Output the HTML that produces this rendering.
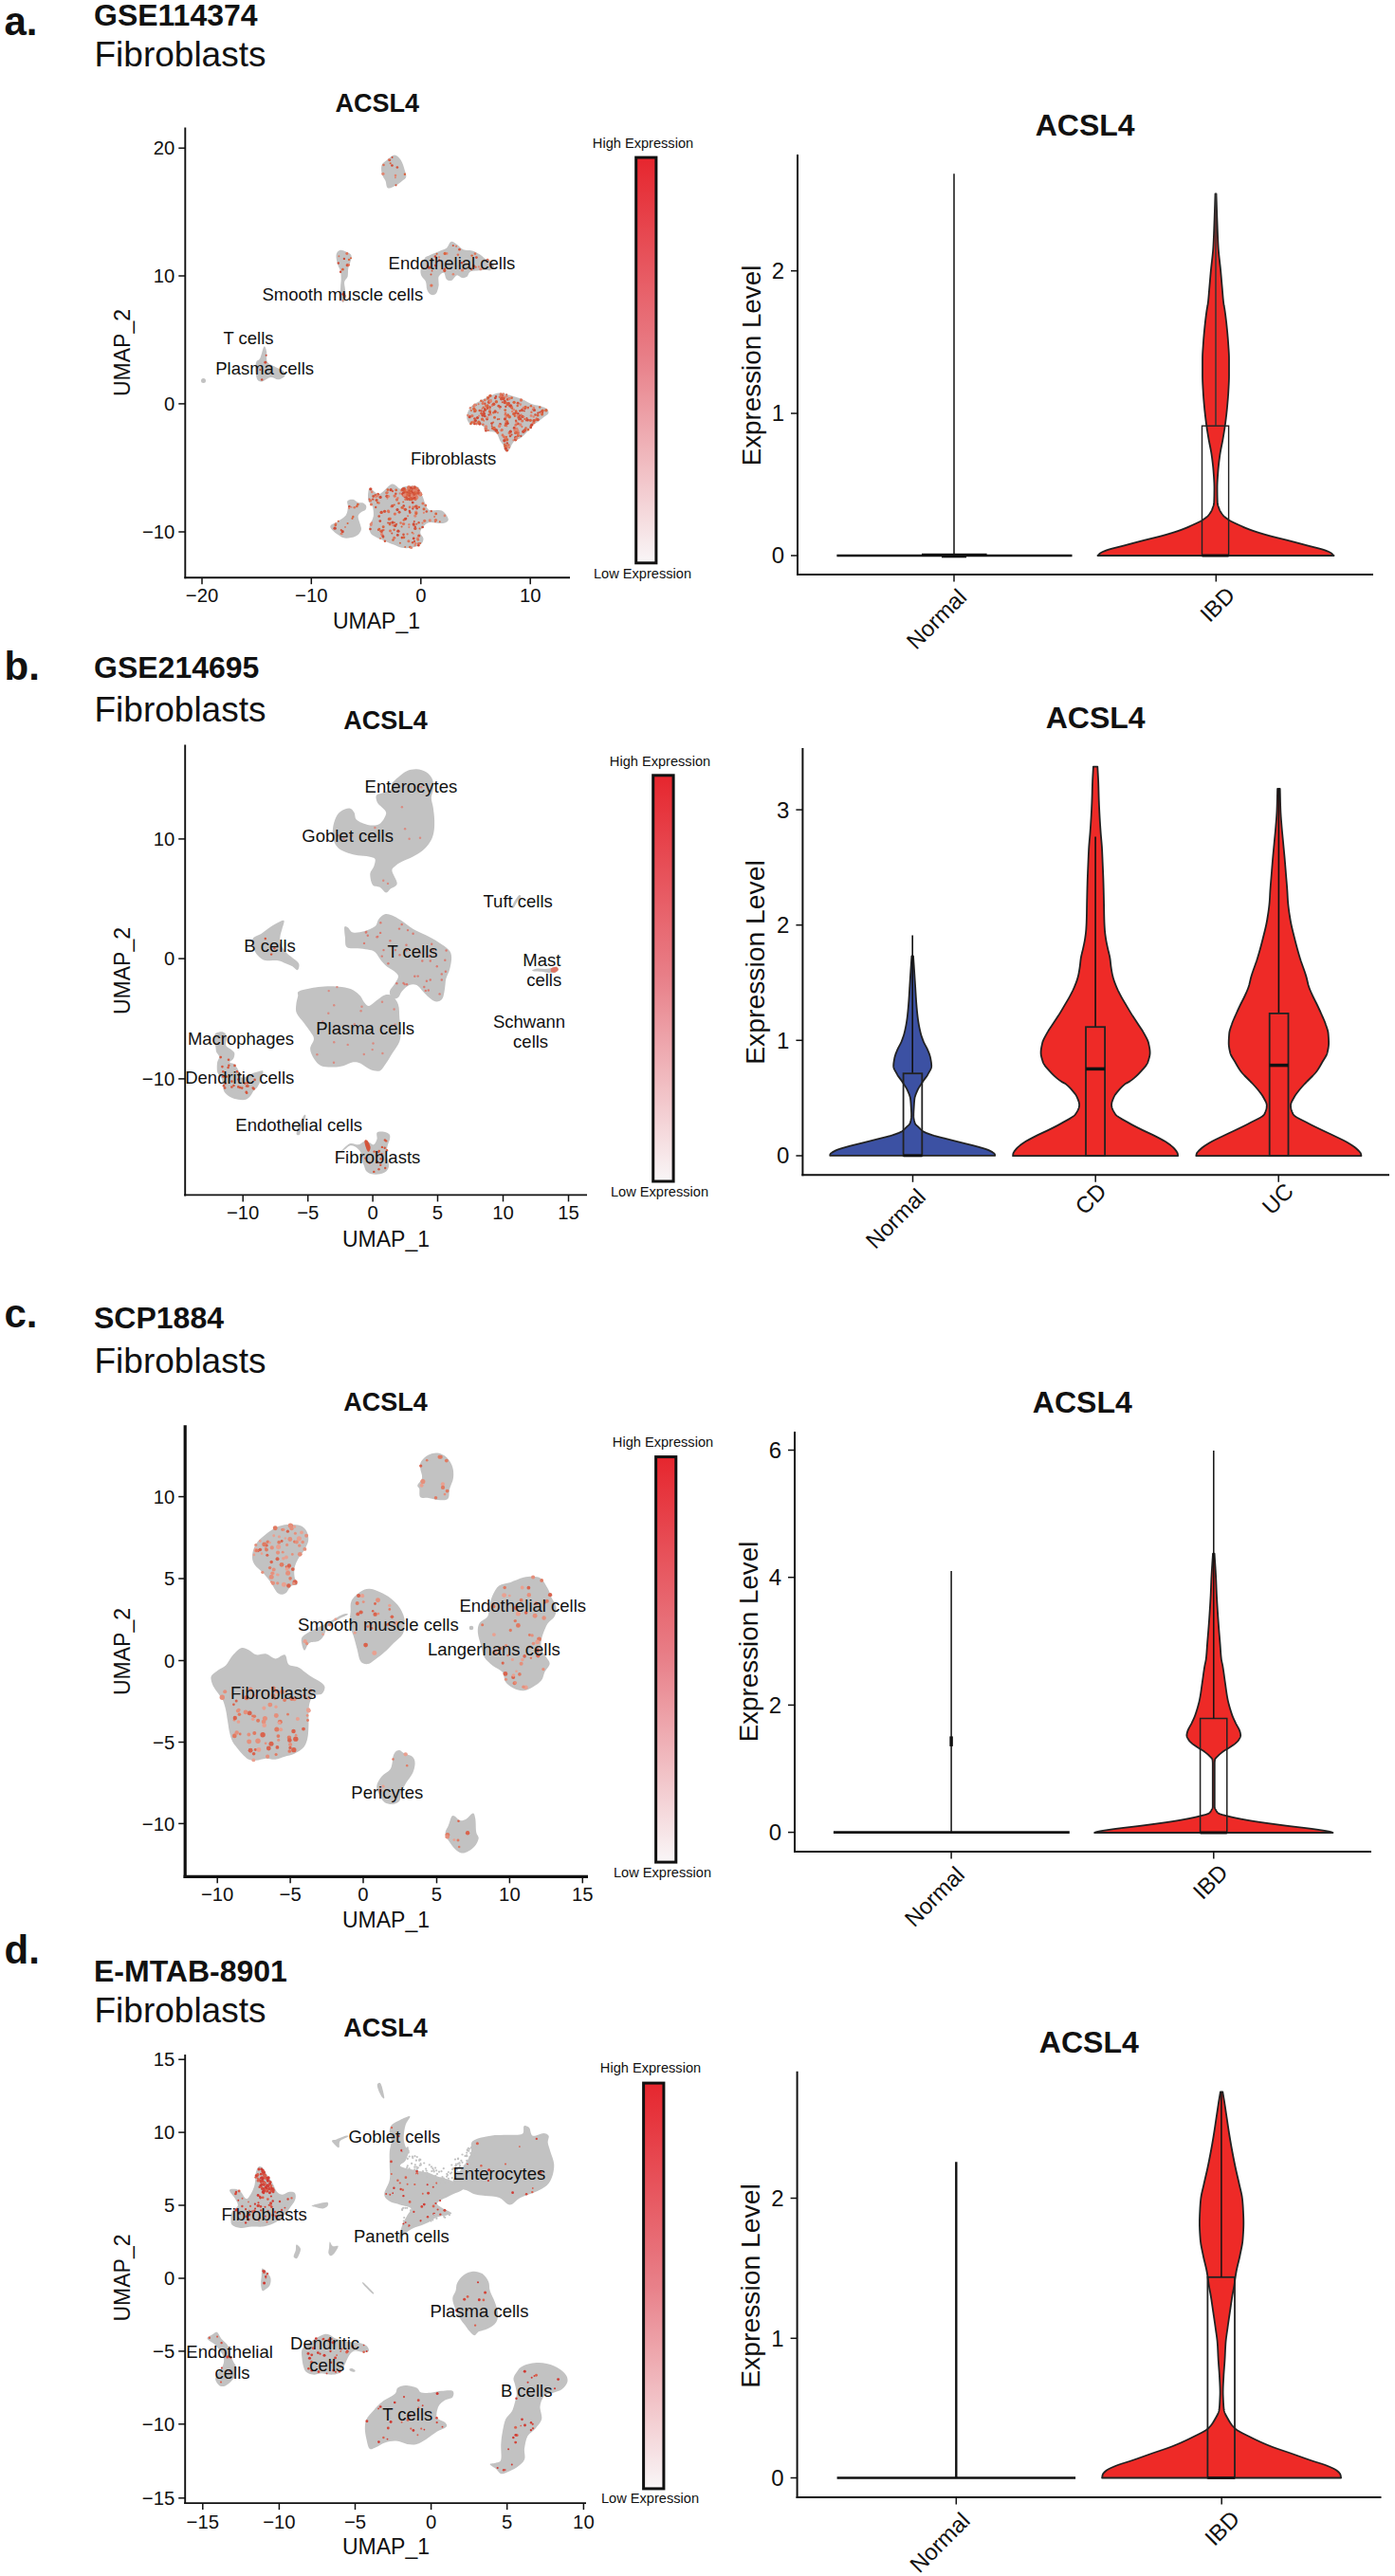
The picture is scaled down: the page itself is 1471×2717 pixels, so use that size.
<!DOCTYPE html>
<html><head><meta charset="utf-8"><style>
html,body{margin:0;padding:0;background:#fff;}
svg{display:block;font-family:"Liberation Sans", sans-serif;}
</style></head><body>
<svg width="1471" height="2717" viewBox="0 0 1471 2717">
<rect width="1471" height="2717" fill="#fff"/>
<text x="4.5" y="36.9" font-size="42" font-weight="bold" text-anchor="start" fill="#111111">a.</text>
<text x="99.0" y="27.2" font-size="32" font-weight="bold" text-anchor="start" fill="#111111">GSE114374</text>
<text x="99.5" y="69.5" font-size="37" text-anchor="start" fill="#111111">Fibroblasts</text>
<line x1="195.3" y1="134.4" x2="195.3" y2="610.2" stroke="#111111" stroke-width="1.9"/>
<line x1="194.4" y1="609.2" x2="601.0" y2="609.2" stroke="#111111" stroke-width="1.9"/>
<line x1="188.3" y1="156.2" x2="195.3" y2="156.2" stroke="#111111" stroke-width="1.5"/>
<text x="184.3" y="163.4" font-size="20.3" text-anchor="end" fill="#111111">20</text>
<line x1="188.3" y1="291.0" x2="195.3" y2="291.0" stroke="#111111" stroke-width="1.5"/>
<text x="184.3" y="298.2" font-size="20.3" text-anchor="end" fill="#111111">10</text>
<line x1="188.3" y1="425.9" x2="195.3" y2="425.9" stroke="#111111" stroke-width="1.5"/>
<text x="184.3" y="433.1" font-size="20.3" text-anchor="end" fill="#111111">0</text>
<line x1="188.3" y1="561.0" x2="195.3" y2="561.0" stroke="#111111" stroke-width="1.5"/>
<text x="184.3" y="568.2" font-size="20.3" text-anchor="end" fill="#111111">−10</text>
<line x1="213.0" y1="609.2" x2="213.0" y2="616.2" stroke="#111111" stroke-width="1.5"/>
<text x="213.0" y="634.5" font-size="20.3" text-anchor="middle" fill="#111111">−20</text>
<line x1="328.3" y1="609.2" x2="328.3" y2="616.2" stroke="#111111" stroke-width="1.5"/>
<text x="328.3" y="634.5" font-size="20.3" text-anchor="middle" fill="#111111">−10</text>
<line x1="443.8" y1="609.2" x2="443.8" y2="616.2" stroke="#111111" stroke-width="1.5"/>
<text x="443.8" y="634.5" font-size="20.3" text-anchor="middle" fill="#111111">0</text>
<line x1="559.2" y1="609.2" x2="559.2" y2="616.2" stroke="#111111" stroke-width="1.5"/>
<text x="559.2" y="634.5" font-size="20.3" text-anchor="middle" fill="#111111">10</text>
<text x="397.0" y="662.9" font-size="23" text-anchor="middle" fill="#111111">UMAP_1</text>
<text x="137.0" y="372.0" font-size="23" text-anchor="middle" transform="rotate(-90 137.0 372.0)" fill="#111111">UMAP_2</text>
<text x="397.8" y="117.7" font-size="27" font-weight="bold" text-anchor="middle" fill="#111111">ACSL4</text>
<defs><linearGradient id="g24" x1="0" y1="0" x2="0" y2="1"><stop offset="0" stop-color="#e6262e"/><stop offset="0.5" stop-color="#e88089"/><stop offset="1" stop-color="#f9f6f7"/></linearGradient></defs>
<rect x="670.7" y="166.1" width="21.2" height="427.7" fill="url(#g24)" stroke="#111" stroke-width="3"/>
<text x="678.0" y="155.6" font-size="14.6" text-anchor="middle" fill="#111111">High Expression</text>
<text x="677.5" y="609.6" font-size="14.6" text-anchor="middle" fill="#111111">Low Expression</text>
<path d="M402.4,174.4 C403.2,171.9 405.5,170.8 407.8,169.0 C410.1,167.2 413.5,163.5 416.0,163.5 C418.5,163.5 421.0,166.3 422.8,169.0 C424.6,171.7 426.0,176.9 426.9,179.9 C427.8,182.8 428.7,184.9 428.2,186.7 C427.8,188.5 425.8,189.4 424.2,190.8 C422.6,192.2 421.2,193.6 418.7,194.9 C416.2,196.1 411.2,199.1 409.2,198.4 C407.1,197.7 407.5,193.2 406.5,190.8 C405.4,188.4 403.6,186.7 402.9,184.0 C402.2,181.3 401.6,176.9 402.4,174.4Z" fill="#c2c2c2"/>
<g><circle cx="410.8" cy="168.8" r="1.42" fill="#d4553c"/><circle cx="417.5" cy="195.3" r="1.08" fill="#d4553c"/><circle cx="413.6" cy="166.0" r="0.98" fill="#cf4a36"/><circle cx="403.9" cy="183.3" r="1.65" fill="#e08570"/><circle cx="426.9" cy="183.7" r="1.22" fill="#d9643f"/><circle cx="409.9" cy="168.6" r="1.00" fill="#de7358"/><circle cx="416.9" cy="187.3" r="0.99" fill="#e08570"/><circle cx="418.9" cy="176.5" r="1.34" fill="#d4553c"/><circle cx="417.0" cy="185.1" r="1.30" fill="#e08570"/><circle cx="413.4" cy="174.5" r="1.37" fill="#cf4a36"/><circle cx="411.7" cy="172.2" r="1.05" fill="#d9643f"/><circle cx="404.5" cy="174.0" r="1.30" fill="#de7358"/></g>
<path d="M355.0,267.2 C355.7,265.8 357.0,263.9 359.1,263.8 C361.1,263.7 365.3,265.5 367.2,266.6 C369.2,267.6 370.3,268.3 370.6,270.0 C371.0,271.7 369.9,274.5 369.3,276.8 C368.7,279.0 367.7,281.1 367.2,283.6 C366.8,286.1 367.2,289.5 366.6,291.8 C365.9,294.0 363.6,295.2 363.2,297.2 C362.7,299.2 363.6,301.3 363.8,304.0 C364.1,306.7 364.9,311.1 364.5,313.5 C364.2,316.0 362.7,319.0 361.8,319.0 C360.9,319.0 359.5,316.3 359.1,313.5 C358.6,310.8 359.0,305.8 359.1,302.7 C359.2,299.5 359.7,297.2 359.7,294.5 C359.7,291.8 359.6,288.8 359.1,286.3 C358.5,283.8 357.1,281.8 356.3,279.5 C355.6,277.2 354.9,274.7 354.7,272.7 C354.5,270.6 354.3,268.7 355.0,267.2Z" fill="#c2c2c2"/>
<g><circle cx="366.3" cy="279.7" r="1.67" fill="#d4553c"/><circle cx="362.9" cy="272.9" r="1.18" fill="#cf4a36"/><circle cx="361.4" cy="316.9" r="0.97" fill="#e08570"/><circle cx="363.8" cy="312.1" r="1.15" fill="#de7358"/><circle cx="362.0" cy="310.2" r="1.65" fill="#cf4a36"/><circle cx="365.8" cy="267.4" r="1.48" fill="#de7358"/><circle cx="367.8" cy="279.5" r="1.21" fill="#de7358"/><circle cx="357.4" cy="270.3" r="0.96" fill="#de7358"/><circle cx="356.8" cy="277.5" r="1.21" fill="#cf4a36"/><circle cx="363.5" cy="312.6" r="1.55" fill="#e08570"/><circle cx="359.1" cy="286.7" r="1.19" fill="#cf4a36"/><circle cx="370.0" cy="272.2" r="1.05" fill="#d9643f"/><circle cx="368.0" cy="273.9" r="1.13" fill="#d9643f"/><circle cx="361.4" cy="284.2" r="1.35" fill="#d9643f"/></g>
<path d="M443.5,284.9 C444.0,281.8 446.0,275.3 447.6,272.7 C449.2,270.1 450.6,270.5 453.0,269.3 C455.5,268.0 459.6,266.4 462.6,265.2 C465.5,263.9 468.6,263.5 470.8,261.8 C472.9,260.1 473.7,255.7 475.5,255.0 C477.3,254.3 479.5,256.3 481.7,257.7 C483.8,259.1 485.7,262.0 488.5,263.2 C491.2,264.3 495.0,263.6 498.0,264.5 C500.9,265.4 503.9,267.2 506.2,268.6 C508.4,270.0 509.8,271.6 511.6,272.7 C513.4,273.8 515.5,274.1 517.1,275.4 C518.7,276.8 521.1,279.3 521.1,280.9 C521.1,282.4 518.9,284.3 517.1,284.9 C515.2,285.6 513.7,284.7 510.3,284.9 C506.8,285.2 499.6,285.2 496.6,286.3 C493.7,287.4 494.1,290.6 492.5,291.8 C491.0,292.9 488.9,293.3 487.1,293.1 C485.3,292.9 483.5,289.9 481.7,290.4 C479.8,290.8 478.0,295.2 476.2,295.8 C474.4,296.5 472.1,295.8 470.8,294.5 C469.4,293.1 469.4,288.1 468.0,287.7 C466.7,287.2 463.5,289.5 462.6,291.8 C461.7,294.0 463.0,298.3 462.6,301.3 C462.1,304.2 461.2,307.9 459.9,309.5 C458.5,311.1 456.0,311.5 454.4,310.8 C452.8,310.1 451.2,307.6 450.3,305.4 C449.4,303.1 449.9,299.5 449.0,297.2 C448.1,294.9 445.8,293.8 444.9,291.8 C444.0,289.7 443.1,288.1 443.5,284.9Z" fill="#c2c2c2"/>
<g><circle cx="497.1" cy="283.8" r="1.39" fill="#d4553c"/><circle cx="486.9" cy="277.2" r="1.22" fill="#cf4a36"/><circle cx="456.1" cy="274.0" r="0.95" fill="#d4553c"/><circle cx="487.5" cy="284.9" r="1.65" fill="#e08570"/><circle cx="463.1" cy="274.4" r="1.19" fill="#d4553c"/><circle cx="452.5" cy="282.2" r="1.67" fill="#cf4a36"/><circle cx="481.1" cy="259.8" r="0.99" fill="#de7358"/><circle cx="501.0" cy="281.7" r="1.45" fill="#e08570"/><circle cx="484.5" cy="263.2" r="1.33" fill="#d4553c"/><circle cx="502.4" cy="271.6" r="1.41" fill="#d4553c"/><circle cx="497.6" cy="269.6" r="1.20" fill="#d9643f"/><circle cx="471.1" cy="267.4" r="1.33" fill="#e08570"/><circle cx="469.1" cy="267.4" r="1.54" fill="#d9643f"/><circle cx="501.0" cy="267.6" r="1.31" fill="#de7358"/><circle cx="504.9" cy="281.4" r="1.06" fill="#e08570"/><circle cx="517.8" cy="280.0" r="1.64" fill="#de7358"/><circle cx="460.6" cy="267.7" r="1.06" fill="#d9643f"/><circle cx="514.1" cy="274.2" r="1.41" fill="#d4553c"/><circle cx="501.8" cy="281.7" r="1.05" fill="#de7358"/><circle cx="499.6" cy="280.8" r="1.49" fill="#d4553c"/><circle cx="454.9" cy="301.1" r="1.67" fill="#de7358"/><circle cx="455.6" cy="285.6" r="0.93" fill="#d4553c"/><circle cx="463.1" cy="271.3" r="1.10" fill="#e08570"/><circle cx="468.8" cy="285.4" r="1.56" fill="#d4553c"/><circle cx="514.2" cy="274.7" r="1.27" fill="#e08570"/><circle cx="506.8" cy="283.8" r="1.56" fill="#e08570"/><circle cx="454.5" cy="289.6" r="1.00" fill="#d4553c"/><circle cx="468.8" cy="283.9" r="1.34" fill="#d4553c"/><circle cx="451.1" cy="280.2" r="0.93" fill="#d4553c"/><circle cx="477.9" cy="289.2" r="1.30" fill="#e08570"/><circle cx="459.0" cy="270.5" r="1.31" fill="#cf4a36"/><circle cx="482.9" cy="268.8" r="1.32" fill="#de7358"/><circle cx="459.2" cy="280.0" r="1.23" fill="#cf4a36"/><circle cx="477.8" cy="259.0" r="1.10" fill="#d4553c"/><circle cx="460.0" cy="271.9" r="1.01" fill="#d9643f"/></g>
<path d="M270.3,381.8 C271.1,379.5 273.0,380.4 274.3,377.7 C275.7,374.9 277.3,366.5 278.4,365.4 C279.6,364.3 280.6,368.1 281.1,370.9 C281.7,373.6 280.4,379.0 282.0,381.8 C283.6,384.5 287.9,385.6 290.7,387.2 C293.5,388.8 297.3,389.7 298.9,391.3 C300.4,392.9 301.1,395.2 300.2,396.7 C299.3,398.2 295.9,400.1 293.4,400.3 C290.9,400.5 288.0,397.8 285.2,398.1 C282.5,398.4 279.3,401.7 277.1,402.2 C274.8,402.6 272.9,402.6 271.6,400.8 C270.3,399.0 269.7,394.5 269.4,391.3 C269.2,388.1 269.4,384.0 270.3,381.8Z" fill="#c2c2c2"/>
<g><circle cx="280.7" cy="374.7" r="1.02" fill="#cf4a36"/><circle cx="276.2" cy="400.4" r="1.22" fill="#cf4a36"/><circle cx="274.4" cy="390.0" r="1.08" fill="#cf4a36"/><circle cx="279.8" cy="382.3" r="1.46" fill="#cf4a36"/></g>
<circle cx="214.5" cy="401.5" r="2.5" fill="#c2c2c2"/>
<path d="M492.6,437.1 C493.1,435.0 494.5,431.8 495.8,430.0 C497.1,428.1 498.5,427.3 500.5,426.0 C502.5,424.7 505.5,423.3 507.6,422.1 C509.7,420.9 511.2,419.8 513.1,418.9 C515.1,418.0 517.3,417.3 519.4,416.6 C521.5,415.8 523.4,414.7 525.7,414.6 C528.1,414.5 531.0,415.2 533.6,415.8 C536.3,416.4 538.9,417.4 541.5,418.1 C544.1,418.9 547.0,419.6 549.4,420.5 C551.8,421.4 553.5,422.6 555.7,423.7 C557.9,424.7 560.3,426.0 562.8,426.8 C565.3,427.6 568.3,427.6 570.7,428.4 C573.1,429.2 575.8,430.2 577.0,431.5 C578.3,432.9 578.8,434.8 578.2,436.3 C577.5,437.7 574.7,438.9 573.1,440.2 C571.4,441.5 569.9,443.0 568.3,444.2 C566.8,445.3 565.2,446.0 563.6,447.3 C562.0,448.6 560.4,450.3 558.9,452.1 C557.3,453.8 555.8,455.9 554.1,457.6 C552.4,459.3 550.5,461.1 548.6,462.3 C546.8,463.5 544.5,463.6 543.1,464.7 C541.6,465.7 541.0,466.9 539.9,468.6 C538.9,470.3 538.0,473.7 536.8,474.9 C535.6,476.1 533.9,476.6 532.8,475.7 C531.8,474.8 531.4,471.2 530.5,469.4 C529.6,467.6 528.5,466.8 527.3,464.7 C526.1,462.6 525.1,458.4 523.4,456.8 C521.7,455.2 518.9,455.6 517.1,455.2 C515.2,454.8 513.5,455.2 512.3,454.4 C511.2,453.6 511.2,451.7 510.0,450.5 C508.8,449.3 506.9,447.8 505.2,447.3 C503.5,446.8 501.3,447.3 499.7,447.3 C498.1,447.3 497.0,448.1 495.8,447.3 C494.6,446.5 493.1,444.3 492.6,442.6 C492.1,440.9 492.1,439.2 492.6,437.1Z" fill="#c2c2c2"/>
<g><circle cx="521.0" cy="452.7" r="1.36" fill="#d4553c"/><circle cx="499.8" cy="431.2" r="1.68" fill="#d9643f"/><circle cx="515.8" cy="422.5" r="1.29" fill="#de7358"/><circle cx="527.4" cy="447.4" r="1.36" fill="#cf4a36"/><circle cx="529.0" cy="419.0" r="1.71" fill="#d4553c"/><circle cx="566.4" cy="442.3" r="1.22" fill="#e08570"/><circle cx="546.4" cy="447.0" r="1.11" fill="#cf4a36"/><circle cx="535.4" cy="425.5" r="1.23" fill="#d4553c"/><circle cx="513.6" cy="441.9" r="1.48" fill="#cf4a36"/><circle cx="548.8" cy="448.0" r="1.66" fill="#e08570"/><circle cx="519.0" cy="427.7" r="1.13" fill="#d9643f"/><circle cx="547.0" cy="439.3" r="1.23" fill="#d4553c"/><circle cx="529.5" cy="418.0" r="1.48" fill="#cf4a36"/><circle cx="516.7" cy="429.4" r="1.18" fill="#cf4a36"/><circle cx="508.5" cy="431.0" r="0.95" fill="#de7358"/><circle cx="539.4" cy="429.5" r="1.73" fill="#de7358"/><circle cx="511.3" cy="425.8" r="1.22" fill="#d4553c"/><circle cx="533.2" cy="445.3" r="1.11" fill="#e08570"/><circle cx="542.8" cy="438.7" r="1.19" fill="#d9643f"/><circle cx="543.7" cy="461.3" r="1.53" fill="#cf4a36"/><circle cx="546.3" cy="459.4" r="1.60" fill="#d9643f"/><circle cx="541.3" cy="464.3" r="0.96" fill="#e08570"/><circle cx="524.8" cy="442.2" r="0.99" fill="#d4553c"/><circle cx="546.2" cy="456.2" r="1.34" fill="#d4553c"/><circle cx="531.7" cy="418.9" r="1.70" fill="#e08570"/><circle cx="500.5" cy="446.7" r="1.55" fill="#cf4a36"/><circle cx="514.2" cy="419.1" r="1.16" fill="#d9643f"/><circle cx="512.4" cy="454.3" r="1.32" fill="#cf4a36"/><circle cx="517.2" cy="417.4" r="1.46" fill="#d9643f"/><circle cx="518.7" cy="449.3" r="0.96" fill="#d4553c"/><circle cx="534.2" cy="474.0" r="1.03" fill="#d9643f"/><circle cx="550.4" cy="432.4" r="1.36" fill="#cf4a36"/><circle cx="532.5" cy="461.5" r="1.75" fill="#e08570"/><circle cx="531.9" cy="464.7" r="1.73" fill="#cf4a36"/><circle cx="556.6" cy="430.6" r="1.24" fill="#e08570"/><circle cx="562.8" cy="445.7" r="1.66" fill="#de7358"/><circle cx="534.2" cy="416.1" r="0.95" fill="#cf4a36"/><circle cx="550.9" cy="439.4" r="1.53" fill="#cf4a36"/><circle cx="522.1" cy="433.9" r="1.63" fill="#d4553c"/><circle cx="520.4" cy="435.3" r="1.27" fill="#d9643f"/><circle cx="517.4" cy="437.3" r="1.26" fill="#e08570"/><circle cx="516.6" cy="417.7" r="1.48" fill="#d9643f"/><circle cx="514.0" cy="430.8" r="1.36" fill="#d9643f"/><circle cx="529.2" cy="416.4" r="1.56" fill="#cf4a36"/><circle cx="539.6" cy="458.6" r="0.99" fill="#cf4a36"/><circle cx="531.2" cy="460.6" r="1.47" fill="#de7358"/><circle cx="534.2" cy="470.3" r="1.39" fill="#d9643f"/><circle cx="533.0" cy="435.6" r="1.19" fill="#de7358"/><circle cx="527.4" cy="429.2" r="1.34" fill="#cf4a36"/><circle cx="499.1" cy="445.2" r="1.60" fill="#e08570"/><circle cx="504.6" cy="426.3" r="1.02" fill="#de7358"/><circle cx="540.2" cy="434.1" r="1.24" fill="#e08570"/><circle cx="567.1" cy="438.0" r="1.55" fill="#d9643f"/><circle cx="524.9" cy="435.3" r="1.00" fill="#de7358"/><circle cx="541.8" cy="436.6" r="1.50" fill="#e08570"/><circle cx="511.1" cy="431.2" r="1.15" fill="#cf4a36"/><circle cx="547.9" cy="441.0" r="1.20" fill="#d4553c"/><circle cx="503.5" cy="440.6" r="1.56" fill="#cf4a36"/><circle cx="532.7" cy="442.0" r="1.58" fill="#d9643f"/><circle cx="505.8" cy="446.5" r="1.50" fill="#cf4a36"/><circle cx="546.2" cy="446.9" r="1.30" fill="#d4553c"/><circle cx="501.1" cy="432.9" r="1.71" fill="#d9643f"/><circle cx="525.8" cy="428.3" r="1.43" fill="#d4553c"/><circle cx="516.5" cy="433.9" r="1.62" fill="#d9643f"/><circle cx="533.3" cy="428.9" r="1.15" fill="#cf4a36"/><circle cx="552.9" cy="433.4" r="0.96" fill="#cf4a36"/><circle cx="499.6" cy="428.5" r="1.29" fill="#de7358"/><circle cx="521.5" cy="440.3" r="1.50" fill="#d9643f"/><circle cx="535.0" cy="426.8" r="1.57" fill="#d9643f"/><circle cx="512.4" cy="428.1" r="1.56" fill="#de7358"/><circle cx="534.1" cy="470.2" r="0.99" fill="#e08570"/><circle cx="505.1" cy="438.6" r="1.12" fill="#e08570"/><circle cx="497.8" cy="438.6" r="1.67" fill="#de7358"/><circle cx="572.3" cy="434.7" r="1.10" fill="#e08570"/><circle cx="549.5" cy="437.7" r="1.25" fill="#de7358"/><circle cx="530.5" cy="421.2" r="1.01" fill="#d4553c"/><circle cx="510.4" cy="436.4" r="1.61" fill="#cf4a36"/><circle cx="509.4" cy="447.7" r="1.31" fill="#de7358"/><circle cx="495.2" cy="439.7" r="1.60" fill="#cf4a36"/><circle cx="569.5" cy="435.3" r="1.17" fill="#e08570"/><circle cx="543.6" cy="463.8" r="1.71" fill="#d4553c"/><circle cx="533.3" cy="473.1" r="1.72" fill="#cf4a36"/><circle cx="572.3" cy="433.1" r="1.51" fill="#d9643f"/><circle cx="544.6" cy="434.6" r="1.20" fill="#de7358"/><circle cx="559.7" cy="451.0" r="1.36" fill="#cf4a36"/><circle cx="557.0" cy="429.7" r="1.00" fill="#d4553c"/><circle cx="533.8" cy="447.9" r="1.08" fill="#cf4a36"/><circle cx="515.3" cy="419.7" r="1.02" fill="#cf4a36"/><circle cx="507.4" cy="422.7" r="1.32" fill="#d9643f"/><circle cx="549.5" cy="422.0" r="1.63" fill="#de7358"/><circle cx="516.5" cy="430.9" r="1.15" fill="#de7358"/><circle cx="509.7" cy="429.7" r="1.14" fill="#d9643f"/><circle cx="514.2" cy="429.6" r="1.37" fill="#d4553c"/><circle cx="501.4" cy="443.6" r="1.61" fill="#cf4a36"/><circle cx="517.7" cy="421.9" r="1.10" fill="#e08570"/><circle cx="536.5" cy="425.5" r="1.43" fill="#d4553c"/><circle cx="545.7" cy="427.9" r="1.24" fill="#d9643f"/><circle cx="562.7" cy="439.6" r="1.25" fill="#e08570"/><circle cx="519.3" cy="427.0" r="1.59" fill="#e08570"/><circle cx="534.0" cy="439.5" r="1.59" fill="#e08570"/><circle cx="505.8" cy="447.2" r="1.47" fill="#cf4a36"/><circle cx="552.1" cy="439.6" r="1.17" fill="#de7358"/><circle cx="528.4" cy="417.7" r="1.55" fill="#de7358"/><circle cx="528.1" cy="415.7" r="1.57" fill="#de7358"/><circle cx="547.8" cy="438.5" r="1.27" fill="#d4553c"/><circle cx="529.8" cy="424.2" r="1.04" fill="#d4553c"/><circle cx="532.1" cy="424.5" r="0.96" fill="#e08570"/><circle cx="526.6" cy="449.6" r="1.70" fill="#e08570"/><circle cx="507.3" cy="435.9" r="1.08" fill="#d9643f"/><circle cx="534.6" cy="463.8" r="1.73" fill="#d9643f"/><circle cx="519.5" cy="451.7" r="1.46" fill="#d4553c"/><circle cx="559.9" cy="428.2" r="1.27" fill="#d9643f"/><circle cx="511.3" cy="439.0" r="1.36" fill="#cf4a36"/><circle cx="523.4" cy="423.7" r="1.73" fill="#d9643f"/><circle cx="543.9" cy="448.2" r="1.45" fill="#de7358"/><circle cx="548.2" cy="433.4" r="1.15" fill="#cf4a36"/><circle cx="549.0" cy="441.9" r="1.30" fill="#d4553c"/><circle cx="532.4" cy="441.9" r="1.45" fill="#cf4a36"/><circle cx="526.9" cy="418.7" r="1.24" fill="#de7358"/><circle cx="500.5" cy="441.6" r="1.36" fill="#d4553c"/><circle cx="571.5" cy="433.8" r="1.53" fill="#d4553c"/><circle cx="497.3" cy="445.4" r="1.25" fill="#d9643f"/><circle cx="545.2" cy="456.9" r="1.03" fill="#d9643f"/><circle cx="504.9" cy="445.3" r="1.69" fill="#d9643f"/><circle cx="543.3" cy="452.2" r="1.14" fill="#de7358"/><circle cx="502.5" cy="447.0" r="1.46" fill="#de7358"/><circle cx="537.2" cy="456.7" r="1.67" fill="#de7358"/><circle cx="542.0" cy="436.6" r="1.56" fill="#cf4a36"/><circle cx="512.3" cy="452.2" r="1.72" fill="#de7358"/><circle cx="562.8" cy="430.1" r="1.46" fill="#e08570"/><circle cx="511.6" cy="432.4" r="1.45" fill="#cf4a36"/><circle cx="536.5" cy="469.3" r="1.05" fill="#d9643f"/><circle cx="518.6" cy="446.6" r="1.38" fill="#cf4a36"/><circle cx="542.6" cy="450.6" r="1.11" fill="#e08570"/><circle cx="553.2" cy="442.1" r="1.00" fill="#d9643f"/><circle cx="527.0" cy="430.7" r="0.95" fill="#e08570"/><circle cx="542.1" cy="451.4" r="1.36" fill="#cf4a36"/><circle cx="496.4" cy="447.1" r="1.27" fill="#d9643f"/><circle cx="548.8" cy="426.6" r="1.28" fill="#e08570"/><circle cx="544.7" cy="445.6" r="1.46" fill="#e08570"/><circle cx="507.6" cy="433.5" r="1.19" fill="#d4553c"/><circle cx="533.5" cy="447.5" r="1.25" fill="#cf4a36"/><circle cx="556.4" cy="443.0" r="1.55" fill="#cf4a36"/><circle cx="515.0" cy="454.0" r="1.04" fill="#de7358"/><circle cx="553.5" cy="430.8" r="1.39" fill="#cf4a36"/><circle cx="575.8" cy="432.7" r="1.70" fill="#d9643f"/><circle cx="499.9" cy="445.6" r="1.08" fill="#d9643f"/><circle cx="509.0" cy="438.3" r="1.43" fill="#cf4a36"/><circle cx="551.9" cy="455.2" r="1.74" fill="#cf4a36"/><circle cx="533.0" cy="447.0" r="0.95" fill="#d4553c"/><circle cx="530.0" cy="458.9" r="1.41" fill="#de7358"/><circle cx="560.1" cy="438.5" r="1.42" fill="#e08570"/><circle cx="572.1" cy="435.7" r="1.06" fill="#d4553c"/><circle cx="538.3" cy="455.2" r="1.66" fill="#cf4a36"/><circle cx="501.8" cy="427.2" r="1.04" fill="#d4553c"/><circle cx="556.9" cy="453.2" r="1.33" fill="#d9643f"/><circle cx="510.2" cy="434.1" r="1.29" fill="#d4553c"/><circle cx="544.1" cy="443.7" r="1.18" fill="#d4553c"/><circle cx="537.0" cy="420.6" r="1.32" fill="#d4553c"/><circle cx="538.6" cy="427.8" r="1.64" fill="#d4553c"/><circle cx="541.8" cy="432.1" r="1.30" fill="#e08570"/><circle cx="534.6" cy="444.6" r="1.59" fill="#d9643f"/><circle cx="542.1" cy="424.3" r="1.61" fill="#d9643f"/><circle cx="535.3" cy="421.3" r="1.46" fill="#d4553c"/><circle cx="534.6" cy="475.2" r="1.40" fill="#d4553c"/><circle cx="546.3" cy="436.3" r="1.27" fill="#cf4a36"/><circle cx="528.7" cy="454.1" r="1.25" fill="#de7358"/><circle cx="535.5" cy="437.8" r="1.66" fill="#d9643f"/><circle cx="543.5" cy="456.7" r="1.44" fill="#d4553c"/><circle cx="522.4" cy="434.6" r="1.07" fill="#cf4a36"/><circle cx="549.3" cy="459.9" r="1.08" fill="#cf4a36"/><circle cx="551.6" cy="430.3" r="1.13" fill="#de7358"/><circle cx="532.2" cy="468.7" r="1.14" fill="#d9643f"/><circle cx="554.5" cy="451.4" r="1.23" fill="#d9643f"/><circle cx="520.7" cy="426.2" r="1.73" fill="#d4553c"/><circle cx="509.3" cy="423.8" r="1.07" fill="#de7358"/><circle cx="555.4" cy="441.2" r="1.10" fill="#d4553c"/><circle cx="565.7" cy="441.3" r="1.13" fill="#de7358"/><circle cx="532.3" cy="423.3" r="1.43" fill="#cf4a36"/><circle cx="542.9" cy="454.1" r="1.63" fill="#e08570"/><circle cx="547.5" cy="442.3" r="1.20" fill="#d4553c"/><circle cx="569.2" cy="429.4" r="1.27" fill="#d9643f"/><circle cx="514.0" cy="440.5" r="1.31" fill="#e08570"/><circle cx="569.2" cy="434.6" r="0.95" fill="#cf4a36"/><circle cx="514.1" cy="427.9" r="1.53" fill="#d9643f"/><circle cx="537.0" cy="420.8" r="1.41" fill="#e08570"/><circle cx="510.2" cy="443.7" r="0.96" fill="#de7358"/><circle cx="537.3" cy="439.7" r="1.71" fill="#d9643f"/><circle cx="536.6" cy="471.6" r="1.54" fill="#e08570"/><circle cx="523.0" cy="418.1" r="1.17" fill="#cf4a36"/><circle cx="550.4" cy="450.1" r="1.03" fill="#de7358"/><circle cx="537.7" cy="428.0" r="1.59" fill="#cf4a36"/><circle cx="532.2" cy="424.6" r="1.70" fill="#d4553c"/><circle cx="532.8" cy="448.9" r="1.13" fill="#d9643f"/><circle cx="522.8" cy="453.6" r="1.61" fill="#cf4a36"/><circle cx="532.7" cy="432.6" r="1.39" fill="#d9643f"/><circle cx="559.3" cy="443.3" r="1.58" fill="#d9643f"/><circle cx="515.5" cy="437.6" r="1.15" fill="#cf4a36"/><circle cx="550.7" cy="444.0" r="1.60" fill="#de7358"/><circle cx="523.2" cy="454.6" r="1.20" fill="#cf4a36"/><circle cx="529.3" cy="453.5" r="1.48" fill="#de7358"/><circle cx="505.7" cy="433.1" r="1.26" fill="#d4553c"/><circle cx="514.0" cy="420.8" r="1.06" fill="#d9643f"/><circle cx="508.5" cy="442.2" r="1.58" fill="#d9643f"/><circle cx="544.7" cy="462.3" r="1.49" fill="#e08570"/><circle cx="538.0" cy="459.9" r="1.30" fill="#d4553c"/><circle cx="540.1" cy="430.8" r="1.13" fill="#d9643f"/><circle cx="533.1" cy="448.6" r="1.34" fill="#d9643f"/><circle cx="552.6" cy="429.7" r="1.08" fill="#e08570"/><circle cx="564.6" cy="443.2" r="1.40" fill="#de7358"/><circle cx="564.5" cy="437.5" r="1.28" fill="#d4553c"/><circle cx="508.1" cy="436.6" r="1.47" fill="#d4553c"/><circle cx="544.8" cy="456.3" r="1.70" fill="#de7358"/><circle cx="534.0" cy="460.9" r="1.06" fill="#d9643f"/><circle cx="554.1" cy="452.8" r="1.22" fill="#de7358"/><circle cx="516.9" cy="435.5" r="1.15" fill="#d4553c"/><circle cx="563.4" cy="432.5" r="1.62" fill="#cf4a36"/><circle cx="567.3" cy="435.7" r="1.11" fill="#cf4a36"/><circle cx="560.4" cy="434.8" r="1.20" fill="#de7358"/><circle cx="526.7" cy="448.5" r="1.27" fill="#e08570"/><circle cx="496.9" cy="433.0" r="0.95" fill="#d9643f"/><circle cx="563.0" cy="443.6" r="1.57" fill="#d4553c"/><circle cx="545.0" cy="452.3" r="1.45" fill="#e08570"/><circle cx="546.1" cy="425.2" r="1.48" fill="#d4553c"/><circle cx="528.7" cy="420.7" r="1.70" fill="#d4553c"/><circle cx="559.9" cy="448.9" r="1.15" fill="#de7358"/><circle cx="535.2" cy="446.5" r="1.61" fill="#cf4a36"/><circle cx="530.8" cy="415.5" r="1.26" fill="#e08570"/><circle cx="539.6" cy="419.7" r="1.33" fill="#d9643f"/><circle cx="546.3" cy="440.7" r="0.95" fill="#d4553c"/><circle cx="511.3" cy="422.0" r="1.33" fill="#de7358"/><circle cx="554.2" cy="429.4" r="1.54" fill="#d9643f"/><circle cx="571.6" cy="437.0" r="1.55" fill="#d9643f"/><circle cx="546.4" cy="457.9" r="1.32" fill="#de7358"/><circle cx="545.5" cy="438.4" r="1.20" fill="#e08570"/><circle cx="534.2" cy="418.2" r="1.24" fill="#e08570"/><circle cx="554.9" cy="443.3" r="1.08" fill="#d4553c"/><circle cx="523.7" cy="454.0" r="1.46" fill="#cf4a36"/><circle cx="533.4" cy="462.1" r="1.31" fill="#de7358"/><circle cx="559.8" cy="449.2" r="1.18" fill="#d4553c"/><circle cx="545.8" cy="454.4" r="1.59" fill="#e08570"/><circle cx="521.0" cy="451.6" r="1.74" fill="#d9643f"/><circle cx="544.1" cy="433.5" r="1.29" fill="#d9643f"/><circle cx="524.8" cy="456.4" r="1.43" fill="#d9643f"/><circle cx="561.7" cy="431.9" r="0.95" fill="#de7358"/><circle cx="515.6" cy="424.2" r="1.69" fill="#d4553c"/><circle cx="517.3" cy="423.2" r="1.67" fill="#e08570"/><circle cx="560.8" cy="448.1" r="1.57" fill="#cf4a36"/><circle cx="522.3" cy="419.8" r="1.39" fill="#cf4a36"/><circle cx="544.5" cy="456.0" r="1.32" fill="#d9643f"/><circle cx="493.4" cy="438.1" r="1.38" fill="#e08570"/><circle cx="512.5" cy="450.0" r="1.67" fill="#e08570"/><circle cx="520.1" cy="445.5" r="1.11" fill="#d9643f"/><circle cx="509.1" cy="425.6" r="1.51" fill="#de7358"/><circle cx="542.1" cy="436.5" r="1.58" fill="#d9643f"/><circle cx="534.8" cy="467.5" r="1.25" fill="#cf4a36"/><circle cx="543.7" cy="435.7" r="1.37" fill="#d4553c"/><circle cx="500.7" cy="427.1" r="1.65" fill="#e08570"/><circle cx="534.2" cy="449.3" r="1.16" fill="#de7358"/><circle cx="567.1" cy="442.6" r="1.71" fill="#d4553c"/><circle cx="500.3" cy="434.1" r="1.13" fill="#d4553c"/><circle cx="526.3" cy="442.0" r="1.07" fill="#d9643f"/><circle cx="495.9" cy="430.2" r="1.23" fill="#e08570"/><circle cx="553.3" cy="454.1" r="1.74" fill="#d4553c"/><circle cx="501.3" cy="434.0" r="0.95" fill="#d9643f"/><circle cx="550.5" cy="432.9" r="1.42" fill="#d4553c"/><circle cx="532.9" cy="437.3" r="1.26" fill="#de7358"/><circle cx="533.8" cy="424.9" r="1.14" fill="#d9643f"/><circle cx="532.7" cy="470.4" r="1.59" fill="#d9643f"/><circle cx="530.9" cy="420.5" r="1.70" fill="#d4553c"/></g>
<path d="M348.6,554.2 C349.5,552.6 353.4,551.7 356.1,549.9 C358.8,548.1 362.9,545.9 364.7,543.4 C366.5,540.9 366.6,537.3 366.9,534.8 C367.2,532.3 365.4,529.7 366.3,528.4 C367.2,527.0 370.4,526.5 372.3,526.8 C374.1,527.0 375.8,529.4 377.6,530.0 C379.4,530.6 381.6,529.9 383.0,530.5 C384.4,531.2 385.9,532.5 386.2,533.8 C386.6,535.0 386.1,537.0 385.2,538.1 C384.3,539.1 382.1,539.1 380.9,540.2 C379.6,541.3 377.8,542.4 377.6,544.5 C377.5,546.7 379.2,550.8 379.8,553.1 C380.3,555.4 381.2,556.7 380.9,558.5 C380.5,560.3 379.4,562.4 377.6,563.9 C375.8,565.3 372.8,566.6 370.1,567.1 C367.4,567.6 364.7,568.4 361.5,567.1 C358.3,565.8 352.9,561.7 350.8,559.6 C348.6,557.4 347.7,555.8 348.6,554.2Z" fill="#c2c2c2"/>
<g><circle cx="372.3" cy="545.0" r="1.18" fill="#d9643f"/><circle cx="366.6" cy="552.1" r="1.02" fill="#d9643f"/><circle cx="376.3" cy="534.0" r="1.26" fill="#d9643f"/><circle cx="359.8" cy="559.2" r="1.11" fill="#d4553c"/><circle cx="360.6" cy="563.2" r="1.00" fill="#e08570"/><circle cx="373.8" cy="535.3" r="1.28" fill="#de7358"/><circle cx="353.1" cy="557.2" r="1.67" fill="#cf4a36"/><circle cx="359.5" cy="562.9" r="0.95" fill="#de7358"/><circle cx="354.0" cy="552.6" r="1.25" fill="#e08570"/><circle cx="368.4" cy="534.3" r="1.25" fill="#cf4a36"/><circle cx="356.8" cy="549.8" r="1.02" fill="#d9643f"/><circle cx="368.2" cy="536.1" r="1.05" fill="#e08570"/><circle cx="371.5" cy="546.8" r="1.12" fill="#d9643f"/><circle cx="353.8" cy="553.8" r="1.40" fill="#d9643f"/><circle cx="370.5" cy="534.9" r="0.96" fill="#e08570"/><circle cx="364.0" cy="555.9" r="0.95" fill="#de7358"/><circle cx="361.2" cy="560.7" r="1.58" fill="#cf4a36"/><circle cx="377.3" cy="532.1" r="1.43" fill="#d9643f"/></g>
<path d="M388.4,518.7 C388.7,516.6 388.6,515.1 390.5,515.5 C392.5,515.8 396.5,521.7 400.2,520.9 C404.0,520.1 409.5,511.5 413.1,510.6 C416.7,509.7 419.6,515.0 421.7,515.5 C423.9,515.9 423.0,513.7 426.0,513.3 C429.1,513.0 436.8,511.7 440.0,513.3 C443.2,514.9 443.9,520.0 445.4,523.0 C446.8,526.1 447.3,529.1 448.6,531.6 C449.9,534.1 450.0,536.9 452.9,538.1 C455.8,539.2 462.5,537.0 465.8,538.6 C469.1,540.2 472.6,545.5 472.8,547.7 C473.0,550.0 470.2,551.5 466.9,552.0 C463.6,552.6 456.3,550.4 452.9,551.0 C449.5,551.5 448.1,553.5 446.5,555.3 C444.8,557.1 443.2,559.6 443.2,561.7 C443.2,563.9 446.5,566.0 446.5,568.2 C446.5,570.3 445.4,573.0 443.2,574.6 C441.1,576.2 436.8,577.3 433.5,577.8 C430.3,578.4 426.9,578.4 423.9,577.8 C420.8,577.3 418.9,576.1 415.3,574.6 C411.7,573.2 405.9,570.9 402.4,569.2 C398.8,567.6 395.7,566.2 393.8,564.9 C391.8,563.7 391.3,563.3 390.5,561.7 C389.8,560.1 388.9,558.1 389.5,555.3 C390.0,552.4 393.2,548.1 393.8,544.5 C394.3,540.9 393.6,536.5 392.7,533.8 C391.8,531.1 389.1,530.9 388.4,528.4 C387.7,525.9 388.0,520.9 388.4,518.7Z" fill="#c2c2c2"/>
<g><circle cx="404.1" cy="566.5" r="1.20" fill="#d9643f"/><circle cx="447.7" cy="549.3" r="1.58" fill="#de7358"/><circle cx="432.3" cy="540.6" r="1.31" fill="#d4553c"/><circle cx="418.5" cy="527.1" r="1.56" fill="#de7358"/><circle cx="437.0" cy="571.0" r="1.14" fill="#d4553c"/><circle cx="468.9" cy="543.9" r="1.31" fill="#e08570"/><circle cx="408.9" cy="516.6" r="1.39" fill="#d9643f"/><circle cx="397.1" cy="527.5" r="1.55" fill="#d4553c"/><circle cx="427.5" cy="526.7" r="1.26" fill="#de7358"/><circle cx="392.2" cy="518.9" r="1.30" fill="#e08570"/><circle cx="434.1" cy="525.9" r="1.09" fill="#e08570"/><circle cx="427.4" cy="537.3" r="1.65" fill="#d4553c"/><circle cx="423.9" cy="567.1" r="1.32" fill="#cf4a36"/><circle cx="419.0" cy="537.6" r="1.56" fill="#cf4a36"/><circle cx="459.5" cy="548.6" r="1.68" fill="#de7358"/><circle cx="409.4" cy="539.0" r="1.40" fill="#de7358"/><circle cx="397.6" cy="523.2" r="1.16" fill="#d9643f"/><circle cx="441.8" cy="565.0" r="1.60" fill="#d4553c"/><circle cx="391.3" cy="553.8" r="1.12" fill="#e08570"/><circle cx="411.5" cy="547.1" r="1.63" fill="#e08570"/><circle cx="389.5" cy="526.5" r="0.94" fill="#d4553c"/><circle cx="414.2" cy="554.2" r="1.00" fill="#e08570"/><circle cx="438.2" cy="573.3" r="1.25" fill="#e08570"/><circle cx="399.5" cy="530.4" r="1.23" fill="#de7358"/><circle cx="411.5" cy="560.1" r="1.49" fill="#de7358"/><circle cx="436.5" cy="554.4" r="1.07" fill="#de7358"/><circle cx="427.3" cy="547.5" r="1.39" fill="#cf4a36"/><circle cx="416.6" cy="523.3" r="1.34" fill="#e08570"/><circle cx="421.9" cy="572.8" r="1.04" fill="#d9643f"/><circle cx="415.7" cy="532.5" r="1.12" fill="#d9643f"/><circle cx="413.3" cy="562.5" r="1.03" fill="#d4553c"/><circle cx="439.5" cy="534.0" r="1.42" fill="#e08570"/><circle cx="421.1" cy="540.2" r="1.48" fill="#d4553c"/><circle cx="432.4" cy="577.1" r="1.44" fill="#d9643f"/><circle cx="423.6" cy="555.6" r="1.02" fill="#d9643f"/><circle cx="440.4" cy="567.8" r="1.55" fill="#e08570"/><circle cx="411.1" cy="553.0" r="1.40" fill="#d9643f"/><circle cx="423.3" cy="517.6" r="1.23" fill="#e08570"/><circle cx="437.8" cy="544.1" r="1.66" fill="#e08570"/><circle cx="401.0" cy="567.8" r="1.13" fill="#e08570"/><circle cx="439.7" cy="536.2" r="1.26" fill="#cf4a36"/><circle cx="412.7" cy="534.3" r="1.19" fill="#e08570"/><circle cx="435.3" cy="536.5" r="1.16" fill="#cf4a36"/><circle cx="420.5" cy="530.8" r="1.33" fill="#d9643f"/><circle cx="425.2" cy="536.0" r="1.09" fill="#de7358"/><circle cx="415.7" cy="567.3" r="1.56" fill="#de7358"/><circle cx="405.6" cy="539.3" r="1.62" fill="#d4553c"/><circle cx="390.5" cy="527.9" r="1.61" fill="#de7358"/><circle cx="433.8" cy="577.7" r="1.31" fill="#e08570"/><circle cx="449.8" cy="539.5" r="1.27" fill="#d4553c"/><circle cx="438.6" cy="534.2" r="1.65" fill="#d4553c"/><circle cx="432.7" cy="517.3" r="1.20" fill="#cf4a36"/><circle cx="443.1" cy="573.0" r="1.03" fill="#d9643f"/><circle cx="425.5" cy="552.6" r="1.69" fill="#de7358"/><circle cx="396.2" cy="535.0" r="1.20" fill="#d4553c"/><circle cx="458.1" cy="545.1" r="1.00" fill="#de7358"/><circle cx="423.9" cy="521.2" r="1.14" fill="#e08570"/><circle cx="405.9" cy="570.7" r="1.23" fill="#d4553c"/><circle cx="441.6" cy="551.2" r="1.19" fill="#d4553c"/><circle cx="435.1" cy="572.3" r="1.22" fill="#d4553c"/><circle cx="437.9" cy="555.5" r="1.06" fill="#cf4a36"/><circle cx="453.3" cy="548.8" r="1.59" fill="#e08570"/><circle cx="431.8" cy="520.3" r="1.06" fill="#e08570"/><circle cx="398.6" cy="521.2" r="1.50" fill="#d4553c"/><circle cx="390.8" cy="515.8" r="1.65" fill="#cf4a36"/><circle cx="415.6" cy="558.7" r="1.19" fill="#d9643f"/><circle cx="391.2" cy="552.9" r="1.58" fill="#e08570"/><circle cx="393.7" cy="523.5" r="1.40" fill="#d4553c"/><circle cx="437.6" cy="575.1" r="1.25" fill="#e08570"/><circle cx="408.5" cy="525.6" r="1.03" fill="#e08570"/><circle cx="414.0" cy="551.1" r="1.66" fill="#cf4a36"/><circle cx="445.6" cy="556.0" r="1.37" fill="#cf4a36"/><circle cx="414.5" cy="569.5" r="1.29" fill="#d9643f"/><circle cx="395.8" cy="522.1" r="1.21" fill="#d4553c"/><circle cx="435.8" cy="518.4" r="1.33" fill="#cf4a36"/><circle cx="416.7" cy="554.4" r="1.66" fill="#cf4a36"/><circle cx="409.1" cy="523.5" r="1.13" fill="#d9643f"/><circle cx="425.2" cy="529.4" r="0.93" fill="#d9643f"/><circle cx="408.8" cy="519.4" r="1.06" fill="#e08570"/><circle cx="425.8" cy="566.8" r="1.54" fill="#d9643f"/><circle cx="419.4" cy="525.2" r="1.23" fill="#e08570"/><circle cx="431.0" cy="525.9" r="1.26" fill="#d9643f"/><circle cx="438.7" cy="540.2" r="1.68" fill="#e08570"/><circle cx="409.2" cy="551.5" r="1.08" fill="#d4553c"/><circle cx="407.9" cy="523.3" r="1.61" fill="#d4553c"/><circle cx="435.8" cy="534.9" r="1.30" fill="#de7358"/><circle cx="404.7" cy="558.9" r="0.98" fill="#de7358"/><circle cx="399.0" cy="558.8" r="1.13" fill="#cf4a36"/><circle cx="459.7" cy="541.9" r="1.40" fill="#d9643f"/><circle cx="419.3" cy="564.4" r="1.45" fill="#cf4a36"/><circle cx="390.5" cy="557.9" r="1.27" fill="#cf4a36"/><circle cx="418.1" cy="552.9" r="1.05" fill="#d4553c"/><circle cx="411.3" cy="551.6" r="1.08" fill="#d4553c"/><circle cx="422.5" cy="551.5" r="1.25" fill="#de7358"/><circle cx="401.6" cy="560.3" r="1.34" fill="#d9643f"/><circle cx="436.0" cy="525.9" r="1.30" fill="#e08570"/><circle cx="409.9" cy="539.9" r="1.44" fill="#de7358"/><circle cx="437.8" cy="557.4" r="1.67" fill="#d4553c"/><circle cx="391.5" cy="532.1" r="1.52" fill="#de7358"/><circle cx="447.0" cy="537.1" r="1.49" fill="#d9643f"/><circle cx="412.1" cy="516.7" r="1.65" fill="#cf4a36"/><circle cx="425.7" cy="533.5" r="1.30" fill="#cf4a36"/><circle cx="431.3" cy="556.1" r="1.07" fill="#e08570"/><circle cx="429.7" cy="523.4" r="1.65" fill="#e08570"/><circle cx="410.4" cy="547.4" r="1.67" fill="#d9643f"/><circle cx="434.3" cy="527.4" r="0.96" fill="#de7358"/><circle cx="417.7" cy="516.9" r="1.41" fill="#d9643f"/><circle cx="399.9" cy="558.2" r="1.43" fill="#d9643f"/><circle cx="442.5" cy="557.6" r="1.01" fill="#d9643f"/><circle cx="438.0" cy="526.8" r="1.40" fill="#d4553c"/><circle cx="434.7" cy="561.8" r="1.04" fill="#d9643f"/><circle cx="438.9" cy="541.6" r="1.51" fill="#d9643f"/><circle cx="398.1" cy="530.1" r="1.19" fill="#d9643f"/><circle cx="414.0" cy="518.1" r="1.15" fill="#d4553c"/><circle cx="402.0" cy="540.6" r="1.35" fill="#de7358"/><circle cx="436.0" cy="518.0" r="1.29" fill="#cf4a36"/><circle cx="429.6" cy="563.3" r="1.16" fill="#de7358"/><circle cx="441.4" cy="573.5" r="1.42" fill="#de7358"/><circle cx="421.8" cy="520.4" r="1.20" fill="#e08570"/><circle cx="402.6" cy="563.4" r="1.56" fill="#e08570"/><circle cx="416.0" cy="523.0" r="1.55" fill="#de7358"/><circle cx="407.8" cy="519.8" r="1.63" fill="#de7358"/><circle cx="436.2" cy="552.9" r="1.55" fill="#cf4a36"/><circle cx="430.1" cy="544.2" r="1.03" fill="#de7358"/><circle cx="439.3" cy="552.7" r="1.02" fill="#d9643f"/><circle cx="402.2" cy="540.4" r="1.67" fill="#d4553c"/><circle cx="428.9" cy="525.3" r="1.20" fill="#d4553c"/><circle cx="454.8" cy="539.2" r="1.13" fill="#d4553c"/><circle cx="431.8" cy="539.0" r="1.17" fill="#cf4a36"/><circle cx="403.3" cy="559.4" r="1.21" fill="#d4553c"/><circle cx="425.8" cy="548.5" r="1.18" fill="#d9643f"/><circle cx="428.0" cy="547.1" r="1.31" fill="#cf4a36"/><circle cx="445.5" cy="551.6" r="1.14" fill="#e08570"/><circle cx="423.9" cy="535.4" r="1.42" fill="#d9643f"/><circle cx="413.7" cy="533.7" r="1.60" fill="#d4553c"/><circle cx="400.8" cy="549.6" r="1.34" fill="#cf4a36"/><circle cx="418.8" cy="526.8" r="1.25" fill="#de7358"/><circle cx="398.0" cy="522.8" r="1.60" fill="#e08570"/><circle cx="404.2" cy="555.7" r="1.46" fill="#d9643f"/><circle cx="435.2" cy="525.9" r="1.36" fill="#d4553c"/><circle cx="436.2" cy="567.9" r="1.44" fill="#cf4a36"/><circle cx="399.7" cy="544.5" r="1.31" fill="#d4553c"/><circle cx="441.3" cy="575.2" r="1.31" fill="#cf4a36"/><circle cx="435.9" cy="562.7" r="1.02" fill="#e08570"/><circle cx="393.2" cy="526.6" r="1.20" fill="#d4553c"/><circle cx="427.2" cy="518.7" r="1.02" fill="#d4553c"/><circle cx="440.8" cy="569.3" r="1.35" fill="#de7358"/><circle cx="402.6" cy="560.7" r="1.18" fill="#d4553c"/><circle cx="419.9" cy="560.2" r="1.65" fill="#cf4a36"/><circle cx="392.1" cy="551.2" r="0.99" fill="#e08570"/><circle cx="416.0" cy="551.2" r="0.94" fill="#d9643f"/><circle cx="409.9" cy="523.6" r="1.26" fill="#e08570"/><circle cx="425.5" cy="563.8" r="1.29" fill="#d4553c"/><circle cx="435.2" cy="530.1" r="1.45" fill="#cf4a36"/><circle cx="459.0" cy="550.2" r="1.11" fill="#de7358"/><circle cx="417.3" cy="520.8" r="1.30" fill="#d4553c"/><circle cx="403.8" cy="565.6" r="1.44" fill="#cf4a36"/><circle cx="446.9" cy="540.8" r="1.09" fill="#e08570"/><circle cx="432.0" cy="534.9" r="1.32" fill="#de7358"/><circle cx="463.8" cy="550.2" r="0.94" fill="#d9643f"/><circle cx="416.4" cy="542.1" r="1.64" fill="#de7358"/><circle cx="427.2" cy="576.9" r="0.95" fill="#d9643f"/><circle cx="436.8" cy="549.9" r="1.02" fill="#d4553c"/><circle cx="396.4" cy="524.0" r="1.24" fill="#e08570"/><circle cx="442.0" cy="535.0" r="1.13" fill="#d9643f"/><circle cx="445.9" cy="531.1" r="1.51" fill="#de7358"/><circle cx="431.3" cy="553.3" r="1.18" fill="#e08570"/><circle cx="448.8" cy="533.1" r="1.46" fill="#de7358"/><circle cx="430.9" cy="570.7" r="1.54" fill="#de7358"/><circle cx="401.1" cy="524.4" r="1.60" fill="#cf4a36"/></g>
<g><circle cx="432.4" cy="518.9" r="1.75" fill="#d9643f"/><circle cx="436.2" cy="515.3" r="1.70" fill="#de7358"/><circle cx="439.1" cy="521.0" r="1.89" fill="#de7358"/><circle cx="425.4" cy="516.0" r="1.88" fill="#e08570"/><circle cx="427.6" cy="521.4" r="1.94" fill="#de7358"/><circle cx="441.5" cy="517.8" r="1.21" fill="#de7358"/><circle cx="435.3" cy="523.9" r="1.61" fill="#d9643f"/><circle cx="438.6" cy="516.4" r="1.41" fill="#d9643f"/><circle cx="434.4" cy="514.7" r="1.27" fill="#d4553c"/><circle cx="444.1" cy="521.7" r="1.12" fill="#e08570"/><circle cx="431.0" cy="515.2" r="1.22" fill="#e08570"/><circle cx="437.3" cy="513.5" r="1.34" fill="#d4553c"/><circle cx="428.3" cy="517.9" r="1.72" fill="#cf4a36"/><circle cx="432.4" cy="522.8" r="1.35" fill="#d4553c"/><circle cx="425.7" cy="521.9" r="1.75" fill="#e08570"/><circle cx="432.2" cy="526.5" r="1.84" fill="#d4553c"/><circle cx="443.3" cy="521.2" r="1.94" fill="#d4553c"/><circle cx="432.6" cy="523.3" r="1.80" fill="#d9643f"/><circle cx="426.9" cy="524.1" r="1.13" fill="#de7358"/><circle cx="432.7" cy="520.9" r="1.58" fill="#e08570"/><circle cx="435.9" cy="516.5" r="1.61" fill="#cf4a36"/><circle cx="439.9" cy="524.2" r="1.33" fill="#e08570"/><circle cx="429.7" cy="520.6" r="1.90" fill="#d9643f"/><circle cx="429.2" cy="521.1" r="1.14" fill="#de7358"/><circle cx="427.0" cy="522.1" r="1.41" fill="#d4553c"/><circle cx="443.5" cy="522.1" r="1.16" fill="#e08570"/><circle cx="434.4" cy="521.1" r="1.21" fill="#e08570"/><circle cx="431.5" cy="515.4" r="1.21" fill="#d9643f"/><circle cx="435.0" cy="518.2" r="1.69" fill="#cf4a36"/><circle cx="437.2" cy="518.1" r="1.77" fill="#cf4a36"/><circle cx="428.3" cy="524.4" r="1.07" fill="#d4553c"/><circle cx="425.2" cy="522.4" r="1.41" fill="#de7358"/><circle cx="425.1" cy="521.2" r="1.42" fill="#cf4a36"/><circle cx="443.7" cy="522.1" r="1.25" fill="#de7358"/><circle cx="428.9" cy="518.3" r="1.34" fill="#cf4a36"/><circle cx="437.3" cy="517.5" r="1.94" fill="#d9643f"/><circle cx="433.9" cy="526.4" r="1.74" fill="#d9643f"/><circle cx="441.1" cy="517.3" r="1.35" fill="#cf4a36"/><circle cx="430.6" cy="521.9" r="1.91" fill="#d9643f"/><circle cx="436.0" cy="525.7" r="1.24" fill="#de7358"/><circle cx="433.1" cy="519.4" r="1.18" fill="#de7358"/><circle cx="438.2" cy="524.6" r="1.19" fill="#d4553c"/><circle cx="426.7" cy="517.6" r="1.50" fill="#de7358"/><circle cx="425.9" cy="515.7" r="1.66" fill="#d4553c"/><circle cx="432.6" cy="522.3" r="1.65" fill="#cf4a36"/><circle cx="424.6" cy="516.6" r="1.76" fill="#d4553c"/><circle cx="424.7" cy="520.4" r="1.26" fill="#cf4a36"/><circle cx="438.5" cy="523.5" r="1.09" fill="#de7358"/><circle cx="434.9" cy="513.4" r="1.25" fill="#e08570"/><circle cx="427.0" cy="523.7" r="1.50" fill="#d4553c"/><circle cx="435.0" cy="525.1" r="1.91" fill="#d4553c"/><circle cx="431.2" cy="516.3" r="1.92" fill="#d9643f"/><circle cx="439.2" cy="517.1" r="1.21" fill="#de7358"/><circle cx="429.5" cy="526.8" r="1.23" fill="#d4553c"/><circle cx="432.4" cy="521.1" r="1.38" fill="#d4553c"/><circle cx="430.7" cy="513.9" r="1.46" fill="#de7358"/><circle cx="435.4" cy="523.0" r="1.93" fill="#de7358"/><circle cx="432.2" cy="517.8" r="1.43" fill="#d9643f"/><circle cx="432.0" cy="518.7" r="1.42" fill="#d9643f"/><circle cx="442.7" cy="522.2" r="1.27" fill="#e08570"/><circle cx="436.7" cy="518.6" r="1.27" fill="#d9643f"/><circle cx="437.8" cy="514.5" r="1.61" fill="#d4553c"/><circle cx="438.4" cy="517.9" r="1.63" fill="#e08570"/><circle cx="437.9" cy="519.7" r="1.57" fill="#cf4a36"/><circle cx="439.5" cy="525.3" r="1.51" fill="#e08570"/><circle cx="435.3" cy="518.6" r="1.79" fill="#cf4a36"/><circle cx="431.3" cy="514.2" r="1.93" fill="#de7358"/><circle cx="436.7" cy="522.8" r="1.34" fill="#e08570"/><circle cx="437.8" cy="526.2" r="1.74" fill="#de7358"/><circle cx="442.9" cy="519.9" r="1.70" fill="#e08570"/><circle cx="436.2" cy="521.3" r="1.95" fill="#d4553c"/><circle cx="443.3" cy="520.7" r="1.52" fill="#e08570"/><circle cx="427.4" cy="518.4" r="1.66" fill="#d9643f"/><circle cx="441.1" cy="519.8" r="1.63" fill="#d4553c"/><circle cx="430.6" cy="518.4" r="1.83" fill="#cf4a36"/><circle cx="426.5" cy="515.5" r="1.28" fill="#d4553c"/><circle cx="431.5" cy="522.6" r="1.52" fill="#de7358"/><circle cx="433.4" cy="514.6" r="1.41" fill="#cf4a36"/><circle cx="438.4" cy="519.6" r="1.48" fill="#d9643f"/><circle cx="439.8" cy="515.4" r="1.66" fill="#de7358"/><circle cx="434.1" cy="522.6" r="1.61" fill="#e08570"/><circle cx="431.0" cy="518.7" r="1.07" fill="#d9643f"/><circle cx="436.3" cy="517.6" r="1.54" fill="#de7358"/><circle cx="429.2" cy="517.0" r="1.44" fill="#e08570"/><circle cx="437.2" cy="525.3" r="1.23" fill="#cf4a36"/><circle cx="438.9" cy="518.6" r="1.09" fill="#de7358"/><circle cx="436.6" cy="516.9" r="1.26" fill="#e08570"/><circle cx="426.6" cy="522.0" r="1.93" fill="#e08570"/><circle cx="431.7" cy="522.6" r="1.35" fill="#d4553c"/><circle cx="425.5" cy="519.6" r="1.40" fill="#cf4a36"/></g>
<text x="409.6" y="283.6" font-size="18.5" text-anchor="start" fill="#111111">Endothelial cells</text>
<text x="276.5" y="316.6" font-size="18.5" text-anchor="start" fill="#111111">Smooth muscle cells</text>
<text x="235.4" y="362.7" font-size="18.5" text-anchor="start" fill="#111111">T cells</text>
<text x="227.2" y="395.4" font-size="18.5" text-anchor="start" fill="#111111">Plasma cells</text>
<text x="432.9" y="489.5" font-size="18.5" text-anchor="start" fill="#111111">Fibroblasts</text>
<line x1="841.0" y1="163.0" x2="841.0" y2="607.0" stroke="#111111" stroke-width="2"/>
<line x1="840.0" y1="606.0" x2="1448.0" y2="606.0" stroke="#111111" stroke-width="2"/>
<line x1="834.0" y1="586.0" x2="841.0" y2="586.0" stroke="#111111" stroke-width="1.5"/>
<text x="827.0" y="594.4" font-size="24" text-anchor="end" fill="#111111">0</text>
<line x1="834.0" y1="436.0" x2="841.0" y2="436.0" stroke="#111111" stroke-width="1.5"/>
<text x="827.0" y="444.4" font-size="24" text-anchor="end" fill="#111111">1</text>
<line x1="834.0" y1="285.7" x2="841.0" y2="285.7" stroke="#111111" stroke-width="1.5"/>
<text x="827.0" y="294.1" font-size="24" text-anchor="end" fill="#111111">2</text>
<line x1="1006.0" y1="606.0" x2="1006.0" y2="613.5" stroke="#111111" stroke-width="1.5"/>
<text x="1020.8" y="631.5" font-size="24" text-anchor="end" transform="rotate(-45 1020.8 631.5)" fill="#111111">Normal</text>
<line x1="1282.3" y1="606.0" x2="1282.3" y2="613.5" stroke="#111111" stroke-width="1.5"/>
<text x="1303.7" y="629.3" font-size="24" text-anchor="end" transform="rotate(-45 1303.7 629.3)" fill="#111111">IBD</text>
<text x="1144.2" y="143.0" font-size="32" font-weight="bold" text-anchor="middle" fill="#111111">ACSL4</text>
<text x="802.0" y="385.5" font-size="27.8" text-anchor="middle" transform="rotate(-90 802.0 385.5)" fill="#111111">Expression Level</text>
<line x1="882.4" y1="586.0" x2="1130.5" y2="586.0" stroke="#111111" stroke-width="2.6"/>
<line x1="1006.0" y1="183.3" x2="1006.0" y2="586.0" stroke="#111111" stroke-width="1.5"/>
<line x1="972.0" y1="585.3" x2="1040.6" y2="585.3" stroke="#111111" stroke-width="3"/>
<line x1="993.0" y1="587.3" x2="1019.0" y2="587.3" stroke="#111111" stroke-width="2"/>
<path d="M1282.50,204.30 L1282.52,204.80 L1282.53,205.30 L1282.55,205.80 L1282.57,206.30 L1282.58,206.80 L1282.60,207.30 L1282.61,207.80 L1282.63,208.30 L1282.65,208.80 L1282.66,209.30 L1282.68,209.80 L1282.70,210.30 L1282.71,210.80 L1282.73,211.30 L1282.74,211.80 L1282.76,212.30 L1282.78,212.80 L1282.79,213.30 L1282.81,213.80 L1282.82,214.30 L1282.84,214.80 L1282.85,215.30 L1282.87,215.80 L1282.89,216.30 L1282.90,216.80 L1282.92,217.30 L1282.93,217.80 L1282.95,218.30 L1282.97,218.80 L1282.98,219.30 L1283.00,219.80 L1283.01,220.30 L1283.03,220.80 L1283.05,221.30 L1283.06,221.80 L1283.08,222.30 L1283.10,222.80 L1283.11,223.30 L1283.13,223.80 L1283.15,224.30 L1283.16,224.80 L1283.18,225.30 L1283.20,225.80 L1283.21,226.30 L1283.23,226.80 L1283.25,227.30 L1283.26,227.80 L1283.28,228.30 L1283.30,228.80 L1283.32,229.30 L1283.33,229.80 L1283.35,230.30 L1283.37,230.80 L1283.39,231.30 L1283.40,231.80 L1283.42,232.30 L1283.44,232.80 L1283.46,233.30 L1283.48,233.80 L1283.50,234.30 L1283.51,234.80 L1283.53,235.30 L1283.55,235.80 L1283.57,236.30 L1283.59,236.80 L1283.61,237.30 L1283.62,237.80 L1283.64,238.30 L1283.66,238.80 L1283.68,239.30 L1283.70,239.80 L1283.72,240.30 L1283.73,240.80 L1283.75,241.30 L1283.77,241.80 L1283.79,242.30 L1283.81,242.80 L1283.82,243.30 L1283.84,243.80 L1283.86,244.30 L1283.88,244.80 L1283.90,245.30 L1283.92,245.80 L1283.94,246.30 L1283.96,246.80 L1283.98,247.30 L1284.00,247.80 L1284.02,248.30 L1284.04,248.80 L1284.06,249.30 L1284.08,249.80 L1284.10,250.30 L1284.12,250.80 L1284.14,251.30 L1284.17,251.80 L1284.19,252.30 L1284.21,252.80 L1284.23,253.30 L1284.26,253.80 L1284.28,254.30 L1284.31,254.80 L1284.33,255.30 L1284.36,255.80 L1284.38,256.30 L1284.41,256.80 L1284.44,257.30 L1284.46,257.80 L1284.49,258.30 L1284.52,258.80 L1284.55,259.30 L1284.58,259.80 L1284.61,260.30 L1284.64,260.80 L1284.67,261.30 L1284.70,261.80 L1284.74,262.30 L1284.78,262.80 L1284.82,263.30 L1284.86,263.80 L1284.90,264.30 L1284.94,264.80 L1284.99,265.30 L1285.03,265.80 L1285.08,266.30 L1285.13,266.80 L1285.17,267.30 L1285.22,267.80 L1285.27,268.30 L1285.33,268.80 L1285.38,269.30 L1285.43,269.80 L1285.48,270.30 L1285.54,270.80 L1285.59,271.30 L1285.65,271.80 L1285.70,272.30 L1285.76,272.80 L1285.82,273.30 L1285.87,273.80 L1285.93,274.30 L1285.99,274.80 L1286.04,275.30 L1286.10,275.80 L1286.16,276.30 L1286.22,276.80 L1286.27,277.30 L1286.33,277.80 L1286.39,278.30 L1286.44,278.80 L1286.50,279.30 L1286.56,279.80 L1286.61,280.30 L1286.67,280.80 L1286.72,281.30 L1286.78,281.80 L1286.83,282.30 L1286.88,282.80 L1286.93,283.30 L1286.99,283.80 L1287.04,284.30 L1287.09,284.80 L1287.13,285.30 L1287.18,285.80 L1287.23,286.30 L1287.27,286.80 L1287.32,287.30 L1287.37,287.80 L1287.41,288.30 L1287.45,288.80 L1287.50,289.30 L1287.54,289.80 L1287.59,290.30 L1287.63,290.80 L1287.67,291.30 L1287.72,291.80 L1287.76,292.30 L1287.80,292.80 L1287.85,293.30 L1287.89,293.80 L1287.93,294.30 L1287.98,294.80 L1288.02,295.30 L1288.06,295.80 L1288.10,296.30 L1288.15,296.80 L1288.19,297.30 L1288.23,297.80 L1288.27,298.30 L1288.32,298.80 L1288.36,299.30 L1288.40,299.80 L1288.45,300.30 L1288.49,300.80 L1288.53,301.30 L1288.58,301.80 L1288.62,302.30 L1288.66,302.80 L1288.71,303.30 L1288.75,303.80 L1288.80,304.30 L1288.84,304.80 L1288.88,305.30 L1288.92,305.80 L1288.96,306.30 L1289.00,306.80 L1289.05,307.30 L1289.09,307.80 L1289.13,308.30 L1289.17,308.80 L1289.21,309.30 L1289.25,309.80 L1289.29,310.30 L1289.33,310.80 L1289.37,311.30 L1289.41,311.80 L1289.46,312.30 L1289.50,312.80 L1289.54,313.30 L1289.59,313.80 L1289.63,314.30 L1289.68,314.80 L1289.73,315.30 L1289.78,315.80 L1289.83,316.30 L1289.88,316.80 L1289.93,317.30 L1289.99,317.80 L1290.05,318.30 L1290.10,318.80 L1290.16,319.30 L1290.23,319.80 L1290.29,320.30 L1290.37,320.80 L1290.45,321.30 L1290.54,321.80 L1290.62,322.30 L1290.72,322.80 L1290.81,323.30 L1290.91,323.80 L1291.00,324.30 L1291.09,324.80 L1291.19,325.30 L1291.27,325.80 L1291.36,326.30 L1291.44,326.80 L1291.51,327.30 L1291.59,327.80 L1291.66,328.30 L1291.73,328.80 L1291.80,329.30 L1291.87,329.80 L1291.94,330.30 L1292.00,330.80 L1292.07,331.30 L1292.14,331.80 L1292.20,332.30 L1292.27,332.80 L1292.33,333.30 L1292.40,333.80 L1292.46,334.30 L1292.52,334.80 L1292.58,335.30 L1292.64,335.80 L1292.70,336.30 L1292.76,336.80 L1292.82,337.30 L1292.88,337.80 L1292.94,338.30 L1293.00,338.80 L1293.05,339.30 L1293.11,339.80 L1293.17,340.30 L1293.22,340.80 L1293.27,341.30 L1293.33,341.80 L1293.38,342.30 L1293.43,342.80 L1293.49,343.30 L1293.54,343.80 L1293.59,344.30 L1293.64,344.80 L1293.69,345.30 L1293.74,345.80 L1293.79,346.30 L1293.84,346.80 L1293.89,347.30 L1293.94,347.80 L1293.99,348.30 L1294.04,348.80 L1294.09,349.30 L1294.13,349.80 L1294.18,350.30 L1294.23,350.80 L1294.27,351.30 L1294.32,351.80 L1294.37,352.30 L1294.41,352.80 L1294.45,353.30 L1294.50,353.80 L1294.54,354.30 L1294.58,354.80 L1294.63,355.30 L1294.67,355.80 L1294.71,356.30 L1294.75,356.80 L1294.79,357.30 L1294.83,357.80 L1294.87,358.30 L1294.90,358.80 L1294.94,359.30 L1294.98,359.80 L1295.01,360.30 L1295.05,360.80 L1295.08,361.30 L1295.11,361.80 L1295.15,362.30 L1295.18,362.80 L1295.21,363.30 L1295.25,363.80 L1295.29,364.30 L1295.32,364.80 L1295.36,365.30 L1295.39,365.80 L1295.43,366.30 L1295.46,366.80 L1295.50,367.30 L1295.53,367.80 L1295.57,368.30 L1295.60,368.80 L1295.63,369.30 L1295.67,369.80 L1295.70,370.30 L1295.73,370.80 L1295.76,371.30 L1295.78,371.80 L1295.81,372.30 L1295.84,372.80 L1295.86,373.30 L1295.88,373.80 L1295.90,374.30 L1295.92,374.80 L1295.94,375.30 L1295.96,375.80 L1295.97,376.30 L1295.98,376.80 L1295.99,377.30 L1295.99,377.80 L1296.00,378.30 L1296.00,378.80 L1296.00,379.30 L1296.00,379.80 L1296.00,380.30 L1296.00,380.80 L1296.00,381.30 L1296.00,381.80 L1296.00,382.30 L1296.00,382.80 L1296.00,383.30 L1296.00,383.80 L1296.00,384.30 L1296.00,384.80 L1296.00,385.30 L1296.00,385.80 L1296.00,386.30 L1296.00,386.80 L1296.00,387.30 L1296.00,387.80 L1296.00,388.30 L1296.00,388.80 L1296.00,389.30 L1296.00,389.80 L1296.00,390.30 L1296.00,390.80 L1296.00,391.30 L1296.00,391.80 L1296.00,392.30 L1296.00,392.80 L1296.00,393.30 L1296.00,393.80 L1296.00,394.30 L1296.00,394.80 L1296.00,395.30 L1296.00,395.80 L1296.00,396.30 L1296.00,396.80 L1295.99,397.30 L1295.99,397.80 L1295.98,398.30 L1295.97,398.80 L1295.96,399.30 L1295.95,399.80 L1295.93,400.30 L1295.92,400.80 L1295.90,401.30 L1295.88,401.80 L1295.87,402.30 L1295.85,402.80 L1295.82,403.30 L1295.80,403.80 L1295.78,404.30 L1295.76,404.80 L1295.73,405.30 L1295.71,405.80 L1295.68,406.30 L1295.65,406.80 L1295.63,407.30 L1295.60,407.80 L1295.57,408.30 L1295.55,408.80 L1295.52,409.30 L1295.49,409.80 L1295.46,410.30 L1295.43,410.80 L1295.40,411.30 L1295.38,411.80 L1295.35,412.30 L1295.32,412.80 L1295.29,413.30 L1295.27,413.80 L1295.24,414.30 L1295.21,414.80 L1295.18,415.30 L1295.14,415.80 L1295.11,416.30 L1295.08,416.80 L1295.04,417.30 L1295.01,417.80 L1294.97,418.30 L1294.93,418.80 L1294.90,419.30 L1294.86,419.80 L1294.82,420.30 L1294.78,420.80 L1294.74,421.30 L1294.69,421.80 L1294.65,422.30 L1294.61,422.80 L1294.57,423.30 L1294.52,423.80 L1294.48,424.30 L1294.44,424.80 L1294.39,425.30 L1294.35,425.80 L1294.30,426.30 L1294.26,426.80 L1294.21,427.30 L1294.17,427.80 L1294.12,428.30 L1294.07,428.80 L1294.03,429.30 L1293.98,429.80 L1293.93,430.30 L1293.89,430.80 L1293.84,431.30 L1293.79,431.80 L1293.74,432.30 L1293.68,432.80 L1293.63,433.30 L1293.58,433.80 L1293.52,434.30 L1293.47,434.80 L1293.41,435.30 L1293.36,435.80 L1293.30,436.30 L1293.25,436.80 L1293.19,437.30 L1293.13,437.80 L1293.07,438.30 L1293.02,438.80 L1292.96,439.30 L1292.90,439.80 L1292.84,440.30 L1292.78,440.80 L1292.72,441.30 L1292.66,441.80 L1292.60,442.30 L1292.54,442.80 L1292.48,443.30 L1292.41,443.80 L1292.35,444.30 L1292.29,444.80 L1292.22,445.30 L1292.16,445.80 L1292.09,446.30 L1292.03,446.80 L1291.96,447.30 L1291.89,447.80 L1291.82,448.30 L1291.76,448.80 L1291.69,449.30 L1291.62,449.80 L1291.54,450.30 L1291.47,450.80 L1291.40,451.30 L1291.32,451.80 L1291.25,452.30 L1291.17,452.80 L1291.10,453.30 L1291.02,453.80 L1290.94,454.30 L1290.86,454.80 L1290.78,455.30 L1290.70,455.80 L1290.62,456.30 L1290.54,456.80 L1290.46,457.30 L1290.38,457.80 L1290.29,458.30 L1290.21,458.80 L1290.13,459.30 L1290.04,459.80 L1289.96,460.30 L1289.87,460.80 L1289.79,461.30 L1289.70,461.80 L1289.62,462.30 L1289.53,462.80 L1289.45,463.30 L1289.36,463.80 L1289.27,464.30 L1289.18,464.80 L1289.09,465.30 L1288.99,465.80 L1288.89,466.30 L1288.80,466.80 L1288.70,467.30 L1288.60,467.80 L1288.50,468.30 L1288.40,468.80 L1288.30,469.30 L1288.19,469.80 L1288.09,470.30 L1287.99,470.80 L1287.89,471.30 L1287.79,471.80 L1287.69,472.30 L1287.59,472.80 L1287.49,473.30 L1287.39,473.80 L1287.30,474.30 L1287.20,474.80 L1287.11,475.30 L1287.02,475.80 L1286.93,476.30 L1286.84,476.80 L1286.75,477.30 L1286.67,477.80 L1286.58,478.30 L1286.51,478.80 L1286.43,479.30 L1286.36,479.80 L1286.29,480.30 L1286.22,480.80 L1286.15,481.30 L1286.08,481.80 L1286.01,482.30 L1285.95,482.80 L1285.88,483.30 L1285.82,483.80 L1285.75,484.30 L1285.69,484.80 L1285.62,485.30 L1285.56,485.80 L1285.50,486.30 L1285.44,486.80 L1285.38,487.30 L1285.32,487.80 L1285.26,488.30 L1285.20,488.80 L1285.15,489.30 L1285.09,489.80 L1285.04,490.30 L1284.99,490.80 L1284.93,491.30 L1284.88,491.80 L1284.83,492.30 L1284.79,492.80 L1284.74,493.30 L1284.69,493.80 L1284.65,494.30 L1284.60,494.80 L1284.56,495.30 L1284.52,495.80 L1284.48,496.30 L1284.44,496.80 L1284.41,497.30 L1284.37,497.80 L1284.34,498.30 L1284.30,498.80 L1284.26,499.30 L1284.23,499.80 L1284.19,500.30 L1284.15,500.80 L1284.12,501.30 L1284.08,501.80 L1284.04,502.30 L1284.01,502.80 L1283.97,503.30 L1283.94,503.80 L1283.91,504.30 L1283.87,504.80 L1283.84,505.30 L1283.81,505.80 L1283.78,506.30 L1283.75,506.80 L1283.72,507.30 L1283.70,507.80 L1283.67,508.30 L1283.65,508.80 L1283.62,509.30 L1283.60,509.80 L1283.58,510.30 L1283.57,510.80 L1283.55,511.30 L1283.54,511.80 L1283.53,512.30 L1283.52,512.80 L1283.51,513.30 L1283.50,513.80 L1283.50,514.30 L1283.50,514.80 L1283.50,515.30 L1283.50,515.80 L1283.50,516.30 L1283.51,516.80 L1283.51,517.30 L1283.51,517.80 L1283.52,518.30 L1283.52,518.80 L1283.53,519.30 L1283.53,519.80 L1283.54,520.30 L1283.55,520.80 L1283.55,521.30 L1283.56,521.80 L1283.57,522.30 L1283.58,522.80 L1283.59,523.30 L1283.60,523.80 L1283.61,524.30 L1283.63,524.80 L1283.64,525.30 L1283.65,525.80 L1283.67,526.30 L1283.68,526.80 L1283.70,527.30 L1283.71,527.80 L1283.73,528.30 L1283.75,528.80 L1283.77,529.30 L1283.79,529.80 L1283.81,530.30 L1283.85,530.80 L1283.92,531.30 L1284.01,531.80 L1284.12,532.30 L1284.24,532.80 L1284.39,533.30 L1284.54,533.80 L1284.71,534.30 L1284.89,534.80 L1285.08,535.30 L1285.27,535.80 L1285.47,536.30 L1285.68,536.80 L1285.88,537.30 L1286.08,537.80 L1286.30,538.30 L1286.54,538.80 L1286.80,539.30 L1287.08,539.80 L1287.38,540.30 L1287.69,540.80 L1288.03,541.30 L1288.38,541.80 L1288.75,542.30 L1289.14,542.80 L1289.55,543.30 L1290.00,543.80 L1290.48,544.30 L1291.01,544.80 L1291.57,545.30 L1292.16,545.80 L1292.78,546.30 L1293.44,546.80 L1294.12,547.30 L1294.82,547.80 L1295.55,548.30 L1296.32,548.80 L1297.16,549.30 L1298.05,549.80 L1299.01,550.30 L1300.00,550.80 L1301.04,551.30 L1302.11,551.80 L1303.19,552.30 L1304.29,552.80 L1305.40,553.30 L1306.50,553.80 L1307.61,554.30 L1308.73,554.80 L1309.87,555.30 L1311.03,555.80 L1312.22,556.30 L1313.43,556.80 L1314.67,557.30 L1315.94,557.80 L1317.24,558.30 L1318.58,558.80 L1319.96,559.30 L1321.38,559.80 L1322.84,560.30 L1324.34,560.80 L1325.89,561.30 L1327.47,561.80 L1329.09,562.30 L1330.75,562.80 L1332.43,563.30 L1334.15,563.80 L1335.89,564.30 L1337.68,564.80 L1339.54,565.30 L1341.47,565.80 L1343.45,566.30 L1345.48,566.80 L1347.53,567.30 L1349.60,567.80 L1351.66,568.30 L1353.71,568.80 L1355.73,569.30 L1357.71,569.80 L1359.65,570.30 L1361.57,570.80 L1363.48,571.30 L1365.38,571.80 L1367.28,572.30 L1369.16,572.80 L1371.04,573.30 L1372.91,573.80 L1374.78,574.30 L1376.64,574.80 L1378.50,575.30 L1380.40,575.80 L1382.38,576.30 L1384.40,576.80 L1386.42,577.30 L1388.43,577.80 L1390.39,578.30 L1392.26,578.80 L1394.03,579.30 L1395.66,579.80 L1397.12,580.30 L1398.39,580.80 L1399.56,581.30 L1400.66,581.80 L1401.67,582.30 L1402.60,582.80 L1403.43,583.30 L1404.16,583.80 L1404.79,584.30 L1405.33,584.80 L1405.81,585.30 L1406.30,585.80 L1406.50,586.00 L1157.50,586.00 L1157.70,585.80 L1158.19,585.30 L1158.67,584.80 L1159.21,584.30 L1159.84,583.80 L1160.57,583.30 L1161.40,582.80 L1162.33,582.30 L1163.34,581.80 L1164.44,581.30 L1165.61,580.80 L1166.88,580.30 L1168.34,579.80 L1169.97,579.30 L1171.74,578.80 L1173.61,578.30 L1175.57,577.80 L1177.58,577.30 L1179.60,576.80 L1181.62,576.30 L1183.60,575.80 L1185.50,575.30 L1187.36,574.80 L1189.22,574.30 L1191.09,573.80 L1192.96,573.30 L1194.84,572.80 L1196.72,572.30 L1198.62,571.80 L1200.52,571.30 L1202.43,570.80 L1204.35,570.30 L1206.29,569.80 L1208.27,569.30 L1210.29,568.80 L1212.34,568.30 L1214.40,567.80 L1216.47,567.30 L1218.52,566.80 L1220.55,566.30 L1222.53,565.80 L1224.46,565.30 L1226.32,564.80 L1228.11,564.30 L1229.85,563.80 L1231.57,563.30 L1233.25,562.80 L1234.91,562.30 L1236.53,561.80 L1238.11,561.30 L1239.66,560.80 L1241.16,560.30 L1242.62,559.80 L1244.04,559.30 L1245.42,558.80 L1246.76,558.30 L1248.06,557.80 L1249.33,557.30 L1250.57,556.80 L1251.78,556.30 L1252.97,555.80 L1254.13,555.30 L1255.27,554.80 L1256.39,554.30 L1257.50,553.80 L1258.60,553.30 L1259.71,552.80 L1260.81,552.30 L1261.89,551.80 L1262.96,551.30 L1264.00,550.80 L1264.99,550.30 L1265.95,549.80 L1266.84,549.30 L1267.68,548.80 L1268.45,548.30 L1269.18,547.80 L1269.88,547.30 L1270.56,546.80 L1271.22,546.30 L1271.84,545.80 L1272.43,545.30 L1272.99,544.80 L1273.52,544.30 L1274.00,543.80 L1274.45,543.30 L1274.86,542.80 L1275.25,542.30 L1275.62,541.80 L1275.97,541.30 L1276.31,540.80 L1276.62,540.30 L1276.92,539.80 L1277.20,539.30 L1277.46,538.80 L1277.70,538.30 L1277.92,537.80 L1278.12,537.30 L1278.32,536.80 L1278.53,536.30 L1278.73,535.80 L1278.92,535.30 L1279.11,534.80 L1279.29,534.30 L1279.46,533.80 L1279.61,533.30 L1279.76,532.80 L1279.88,532.30 L1279.99,531.80 L1280.08,531.30 L1280.15,530.80 L1280.19,530.30 L1280.21,529.80 L1280.23,529.30 L1280.25,528.80 L1280.27,528.30 L1280.29,527.80 L1280.30,527.30 L1280.32,526.80 L1280.33,526.30 L1280.35,525.80 L1280.36,525.30 L1280.37,524.80 L1280.39,524.30 L1280.40,523.80 L1280.41,523.30 L1280.42,522.80 L1280.43,522.30 L1280.44,521.80 L1280.45,521.30 L1280.45,520.80 L1280.46,520.30 L1280.47,519.80 L1280.47,519.30 L1280.48,518.80 L1280.48,518.30 L1280.49,517.80 L1280.49,517.30 L1280.49,516.80 L1280.50,516.30 L1280.50,515.80 L1280.50,515.30 L1280.50,514.80 L1280.50,514.30 L1280.50,513.80 L1280.49,513.30 L1280.48,512.80 L1280.47,512.30 L1280.46,511.80 L1280.45,511.30 L1280.43,510.80 L1280.42,510.30 L1280.40,509.80 L1280.38,509.30 L1280.35,508.80 L1280.33,508.30 L1280.30,507.80 L1280.28,507.30 L1280.25,506.80 L1280.22,506.30 L1280.19,505.80 L1280.16,505.30 L1280.13,504.80 L1280.09,504.30 L1280.06,503.80 L1280.03,503.30 L1279.99,502.80 L1279.96,502.30 L1279.92,501.80 L1279.88,501.30 L1279.85,500.80 L1279.81,500.30 L1279.77,499.80 L1279.74,499.30 L1279.70,498.80 L1279.66,498.30 L1279.63,497.80 L1279.59,497.30 L1279.56,496.80 L1279.52,496.30 L1279.48,495.80 L1279.44,495.30 L1279.40,494.80 L1279.35,494.30 L1279.31,493.80 L1279.26,493.30 L1279.21,492.80 L1279.17,492.30 L1279.12,491.80 L1279.07,491.30 L1279.01,490.80 L1278.96,490.30 L1278.91,489.80 L1278.85,489.30 L1278.80,488.80 L1278.74,488.30 L1278.68,487.80 L1278.62,487.30 L1278.56,486.80 L1278.50,486.30 L1278.44,485.80 L1278.38,485.30 L1278.31,484.80 L1278.25,484.30 L1278.18,483.80 L1278.12,483.30 L1278.05,482.80 L1277.99,482.30 L1277.92,481.80 L1277.85,481.30 L1277.78,480.80 L1277.71,480.30 L1277.64,479.80 L1277.57,479.30 L1277.49,478.80 L1277.42,478.30 L1277.33,477.80 L1277.25,477.30 L1277.16,476.80 L1277.07,476.30 L1276.98,475.80 L1276.89,475.30 L1276.80,474.80 L1276.70,474.30 L1276.61,473.80 L1276.51,473.30 L1276.41,472.80 L1276.31,472.30 L1276.21,471.80 L1276.11,471.30 L1276.01,470.80 L1275.91,470.30 L1275.81,469.80 L1275.70,469.30 L1275.60,468.80 L1275.50,468.30 L1275.40,467.80 L1275.30,467.30 L1275.20,466.80 L1275.11,466.30 L1275.01,465.80 L1274.91,465.30 L1274.82,464.80 L1274.73,464.30 L1274.64,463.80 L1274.55,463.30 L1274.47,462.80 L1274.38,462.30 L1274.30,461.80 L1274.21,461.30 L1274.13,460.80 L1274.04,460.30 L1273.96,459.80 L1273.87,459.30 L1273.79,458.80 L1273.71,458.30 L1273.62,457.80 L1273.54,457.30 L1273.46,456.80 L1273.38,456.30 L1273.30,455.80 L1273.22,455.30 L1273.14,454.80 L1273.06,454.30 L1272.98,453.80 L1272.90,453.30 L1272.83,452.80 L1272.75,452.30 L1272.68,451.80 L1272.60,451.30 L1272.53,450.80 L1272.46,450.30 L1272.38,449.80 L1272.31,449.30 L1272.24,448.80 L1272.18,448.30 L1272.11,447.80 L1272.04,447.30 L1271.97,446.80 L1271.91,446.30 L1271.84,445.80 L1271.78,445.30 L1271.71,444.80 L1271.65,444.30 L1271.59,443.80 L1271.52,443.30 L1271.46,442.80 L1271.40,442.30 L1271.34,441.80 L1271.28,441.30 L1271.22,440.80 L1271.16,440.30 L1271.10,439.80 L1271.04,439.30 L1270.98,438.80 L1270.93,438.30 L1270.87,437.80 L1270.81,437.30 L1270.75,436.80 L1270.70,436.30 L1270.64,435.80 L1270.59,435.30 L1270.53,434.80 L1270.48,434.30 L1270.42,433.80 L1270.37,433.30 L1270.32,432.80 L1270.26,432.30 L1270.21,431.80 L1270.16,431.30 L1270.11,430.80 L1270.07,430.30 L1270.02,429.80 L1269.97,429.30 L1269.93,428.80 L1269.88,428.30 L1269.83,427.80 L1269.79,427.30 L1269.74,426.80 L1269.70,426.30 L1269.65,425.80 L1269.61,425.30 L1269.56,424.80 L1269.52,424.30 L1269.48,423.80 L1269.43,423.30 L1269.39,422.80 L1269.35,422.30 L1269.31,421.80 L1269.26,421.30 L1269.22,420.80 L1269.18,420.30 L1269.14,419.80 L1269.10,419.30 L1269.07,418.80 L1269.03,418.30 L1268.99,417.80 L1268.96,417.30 L1268.92,416.80 L1268.89,416.30 L1268.86,415.80 L1268.82,415.30 L1268.79,414.80 L1268.76,414.30 L1268.73,413.80 L1268.71,413.30 L1268.68,412.80 L1268.65,412.30 L1268.62,411.80 L1268.60,411.30 L1268.57,410.80 L1268.54,410.30 L1268.51,409.80 L1268.48,409.30 L1268.45,408.80 L1268.43,408.30 L1268.40,407.80 L1268.37,407.30 L1268.35,406.80 L1268.32,406.30 L1268.29,405.80 L1268.27,405.30 L1268.24,404.80 L1268.22,404.30 L1268.20,403.80 L1268.18,403.30 L1268.15,402.80 L1268.13,402.30 L1268.12,401.80 L1268.10,401.30 L1268.08,400.80 L1268.07,400.30 L1268.05,399.80 L1268.04,399.30 L1268.03,398.80 L1268.02,398.30 L1268.01,397.80 L1268.01,397.30 L1268.00,396.80 L1268.00,396.30 L1268.00,395.80 L1268.00,395.30 L1268.00,394.80 L1268.00,394.30 L1268.00,393.80 L1268.00,393.30 L1268.00,392.80 L1268.00,392.30 L1268.00,391.80 L1268.00,391.30 L1268.00,390.80 L1268.00,390.30 L1268.00,389.80 L1268.00,389.30 L1268.00,388.80 L1268.00,388.30 L1268.00,387.80 L1268.00,387.30 L1268.00,386.80 L1268.00,386.30 L1268.00,385.80 L1268.00,385.30 L1268.00,384.80 L1268.00,384.30 L1268.00,383.80 L1268.00,383.30 L1268.00,382.80 L1268.00,382.30 L1268.00,381.80 L1268.00,381.30 L1268.00,380.80 L1268.00,380.30 L1268.00,379.80 L1268.00,379.30 L1268.00,378.80 L1268.00,378.30 L1268.01,377.80 L1268.01,377.30 L1268.02,376.80 L1268.03,376.30 L1268.04,375.80 L1268.06,375.30 L1268.08,374.80 L1268.10,374.30 L1268.12,373.80 L1268.14,373.30 L1268.16,372.80 L1268.19,372.30 L1268.22,371.80 L1268.24,371.30 L1268.27,370.80 L1268.30,370.30 L1268.33,369.80 L1268.37,369.30 L1268.40,368.80 L1268.43,368.30 L1268.47,367.80 L1268.50,367.30 L1268.54,366.80 L1268.57,366.30 L1268.61,365.80 L1268.64,365.30 L1268.68,364.80 L1268.71,364.30 L1268.75,363.80 L1268.79,363.30 L1268.82,362.80 L1268.85,362.30 L1268.89,361.80 L1268.92,361.30 L1268.95,360.80 L1268.99,360.30 L1269.02,359.80 L1269.06,359.30 L1269.10,358.80 L1269.13,358.30 L1269.17,357.80 L1269.21,357.30 L1269.25,356.80 L1269.29,356.30 L1269.33,355.80 L1269.37,355.30 L1269.42,354.80 L1269.46,354.30 L1269.50,353.80 L1269.55,353.30 L1269.59,352.80 L1269.63,352.30 L1269.68,351.80 L1269.73,351.30 L1269.77,350.80 L1269.82,350.30 L1269.87,349.80 L1269.91,349.30 L1269.96,348.80 L1270.01,348.30 L1270.06,347.80 L1270.11,347.30 L1270.16,346.80 L1270.21,346.30 L1270.26,345.80 L1270.31,345.30 L1270.36,344.80 L1270.41,344.30 L1270.46,343.80 L1270.51,343.30 L1270.57,342.80 L1270.62,342.30 L1270.67,341.80 L1270.73,341.30 L1270.78,340.80 L1270.83,340.30 L1270.89,339.80 L1270.95,339.30 L1271.00,338.80 L1271.06,338.30 L1271.12,337.80 L1271.18,337.30 L1271.24,336.80 L1271.30,336.30 L1271.36,335.80 L1271.42,335.30 L1271.48,334.80 L1271.54,334.30 L1271.60,333.80 L1271.67,333.30 L1271.73,332.80 L1271.80,332.30 L1271.86,331.80 L1271.93,331.30 L1272.00,330.80 L1272.06,330.30 L1272.13,329.80 L1272.20,329.30 L1272.27,328.80 L1272.34,328.30 L1272.41,327.80 L1272.49,327.30 L1272.56,326.80 L1272.64,326.30 L1272.73,325.80 L1272.81,325.30 L1272.91,324.80 L1273.00,324.30 L1273.09,323.80 L1273.19,323.30 L1273.28,322.80 L1273.38,322.30 L1273.46,321.80 L1273.55,321.30 L1273.63,320.80 L1273.71,320.30 L1273.77,319.80 L1273.84,319.30 L1273.90,318.80 L1273.95,318.30 L1274.01,317.80 L1274.07,317.30 L1274.12,316.80 L1274.17,316.30 L1274.22,315.80 L1274.27,315.30 L1274.32,314.80 L1274.37,314.30 L1274.41,313.80 L1274.46,313.30 L1274.50,312.80 L1274.54,312.30 L1274.59,311.80 L1274.63,311.30 L1274.67,310.80 L1274.71,310.30 L1274.75,309.80 L1274.79,309.30 L1274.83,308.80 L1274.87,308.30 L1274.91,307.80 L1274.95,307.30 L1275.00,306.80 L1275.04,306.30 L1275.08,305.80 L1275.12,305.30 L1275.16,304.80 L1275.20,304.30 L1275.25,303.80 L1275.29,303.30 L1275.34,302.80 L1275.38,302.30 L1275.42,301.80 L1275.47,301.30 L1275.51,300.80 L1275.55,300.30 L1275.60,299.80 L1275.64,299.30 L1275.68,298.80 L1275.73,298.30 L1275.77,297.80 L1275.81,297.30 L1275.85,296.80 L1275.90,296.30 L1275.94,295.80 L1275.98,295.30 L1276.02,294.80 L1276.07,294.30 L1276.11,293.80 L1276.15,293.30 L1276.20,292.80 L1276.24,292.30 L1276.28,291.80 L1276.33,291.30 L1276.37,290.80 L1276.41,290.30 L1276.46,289.80 L1276.50,289.30 L1276.55,288.80 L1276.59,288.30 L1276.63,287.80 L1276.68,287.30 L1276.73,286.80 L1276.77,286.30 L1276.82,285.80 L1276.87,285.30 L1276.91,284.80 L1276.96,284.30 L1277.01,283.80 L1277.07,283.30 L1277.12,282.80 L1277.17,282.30 L1277.22,281.80 L1277.28,281.30 L1277.33,280.80 L1277.39,280.30 L1277.44,279.80 L1277.50,279.30 L1277.56,278.80 L1277.61,278.30 L1277.67,277.80 L1277.73,277.30 L1277.78,276.80 L1277.84,276.30 L1277.90,275.80 L1277.96,275.30 L1278.01,274.80 L1278.07,274.30 L1278.13,273.80 L1278.18,273.30 L1278.24,272.80 L1278.30,272.30 L1278.35,271.80 L1278.41,271.30 L1278.46,270.80 L1278.52,270.30 L1278.57,269.80 L1278.62,269.30 L1278.67,268.80 L1278.73,268.30 L1278.78,267.80 L1278.83,267.30 L1278.87,266.80 L1278.92,266.30 L1278.97,265.80 L1279.01,265.30 L1279.06,264.80 L1279.10,264.30 L1279.14,263.80 L1279.18,263.30 L1279.22,262.80 L1279.26,262.30 L1279.30,261.80 L1279.33,261.30 L1279.36,260.80 L1279.39,260.30 L1279.42,259.80 L1279.45,259.30 L1279.48,258.80 L1279.51,258.30 L1279.54,257.80 L1279.56,257.30 L1279.59,256.80 L1279.62,256.30 L1279.64,255.80 L1279.67,255.30 L1279.69,254.80 L1279.72,254.30 L1279.74,253.80 L1279.77,253.30 L1279.79,252.80 L1279.81,252.30 L1279.83,251.80 L1279.86,251.30 L1279.88,250.80 L1279.90,250.30 L1279.92,249.80 L1279.94,249.30 L1279.96,248.80 L1279.98,248.30 L1280.00,247.80 L1280.02,247.30 L1280.04,246.80 L1280.06,246.30 L1280.08,245.80 L1280.10,245.30 L1280.12,244.80 L1280.14,244.30 L1280.16,243.80 L1280.18,243.30 L1280.19,242.80 L1280.21,242.30 L1280.23,241.80 L1280.25,241.30 L1280.27,240.80 L1280.28,240.30 L1280.30,239.80 L1280.32,239.30 L1280.34,238.80 L1280.36,238.30 L1280.38,237.80 L1280.39,237.30 L1280.41,236.80 L1280.43,236.30 L1280.45,235.80 L1280.47,235.30 L1280.49,234.80 L1280.50,234.30 L1280.52,233.80 L1280.54,233.30 L1280.56,232.80 L1280.58,232.30 L1280.60,231.80 L1280.61,231.30 L1280.63,230.80 L1280.65,230.30 L1280.67,229.80 L1280.68,229.30 L1280.70,228.80 L1280.72,228.30 L1280.74,227.80 L1280.75,227.30 L1280.77,226.80 L1280.79,226.30 L1280.80,225.80 L1280.82,225.30 L1280.84,224.80 L1280.85,224.30 L1280.87,223.80 L1280.89,223.30 L1280.90,222.80 L1280.92,222.30 L1280.94,221.80 L1280.95,221.30 L1280.97,220.80 L1280.99,220.30 L1281.00,219.80 L1281.02,219.30 L1281.03,218.80 L1281.05,218.30 L1281.07,217.80 L1281.08,217.30 L1281.10,216.80 L1281.11,216.30 L1281.13,215.80 L1281.15,215.30 L1281.16,214.80 L1281.18,214.30 L1281.19,213.80 L1281.21,213.30 L1281.22,212.80 L1281.24,212.30 L1281.26,211.80 L1281.27,211.30 L1281.29,210.80 L1281.30,210.30 L1281.32,209.80 L1281.34,209.30 L1281.35,208.80 L1281.37,208.30 L1281.39,207.80 L1281.40,207.30 L1281.42,206.80 L1281.43,206.30 L1281.45,205.80 L1281.47,205.30 L1281.48,204.80 L1281.50,204.30Z" fill="#ee2a27" stroke="#222" stroke-width="1.8" stroke-linejoin="round"/>
<rect x="1267.5" y="449.2" width="28.1" height="136.8" fill="none" stroke="#222" stroke-width="1.4"/>
<line x1="1282.0" y1="204.0" x2="1282.0" y2="449.2" stroke="#333" stroke-width="1.5"/>
<line x1="1267.5" y1="586.0" x2="1295.6" y2="586.0" stroke="#111111" stroke-width="3"/>
<text x="4.5" y="716.7" font-size="42" font-weight="bold" text-anchor="start" fill="#111111">b.</text>
<text x="99.0" y="715.0" font-size="32" font-weight="bold" text-anchor="start" fill="#111111">GSE214695</text>
<text x="99.5" y="761.2" font-size="37" text-anchor="start" fill="#111111">Fibroblasts</text>
<line x1="195.2" y1="785.6" x2="195.2" y2="1261.4" stroke="#111111" stroke-width="1.9"/>
<line x1="194.2" y1="1260.4" x2="619.0" y2="1260.4" stroke="#111111" stroke-width="1.9"/>
<line x1="188.2" y1="884.9" x2="195.2" y2="884.9" stroke="#111111" stroke-width="1.5"/>
<text x="184.2" y="892.1" font-size="20.3" text-anchor="end" fill="#111111">10</text>
<line x1="188.2" y1="1011.1" x2="195.2" y2="1011.1" stroke="#111111" stroke-width="1.5"/>
<text x="184.2" y="1018.3" font-size="20.3" text-anchor="end" fill="#111111">0</text>
<line x1="188.2" y1="1137.9" x2="195.2" y2="1137.9" stroke="#111111" stroke-width="1.5"/>
<text x="184.2" y="1145.1" font-size="20.3" text-anchor="end" fill="#111111">−10</text>
<line x1="256.2" y1="1260.4" x2="256.2" y2="1267.4" stroke="#111111" stroke-width="1.5"/>
<text x="256.2" y="1286.4" font-size="20.3" text-anchor="middle" fill="#111111">−10</text>
<line x1="324.7" y1="1260.4" x2="324.7" y2="1267.4" stroke="#111111" stroke-width="1.5"/>
<text x="324.7" y="1286.4" font-size="20.3" text-anchor="middle" fill="#111111">−5</text>
<line x1="393.1" y1="1260.4" x2="393.1" y2="1267.4" stroke="#111111" stroke-width="1.5"/>
<text x="393.1" y="1286.4" font-size="20.3" text-anchor="middle" fill="#111111">0</text>
<line x1="461.5" y1="1260.4" x2="461.5" y2="1267.4" stroke="#111111" stroke-width="1.5"/>
<text x="461.5" y="1286.4" font-size="20.3" text-anchor="middle" fill="#111111">5</text>
<line x1="530.5" y1="1260.4" x2="530.5" y2="1267.4" stroke="#111111" stroke-width="1.5"/>
<text x="530.5" y="1286.4" font-size="20.3" text-anchor="middle" fill="#111111">10</text>
<line x1="599.5" y1="1260.4" x2="599.5" y2="1267.4" stroke="#111111" stroke-width="1.5"/>
<text x="599.5" y="1286.4" font-size="20.3" text-anchor="middle" fill="#111111">15</text>
<text x="407.0" y="1314.6" font-size="23" text-anchor="middle" fill="#111111">UMAP_1</text>
<text x="137.0" y="1024.0" font-size="23" text-anchor="middle" transform="rotate(-90 137.0 1024.0)" fill="#111111">UMAP_2</text>
<text x="406.5" y="768.8" font-size="27" font-weight="bold" text-anchor="middle" fill="#111111">ACSL4</text>
<defs><linearGradient id="g97" x1="0" y1="0" x2="0" y2="1"><stop offset="0" stop-color="#e6262e"/><stop offset="0.5" stop-color="#e88089"/><stop offset="1" stop-color="#f9f6f7"/></linearGradient></defs>
<rect x="688.7" y="817.8" width="21.4" height="428.2" fill="url(#g97)" stroke="#111" stroke-width="3"/>
<text x="696.0" y="807.6" font-size="14.6" text-anchor="middle" fill="#111111">High Expression</text>
<text x="695.5" y="1261.6" font-size="14.6" text-anchor="middle" fill="#111111">Low Expression</text>
<path d="M420.0,819.7 C422.6,817.5 425.8,814.6 429.0,813.2 C432.3,811.8 435.9,811.1 439.4,811.3 C442.8,811.5 446.9,812.7 449.7,814.5 C452.5,816.3 454.9,819.2 456.1,822.3 C457.3,825.3 457.0,829.4 456.8,832.6 C456.6,835.8 454.8,838.4 454.8,841.6 C454.8,844.8 456.2,848.1 456.8,851.9 C457.3,855.8 458.0,860.5 458.1,864.8 C458.2,869.1 458.2,873.9 457.4,877.7 C456.7,881.6 455.5,884.8 453.5,888.1 C451.6,891.3 448.8,894.5 445.8,897.1 C442.8,899.7 439.1,901.6 435.5,903.5 C431.8,905.5 427.1,907.0 423.9,908.7 C420.6,910.4 417.8,912.2 416.1,913.9 C414.4,915.6 413.1,916.0 413.5,919.0 C414.0,922.0 418.9,928.9 418.7,931.9 C418.5,934.9 414.2,935.5 412.3,937.1 C410.3,938.7 409.0,941.8 407.1,941.6 C405.2,941.4 403.0,937.2 400.6,935.8 C398.3,934.4 394.6,935.6 392.9,933.2 C391.2,930.9 390.1,924.8 390.3,921.6 C390.5,918.4 393.3,916.5 394.2,913.9 C395.1,911.3 396.3,907.8 395.5,906.1 C394.6,904.4 392.0,904.2 389.0,903.5 C386.0,902.9 381.1,902.9 377.4,902.3 C373.8,901.6 370.5,901.0 367.1,899.7 C363.7,898.4 359.4,896.9 356.8,894.5 C354.2,892.2 352.6,888.9 351.6,885.5 C350.6,882.0 350.5,877.7 351.0,873.9 C351.4,870.0 352.8,865.3 354.2,862.3 C355.6,859.2 357.0,857.4 359.4,855.8 C361.7,854.2 366.0,852.4 368.4,852.6 C370.8,852.8 372.3,855.1 373.5,857.1 C374.8,859.1 373.8,862.7 376.1,864.8 C378.5,867.0 384.1,869.1 387.7,870.0 C391.4,870.9 395.5,870.6 398.1,870.0 C400.6,869.4 401.7,868.1 403.2,866.1 C404.7,864.2 406.7,860.3 407.1,858.4 C407.5,856.5 406.5,855.6 405.8,854.5 C405.2,853.4 404.5,853.2 403.2,851.9 C401.9,850.6 399.1,848.9 398.1,846.8 C397.0,844.6 395.9,840.8 396.8,839.0 C397.6,837.3 400.6,837.5 403.2,836.5 C405.8,835.4 410.5,834.3 412.3,832.6 C414.0,830.9 412.3,828.3 413.5,826.1 C414.8,824.0 417.4,821.8 420.0,819.7Z" fill="#c2c2c2"/>
<g><circle cx="404.2" cy="928.8" r="1.20" fill="#d98a80"/><circle cx="362.5" cy="884.7" r="1.20" fill="#d98a80"/><circle cx="395.4" cy="873.0" r="1.20" fill="#d98a80"/><circle cx="409.0" cy="931.9" r="1.20" fill="#d98a80"/><circle cx="431.6" cy="884.8" r="1.20" fill="#d98a80"/><circle cx="427.1" cy="874.2" r="1.20" fill="#d98a80"/><circle cx="441.3" cy="829.6" r="1.20" fill="#d98a80"/><circle cx="444.3" cy="830.3" r="1.20" fill="#d98a80"/><circle cx="370.9" cy="881.5" r="1.20" fill="#d98a80"/><circle cx="443.0" cy="883.7" r="1.20" fill="#d98a80"/><circle cx="423.9" cy="851.3" r="1.20" fill="#d98a80"/><circle cx="356.5" cy="881.3" r="1.20" fill="#d98a80"/></g>
<path d="M363.2,977.7 C363.8,976.0 365.6,977.4 367.1,978.4 C368.6,979.4 369.5,982.9 372.3,983.5 C375.1,984.2 380.0,983.3 383.9,982.3 C387.7,981.2 392.9,979.2 395.5,977.1 C398.1,974.9 397.6,971.5 399.4,969.4 C401.1,967.2 403.4,964.8 405.8,964.2 C408.2,963.5 410.8,964.4 413.5,965.5 C416.3,966.6 418.9,968.3 422.6,970.6 C426.2,973.0 431.2,977.1 435.5,979.7 C439.8,982.3 443.9,983.8 448.4,986.1 C452.9,988.5 458.5,991.3 462.6,993.9 C466.7,996.5 470.6,999.0 472.9,1001.6 C475.2,1004.2 475.9,1005.9 476.1,1009.4 C476.3,1012.8 475.2,1018.4 474.2,1022.3 C473.2,1026.1 471.2,1029.1 470.3,1032.6 C469.5,1036.0 469.7,1039.5 469.0,1042.9 C468.4,1046.3 468.0,1051.0 466.5,1053.2 C464.9,1055.5 462.4,1056.7 460.0,1056.5 C457.6,1056.2 454.6,1053.8 452.3,1051.9 C449.9,1050.1 448.0,1047.6 445.8,1045.5 C443.7,1043.3 441.7,1040.1 439.4,1039.0 C437.0,1038.0 434.2,1038.0 431.6,1039.0 C429.0,1040.1 425.8,1043.3 423.9,1045.5 C421.9,1047.6 421.7,1050.6 420.0,1051.9 C418.3,1053.2 415.1,1054.3 413.5,1053.2 C412.0,1052.2 410.5,1048.1 411.0,1045.5 C411.4,1042.9 414.6,1040.3 416.1,1037.7 C417.6,1035.2 420.0,1032.2 420.0,1030.0 C420.0,1027.8 418.1,1026.6 416.1,1024.8 C414.2,1023.1 410.8,1021.6 408.4,1019.7 C406.0,1017.7 404.1,1015.8 401.9,1013.2 C399.8,1010.6 397.8,1006.1 395.5,1004.2 C393.1,1002.3 390.8,1002.3 387.7,1001.6 C384.7,1001.0 381.1,1000.8 377.4,1000.3 C373.8,999.9 368.1,1001.0 365.8,999.0 C363.5,997.1 364.3,992.3 363.9,988.7 C363.4,985.2 362.7,979.5 363.2,977.7Z" fill="#c2c2c2"/>
<g><circle cx="437.3" cy="1029.7" r="1.20" fill="#d97a70"/><circle cx="409.4" cy="1016.3" r="1.20" fill="#d97a70"/><circle cx="385.9" cy="983.5" r="1.20" fill="#d97a70"/><circle cx="386.2" cy="982.9" r="1.20" fill="#d97a70"/><circle cx="426.6" cy="1038.1" r="1.20" fill="#d97a70"/><circle cx="453.8" cy="1013.5" r="1.20" fill="#d97a70"/><circle cx="421.5" cy="1007.2" r="1.20" fill="#d97a70"/><circle cx="470.6" cy="1002.5" r="1.20" fill="#d97a70"/><circle cx="443.0" cy="1005.0" r="1.20" fill="#d97a70"/><circle cx="448.8" cy="1044.9" r="1.20" fill="#d97a70"/><circle cx="398.2" cy="988.0" r="1.20" fill="#d97a70"/><circle cx="435.6" cy="984.8" r="1.20" fill="#d97a70"/><circle cx="384.0" cy="994.9" r="1.20" fill="#d97a70"/><circle cx="469.3" cy="1012.8" r="1.20" fill="#d97a70"/><circle cx="463.6" cy="1048.4" r="1.20" fill="#d97a70"/><circle cx="460.8" cy="1019.3" r="1.20" fill="#d97a70"/><circle cx="449.9" cy="1034.8" r="1.20" fill="#d97a70"/><circle cx="469.9" cy="1024.8" r="1.20" fill="#d97a70"/><circle cx="402.8" cy="1008.6" r="1.20" fill="#d97a70"/><circle cx="425.5" cy="1036.9" r="1.20" fill="#d97a70"/><circle cx="428.6" cy="1002.3" r="1.20" fill="#d97a70"/><circle cx="428.5" cy="996.7" r="1.20" fill="#d97a70"/><circle cx="397.5" cy="988.3" r="1.20" fill="#d97a70"/><circle cx="423.7" cy="975.0" r="1.20" fill="#d97a70"/><circle cx="445.3" cy="1013.5" r="1.20" fill="#d97a70"/><circle cx="418.4" cy="1037.2" r="1.20" fill="#d97a70"/><circle cx="387.8" cy="986.7" r="1.20" fill="#d97a70"/><circle cx="401.3" cy="973.2" r="1.20" fill="#d97a70"/><circle cx="455.2" cy="995.8" r="1.20" fill="#d97a70"/><circle cx="430.0" cy="981.1" r="1.20" fill="#d97a70"/><circle cx="421.0" cy="979.6" r="1.20" fill="#d97a70"/><circle cx="440.7" cy="1029.6" r="1.20" fill="#d97a70"/><circle cx="452.6" cy="1008.5" r="1.20" fill="#d97a70"/><circle cx="465.8" cy="1033.5" r="1.20" fill="#d97a70"/><circle cx="404.5" cy="1002.1" r="1.20" fill="#d97a70"/><circle cx="429.0" cy="1038.3" r="1.20" fill="#d97a70"/><circle cx="447.3" cy="1041.0" r="1.20" fill="#d97a70"/><circle cx="451.8" cy="1044.5" r="1.20" fill="#d97a70"/><circle cx="453.8" cy="1033.5" r="1.20" fill="#d97a70"/><circle cx="465.8" cy="1027.4" r="1.20" fill="#d97a70"/><circle cx="438.1" cy="1000.6" r="1.20" fill="#d97a70"/><circle cx="456.5" cy="1001.7" r="1.20" fill="#d97a70"/><circle cx="411.4" cy="992.3" r="1.20" fill="#d97a70"/><circle cx="416.9" cy="1002.1" r="1.20" fill="#d97a70"/><circle cx="401.1" cy="983.9" r="1.20" fill="#d97a70"/></g>
<path d="M315.5,1045.5 C318.5,1044.0 327.3,1042.5 332.3,1041.6 C337.2,1040.8 340.4,1040.4 345.2,1040.3 C349.9,1040.2 356.1,1040.3 360.6,1041.0 C365.2,1041.6 369.0,1042.6 372.3,1044.2 C375.5,1045.8 378.1,1048.5 380.0,1050.6 C381.9,1052.8 382.4,1055.4 383.9,1057.1 C385.4,1058.8 386.7,1061.4 389.0,1061.0 C391.4,1060.5 395.3,1056.5 398.1,1054.5 C400.9,1052.6 403.2,1050.0 405.8,1049.4 C408.4,1048.7 411.2,1048.9 413.5,1050.6 C415.9,1052.4 418.7,1055.8 420.0,1059.7 C421.3,1063.5 420.9,1069.6 421.3,1073.9 C421.7,1078.2 422.6,1081.4 422.6,1085.5 C422.6,1089.6 422.8,1094.1 421.3,1098.4 C419.8,1102.7 415.9,1107.4 413.5,1111.3 C411.2,1115.2 409.2,1118.6 407.1,1121.6 C404.9,1124.6 403.4,1128.3 400.6,1129.4 C397.8,1130.4 393.8,1129.4 390.3,1128.1 C386.9,1126.8 383.0,1122.9 380.0,1121.6 C377.0,1120.3 375.3,1119.9 372.3,1120.3 C369.2,1120.8 365.4,1123.3 361.9,1124.2 C358.5,1125.1 355.5,1125.5 351.6,1125.5 C347.7,1125.5 342.2,1125.7 338.7,1124.2 C335.3,1122.7 332.9,1119.5 331.0,1116.5 C329.0,1113.4 327.1,1109.6 327.1,1106.1 C327.1,1102.7 331.0,1098.8 331.0,1095.8 C331.0,1092.8 328.8,1090.9 327.1,1088.1 C325.4,1085.3 323.0,1082.3 320.6,1079.0 C318.3,1075.8 314.3,1071.9 312.9,1068.7 C311.5,1065.5 312.0,1062.7 312.3,1059.7 C312.5,1056.7 313.7,1053.0 314.2,1050.6 C314.7,1048.3 312.5,1047.0 315.5,1045.5Z" fill="#c2c2c2"/>
<g><circle cx="380.6" cy="1066.3" r="1.20" fill="#d98a80"/><circle cx="357.2" cy="1088.2" r="1.20" fill="#d98a80"/><circle cx="403.0" cy="1056.7" r="1.20" fill="#d98a80"/><circle cx="352.2" cy="1060.3" r="1.20" fill="#d98a80"/><circle cx="346.3" cy="1068.7" r="1.20" fill="#d98a80"/><circle cx="355.4" cy="1041.1" r="1.20" fill="#d98a80"/><circle cx="416.5" cy="1080.8" r="1.20" fill="#d98a80"/><circle cx="393.5" cy="1100.5" r="1.20" fill="#d98a80"/><circle cx="340.2" cy="1077.4" r="1.20" fill="#d98a80"/><circle cx="352.2" cy="1099.2" r="1.20" fill="#d98a80"/><circle cx="366.7" cy="1101.9" r="1.20" fill="#d98a80"/><circle cx="373.8" cy="1080.2" r="1.20" fill="#d98a80"/><circle cx="392.7" cy="1107.1" r="1.20" fill="#d98a80"/><circle cx="415.6" cy="1064.5" r="1.20" fill="#d98a80"/><circle cx="381.5" cy="1061.8" r="1.20" fill="#d98a80"/><circle cx="383.8" cy="1112.0" r="1.20" fill="#d98a80"/><circle cx="352.0" cy="1120.7" r="1.20" fill="#d98a80"/><circle cx="403.4" cy="1111.0" r="1.20" fill="#d98a80"/><circle cx="334.4" cy="1112.2" r="1.20" fill="#d98a80"/><circle cx="346.7" cy="1045.1" r="1.20" fill="#d98a80"/></g>
<path d="M267.3,989.1 C268.8,987.4 272.6,986.8 275.3,985.1 C278.0,983.4 280.6,980.9 283.3,979.1 C286.0,977.2 288.7,975.4 291.3,974.1 C294.0,972.7 298.4,970.0 299.4,971.0 C300.4,972.0 298.0,977.2 297.4,980.1 C296.7,982.9 295.7,985.6 295.4,988.1 C295.0,990.6 294.4,992.5 295.4,995.1 C296.4,997.8 299.2,1001.6 301.4,1004.2 C303.6,1006.7 306.2,1008.3 308.4,1010.2 C310.6,1012.0 313.3,1013.7 314.4,1015.2 C315.6,1016.7 315.6,1017.9 315.4,1019.2 C315.3,1020.6 314.6,1023.2 313.4,1023.2 C312.3,1023.2 310.4,1020.4 308.4,1019.2 C306.4,1018.0 303.9,1017.2 301.4,1016.2 C298.9,1015.2 296.4,1013.7 293.4,1013.2 C290.3,1012.7 286.0,1013.4 283.3,1013.2 C280.6,1013.0 279.3,1013.2 277.3,1012.2 C275.3,1011.2 272.8,1008.8 271.3,1007.2 C269.8,1005.5 269.1,1004.2 268.3,1002.2 C267.4,1000.1 266.4,997.3 266.3,995.1 C266.1,993.0 265.8,990.8 267.3,989.1Z" fill="#c2c2c2"/>
<g><circle cx="286.1" cy="1006.6" r="1.20" fill="#d4553b"/><circle cx="289.4" cy="1000.2" r="1.20" fill="#d4553b"/><circle cx="279.8" cy="990.0" r="1.20" fill="#d4553b"/></g>
<path d="M228.1,1089.5 C229.6,1088.8 233.3,1087.8 235.1,1088.5 C237.0,1089.1 238.7,1091.1 239.2,1093.5 C239.7,1095.8 237.5,1100.3 238.2,1102.5 C238.8,1104.7 241.7,1105.2 243.2,1106.5 C244.7,1107.9 246.7,1108.9 247.2,1110.5 C247.7,1112.2 247.0,1114.9 246.2,1116.6 C245.3,1118.2 242.0,1119.6 242.2,1120.6 C242.3,1121.6 245.7,1121.2 247.2,1122.6 C248.7,1123.9 249.9,1126.3 251.2,1128.6 C252.5,1130.9 252.9,1136.0 255.2,1136.6 C257.6,1137.3 262.6,1133.6 265.3,1132.6 C267.9,1131.6 269.3,1131.1 271.3,1130.6 C273.3,1130.1 276.6,1128.3 277.3,1129.6 C278.0,1130.9 276.3,1135.8 275.3,1138.6 C274.3,1141.5 272.6,1144.7 271.3,1146.7 C269.9,1148.7 268.4,1149.2 267.3,1150.7 C266.1,1152.2 265.6,1154.2 264.2,1155.7 C262.9,1157.2 261.4,1159.0 259.2,1159.7 C257.1,1160.4 254.0,1160.2 251.2,1159.7 C248.4,1159.2 244.7,1158.2 242.2,1156.7 C239.7,1155.2 237.3,1152.9 236.1,1150.7 C235.0,1148.5 235.6,1146.0 235.1,1143.7 C234.6,1141.3 234.1,1138.8 233.1,1136.6 C232.1,1134.5 229.8,1133.3 229.1,1130.6 C228.5,1127.9 228.8,1123.3 229.1,1120.6 C229.5,1117.9 231.3,1116.4 231.1,1114.6 C231.0,1112.7 228.8,1111.5 228.1,1109.5 C227.5,1107.5 227.6,1104.5 227.1,1102.5 C226.6,1100.5 225.3,1099.2 225.1,1097.5 C224.9,1095.8 225.6,1093.8 226.1,1092.5 C226.6,1091.1 226.6,1090.1 228.1,1089.5Z" fill="#c2c2c2"/>
<g><circle cx="251.3" cy="1146.4" r="1.30" fill="#d4553b"/><circle cx="240.6" cy="1126.0" r="1.30" fill="#d4553b"/><circle cx="260.1" cy="1145.5" r="1.30" fill="#d4553b"/><circle cx="237.1" cy="1147.5" r="1.30" fill="#d4553b"/><circle cx="267.6" cy="1148.4" r="1.30" fill="#d4553b"/><circle cx="250.0" cy="1130.2" r="1.30" fill="#d4553b"/><circle cx="251.3" cy="1138.5" r="1.30" fill="#d4553b"/><circle cx="235.3" cy="1130.2" r="1.30" fill="#d4553b"/><circle cx="232.7" cy="1115.1" r="1.30" fill="#d4553b"/><circle cx="253.1" cy="1133.2" r="1.30" fill="#d4553b"/><circle cx="261.4" cy="1145.6" r="1.30" fill="#d4553b"/><circle cx="236.0" cy="1145.2" r="1.30" fill="#d4553b"/><circle cx="259.7" cy="1151.9" r="1.30" fill="#d4553b"/><circle cx="258.2" cy="1142.6" r="1.30" fill="#d4553b"/><circle cx="260.9" cy="1142.2" r="1.30" fill="#d4553b"/><circle cx="244.4" cy="1140.6" r="1.30" fill="#d4553b"/><circle cx="244.4" cy="1146.5" r="1.30" fill="#d4553b"/><circle cx="238.7" cy="1135.6" r="1.30" fill="#d4553b"/><circle cx="241.0" cy="1117.7" r="1.30" fill="#d4553b"/><circle cx="234.4" cy="1125.1" r="1.30" fill="#d4553b"/><circle cx="268.6" cy="1138.9" r="1.30" fill="#d4553b"/><circle cx="253.1" cy="1147.1" r="1.30" fill="#d4553b"/><circle cx="255.2" cy="1147.6" r="1.30" fill="#d4553b"/><circle cx="246.4" cy="1145.0" r="1.30" fill="#d4553b"/><circle cx="235.3" cy="1135.4" r="1.30" fill="#d4553b"/><circle cx="237.6" cy="1142.7" r="1.30" fill="#d4553b"/><circle cx="241.3" cy="1123.7" r="1.30" fill="#d4553b"/><circle cx="247.5" cy="1123.9" r="1.30" fill="#d4553b"/><circle cx="260.2" cy="1152.7" r="1.30" fill="#d4553b"/><circle cx="266.8" cy="1147.5" r="1.30" fill="#d4553b"/></g>
<path d="M312.6,1195.9 C312.4,1194.4 313.7,1191.0 314.9,1187.8 C316.2,1184.7 318.8,1178.7 320.1,1176.9 C321.3,1175.2 322.6,1175.7 322.4,1177.5 C322.1,1179.3 319.4,1184.7 318.3,1187.8 C317.3,1191.0 317.0,1195.1 316.1,1196.4 C315.1,1197.8 312.8,1197.3 312.6,1195.9Z" fill="#c2c2c2"/>
<path d="M397.5,1194.7 C398.4,1193.4 401.1,1193.4 403.2,1193.6 C405.3,1193.8 408.8,1194.7 410.1,1195.9 C411.4,1197.0 411.5,1198.2 411.2,1200.5 C411.0,1202.8 408.9,1206.6 408.4,1209.6 C407.8,1212.7 407.5,1215.6 407.8,1218.8 C408.1,1222.1 410.1,1226.5 410.1,1229.1 C410.1,1231.8 409.3,1233.3 407.8,1234.9 C406.3,1236.4 403.6,1237.7 400.9,1238.3 C398.2,1238.9 394.2,1238.9 391.7,1238.3 C389.3,1237.7 387.3,1236.4 386.0,1234.9 C384.7,1233.3 384.5,1231.0 383.7,1229.1 C383.0,1227.2 382.0,1225.7 381.4,1223.4 C380.8,1221.1 381.4,1217.7 380.3,1215.4 C379.1,1213.1 376.5,1210.8 374.5,1209.6 C372.6,1208.5 370.5,1208.1 368.8,1208.5 C367.1,1208.9 366.3,1210.6 364.2,1211.9 C362.1,1213.3 358.1,1214.6 356.2,1216.5 C354.3,1218.4 352.9,1223.0 352.8,1223.4 C352.6,1223.8 353.9,1220.3 355.0,1218.8 C356.2,1217.3 357.3,1216.3 359.6,1214.2 C361.9,1212.1 365.7,1207.3 368.8,1206.2 C371.9,1205.0 375.5,1207.7 378.0,1207.3 C380.5,1207.0 381.8,1204.3 383.7,1203.9 C385.6,1203.5 387.7,1204.5 389.4,1205.0 C391.2,1205.6 392.7,1207.9 394.0,1207.3 C395.4,1206.8 396.9,1203.7 397.5,1201.6 C398.1,1199.5 396.5,1196.1 397.5,1194.7Z" fill="#c2c2c2"/>
<g><circle cx="401.6" cy="1222.3" r="1.20" fill="#d4553b"/><circle cx="385.4" cy="1221.6" r="1.20" fill="#d4553b"/><circle cx="399.8" cy="1213.9" r="1.20" fill="#d4553b"/><circle cx="402.9" cy="1209.9" r="1.20" fill="#d4553b"/><circle cx="399.2" cy="1214.9" r="1.20" fill="#d4553b"/><circle cx="402.5" cy="1217.2" r="1.20" fill="#d4553b"/><circle cx="394.3" cy="1235.9" r="1.20" fill="#d4553b"/><circle cx="398.0" cy="1226.0" r="1.20" fill="#d4553b"/><circle cx="401.3" cy="1228.7" r="1.20" fill="#d4553b"/><circle cx="406.2" cy="1232.0" r="1.20" fill="#d4553b"/><circle cx="405.7" cy="1210.7" r="1.20" fill="#d4553b"/><circle cx="408.0" cy="1213.3" r="1.20" fill="#d4553b"/><circle cx="397.3" cy="1219.1" r="1.20" fill="#d4553b"/><circle cx="394.7" cy="1214.6" r="1.20" fill="#d4553b"/><circle cx="399.5" cy="1233.3" r="1.20" fill="#d4553b"/><circle cx="389.8" cy="1226.7" r="1.20" fill="#d4553b"/><circle cx="405.9" cy="1202.5" r="1.20" fill="#d4553b"/><circle cx="407.2" cy="1203.4" r="1.20" fill="#d4553b"/></g>
<path d="M384.3,1203.9 C384.3,1202.1 386.1,1201.8 387.2,1202.8 C388.2,1203.7 390.2,1207.7 390.6,1209.6 C391.0,1211.5 390.0,1213.6 389.4,1214.2 C388.9,1214.9 388.0,1215.4 387.2,1213.6 C386.3,1211.9 384.3,1205.7 384.3,1203.9Z" fill="#d4553b"/>
<path d="M539.8,957.2 C539.8,956.6 540.3,955.2 541.0,953.7 C541.7,952.1 543.1,949.7 544.2,948.1 C545.2,946.6 546.5,944.7 547.3,944.2 C548.2,943.7 549.5,944.5 549.3,945.4 C549.1,946.3 547.2,948.1 546.1,949.7 C545.1,951.4 543.8,953.9 543.0,955.2 C542.2,956.6 541.9,957.3 541.4,957.6 C540.9,957.9 539.9,957.9 539.8,957.2Z" fill="#c2c2c2"/>
<path d="M561.5,1023.1 C562.3,1022.6 564.8,1021.7 567.0,1021.5 C569.3,1021.3 572.3,1022.0 574.9,1021.9 C577.5,1021.7 580.7,1021.0 582.8,1020.7 C584.9,1020.4 586.6,1019.5 587.5,1019.9 C588.5,1020.3 589.1,1022.1 588.7,1023.1 C588.3,1024.0 586.6,1025.3 585.2,1025.8 C583.8,1026.3 582.2,1026.3 580.4,1026.2 C578.7,1026.1 577.2,1025.7 574.9,1025.4 C572.7,1025.2 569.1,1024.8 567.0,1024.6 C564.9,1024.4 563.2,1024.5 562.3,1024.2 C561.4,1024.0 560.7,1023.5 561.5,1023.1Z" fill="#c2c2c2"/>
<path d="M581.2,1021.5 C582.2,1020.6 585.5,1019.6 586.8,1019.9 C588.0,1020.2 589.0,1022.1 588.7,1023.1 C588.5,1024.0 586.4,1025.5 585.2,1025.8 C583.9,1026.1 581.9,1025.8 581.2,1025.0 C580.6,1024.3 580.3,1022.3 581.2,1021.5Z" fill="#e07565"/>
<text x="384.6" y="835.5" font-size="18.5" text-anchor="start" fill="#111111">Enterocytes</text>
<text x="318.3" y="887.5" font-size="18.5" text-anchor="start" fill="#111111">Goblet cells</text>
<text x="509.5" y="957.2" font-size="18.5" text-anchor="start" fill="#111111">Tuft cells</text>
<text x="257.3" y="1004.2" font-size="18.5" text-anchor="start" fill="#111111">B cells</text>
<text x="408.5" y="1009.5" font-size="18.5" text-anchor="start" fill="#111111">T cells</text>
<text x="551.3" y="1019.1" font-size="18.5" text-anchor="start" fill="#111111">Mast</text>
<text x="555.2" y="1040.3" font-size="18.5" text-anchor="start" fill="#111111">cells</text>
<text x="519.9" y="1083.8" font-size="18.5" text-anchor="start" fill="#111111">Schwann</text>
<text x="541.1" y="1105.0" font-size="18.5" text-anchor="start" fill="#111111">cells</text>
<text x="333.2" y="1090.7" font-size="18.5" text-anchor="start" fill="#111111">Plasma cells</text>
<text x="197.9" y="1102.4" font-size="18.5" text-anchor="start" fill="#111111">Macrophages</text>
<text x="195.2" y="1143.2" font-size="18.5" text-anchor="start" fill="#111111">Dendritic cells</text>
<text x="248.3" y="1192.5" font-size="18.5" text-anchor="start" fill="#111111">Endothelial cells</text>
<text x="352.8" y="1227.0" font-size="18.5" text-anchor="start" fill="#111111">Fibroblasts</text>
<line x1="846.4" y1="789.0" x2="846.4" y2="1240.3" stroke="#111111" stroke-width="2"/>
<line x1="845.4" y1="1239.3" x2="1465.0" y2="1239.3" stroke="#111111" stroke-width="2"/>
<line x1="839.4" y1="1219.0" x2="846.4" y2="1219.0" stroke="#111111" stroke-width="1.5"/>
<text x="832.4" y="1227.4" font-size="24" text-anchor="end" fill="#111111">0</text>
<line x1="839.4" y1="1097.3" x2="846.4" y2="1097.3" stroke="#111111" stroke-width="1.5"/>
<text x="832.4" y="1105.7" font-size="24" text-anchor="end" fill="#111111">1</text>
<line x1="839.4" y1="975.7" x2="846.4" y2="975.7" stroke="#111111" stroke-width="1.5"/>
<text x="832.4" y="984.1" font-size="24" text-anchor="end" fill="#111111">2</text>
<line x1="839.4" y1="854.1" x2="846.4" y2="854.1" stroke="#111111" stroke-width="1.5"/>
<text x="832.4" y="862.5" font-size="24" text-anchor="end" fill="#111111">3</text>
<line x1="962.5" y1="1239.3" x2="962.5" y2="1246.8" stroke="#111111" stroke-width="1.5"/>
<text x="977.6" y="1263.9" font-size="24" text-anchor="end" transform="rotate(-45 977.6 1263.9)" fill="#111111">Normal</text>
<line x1="1155.2" y1="1239.3" x2="1155.2" y2="1246.8" stroke="#111111" stroke-width="1.5"/>
<text x="1168.3" y="1258.1" font-size="24" text-anchor="end" transform="rotate(-45 1168.3 1258.1)" fill="#111111">CD</text>
<line x1="1348.2" y1="1239.3" x2="1348.2" y2="1246.8" stroke="#111111" stroke-width="1.5"/>
<text x="1365.6" y="1258.1" font-size="24" text-anchor="end" transform="rotate(-45 1365.6 1258.1)" fill="#111111">UC</text>
<text x="1155.2" y="768.0" font-size="32" font-weight="bold" text-anchor="middle" fill="#111111">ACSL4</text>
<text x="806.0" y="1015.0" font-size="28.3" text-anchor="middle" transform="rotate(-90 806.0 1015.0)" fill="#111111">Expression Level</text>
<path d="M963.00,1008.40 L963.03,1008.90 L963.07,1009.40 L963.10,1009.90 L963.14,1010.40 L963.17,1010.90 L963.21,1011.40 L963.24,1011.90 L963.28,1012.40 L963.31,1012.90 L963.35,1013.40 L963.38,1013.90 L963.41,1014.40 L963.45,1014.90 L963.48,1015.40 L963.52,1015.90 L963.55,1016.40 L963.59,1016.90 L963.62,1017.40 L963.66,1017.90 L963.69,1018.40 L963.72,1018.90 L963.76,1019.40 L963.79,1019.90 L963.83,1020.40 L963.86,1020.90 L963.89,1021.40 L963.93,1021.90 L963.96,1022.40 L963.99,1022.90 L964.03,1023.40 L964.06,1023.90 L964.09,1024.40 L964.12,1024.90 L964.16,1025.40 L964.19,1025.90 L964.22,1026.40 L964.25,1026.90 L964.29,1027.40 L964.32,1027.90 L964.35,1028.40 L964.38,1028.90 L964.41,1029.40 L964.45,1029.90 L964.48,1030.40 L964.51,1030.90 L964.54,1031.40 L964.57,1031.90 L964.61,1032.40 L964.64,1032.90 L964.67,1033.40 L964.70,1033.90 L964.73,1034.40 L964.76,1034.90 L964.80,1035.40 L964.83,1035.90 L964.86,1036.40 L964.89,1036.90 L964.92,1037.40 L964.95,1037.90 L964.99,1038.40 L965.02,1038.90 L965.05,1039.40 L965.08,1039.90 L965.11,1040.40 L965.14,1040.90 L965.18,1041.40 L965.21,1041.90 L965.24,1042.40 L965.27,1042.90 L965.30,1043.40 L965.33,1043.90 L965.36,1044.40 L965.39,1044.90 L965.42,1045.40 L965.45,1045.90 L965.48,1046.40 L965.51,1046.90 L965.54,1047.40 L965.57,1047.90 L965.60,1048.40 L965.63,1048.90 L965.66,1049.40 L965.69,1049.90 L965.72,1050.40 L965.75,1050.90 L965.78,1051.40 L965.81,1051.90 L965.85,1052.40 L965.88,1052.90 L965.91,1053.40 L965.95,1053.90 L965.98,1054.40 L966.02,1054.90 L966.05,1055.40 L966.09,1055.90 L966.12,1056.40 L966.16,1056.90 L966.20,1057.40 L966.24,1057.90 L966.28,1058.40 L966.32,1058.90 L966.36,1059.40 L966.40,1059.90 L966.44,1060.40 L966.48,1060.90 L966.52,1061.40 L966.57,1061.90 L966.61,1062.40 L966.65,1062.90 L966.70,1063.40 L966.74,1063.90 L966.79,1064.40 L966.83,1064.90 L966.88,1065.40 L966.93,1065.90 L966.97,1066.40 L967.02,1066.90 L967.07,1067.40 L967.12,1067.90 L967.18,1068.40 L967.23,1068.90 L967.28,1069.40 L967.34,1069.90 L967.39,1070.40 L967.45,1070.90 L967.51,1071.40 L967.56,1071.90 L967.62,1072.40 L967.68,1072.90 L967.75,1073.40 L967.81,1073.90 L967.87,1074.40 L967.94,1074.90 L968.01,1075.40 L968.08,1075.90 L968.15,1076.40 L968.22,1076.90 L968.30,1077.40 L968.38,1077.90 L968.46,1078.40 L968.54,1078.90 L968.62,1079.40 L968.71,1079.90 L968.80,1080.40 L968.89,1080.90 L968.98,1081.40 L969.07,1081.90 L969.17,1082.40 L969.27,1082.90 L969.37,1083.40 L969.47,1083.90 L969.57,1084.40 L969.68,1084.90 L969.79,1085.40 L969.90,1085.90 L970.01,1086.40 L970.12,1086.90 L970.24,1087.40 L970.36,1087.90 L970.48,1088.40 L970.60,1088.90 L970.73,1089.40 L970.86,1089.90 L970.99,1090.40 L971.13,1090.90 L971.28,1091.40 L971.43,1091.90 L971.58,1092.40 L971.74,1092.90 L971.90,1093.40 L972.07,1093.90 L972.24,1094.40 L972.41,1094.90 L972.59,1095.40 L972.77,1095.90 L972.95,1096.40 L973.14,1096.90 L973.33,1097.40 L973.52,1097.90 L973.72,1098.40 L973.92,1098.90 L974.14,1099.40 L974.37,1099.90 L974.61,1100.40 L974.86,1100.90 L975.12,1101.40 L975.39,1101.90 L975.66,1102.40 L975.94,1102.90 L976.21,1103.40 L976.48,1103.90 L976.75,1104.40 L977.01,1104.90 L977.27,1105.40 L977.52,1105.90 L977.75,1106.40 L977.97,1106.90 L978.18,1107.40 L978.39,1107.90 L978.60,1108.40 L978.80,1108.90 L979.01,1109.40 L979.21,1109.90 L979.42,1110.40 L979.61,1110.90 L979.80,1111.40 L979.99,1111.90 L980.17,1112.40 L980.33,1112.90 L980.49,1113.40 L980.64,1113.90 L980.78,1114.40 L980.91,1114.90 L981.02,1115.40 L981.12,1115.90 L981.21,1116.40 L981.31,1116.90 L981.40,1117.40 L981.49,1117.90 L981.58,1118.40 L981.66,1118.90 L981.74,1119.40 L981.82,1119.90 L981.89,1120.40 L981.96,1120.90 L982.02,1121.40 L982.07,1121.90 L982.12,1122.40 L982.15,1122.90 L982.18,1123.40 L982.19,1123.90 L982.20,1124.40 L982.18,1124.90 L982.12,1125.40 L982.02,1125.90 L981.88,1126.40 L981.72,1126.90 L981.53,1127.40 L981.31,1127.90 L981.07,1128.40 L980.82,1128.90 L980.55,1129.40 L980.27,1129.90 L979.98,1130.40 L979.69,1130.90 L979.40,1131.40 L979.11,1131.90 L978.83,1132.40 L978.55,1132.90 L978.28,1133.40 L977.99,1133.90 L977.67,1134.40 L977.35,1134.90 L977.00,1135.40 L976.65,1135.90 L976.29,1136.40 L975.92,1136.90 L975.54,1137.40 L975.16,1137.90 L974.78,1138.40 L974.41,1138.90 L974.04,1139.40 L973.67,1139.90 L973.31,1140.40 L972.96,1140.90 L972.63,1141.40 L972.31,1141.90 L971.98,1142.40 L971.66,1142.90 L971.33,1143.40 L971.01,1143.90 L970.68,1144.40 L970.36,1144.90 L970.05,1145.40 L969.73,1145.90 L969.43,1146.40 L969.13,1146.90 L968.84,1147.40 L968.55,1147.90 L968.28,1148.40 L968.02,1148.90 L967.77,1149.40 L967.53,1149.90 L967.31,1150.40 L967.09,1150.90 L966.87,1151.40 L966.65,1151.90 L966.43,1152.40 L966.22,1152.90 L966.01,1153.40 L965.80,1153.90 L965.61,1154.40 L965.42,1154.90 L965.24,1155.40 L965.08,1155.90 L964.92,1156.40 L964.78,1156.90 L964.66,1157.40 L964.55,1157.90 L964.46,1158.40 L964.39,1158.90 L964.32,1159.40 L964.27,1159.90 L964.21,1160.40 L964.16,1160.90 L964.11,1161.40 L964.07,1161.90 L964.03,1162.40 L963.99,1162.90 L963.95,1163.40 L963.91,1163.90 L963.88,1164.40 L963.85,1164.90 L963.82,1165.40 L963.79,1165.90 L963.76,1166.40 L963.73,1166.90 L963.70,1167.40 L963.67,1167.90 L963.64,1168.40 L963.61,1168.90 L963.58,1169.40 L963.54,1169.90 L963.51,1170.40 L963.48,1170.90 L963.45,1171.40 L963.43,1171.90 L963.40,1172.40 L963.38,1172.90 L963.36,1173.40 L963.34,1173.90 L963.32,1174.40 L963.31,1174.90 L963.30,1175.40 L963.30,1175.90 L963.30,1176.40 L963.32,1176.90 L963.34,1177.40 L963.38,1177.90 L963.42,1178.40 L963.48,1178.90 L963.54,1179.40 L963.61,1179.90 L963.70,1180.40 L963.79,1180.90 L963.89,1181.40 L963.99,1181.90 L964.11,1182.40 L964.23,1182.90 L964.36,1183.40 L964.50,1183.90 L964.64,1184.40 L964.81,1184.90 L965.09,1185.40 L965.46,1185.90 L965.91,1186.40 L966.41,1186.90 L966.95,1187.40 L967.51,1187.90 L968.07,1188.40 L968.60,1188.90 L969.10,1189.40 L969.59,1189.90 L970.07,1190.40 L970.57,1190.90 L971.09,1191.40 L971.65,1191.90 L972.25,1192.40 L972.91,1192.90 L973.64,1193.40 L974.48,1193.90 L975.47,1194.40 L976.59,1194.90 L977.83,1195.40 L979.15,1195.90 L980.56,1196.40 L982.01,1196.90 L983.50,1197.40 L985.12,1197.90 L986.88,1198.40 L988.77,1198.90 L990.73,1199.40 L992.75,1199.90 L994.79,1200.40 L996.82,1200.90 L998.81,1201.40 L1000.76,1201.90 L1002.71,1202.40 L1004.68,1202.90 L1006.66,1203.40 L1008.64,1203.90 L1010.63,1204.40 L1012.62,1204.90 L1014.60,1205.40 L1016.61,1205.90 L1018.66,1206.40 L1020.73,1206.90 L1022.80,1207.40 L1024.84,1207.90 L1026.82,1208.40 L1028.74,1208.90 L1030.55,1209.40 L1032.30,1209.90 L1034.06,1210.40 L1035.80,1210.90 L1037.48,1211.40 L1039.08,1211.90 L1040.56,1212.40 L1041.88,1212.90 L1043.00,1213.40 L1043.98,1213.90 L1044.94,1214.40 L1045.86,1214.90 L1046.72,1215.40 L1047.48,1215.90 L1048.13,1216.40 L1048.62,1216.90 L1048.93,1217.40 L1049.07,1217.90 L1049.14,1218.40 L1049.20,1218.80 L875.20,1218.80 L875.26,1218.40 L875.33,1217.90 L875.47,1217.40 L875.78,1216.90 L876.27,1216.40 L876.92,1215.90 L877.68,1215.40 L878.54,1214.90 L879.46,1214.40 L880.42,1213.90 L881.40,1213.40 L882.52,1212.90 L883.84,1212.40 L885.32,1211.90 L886.92,1211.40 L888.60,1210.90 L890.34,1210.40 L892.10,1209.90 L893.85,1209.40 L895.66,1208.90 L897.58,1208.40 L899.56,1207.90 L901.60,1207.40 L903.67,1206.90 L905.74,1206.40 L907.79,1205.90 L909.80,1205.40 L911.78,1204.90 L913.77,1204.40 L915.76,1203.90 L917.74,1203.40 L919.72,1202.90 L921.69,1202.40 L923.64,1201.90 L925.59,1201.40 L927.58,1200.90 L929.61,1200.40 L931.65,1199.90 L933.67,1199.40 L935.63,1198.90 L937.52,1198.40 L939.28,1197.90 L940.90,1197.40 L942.39,1196.90 L943.84,1196.40 L945.25,1195.90 L946.57,1195.40 L947.81,1194.90 L948.93,1194.40 L949.92,1193.90 L950.76,1193.40 L951.49,1192.90 L952.15,1192.40 L952.75,1191.90 L953.31,1191.40 L953.83,1190.90 L954.33,1190.40 L954.81,1189.90 L955.30,1189.40 L955.80,1188.90 L956.33,1188.40 L956.89,1187.90 L957.45,1187.40 L957.99,1186.90 L958.49,1186.40 L958.94,1185.90 L959.31,1185.40 L959.59,1184.90 L959.76,1184.40 L959.90,1183.90 L960.04,1183.40 L960.17,1182.90 L960.29,1182.40 L960.41,1181.90 L960.51,1181.40 L960.61,1180.90 L960.70,1180.40 L960.79,1179.90 L960.86,1179.40 L960.92,1178.90 L960.98,1178.40 L961.02,1177.90 L961.06,1177.40 L961.08,1176.90 L961.10,1176.40 L961.10,1175.90 L961.10,1175.40 L961.09,1174.90 L961.08,1174.40 L961.06,1173.90 L961.04,1173.40 L961.02,1172.90 L961.00,1172.40 L960.97,1171.90 L960.95,1171.40 L960.92,1170.90 L960.89,1170.40 L960.86,1169.90 L960.82,1169.40 L960.79,1168.90 L960.76,1168.40 L960.73,1167.90 L960.70,1167.40 L960.67,1166.90 L960.64,1166.40 L960.61,1165.90 L960.58,1165.40 L960.55,1164.90 L960.52,1164.40 L960.49,1163.90 L960.45,1163.40 L960.41,1162.90 L960.37,1162.40 L960.33,1161.90 L960.29,1161.40 L960.24,1160.90 L960.19,1160.40 L960.13,1159.90 L960.08,1159.40 L960.01,1158.90 L959.94,1158.40 L959.85,1157.90 L959.74,1157.40 L959.62,1156.90 L959.48,1156.40 L959.32,1155.90 L959.16,1155.40 L958.98,1154.90 L958.79,1154.40 L958.60,1153.90 L958.39,1153.40 L958.18,1152.90 L957.97,1152.40 L957.75,1151.90 L957.53,1151.40 L957.31,1150.90 L957.09,1150.40 L956.87,1149.90 L956.63,1149.40 L956.38,1148.90 L956.12,1148.40 L955.85,1147.90 L955.56,1147.40 L955.27,1146.90 L954.97,1146.40 L954.67,1145.90 L954.35,1145.40 L954.04,1144.90 L953.72,1144.40 L953.39,1143.90 L953.07,1143.40 L952.74,1142.90 L952.42,1142.40 L952.09,1141.90 L951.77,1141.40 L951.44,1140.90 L951.09,1140.40 L950.73,1139.90 L950.36,1139.40 L949.99,1138.90 L949.62,1138.40 L949.24,1137.90 L948.86,1137.40 L948.48,1136.90 L948.11,1136.40 L947.75,1135.90 L947.40,1135.40 L947.05,1134.90 L946.73,1134.40 L946.41,1133.90 L946.12,1133.40 L945.85,1132.90 L945.57,1132.40 L945.29,1131.90 L945.00,1131.40 L944.71,1130.90 L944.42,1130.40 L944.13,1129.90 L943.85,1129.40 L943.58,1128.90 L943.33,1128.40 L943.09,1127.90 L942.87,1127.40 L942.68,1126.90 L942.52,1126.40 L942.38,1125.90 L942.28,1125.40 L942.22,1124.90 L942.20,1124.40 L942.21,1123.90 L942.22,1123.40 L942.25,1122.90 L942.28,1122.40 L942.33,1121.90 L942.38,1121.40 L942.44,1120.90 L942.51,1120.40 L942.58,1119.90 L942.66,1119.40 L942.74,1118.90 L942.82,1118.40 L942.91,1117.90 L943.00,1117.40 L943.09,1116.90 L943.19,1116.40 L943.28,1115.90 L943.38,1115.40 L943.49,1114.90 L943.62,1114.40 L943.76,1113.90 L943.91,1113.40 L944.07,1112.90 L944.23,1112.40 L944.41,1111.90 L944.60,1111.40 L944.79,1110.90 L944.98,1110.40 L945.19,1109.90 L945.39,1109.40 L945.60,1108.90 L945.80,1108.40 L946.01,1107.90 L946.22,1107.40 L946.43,1106.90 L946.65,1106.40 L946.88,1105.90 L947.13,1105.40 L947.39,1104.90 L947.65,1104.40 L947.92,1103.90 L948.19,1103.40 L948.46,1102.90 L948.74,1102.40 L949.01,1101.90 L949.28,1101.40 L949.54,1100.90 L949.79,1100.40 L950.03,1099.90 L950.26,1099.40 L950.48,1098.90 L950.68,1098.40 L950.88,1097.90 L951.07,1097.40 L951.26,1096.90 L951.45,1096.40 L951.63,1095.90 L951.81,1095.40 L951.99,1094.90 L952.16,1094.40 L952.33,1093.90 L952.50,1093.40 L952.66,1092.90 L952.82,1092.40 L952.97,1091.90 L953.12,1091.40 L953.27,1090.90 L953.41,1090.40 L953.54,1089.90 L953.67,1089.40 L953.80,1088.90 L953.92,1088.40 L954.04,1087.90 L954.16,1087.40 L954.28,1086.90 L954.39,1086.40 L954.50,1085.90 L954.61,1085.40 L954.72,1084.90 L954.83,1084.40 L954.93,1083.90 L955.03,1083.40 L955.13,1082.90 L955.23,1082.40 L955.33,1081.90 L955.42,1081.40 L955.51,1080.90 L955.60,1080.40 L955.69,1079.90 L955.78,1079.40 L955.86,1078.90 L955.94,1078.40 L956.02,1077.90 L956.10,1077.40 L956.18,1076.90 L956.25,1076.40 L956.32,1075.90 L956.39,1075.40 L956.46,1074.90 L956.53,1074.40 L956.59,1073.90 L956.65,1073.40 L956.72,1072.90 L956.78,1072.40 L956.84,1071.90 L956.89,1071.40 L956.95,1070.90 L957.01,1070.40 L957.06,1069.90 L957.12,1069.40 L957.17,1068.90 L957.22,1068.40 L957.28,1067.90 L957.33,1067.40 L957.38,1066.90 L957.43,1066.40 L957.47,1065.90 L957.52,1065.40 L957.57,1064.90 L957.61,1064.40 L957.66,1063.90 L957.70,1063.40 L957.75,1062.90 L957.79,1062.40 L957.83,1061.90 L957.88,1061.40 L957.92,1060.90 L957.96,1060.40 L958.00,1059.90 L958.04,1059.40 L958.08,1058.90 L958.12,1058.40 L958.16,1057.90 L958.20,1057.40 L958.24,1056.90 L958.28,1056.40 L958.31,1055.90 L958.35,1055.40 L958.38,1054.90 L958.42,1054.40 L958.45,1053.90 L958.49,1053.40 L958.52,1052.90 L958.55,1052.40 L958.59,1051.90 L958.62,1051.40 L958.65,1050.90 L958.68,1050.40 L958.71,1049.90 L958.74,1049.40 L958.77,1048.90 L958.80,1048.40 L958.83,1047.90 L958.86,1047.40 L958.89,1046.90 L958.92,1046.40 L958.95,1045.90 L958.98,1045.40 L959.01,1044.90 L959.04,1044.40 L959.07,1043.90 L959.10,1043.40 L959.13,1042.90 L959.16,1042.40 L959.19,1041.90 L959.22,1041.40 L959.26,1040.90 L959.29,1040.40 L959.32,1039.90 L959.35,1039.40 L959.38,1038.90 L959.41,1038.40 L959.45,1037.90 L959.48,1037.40 L959.51,1036.90 L959.54,1036.40 L959.57,1035.90 L959.60,1035.40 L959.64,1034.90 L959.67,1034.40 L959.70,1033.90 L959.73,1033.40 L959.76,1032.90 L959.79,1032.40 L959.83,1031.90 L959.86,1031.40 L959.89,1030.90 L959.92,1030.40 L959.95,1029.90 L959.99,1029.40 L960.02,1028.90 L960.05,1028.40 L960.08,1027.90 L960.11,1027.40 L960.15,1026.90 L960.18,1026.40 L960.21,1025.90 L960.24,1025.40 L960.28,1024.90 L960.31,1024.40 L960.34,1023.90 L960.37,1023.40 L960.41,1022.90 L960.44,1022.40 L960.47,1021.90 L960.51,1021.40 L960.54,1020.90 L960.57,1020.40 L960.61,1019.90 L960.64,1019.40 L960.68,1018.90 L960.71,1018.40 L960.74,1017.90 L960.78,1017.40 L960.81,1016.90 L960.85,1016.40 L960.88,1015.90 L960.92,1015.40 L960.95,1014.90 L960.99,1014.40 L961.02,1013.90 L961.05,1013.40 L961.09,1012.90 L961.12,1012.40 L961.16,1011.90 L961.19,1011.40 L961.23,1010.90 L961.26,1010.40 L961.30,1009.90 L961.33,1009.40 L961.37,1008.90 L961.40,1008.40Z" fill="#3c51a3" stroke="#222" stroke-width="1.8" stroke-linejoin="round"/>
<line x1="962.2" y1="986.5" x2="962.2" y2="1132.2" stroke="#111111" stroke-width="1.6"/>
<rect x="952.6" y="1132.2" width="19.7" height="86.8" fill="none" stroke="#222" stroke-width="1.8"/>
<line x1="952.6" y1="1218.8" x2="972.3" y2="1218.8" stroke="#111111" stroke-width="3"/>
<path d="M1157.30,808.60 L1157.33,809.10 L1157.35,809.60 L1157.38,810.10 L1157.41,810.60 L1157.44,811.10 L1157.46,811.60 L1157.49,812.10 L1157.52,812.60 L1157.55,813.10 L1157.58,813.60 L1157.61,814.10 L1157.63,814.60 L1157.66,815.10 L1157.69,815.60 L1157.72,816.10 L1157.75,816.60 L1157.78,817.10 L1157.80,817.60 L1157.83,818.10 L1157.86,818.60 L1157.89,819.10 L1157.91,819.60 L1157.94,820.10 L1157.97,820.60 L1157.99,821.10 L1158.02,821.60 L1158.04,822.10 L1158.06,822.60 L1158.09,823.10 L1158.11,823.60 L1158.13,824.10 L1158.15,824.60 L1158.17,825.10 L1158.19,825.60 L1158.21,826.10 L1158.23,826.60 L1158.25,827.10 L1158.26,827.60 L1158.28,828.10 L1158.30,828.60 L1158.31,829.10 L1158.33,829.60 L1158.34,830.10 L1158.35,830.60 L1158.37,831.10 L1158.38,831.60 L1158.39,832.10 L1158.41,832.60 L1158.42,833.10 L1158.43,833.60 L1158.45,834.10 L1158.46,834.60 L1158.47,835.10 L1158.48,835.60 L1158.50,836.10 L1158.51,836.60 L1158.52,837.10 L1158.54,837.60 L1158.55,838.10 L1158.56,838.60 L1158.58,839.10 L1158.59,839.60 L1158.61,840.10 L1158.62,840.60 L1158.64,841.10 L1158.65,841.60 L1158.67,842.10 L1158.69,842.60 L1158.70,843.10 L1158.72,843.60 L1158.74,844.10 L1158.76,844.60 L1158.78,845.10 L1158.80,845.60 L1158.82,846.10 L1158.84,846.60 L1158.86,847.10 L1158.88,847.60 L1158.90,848.10 L1158.92,848.60 L1158.95,849.10 L1158.97,849.60 L1158.99,850.10 L1159.01,850.60 L1159.04,851.10 L1159.06,851.60 L1159.08,852.10 L1159.11,852.60 L1159.13,853.10 L1159.16,853.60 L1159.18,854.10 L1159.21,854.60 L1159.23,855.10 L1159.26,855.60 L1159.28,856.10 L1159.31,856.60 L1159.34,857.10 L1159.36,857.60 L1159.39,858.10 L1159.41,858.60 L1159.44,859.10 L1159.47,859.60 L1159.49,860.10 L1159.52,860.60 L1159.55,861.10 L1159.58,861.60 L1159.60,862.10 L1159.63,862.60 L1159.66,863.10 L1159.69,863.60 L1159.72,864.10 L1159.75,864.60 L1159.78,865.10 L1159.81,865.60 L1159.84,866.10 L1159.87,866.60 L1159.90,867.10 L1159.94,867.60 L1159.97,868.10 L1160.00,868.60 L1160.03,869.10 L1160.06,869.60 L1160.10,870.10 L1160.13,870.60 L1160.16,871.10 L1160.20,871.60 L1160.23,872.10 L1160.26,872.60 L1160.30,873.10 L1160.33,873.60 L1160.37,874.10 L1160.40,874.60 L1160.44,875.10 L1160.47,875.60 L1160.51,876.10 L1160.54,876.60 L1160.58,877.10 L1160.61,877.60 L1160.65,878.10 L1160.69,878.60 L1160.73,879.10 L1160.77,879.60 L1160.81,880.10 L1160.85,880.60 L1160.89,881.10 L1160.94,881.60 L1160.98,882.10 L1161.02,882.60 L1161.07,883.10 L1161.11,883.60 L1161.16,884.10 L1161.20,884.60 L1161.25,885.10 L1161.29,885.60 L1161.34,886.10 L1161.38,886.60 L1161.43,887.10 L1161.47,887.60 L1161.51,888.10 L1161.56,888.60 L1161.60,889.10 L1161.64,889.60 L1161.68,890.10 L1161.72,890.60 L1161.76,891.10 L1161.80,891.60 L1161.84,892.10 L1161.87,892.60 L1161.91,893.10 L1161.94,893.60 L1161.97,894.10 L1162.00,894.60 L1162.03,895.10 L1162.06,895.60 L1162.08,896.10 L1162.11,896.60 L1162.14,897.10 L1162.16,897.60 L1162.19,898.10 L1162.21,898.60 L1162.24,899.10 L1162.26,899.60 L1162.28,900.10 L1162.30,900.60 L1162.33,901.10 L1162.35,901.60 L1162.37,902.10 L1162.39,902.60 L1162.41,903.10 L1162.43,903.60 L1162.46,904.10 L1162.48,904.60 L1162.50,905.10 L1162.52,905.60 L1162.54,906.10 L1162.56,906.60 L1162.58,907.10 L1162.60,907.60 L1162.62,908.10 L1162.64,908.60 L1162.66,909.10 L1162.68,909.60 L1162.70,910.10 L1162.73,910.60 L1162.75,911.10 L1162.77,911.60 L1162.79,912.10 L1162.81,912.60 L1162.83,913.10 L1162.85,913.60 L1162.88,914.10 L1162.90,914.60 L1162.92,915.10 L1162.94,915.60 L1162.96,916.10 L1162.98,916.60 L1163.01,917.10 L1163.03,917.60 L1163.05,918.10 L1163.07,918.60 L1163.09,919.10 L1163.11,919.60 L1163.13,920.10 L1163.15,920.60 L1163.17,921.10 L1163.19,921.60 L1163.21,922.10 L1163.23,922.60 L1163.25,923.10 L1163.27,923.60 L1163.29,924.10 L1163.31,924.60 L1163.33,925.10 L1163.35,925.60 L1163.37,926.10 L1163.38,926.60 L1163.40,927.10 L1163.42,927.60 L1163.44,928.10 L1163.45,928.60 L1163.47,929.10 L1163.48,929.60 L1163.50,930.10 L1163.52,930.60 L1163.53,931.10 L1163.55,931.60 L1163.56,932.10 L1163.57,932.60 L1163.59,933.10 L1163.60,933.60 L1163.62,934.10 L1163.63,934.60 L1163.64,935.10 L1163.66,935.60 L1163.67,936.10 L1163.68,936.60 L1163.70,937.10 L1163.71,937.60 L1163.72,938.10 L1163.73,938.60 L1163.75,939.10 L1163.76,939.60 L1163.77,940.10 L1163.78,940.60 L1163.80,941.10 L1163.81,941.60 L1163.82,942.10 L1163.83,942.60 L1163.84,943.10 L1163.85,943.60 L1163.87,944.10 L1163.88,944.60 L1163.89,945.10 L1163.90,945.60 L1163.91,946.10 L1163.92,946.60 L1163.93,947.10 L1163.94,947.60 L1163.96,948.10 L1163.97,948.60 L1163.98,949.10 L1163.99,949.60 L1164.00,950.10 L1164.01,950.60 L1164.02,951.10 L1164.03,951.60 L1164.04,952.10 L1164.05,952.60 L1164.06,953.10 L1164.07,953.60 L1164.08,954.10 L1164.09,954.60 L1164.10,955.10 L1164.11,955.60 L1164.11,956.10 L1164.12,956.60 L1164.13,957.10 L1164.14,957.60 L1164.15,958.10 L1164.16,958.60 L1164.16,959.10 L1164.17,959.60 L1164.18,960.10 L1164.19,960.60 L1164.20,961.10 L1164.21,961.60 L1164.21,962.10 L1164.22,962.60 L1164.23,963.10 L1164.24,963.60 L1164.25,964.10 L1164.26,964.60 L1164.27,965.10 L1164.28,965.60 L1164.29,966.10 L1164.31,966.60 L1164.32,967.10 L1164.33,967.60 L1164.34,968.10 L1164.36,968.60 L1164.37,969.10 L1164.38,969.60 L1164.40,970.10 L1164.41,970.60 L1164.43,971.10 L1164.45,971.60 L1164.46,972.10 L1164.48,972.60 L1164.50,973.10 L1164.52,973.60 L1164.55,974.10 L1164.57,974.60 L1164.59,975.10 L1164.62,975.60 L1164.64,976.10 L1164.67,976.60 L1164.70,977.10 L1164.73,977.60 L1164.76,978.10 L1164.79,978.60 L1164.82,979.10 L1164.85,979.60 L1164.89,980.10 L1164.92,980.60 L1164.96,981.10 L1165.00,981.60 L1165.05,982.10 L1165.10,982.60 L1165.15,983.10 L1165.20,983.60 L1165.26,984.10 L1165.31,984.60 L1165.38,985.10 L1165.44,985.60 L1165.50,986.10 L1165.57,986.60 L1165.64,987.10 L1165.71,987.60 L1165.78,988.10 L1165.85,988.60 L1165.92,989.10 L1166.00,989.60 L1166.07,990.10 L1166.15,990.60 L1166.23,991.10 L1166.31,991.60 L1166.40,992.10 L1166.49,992.60 L1166.58,993.10 L1166.68,993.60 L1166.78,994.10 L1166.88,994.60 L1166.98,995.10 L1167.08,995.60 L1167.19,996.10 L1167.30,996.60 L1167.41,997.10 L1167.51,997.60 L1167.62,998.10 L1167.73,998.60 L1167.84,999.10 L1167.95,999.60 L1168.06,1000.10 L1168.16,1000.60 L1168.28,1001.10 L1168.39,1001.60 L1168.51,1002.10 L1168.63,1002.60 L1168.75,1003.10 L1168.88,1003.60 L1169.00,1004.10 L1169.13,1004.60 L1169.26,1005.10 L1169.38,1005.60 L1169.50,1006.10 L1169.62,1006.60 L1169.74,1007.10 L1169.85,1007.60 L1169.96,1008.10 L1170.07,1008.60 L1170.17,1009.10 L1170.26,1009.60 L1170.35,1010.10 L1170.43,1010.60 L1170.51,1011.10 L1170.58,1011.60 L1170.64,1012.10 L1170.71,1012.60 L1170.77,1013.10 L1170.83,1013.60 L1170.88,1014.10 L1170.94,1014.60 L1170.99,1015.10 L1171.05,1015.60 L1171.10,1016.10 L1171.15,1016.60 L1171.21,1017.10 L1171.27,1017.60 L1171.32,1018.10 L1171.38,1018.60 L1171.45,1019.10 L1171.51,1019.60 L1171.59,1020.10 L1171.66,1020.60 L1171.73,1021.10 L1171.81,1021.60 L1171.89,1022.10 L1171.97,1022.60 L1172.05,1023.10 L1172.13,1023.60 L1172.21,1024.10 L1172.30,1024.60 L1172.39,1025.10 L1172.48,1025.60 L1172.57,1026.10 L1172.67,1026.60 L1172.76,1027.10 L1172.87,1027.60 L1172.97,1028.10 L1173.08,1028.60 L1173.19,1029.10 L1173.31,1029.60 L1173.42,1030.10 L1173.55,1030.60 L1173.68,1031.10 L1173.82,1031.60 L1173.97,1032.10 L1174.12,1032.60 L1174.28,1033.10 L1174.44,1033.60 L1174.61,1034.10 L1174.78,1034.60 L1174.96,1035.10 L1175.14,1035.60 L1175.33,1036.10 L1175.52,1036.60 L1175.71,1037.10 L1175.90,1037.60 L1176.10,1038.10 L1176.30,1038.60 L1176.50,1039.10 L1176.70,1039.60 L1176.90,1040.10 L1177.10,1040.60 L1177.31,1041.10 L1177.53,1041.60 L1177.75,1042.10 L1177.97,1042.60 L1178.20,1043.10 L1178.43,1043.60 L1178.67,1044.10 L1178.90,1044.60 L1179.15,1045.10 L1179.39,1045.60 L1179.64,1046.10 L1179.89,1046.60 L1180.14,1047.10 L1180.40,1047.60 L1180.66,1048.10 L1180.92,1048.60 L1181.18,1049.10 L1181.44,1049.60 L1181.70,1050.10 L1181.97,1050.60 L1182.24,1051.10 L1182.51,1051.60 L1182.79,1052.10 L1183.07,1052.60 L1183.36,1053.10 L1183.64,1053.60 L1183.93,1054.10 L1184.23,1054.60 L1184.52,1055.10 L1184.82,1055.60 L1185.12,1056.10 L1185.42,1056.60 L1185.72,1057.10 L1186.01,1057.60 L1186.31,1058.10 L1186.61,1058.60 L1186.91,1059.10 L1187.21,1059.60 L1187.50,1060.10 L1187.79,1060.60 L1188.09,1061.10 L1188.38,1061.60 L1188.67,1062.10 L1188.96,1062.60 L1189.25,1063.10 L1189.55,1063.60 L1189.84,1064.10 L1190.13,1064.60 L1190.43,1065.10 L1190.72,1065.60 L1191.02,1066.10 L1191.32,1066.60 L1191.61,1067.10 L1191.91,1067.60 L1192.21,1068.10 L1192.52,1068.60 L1192.82,1069.10 L1193.13,1069.60 L1193.44,1070.10 L1193.75,1070.60 L1194.06,1071.10 L1194.38,1071.60 L1194.70,1072.10 L1195.02,1072.60 L1195.34,1073.10 L1195.67,1073.60 L1196.00,1074.10 L1196.32,1074.60 L1196.65,1075.10 L1196.98,1075.60 L1197.31,1076.10 L1197.64,1076.60 L1197.97,1077.10 L1198.30,1077.60 L1198.63,1078.10 L1198.96,1078.60 L1199.28,1079.10 L1199.61,1079.60 L1199.94,1080.10 L1200.26,1080.60 L1200.59,1081.10 L1200.92,1081.60 L1201.26,1082.10 L1201.60,1082.60 L1201.93,1083.10 L1202.27,1083.60 L1202.61,1084.10 L1202.95,1084.60 L1203.29,1085.10 L1203.62,1085.60 L1203.95,1086.10 L1204.28,1086.60 L1204.60,1087.10 L1204.92,1087.60 L1205.23,1088.10 L1205.53,1088.60 L1205.83,1089.10 L1206.11,1089.60 L1206.39,1090.10 L1206.66,1090.60 L1206.93,1091.10 L1207.21,1091.60 L1207.48,1092.10 L1207.76,1092.60 L1208.03,1093.10 L1208.30,1093.60 L1208.57,1094.10 L1208.83,1094.60 L1209.09,1095.10 L1209.34,1095.60 L1209.58,1096.10 L1209.81,1096.60 L1210.03,1097.10 L1210.23,1097.60 L1210.43,1098.10 L1210.61,1098.60 L1210.77,1099.10 L1210.92,1099.60 L1211.05,1100.10 L1211.17,1100.60 L1211.28,1101.10 L1211.39,1101.60 L1211.50,1102.10 L1211.61,1102.60 L1211.72,1103.10 L1211.82,1103.60 L1211.92,1104.10 L1212.01,1104.60 L1212.10,1105.10 L1212.18,1105.60 L1212.26,1106.10 L1212.33,1106.60 L1212.40,1107.10 L1212.45,1107.60 L1212.50,1108.10 L1212.54,1108.60 L1212.57,1109.10 L1212.59,1109.60 L1212.60,1110.10 L1212.60,1110.60 L1212.58,1111.10 L1212.55,1111.60 L1212.50,1112.10 L1212.44,1112.60 L1212.36,1113.10 L1212.28,1113.60 L1212.18,1114.10 L1212.07,1114.60 L1211.96,1115.10 L1211.83,1115.60 L1211.69,1116.10 L1211.55,1116.60 L1211.40,1117.10 L1211.25,1117.60 L1211.08,1118.10 L1210.92,1118.60 L1210.75,1119.10 L1210.58,1119.60 L1210.41,1120.10 L1210.23,1120.60 L1210.02,1121.10 L1209.79,1121.60 L1209.52,1122.10 L1209.23,1122.60 L1208.91,1123.10 L1208.57,1123.60 L1208.21,1124.10 L1207.83,1124.60 L1207.43,1125.10 L1207.02,1125.60 L1206.59,1126.10 L1206.16,1126.60 L1205.72,1127.10 L1205.27,1127.60 L1204.81,1128.10 L1204.35,1128.60 L1203.90,1129.10 L1203.44,1129.60 L1202.99,1130.10 L1202.54,1130.60 L1202.08,1131.10 L1201.61,1131.60 L1201.14,1132.10 L1200.66,1132.60 L1200.16,1133.10 L1199.66,1133.60 L1199.14,1134.10 L1198.62,1134.60 L1198.08,1135.10 L1197.53,1135.60 L1196.97,1136.10 L1196.39,1136.60 L1195.81,1137.10 L1195.20,1137.60 L1194.59,1138.10 L1193.95,1138.60 L1193.31,1139.10 L1192.64,1139.60 L1191.96,1140.10 L1191.19,1140.60 L1190.34,1141.10 L1189.43,1141.60 L1188.52,1142.10 L1187.63,1142.60 L1186.81,1143.10 L1186.10,1143.60 L1185.47,1144.10 L1184.86,1144.60 L1184.29,1145.10 L1183.73,1145.60 L1183.20,1146.10 L1182.69,1146.60 L1182.19,1147.10 L1181.72,1147.60 L1181.25,1148.10 L1180.80,1148.60 L1180.37,1149.10 L1179.94,1149.60 L1179.52,1150.10 L1179.10,1150.60 L1178.68,1151.10 L1178.26,1151.60 L1177.85,1152.10 L1177.45,1152.60 L1177.05,1153.10 L1176.67,1153.60 L1176.31,1154.10 L1175.96,1154.60 L1175.63,1155.10 L1175.32,1155.60 L1175.03,1156.10 L1174.77,1156.60 L1174.54,1157.10 L1174.33,1157.60 L1174.12,1158.10 L1173.91,1158.60 L1173.70,1159.10 L1173.50,1159.60 L1173.31,1160.10 L1173.12,1160.60 L1172.94,1161.10 L1172.77,1161.60 L1172.62,1162.10 L1172.49,1162.60 L1172.37,1163.10 L1172.27,1163.60 L1172.19,1164.10 L1172.13,1164.60 L1172.10,1165.10 L1172.10,1165.60 L1172.13,1166.10 L1172.18,1166.60 L1172.26,1167.10 L1172.37,1167.60 L1172.50,1168.10 L1172.65,1168.60 L1172.82,1169.10 L1173.02,1169.60 L1173.23,1170.10 L1173.45,1170.60 L1173.70,1171.10 L1173.95,1171.60 L1174.22,1172.10 L1174.50,1172.60 L1174.79,1173.10 L1175.09,1173.60 L1175.40,1174.10 L1175.71,1174.60 L1176.03,1175.10 L1176.42,1175.60 L1176.88,1176.10 L1177.42,1176.60 L1178.01,1177.10 L1178.67,1177.60 L1179.37,1178.10 L1180.12,1178.60 L1180.92,1179.10 L1181.74,1179.60 L1182.60,1180.10 L1183.48,1180.60 L1184.38,1181.10 L1185.29,1181.60 L1186.20,1182.10 L1187.12,1182.60 L1188.03,1183.10 L1188.93,1183.60 L1189.81,1184.10 L1190.67,1184.60 L1191.54,1185.10 L1192.43,1185.60 L1193.34,1186.10 L1194.27,1186.60 L1195.21,1187.10 L1196.17,1187.60 L1197.14,1188.10 L1198.12,1188.60 L1199.10,1189.10 L1200.10,1189.60 L1201.10,1190.10 L1202.10,1190.60 L1203.10,1191.10 L1204.11,1191.60 L1205.13,1192.10 L1206.18,1192.60 L1207.25,1193.10 L1208.32,1193.60 L1209.40,1194.10 L1210.49,1194.60 L1211.57,1195.10 L1212.65,1195.60 L1213.72,1196.10 L1214.77,1196.60 L1215.81,1197.10 L1216.82,1197.60 L1217.80,1198.10 L1218.77,1198.60 L1219.74,1199.10 L1220.70,1199.60 L1221.66,1200.10 L1222.61,1200.60 L1223.55,1201.10 L1224.48,1201.60 L1225.38,1202.10 L1226.27,1202.60 L1227.13,1203.10 L1227.97,1203.60 L1228.78,1204.10 L1229.55,1204.60 L1230.29,1205.10 L1231.03,1205.60 L1231.76,1206.10 L1232.48,1206.60 L1233.18,1207.10 L1233.87,1207.60 L1234.55,1208.10 L1235.19,1208.60 L1235.82,1209.10 L1236.41,1209.60 L1236.97,1210.10 L1237.49,1210.60 L1237.98,1211.10 L1238.42,1211.60 L1238.83,1212.10 L1239.24,1212.60 L1239.64,1213.10 L1240.04,1213.60 L1240.41,1214.10 L1240.76,1214.60 L1241.07,1215.10 L1241.35,1215.60 L1241.58,1216.10 L1241.76,1216.60 L1241.88,1217.10 L1241.95,1217.60 L1242.00,1218.10 L1242.05,1218.60 L1242.09,1219.10 L1242.10,1219.20 L1068.10,1219.20 L1068.11,1219.10 L1068.15,1218.60 L1068.20,1218.10 L1068.25,1217.60 L1068.32,1217.10 L1068.44,1216.60 L1068.62,1216.10 L1068.85,1215.60 L1069.13,1215.10 L1069.44,1214.60 L1069.79,1214.10 L1070.16,1213.60 L1070.56,1213.10 L1070.96,1212.60 L1071.37,1212.10 L1071.78,1211.60 L1072.22,1211.10 L1072.71,1210.60 L1073.23,1210.10 L1073.79,1209.60 L1074.38,1209.10 L1075.01,1208.60 L1075.65,1208.10 L1076.33,1207.60 L1077.02,1207.10 L1077.72,1206.60 L1078.44,1206.10 L1079.17,1205.60 L1079.91,1205.10 L1080.65,1204.60 L1081.42,1204.10 L1082.23,1203.60 L1083.07,1203.10 L1083.93,1202.60 L1084.82,1202.10 L1085.72,1201.60 L1086.65,1201.10 L1087.59,1200.60 L1088.54,1200.10 L1089.50,1199.60 L1090.46,1199.10 L1091.43,1198.60 L1092.40,1198.10 L1093.38,1197.60 L1094.39,1197.10 L1095.43,1196.60 L1096.48,1196.10 L1097.55,1195.60 L1098.63,1195.10 L1099.71,1194.60 L1100.80,1194.10 L1101.88,1193.60 L1102.95,1193.10 L1104.02,1192.60 L1105.07,1192.10 L1106.09,1191.60 L1107.10,1191.10 L1108.10,1190.60 L1109.10,1190.10 L1110.10,1189.60 L1111.10,1189.10 L1112.08,1188.60 L1113.06,1188.10 L1114.03,1187.60 L1114.99,1187.10 L1115.93,1186.60 L1116.86,1186.10 L1117.77,1185.60 L1118.66,1185.10 L1119.53,1184.60 L1120.39,1184.10 L1121.27,1183.60 L1122.17,1183.10 L1123.08,1182.60 L1124.00,1182.10 L1124.91,1181.60 L1125.82,1181.10 L1126.72,1180.60 L1127.60,1180.10 L1128.46,1179.60 L1129.28,1179.10 L1130.08,1178.60 L1130.83,1178.10 L1131.53,1177.60 L1132.19,1177.10 L1132.78,1176.60 L1133.32,1176.10 L1133.78,1175.60 L1134.17,1175.10 L1134.49,1174.60 L1134.80,1174.10 L1135.11,1173.60 L1135.41,1173.10 L1135.70,1172.60 L1135.98,1172.10 L1136.25,1171.60 L1136.50,1171.10 L1136.75,1170.60 L1136.97,1170.10 L1137.18,1169.60 L1137.38,1169.10 L1137.55,1168.60 L1137.70,1168.10 L1137.83,1167.60 L1137.94,1167.10 L1138.02,1166.60 L1138.07,1166.10 L1138.10,1165.60 L1138.10,1165.10 L1138.07,1164.60 L1138.01,1164.10 L1137.93,1163.60 L1137.83,1163.10 L1137.71,1162.60 L1137.58,1162.10 L1137.43,1161.60 L1137.26,1161.10 L1137.08,1160.60 L1136.89,1160.10 L1136.70,1159.60 L1136.50,1159.10 L1136.29,1158.60 L1136.08,1158.10 L1135.87,1157.60 L1135.66,1157.10 L1135.43,1156.60 L1135.17,1156.10 L1134.88,1155.60 L1134.57,1155.10 L1134.24,1154.60 L1133.89,1154.10 L1133.53,1153.60 L1133.15,1153.10 L1132.75,1152.60 L1132.35,1152.10 L1131.94,1151.60 L1131.52,1151.10 L1131.10,1150.60 L1130.68,1150.10 L1130.26,1149.60 L1129.83,1149.10 L1129.40,1148.60 L1128.95,1148.10 L1128.48,1147.60 L1128.01,1147.10 L1127.51,1146.60 L1127.00,1146.10 L1126.47,1145.60 L1125.91,1145.10 L1125.34,1144.60 L1124.73,1144.10 L1124.10,1143.60 L1123.39,1143.10 L1122.57,1142.60 L1121.68,1142.10 L1120.77,1141.60 L1119.86,1141.10 L1119.01,1140.60 L1118.24,1140.10 L1117.56,1139.60 L1116.89,1139.10 L1116.25,1138.60 L1115.61,1138.10 L1115.00,1137.60 L1114.39,1137.10 L1113.81,1136.60 L1113.23,1136.10 L1112.67,1135.60 L1112.12,1135.10 L1111.58,1134.60 L1111.06,1134.10 L1110.54,1133.60 L1110.04,1133.10 L1109.54,1132.60 L1109.06,1132.10 L1108.59,1131.60 L1108.12,1131.10 L1107.66,1130.60 L1107.21,1130.10 L1106.76,1129.60 L1106.30,1129.10 L1105.85,1128.60 L1105.39,1128.10 L1104.93,1127.60 L1104.48,1127.10 L1104.04,1126.60 L1103.61,1126.10 L1103.18,1125.60 L1102.77,1125.10 L1102.37,1124.60 L1101.99,1124.10 L1101.63,1123.60 L1101.29,1123.10 L1100.97,1122.60 L1100.68,1122.10 L1100.41,1121.60 L1100.18,1121.10 L1099.97,1120.60 L1099.79,1120.10 L1099.62,1119.60 L1099.45,1119.10 L1099.28,1118.60 L1099.12,1118.10 L1098.95,1117.60 L1098.80,1117.10 L1098.65,1116.60 L1098.51,1116.10 L1098.37,1115.60 L1098.24,1115.10 L1098.13,1114.60 L1098.02,1114.10 L1097.92,1113.60 L1097.84,1113.10 L1097.76,1112.60 L1097.70,1112.10 L1097.65,1111.60 L1097.62,1111.10 L1097.60,1110.60 L1097.60,1110.10 L1097.61,1109.60 L1097.63,1109.10 L1097.66,1108.60 L1097.70,1108.10 L1097.75,1107.60 L1097.80,1107.10 L1097.87,1106.60 L1097.94,1106.10 L1098.02,1105.60 L1098.10,1105.10 L1098.19,1104.60 L1098.28,1104.10 L1098.38,1103.60 L1098.48,1103.10 L1098.59,1102.60 L1098.70,1102.10 L1098.81,1101.60 L1098.92,1101.10 L1099.03,1100.60 L1099.15,1100.10 L1099.28,1099.60 L1099.43,1099.10 L1099.59,1098.60 L1099.77,1098.10 L1099.97,1097.60 L1100.17,1097.10 L1100.39,1096.60 L1100.62,1096.10 L1100.86,1095.60 L1101.11,1095.10 L1101.37,1094.60 L1101.63,1094.10 L1101.90,1093.60 L1102.17,1093.10 L1102.44,1092.60 L1102.72,1092.10 L1102.99,1091.60 L1103.27,1091.10 L1103.54,1090.60 L1103.81,1090.10 L1104.09,1089.60 L1104.37,1089.10 L1104.67,1088.60 L1104.97,1088.10 L1105.28,1087.60 L1105.60,1087.10 L1105.92,1086.60 L1106.25,1086.10 L1106.58,1085.60 L1106.91,1085.10 L1107.25,1084.60 L1107.59,1084.10 L1107.93,1083.60 L1108.27,1083.10 L1108.60,1082.60 L1108.94,1082.10 L1109.28,1081.60 L1109.61,1081.10 L1109.94,1080.60 L1110.26,1080.10 L1110.59,1079.60 L1110.92,1079.10 L1111.24,1078.60 L1111.57,1078.10 L1111.90,1077.60 L1112.23,1077.10 L1112.56,1076.60 L1112.89,1076.10 L1113.22,1075.60 L1113.55,1075.10 L1113.88,1074.60 L1114.20,1074.10 L1114.53,1073.60 L1114.86,1073.10 L1115.18,1072.60 L1115.50,1072.10 L1115.82,1071.60 L1116.14,1071.10 L1116.45,1070.60 L1116.76,1070.10 L1117.07,1069.60 L1117.38,1069.10 L1117.68,1068.60 L1117.99,1068.10 L1118.29,1067.60 L1118.59,1067.10 L1118.88,1066.60 L1119.18,1066.10 L1119.48,1065.60 L1119.77,1065.10 L1120.07,1064.60 L1120.36,1064.10 L1120.65,1063.60 L1120.95,1063.10 L1121.24,1062.60 L1121.53,1062.10 L1121.82,1061.60 L1122.11,1061.10 L1122.41,1060.60 L1122.70,1060.10 L1122.99,1059.60 L1123.29,1059.10 L1123.59,1058.60 L1123.89,1058.10 L1124.19,1057.60 L1124.48,1057.10 L1124.78,1056.60 L1125.08,1056.10 L1125.38,1055.60 L1125.68,1055.10 L1125.97,1054.60 L1126.27,1054.10 L1126.56,1053.60 L1126.84,1053.10 L1127.13,1052.60 L1127.41,1052.10 L1127.69,1051.60 L1127.96,1051.10 L1128.23,1050.60 L1128.50,1050.10 L1128.76,1049.60 L1129.02,1049.10 L1129.28,1048.60 L1129.54,1048.10 L1129.80,1047.60 L1130.06,1047.10 L1130.31,1046.60 L1130.56,1046.10 L1130.81,1045.60 L1131.05,1045.10 L1131.30,1044.60 L1131.53,1044.10 L1131.77,1043.60 L1132.00,1043.10 L1132.23,1042.60 L1132.45,1042.10 L1132.67,1041.60 L1132.89,1041.10 L1133.10,1040.60 L1133.30,1040.10 L1133.50,1039.60 L1133.70,1039.10 L1133.90,1038.60 L1134.10,1038.10 L1134.30,1037.60 L1134.49,1037.10 L1134.68,1036.60 L1134.87,1036.10 L1135.06,1035.60 L1135.24,1035.10 L1135.42,1034.60 L1135.59,1034.10 L1135.76,1033.60 L1135.92,1033.10 L1136.08,1032.60 L1136.23,1032.10 L1136.38,1031.60 L1136.52,1031.10 L1136.65,1030.60 L1136.78,1030.10 L1136.89,1029.60 L1137.01,1029.10 L1137.12,1028.60 L1137.23,1028.10 L1137.33,1027.60 L1137.44,1027.10 L1137.53,1026.60 L1137.63,1026.10 L1137.72,1025.60 L1137.81,1025.10 L1137.90,1024.60 L1137.99,1024.10 L1138.07,1023.60 L1138.15,1023.10 L1138.23,1022.60 L1138.31,1022.10 L1138.39,1021.60 L1138.47,1021.10 L1138.54,1020.60 L1138.61,1020.10 L1138.69,1019.60 L1138.75,1019.10 L1138.82,1018.60 L1138.88,1018.10 L1138.93,1017.60 L1138.99,1017.10 L1139.05,1016.60 L1139.10,1016.10 L1139.15,1015.60 L1139.21,1015.10 L1139.26,1014.60 L1139.32,1014.10 L1139.37,1013.60 L1139.43,1013.10 L1139.49,1012.60 L1139.56,1012.10 L1139.62,1011.60 L1139.69,1011.10 L1139.77,1010.60 L1139.85,1010.10 L1139.94,1009.60 L1140.03,1009.10 L1140.13,1008.60 L1140.24,1008.10 L1140.35,1007.60 L1140.46,1007.10 L1140.58,1006.60 L1140.70,1006.10 L1140.82,1005.60 L1140.94,1005.10 L1141.07,1004.60 L1141.20,1004.10 L1141.32,1003.60 L1141.45,1003.10 L1141.57,1002.60 L1141.69,1002.10 L1141.81,1001.60 L1141.92,1001.10 L1142.04,1000.60 L1142.14,1000.10 L1142.25,999.60 L1142.36,999.10 L1142.47,998.60 L1142.58,998.10 L1142.69,997.60 L1142.79,997.10 L1142.90,996.60 L1143.01,996.10 L1143.12,995.60 L1143.22,995.10 L1143.32,994.60 L1143.42,994.10 L1143.52,993.60 L1143.62,993.10 L1143.71,992.60 L1143.80,992.10 L1143.89,991.60 L1143.97,991.10 L1144.05,990.60 L1144.13,990.10 L1144.20,989.60 L1144.28,989.10 L1144.35,988.60 L1144.42,988.10 L1144.49,987.60 L1144.56,987.10 L1144.63,986.60 L1144.70,986.10 L1144.76,985.60 L1144.82,985.10 L1144.89,984.60 L1144.94,984.10 L1145.00,983.60 L1145.05,983.10 L1145.10,982.60 L1145.15,982.10 L1145.20,981.60 L1145.24,981.10 L1145.28,980.60 L1145.31,980.10 L1145.35,979.60 L1145.38,979.10 L1145.41,978.60 L1145.44,978.10 L1145.47,977.60 L1145.50,977.10 L1145.53,976.60 L1145.56,976.10 L1145.58,975.60 L1145.61,975.10 L1145.63,974.60 L1145.65,974.10 L1145.68,973.60 L1145.70,973.10 L1145.72,972.60 L1145.74,972.10 L1145.75,971.60 L1145.77,971.10 L1145.79,970.60 L1145.80,970.10 L1145.82,969.60 L1145.83,969.10 L1145.84,968.60 L1145.86,968.10 L1145.87,967.60 L1145.88,967.10 L1145.89,966.60 L1145.91,966.10 L1145.92,965.60 L1145.93,965.10 L1145.94,964.60 L1145.95,964.10 L1145.96,963.60 L1145.97,963.10 L1145.98,962.60 L1145.99,962.10 L1145.99,961.60 L1146.00,961.10 L1146.01,960.60 L1146.02,960.10 L1146.03,959.60 L1146.04,959.10 L1146.04,958.60 L1146.05,958.10 L1146.06,957.60 L1146.07,957.10 L1146.08,956.60 L1146.09,956.10 L1146.09,955.60 L1146.10,955.10 L1146.11,954.60 L1146.12,954.10 L1146.13,953.60 L1146.14,953.10 L1146.15,952.60 L1146.16,952.10 L1146.17,951.60 L1146.18,951.10 L1146.19,950.60 L1146.20,950.10 L1146.21,949.60 L1146.22,949.10 L1146.23,948.60 L1146.24,948.10 L1146.26,947.60 L1146.27,947.10 L1146.28,946.60 L1146.29,946.10 L1146.30,945.60 L1146.31,945.10 L1146.32,944.60 L1146.33,944.10 L1146.35,943.60 L1146.36,943.10 L1146.37,942.60 L1146.38,942.10 L1146.39,941.60 L1146.40,941.10 L1146.42,940.60 L1146.43,940.10 L1146.44,939.60 L1146.45,939.10 L1146.47,938.60 L1146.48,938.10 L1146.49,937.60 L1146.50,937.10 L1146.52,936.60 L1146.53,936.10 L1146.54,935.60 L1146.56,935.10 L1146.57,934.60 L1146.58,934.10 L1146.60,933.60 L1146.61,933.10 L1146.63,932.60 L1146.64,932.10 L1146.65,931.60 L1146.67,931.10 L1146.68,930.60 L1146.70,930.10 L1146.72,929.60 L1146.73,929.10 L1146.75,928.60 L1146.76,928.10 L1146.78,927.60 L1146.80,927.10 L1146.82,926.60 L1146.83,926.10 L1146.85,925.60 L1146.87,925.10 L1146.89,924.60 L1146.91,924.10 L1146.93,923.60 L1146.95,923.10 L1146.97,922.60 L1146.99,922.10 L1147.01,921.60 L1147.03,921.10 L1147.05,920.60 L1147.07,920.10 L1147.09,919.60 L1147.11,919.10 L1147.13,918.60 L1147.15,918.10 L1147.17,917.60 L1147.19,917.10 L1147.22,916.60 L1147.24,916.10 L1147.26,915.60 L1147.28,915.10 L1147.30,914.60 L1147.32,914.10 L1147.35,913.60 L1147.37,913.10 L1147.39,912.60 L1147.41,912.10 L1147.43,911.60 L1147.45,911.10 L1147.47,910.60 L1147.50,910.10 L1147.52,909.60 L1147.54,909.10 L1147.56,908.60 L1147.58,908.10 L1147.60,907.60 L1147.62,907.10 L1147.64,906.60 L1147.66,906.10 L1147.68,905.60 L1147.70,905.10 L1147.72,904.60 L1147.74,904.10 L1147.77,903.60 L1147.79,903.10 L1147.81,902.60 L1147.83,902.10 L1147.85,901.60 L1147.87,901.10 L1147.90,900.60 L1147.92,900.10 L1147.94,899.60 L1147.96,899.10 L1147.99,898.60 L1148.01,898.10 L1148.04,897.60 L1148.06,897.10 L1148.09,896.60 L1148.12,896.10 L1148.14,895.60 L1148.17,895.10 L1148.20,894.60 L1148.23,894.10 L1148.26,893.60 L1148.29,893.10 L1148.33,892.60 L1148.36,892.10 L1148.40,891.60 L1148.44,891.10 L1148.48,890.60 L1148.52,890.10 L1148.56,889.60 L1148.60,889.10 L1148.64,888.60 L1148.69,888.10 L1148.73,887.60 L1148.77,887.10 L1148.82,886.60 L1148.86,886.10 L1148.91,885.60 L1148.95,885.10 L1149.00,884.60 L1149.04,884.10 L1149.09,883.60 L1149.13,883.10 L1149.18,882.60 L1149.22,882.10 L1149.26,881.60 L1149.31,881.10 L1149.35,880.60 L1149.39,880.10 L1149.43,879.60 L1149.47,879.10 L1149.51,878.60 L1149.55,878.10 L1149.59,877.60 L1149.62,877.10 L1149.66,876.60 L1149.69,876.10 L1149.73,875.60 L1149.76,875.10 L1149.80,874.60 L1149.83,874.10 L1149.87,873.60 L1149.90,873.10 L1149.94,872.60 L1149.97,872.10 L1150.00,871.60 L1150.04,871.10 L1150.07,870.60 L1150.10,870.10 L1150.14,869.60 L1150.17,869.10 L1150.20,868.60 L1150.23,868.10 L1150.26,867.60 L1150.30,867.10 L1150.33,866.60 L1150.36,866.10 L1150.39,865.60 L1150.42,865.10 L1150.45,864.60 L1150.48,864.10 L1150.51,863.60 L1150.54,863.10 L1150.57,862.60 L1150.60,862.10 L1150.62,861.60 L1150.65,861.10 L1150.68,860.60 L1150.71,860.10 L1150.73,859.60 L1150.76,859.10 L1150.79,858.60 L1150.81,858.10 L1150.84,857.60 L1150.86,857.10 L1150.89,856.60 L1150.92,856.10 L1150.94,855.60 L1150.97,855.10 L1150.99,854.60 L1151.02,854.10 L1151.04,853.60 L1151.07,853.10 L1151.09,852.60 L1151.12,852.10 L1151.14,851.60 L1151.16,851.10 L1151.19,850.60 L1151.21,850.10 L1151.23,849.60 L1151.25,849.10 L1151.28,848.60 L1151.30,848.10 L1151.32,847.60 L1151.34,847.10 L1151.36,846.60 L1151.38,846.10 L1151.40,845.60 L1151.42,845.10 L1151.44,844.60 L1151.46,844.10 L1151.48,843.60 L1151.50,843.10 L1151.51,842.60 L1151.53,842.10 L1151.55,841.60 L1151.56,841.10 L1151.58,840.60 L1151.59,840.10 L1151.61,839.60 L1151.62,839.10 L1151.64,838.60 L1151.65,838.10 L1151.66,837.60 L1151.68,837.10 L1151.69,836.60 L1151.70,836.10 L1151.72,835.60 L1151.73,835.10 L1151.74,834.60 L1151.75,834.10 L1151.77,833.60 L1151.78,833.10 L1151.79,832.60 L1151.81,832.10 L1151.82,831.60 L1151.83,831.10 L1151.85,830.60 L1151.86,830.10 L1151.87,829.60 L1151.89,829.10 L1151.90,828.60 L1151.92,828.10 L1151.94,827.60 L1151.95,827.10 L1151.97,826.60 L1151.99,826.10 L1152.01,825.60 L1152.03,825.10 L1152.05,824.60 L1152.07,824.10 L1152.09,823.60 L1152.11,823.10 L1152.14,822.60 L1152.16,822.10 L1152.18,821.60 L1152.21,821.10 L1152.23,820.60 L1152.26,820.10 L1152.29,819.60 L1152.31,819.10 L1152.34,818.60 L1152.37,818.10 L1152.40,817.60 L1152.42,817.10 L1152.45,816.60 L1152.48,816.10 L1152.51,815.60 L1152.54,815.10 L1152.57,814.60 L1152.59,814.10 L1152.62,813.60 L1152.65,813.10 L1152.68,812.60 L1152.71,812.10 L1152.74,811.60 L1152.76,811.10 L1152.79,810.60 L1152.82,810.10 L1152.85,809.60 L1152.87,809.10 L1152.90,808.60Z" fill="#ee2a27" stroke="#222" stroke-width="1.8" stroke-linejoin="round"/>
<line x1="1155.1" y1="882.6" x2="1155.1" y2="1083.2" stroke="#111111" stroke-width="1.6"/>
<rect x="1145.0" y="1083.2" width="20.1" height="136.0" fill="none" stroke="#222" stroke-width="1.8"/>
<line x1="1145.0" y1="1127.4" x2="1165.1" y2="1127.4" stroke="#111111" stroke-width="3.5"/>
<path d="M1349.70,832.00 L1349.71,832.50 L1349.73,833.00 L1349.74,833.50 L1349.75,834.00 L1349.76,834.50 L1349.78,835.00 L1349.79,835.50 L1349.80,836.00 L1349.81,836.50 L1349.82,837.00 L1349.83,837.50 L1349.85,838.00 L1349.86,838.50 L1349.87,839.00 L1349.88,839.50 L1349.89,840.00 L1349.90,840.50 L1349.91,841.00 L1349.93,841.50 L1349.94,842.00 L1349.95,842.50 L1349.96,843.00 L1349.97,843.50 L1349.98,844.00 L1350.00,844.50 L1350.01,845.00 L1350.02,845.50 L1350.03,846.00 L1350.05,846.50 L1350.06,847.00 L1350.07,847.50 L1350.09,848.00 L1350.10,848.50 L1350.12,849.00 L1350.13,849.50 L1350.15,850.00 L1350.16,850.50 L1350.18,851.00 L1350.19,851.50 L1350.21,852.00 L1350.23,852.50 L1350.25,853.00 L1350.27,853.50 L1350.28,854.00 L1350.30,854.50 L1350.32,855.00 L1350.35,855.50 L1350.37,856.00 L1350.40,856.50 L1350.42,857.00 L1350.45,857.50 L1350.48,858.00 L1350.51,858.50 L1350.54,859.00 L1350.57,859.50 L1350.60,860.00 L1350.63,860.50 L1350.67,861.00 L1350.70,861.50 L1350.74,862.00 L1350.78,862.50 L1350.81,863.00 L1350.85,863.50 L1350.89,864.00 L1350.93,864.50 L1350.97,865.00 L1351.01,865.50 L1351.05,866.00 L1351.09,866.50 L1351.13,867.00 L1351.17,867.50 L1351.21,868.00 L1351.25,868.50 L1351.29,869.00 L1351.33,869.50 L1351.37,870.00 L1351.41,870.50 L1351.45,871.00 L1351.49,871.50 L1351.53,872.00 L1351.57,872.50 L1351.61,873.00 L1351.66,873.50 L1351.70,874.00 L1351.74,874.50 L1351.79,875.00 L1351.83,875.50 L1351.88,876.00 L1351.92,876.50 L1351.97,877.00 L1352.01,877.50 L1352.06,878.00 L1352.11,878.50 L1352.16,879.00 L1352.20,879.50 L1352.25,880.00 L1352.30,880.50 L1352.35,881.00 L1352.40,881.50 L1352.45,882.00 L1352.49,882.50 L1352.54,883.00 L1352.59,883.50 L1352.64,884.00 L1352.69,884.50 L1352.74,885.00 L1352.79,885.50 L1352.83,886.00 L1352.88,886.50 L1352.93,887.00 L1352.98,887.50 L1353.03,888.00 L1353.07,888.50 L1353.12,889.00 L1353.17,889.50 L1353.21,890.00 L1353.26,890.50 L1353.31,891.00 L1353.35,891.50 L1353.40,892.00 L1353.45,892.50 L1353.50,893.00 L1353.54,893.50 L1353.59,894.00 L1353.64,894.50 L1353.69,895.00 L1353.73,895.50 L1353.78,896.00 L1353.83,896.50 L1353.88,897.00 L1353.92,897.50 L1353.97,898.00 L1354.02,898.50 L1354.06,899.00 L1354.11,899.50 L1354.16,900.00 L1354.20,900.50 L1354.25,901.00 L1354.30,901.50 L1354.34,902.00 L1354.39,902.50 L1354.43,903.00 L1354.48,903.50 L1354.52,904.00 L1354.57,904.50 L1354.61,905.00 L1354.66,905.50 L1354.70,906.00 L1354.74,906.50 L1354.79,907.00 L1354.83,907.50 L1354.87,908.00 L1354.91,908.50 L1354.96,909.00 L1355.00,909.50 L1355.04,910.00 L1355.08,910.50 L1355.12,911.00 L1355.16,911.50 L1355.20,912.00 L1355.24,912.50 L1355.28,913.00 L1355.33,913.50 L1355.37,914.00 L1355.41,914.50 L1355.45,915.00 L1355.49,915.50 L1355.53,916.00 L1355.57,916.50 L1355.61,917.00 L1355.65,917.50 L1355.69,918.00 L1355.73,918.50 L1355.76,919.00 L1355.80,919.50 L1355.84,920.00 L1355.88,920.50 L1355.92,921.00 L1355.96,921.50 L1356.00,922.00 L1356.04,922.50 L1356.08,923.00 L1356.12,923.50 L1356.16,924.00 L1356.21,924.50 L1356.25,925.00 L1356.29,925.50 L1356.33,926.00 L1356.37,926.50 L1356.41,927.00 L1356.45,927.50 L1356.50,928.00 L1356.54,928.50 L1356.58,929.00 L1356.62,929.50 L1356.66,930.00 L1356.71,930.50 L1356.75,931.00 L1356.79,931.50 L1356.83,932.00 L1356.87,932.50 L1356.91,933.00 L1356.95,933.50 L1356.99,934.00 L1357.03,934.50 L1357.07,935.00 L1357.11,935.50 L1357.15,936.00 L1357.18,936.50 L1357.22,937.00 L1357.26,937.50 L1357.29,938.00 L1357.33,938.50 L1357.36,939.00 L1357.39,939.50 L1357.43,940.00 L1357.46,940.50 L1357.49,941.00 L1357.51,941.50 L1357.54,942.00 L1357.57,942.50 L1357.59,943.00 L1357.62,943.50 L1357.64,944.00 L1357.67,944.50 L1357.69,945.00 L1357.72,945.50 L1357.74,946.00 L1357.77,946.50 L1357.80,947.00 L1357.83,947.50 L1357.86,948.00 L1357.89,948.50 L1357.92,949.00 L1357.96,949.50 L1357.99,950.00 L1358.03,950.50 L1358.07,951.00 L1358.11,951.50 L1358.16,952.00 L1358.20,952.50 L1358.25,953.00 L1358.30,953.50 L1358.35,954.00 L1358.40,954.50 L1358.45,955.00 L1358.51,955.50 L1358.57,956.00 L1358.62,956.50 L1358.68,957.00 L1358.74,957.50 L1358.80,958.00 L1358.87,958.50 L1358.93,959.00 L1359.00,959.50 L1359.06,960.00 L1359.13,960.50 L1359.20,961.00 L1359.27,961.50 L1359.34,962.00 L1359.41,962.50 L1359.48,963.00 L1359.56,963.50 L1359.63,964.00 L1359.71,964.50 L1359.78,965.00 L1359.86,965.50 L1359.94,966.00 L1360.02,966.50 L1360.10,967.00 L1360.18,967.50 L1360.26,968.00 L1360.34,968.50 L1360.42,969.00 L1360.50,969.50 L1360.58,970.00 L1360.67,970.50 L1360.75,971.00 L1360.84,971.50 L1360.93,972.00 L1361.03,972.50 L1361.12,973.00 L1361.22,973.50 L1361.32,974.00 L1361.42,974.50 L1361.53,975.00 L1361.63,975.50 L1361.74,976.00 L1361.85,976.50 L1361.96,977.00 L1362.07,977.50 L1362.19,978.00 L1362.30,978.50 L1362.42,979.00 L1362.54,979.50 L1362.65,980.00 L1362.77,980.50 L1362.90,981.00 L1363.02,981.50 L1363.14,982.00 L1363.26,982.50 L1363.39,983.00 L1363.51,983.50 L1363.64,984.00 L1363.76,984.50 L1363.89,985.00 L1364.01,985.50 L1364.14,986.00 L1364.27,986.50 L1364.39,987.00 L1364.52,987.50 L1364.65,988.00 L1364.77,988.50 L1364.90,989.00 L1365.03,989.50 L1365.15,990.00 L1365.27,990.50 L1365.40,991.00 L1365.53,991.50 L1365.65,992.00 L1365.78,992.50 L1365.91,993.00 L1366.03,993.50 L1366.16,994.00 L1366.29,994.50 L1366.42,995.00 L1366.55,995.50 L1366.68,996.00 L1366.81,996.50 L1366.94,997.00 L1367.08,997.50 L1367.21,998.00 L1367.34,998.50 L1367.48,999.00 L1367.61,999.50 L1367.75,1000.00 L1367.88,1000.50 L1368.02,1001.00 L1368.16,1001.50 L1368.30,1002.00 L1368.44,1002.50 L1368.58,1003.00 L1368.72,1003.50 L1368.86,1004.00 L1369.00,1004.50 L1369.14,1005.00 L1369.28,1005.50 L1369.43,1006.00 L1369.57,1006.50 L1369.72,1007.00 L1369.87,1007.50 L1370.01,1008.00 L1370.16,1008.50 L1370.31,1009.00 L1370.46,1009.50 L1370.61,1010.00 L1370.76,1010.50 L1370.91,1011.00 L1371.07,1011.50 L1371.23,1012.00 L1371.39,1012.50 L1371.56,1013.00 L1371.73,1013.50 L1371.89,1014.00 L1372.07,1014.50 L1372.24,1015.00 L1372.41,1015.50 L1372.59,1016.00 L1372.77,1016.50 L1372.94,1017.00 L1373.12,1017.50 L1373.30,1018.00 L1373.48,1018.50 L1373.66,1019.00 L1373.84,1019.50 L1374.02,1020.00 L1374.20,1020.50 L1374.38,1021.00 L1374.56,1021.50 L1374.74,1022.00 L1374.92,1022.50 L1375.10,1023.00 L1375.28,1023.50 L1375.45,1024.00 L1375.62,1024.50 L1375.80,1025.00 L1375.97,1025.50 L1376.13,1026.00 L1376.30,1026.50 L1376.46,1027.00 L1376.62,1027.50 L1376.78,1028.00 L1376.94,1028.50 L1377.09,1029.00 L1377.24,1029.50 L1377.39,1030.00 L1377.53,1030.50 L1377.67,1031.00 L1377.80,1031.50 L1377.92,1032.00 L1378.05,1032.50 L1378.16,1033.00 L1378.28,1033.50 L1378.40,1034.00 L1378.51,1034.50 L1378.62,1035.00 L1378.74,1035.50 L1378.85,1036.00 L1378.97,1036.50 L1379.09,1037.00 L1379.21,1037.50 L1379.34,1038.00 L1379.47,1038.50 L1379.60,1039.00 L1379.75,1039.50 L1379.90,1040.00 L1380.06,1040.50 L1380.23,1041.00 L1380.40,1041.50 L1380.58,1042.00 L1380.77,1042.50 L1380.96,1043.00 L1381.16,1043.50 L1381.36,1044.00 L1381.57,1044.50 L1381.78,1045.00 L1381.99,1045.50 L1382.21,1046.00 L1382.43,1046.50 L1382.65,1047.00 L1382.87,1047.50 L1383.10,1048.00 L1383.32,1048.50 L1383.55,1049.00 L1383.78,1049.50 L1384.00,1050.00 L1384.23,1050.50 L1384.46,1051.00 L1384.70,1051.50 L1384.94,1052.00 L1385.18,1052.50 L1385.43,1053.00 L1385.68,1053.50 L1385.93,1054.00 L1386.18,1054.50 L1386.44,1055.00 L1386.69,1055.50 L1386.95,1056.00 L1387.21,1056.50 L1387.46,1057.00 L1387.72,1057.50 L1387.97,1058.00 L1388.22,1058.50 L1388.47,1059.00 L1388.71,1059.50 L1388.95,1060.00 L1389.19,1060.50 L1389.43,1061.00 L1389.66,1061.50 L1389.90,1062.00 L1390.14,1062.50 L1390.37,1063.00 L1390.60,1063.50 L1390.84,1064.00 L1391.07,1064.50 L1391.30,1065.00 L1391.53,1065.50 L1391.76,1066.00 L1391.99,1066.50 L1392.22,1067.00 L1392.44,1067.50 L1392.67,1068.00 L1392.89,1068.50 L1393.11,1069.00 L1393.34,1069.50 L1393.56,1070.00 L1393.78,1070.50 L1394.00,1071.00 L1394.22,1071.50 L1394.45,1072.00 L1394.67,1072.50 L1394.90,1073.00 L1395.12,1073.50 L1395.35,1074.00 L1395.57,1074.50 L1395.79,1075.00 L1396.01,1075.50 L1396.22,1076.00 L1396.43,1076.50 L1396.64,1077.00 L1396.84,1077.50 L1397.04,1078.00 L1397.23,1078.50 L1397.41,1079.00 L1397.59,1079.50 L1397.77,1080.00 L1397.93,1080.50 L1398.11,1081.00 L1398.28,1081.50 L1398.45,1082.00 L1398.63,1082.50 L1398.80,1083.00 L1398.97,1083.50 L1399.14,1084.00 L1399.31,1084.50 L1399.47,1085.00 L1399.62,1085.50 L1399.77,1086.00 L1399.91,1086.50 L1400.04,1087.00 L1400.16,1087.50 L1400.27,1088.00 L1400.37,1088.50 L1400.45,1089.00 L1400.53,1089.50 L1400.58,1090.00 L1400.63,1090.50 L1400.67,1091.00 L1400.71,1091.50 L1400.75,1092.00 L1400.78,1092.50 L1400.82,1093.00 L1400.85,1093.50 L1400.89,1094.00 L1400.92,1094.50 L1400.94,1095.00 L1400.97,1095.50 L1401.00,1096.00 L1401.02,1096.50 L1401.04,1097.00 L1401.06,1097.50 L1401.07,1098.00 L1401.08,1098.50 L1401.09,1099.00 L1401.10,1099.50 L1401.10,1100.00 L1401.10,1100.50 L1401.09,1101.00 L1401.07,1101.50 L1401.04,1102.00 L1401.00,1102.50 L1400.95,1103.00 L1400.89,1103.50 L1400.83,1104.00 L1400.76,1104.50 L1400.68,1105.00 L1400.60,1105.50 L1400.51,1106.00 L1400.42,1106.50 L1400.32,1107.00 L1400.22,1107.50 L1400.12,1108.00 L1400.01,1108.50 L1399.90,1109.00 L1399.78,1109.50 L1399.67,1110.00 L1399.55,1110.50 L1399.41,1111.00 L1399.25,1111.50 L1399.06,1112.00 L1398.85,1112.50 L1398.62,1113.00 L1398.37,1113.50 L1398.11,1114.00 L1397.84,1114.50 L1397.55,1115.00 L1397.25,1115.50 L1396.95,1116.00 L1396.64,1116.50 L1396.33,1117.00 L1396.01,1117.50 L1395.69,1118.00 L1395.38,1118.50 L1395.07,1119.00 L1394.77,1119.50 L1394.47,1120.00 L1394.19,1120.50 L1393.90,1121.00 L1393.62,1121.50 L1393.34,1122.00 L1393.06,1122.50 L1392.77,1123.00 L1392.49,1123.50 L1392.20,1124.00 L1391.91,1124.50 L1391.62,1125.00 L1391.32,1125.50 L1391.02,1126.00 L1390.71,1126.50 L1390.40,1127.00 L1390.08,1127.50 L1389.75,1128.00 L1389.41,1128.50 L1389.07,1129.00 L1388.71,1129.50 L1388.35,1130.00 L1387.97,1130.50 L1387.58,1131.00 L1387.17,1131.50 L1386.74,1132.00 L1386.30,1132.50 L1385.84,1133.00 L1385.38,1133.50 L1384.90,1134.00 L1384.42,1134.50 L1383.92,1135.00 L1383.42,1135.50 L1382.92,1136.00 L1382.41,1136.50 L1381.90,1137.00 L1381.39,1137.50 L1380.88,1138.00 L1380.38,1138.50 L1379.88,1139.00 L1379.38,1139.50 L1378.89,1140.00 L1378.40,1140.50 L1377.92,1141.00 L1377.43,1141.50 L1376.93,1142.00 L1376.45,1142.50 L1375.96,1143.00 L1375.49,1143.50 L1375.03,1144.00 L1374.57,1144.50 L1374.12,1145.00 L1373.66,1145.50 L1373.21,1146.00 L1372.77,1146.50 L1372.33,1147.00 L1371.89,1147.50 L1371.46,1148.00 L1371.04,1148.50 L1370.62,1149.00 L1370.21,1149.50 L1369.81,1150.00 L1369.42,1150.50 L1369.03,1151.00 L1368.64,1151.50 L1368.25,1152.00 L1367.87,1152.50 L1367.48,1153.00 L1367.11,1153.50 L1366.74,1154.00 L1366.39,1154.50 L1366.04,1155.00 L1365.71,1155.50 L1365.39,1156.00 L1365.09,1156.50 L1364.81,1157.00 L1364.54,1157.50 L1364.26,1158.00 L1363.98,1158.50 L1363.70,1159.00 L1363.42,1159.50 L1363.14,1160.00 L1362.86,1160.50 L1362.59,1161.00 L1362.34,1161.50 L1362.09,1162.00 L1361.87,1162.50 L1361.66,1163.00 L1361.48,1163.50 L1361.32,1164.00 L1361.19,1164.50 L1361.09,1165.00 L1361.03,1165.50 L1361.00,1166.00 L1361.01,1166.50 L1361.03,1167.00 L1361.08,1167.50 L1361.14,1168.00 L1361.22,1168.50 L1361.31,1169.00 L1361.43,1169.50 L1361.55,1170.00 L1361.69,1170.50 L1361.84,1171.00 L1362.01,1171.50 L1362.19,1172.00 L1362.37,1172.50 L1362.57,1173.00 L1362.78,1173.50 L1362.99,1174.00 L1363.22,1174.50 L1363.45,1175.00 L1363.76,1175.50 L1364.16,1176.00 L1364.67,1176.50 L1365.26,1177.00 L1365.92,1177.50 L1366.66,1178.00 L1367.46,1178.50 L1368.31,1179.00 L1369.21,1179.50 L1370.15,1180.00 L1371.12,1180.50 L1372.11,1181.00 L1373.11,1181.50 L1374.12,1182.00 L1375.13,1182.50 L1376.13,1183.00 L1377.12,1183.50 L1378.08,1184.00 L1379.00,1184.50 L1379.92,1185.00 L1380.86,1185.50 L1381.82,1186.00 L1382.81,1186.50 L1383.81,1187.00 L1384.82,1187.50 L1385.85,1188.00 L1386.88,1188.50 L1387.92,1189.00 L1388.96,1189.50 L1390.00,1190.00 L1391.04,1190.50 L1392.08,1191.00 L1393.11,1191.50 L1394.15,1192.00 L1395.20,1192.50 L1396.25,1193.00 L1397.31,1193.50 L1398.37,1194.00 L1399.43,1194.50 L1400.49,1195.00 L1401.56,1195.50 L1402.62,1196.00 L1403.67,1196.50 L1404.72,1197.00 L1405.76,1197.50 L1406.79,1198.00 L1407.82,1198.50 L1408.87,1199.00 L1409.92,1199.50 L1410.97,1200.00 L1412.02,1200.50 L1413.07,1201.00 L1414.11,1201.50 L1415.14,1202.00 L1416.14,1202.50 L1417.13,1203.00 L1418.09,1203.50 L1419.02,1204.00 L1419.91,1204.50 L1420.77,1205.00 L1421.61,1205.50 L1422.44,1206.00 L1423.26,1206.50 L1424.07,1207.00 L1424.86,1207.50 L1425.63,1208.00 L1426.39,1208.50 L1427.11,1209.00 L1427.81,1209.50 L1428.48,1210.00 L1429.12,1210.50 L1429.72,1211.00 L1430.29,1211.50 L1430.82,1212.00 L1431.36,1212.50 L1431.89,1213.00 L1432.42,1213.50 L1432.93,1214.00 L1433.41,1214.50 L1433.85,1215.00 L1434.25,1215.50 L1434.59,1216.00 L1434.85,1216.50 L1435.05,1217.00 L1435.16,1217.50 L1435.24,1218.00 L1435.31,1218.50 L1435.37,1219.00 L1435.40,1219.20 L1261.40,1219.20 L1261.43,1219.00 L1261.49,1218.50 L1261.56,1218.00 L1261.64,1217.50 L1261.75,1217.00 L1261.95,1216.50 L1262.21,1216.00 L1262.55,1215.50 L1262.95,1215.00 L1263.39,1214.50 L1263.87,1214.00 L1264.38,1213.50 L1264.91,1213.00 L1265.44,1212.50 L1265.98,1212.00 L1266.51,1211.50 L1267.08,1211.00 L1267.68,1210.50 L1268.32,1210.00 L1268.99,1209.50 L1269.69,1209.00 L1270.41,1208.50 L1271.17,1208.00 L1271.94,1207.50 L1272.73,1207.00 L1273.54,1206.50 L1274.36,1206.00 L1275.19,1205.50 L1276.03,1205.00 L1276.89,1204.50 L1277.78,1204.00 L1278.71,1203.50 L1279.67,1203.00 L1280.66,1202.50 L1281.66,1202.00 L1282.69,1201.50 L1283.73,1201.00 L1284.78,1200.50 L1285.83,1200.00 L1286.88,1199.50 L1287.93,1199.00 L1288.98,1198.50 L1290.01,1198.00 L1291.04,1197.50 L1292.08,1197.00 L1293.13,1196.50 L1294.18,1196.00 L1295.24,1195.50 L1296.31,1195.00 L1297.37,1194.50 L1298.43,1194.00 L1299.49,1193.50 L1300.55,1193.00 L1301.60,1192.50 L1302.65,1192.00 L1303.69,1191.50 L1304.72,1191.00 L1305.76,1190.50 L1306.80,1190.00 L1307.84,1189.50 L1308.88,1189.00 L1309.92,1188.50 L1310.95,1188.00 L1311.98,1187.50 L1312.99,1187.00 L1313.99,1186.50 L1314.98,1186.00 L1315.94,1185.50 L1316.88,1185.00 L1317.80,1184.50 L1318.72,1184.00 L1319.68,1183.50 L1320.67,1183.00 L1321.67,1182.50 L1322.68,1182.00 L1323.69,1181.50 L1324.69,1181.00 L1325.68,1180.50 L1326.65,1180.00 L1327.59,1179.50 L1328.49,1179.00 L1329.34,1178.50 L1330.14,1178.00 L1330.88,1177.50 L1331.54,1177.00 L1332.13,1176.50 L1332.64,1176.00 L1333.04,1175.50 L1333.35,1175.00 L1333.58,1174.50 L1333.81,1174.00 L1334.02,1173.50 L1334.23,1173.00 L1334.43,1172.50 L1334.61,1172.00 L1334.79,1171.50 L1334.96,1171.00 L1335.11,1170.50 L1335.25,1170.00 L1335.37,1169.50 L1335.49,1169.00 L1335.58,1168.50 L1335.66,1168.00 L1335.72,1167.50 L1335.77,1167.00 L1335.79,1166.50 L1335.80,1166.00 L1335.77,1165.50 L1335.71,1165.00 L1335.61,1164.50 L1335.48,1164.00 L1335.32,1163.50 L1335.14,1163.00 L1334.93,1162.50 L1334.71,1162.00 L1334.46,1161.50 L1334.21,1161.00 L1333.94,1160.50 L1333.66,1160.00 L1333.38,1159.50 L1333.10,1159.00 L1332.82,1158.50 L1332.54,1158.00 L1332.26,1157.50 L1331.99,1157.00 L1331.71,1156.50 L1331.41,1156.00 L1331.09,1155.50 L1330.76,1155.00 L1330.41,1154.50 L1330.06,1154.00 L1329.69,1153.50 L1329.32,1153.00 L1328.93,1152.50 L1328.55,1152.00 L1328.16,1151.50 L1327.77,1151.00 L1327.38,1150.50 L1326.99,1150.00 L1326.59,1149.50 L1326.18,1149.00 L1325.76,1148.50 L1325.34,1148.00 L1324.91,1147.50 L1324.47,1147.00 L1324.03,1146.50 L1323.59,1146.00 L1323.14,1145.50 L1322.68,1145.00 L1322.23,1144.50 L1321.77,1144.00 L1321.31,1143.50 L1320.84,1143.00 L1320.35,1142.50 L1319.87,1142.00 L1319.37,1141.50 L1318.88,1141.00 L1318.40,1140.50 L1317.91,1140.00 L1317.42,1139.50 L1316.92,1139.00 L1316.42,1138.50 L1315.92,1138.00 L1315.41,1137.50 L1314.90,1137.00 L1314.39,1136.50 L1313.88,1136.00 L1313.38,1135.50 L1312.88,1135.00 L1312.38,1134.50 L1311.90,1134.00 L1311.42,1133.50 L1310.96,1133.00 L1310.50,1132.50 L1310.06,1132.00 L1309.63,1131.50 L1309.22,1131.00 L1308.83,1130.50 L1308.45,1130.00 L1308.09,1129.50 L1307.73,1129.00 L1307.39,1128.50 L1307.05,1128.00 L1306.72,1127.50 L1306.40,1127.00 L1306.09,1126.50 L1305.78,1126.00 L1305.48,1125.50 L1305.18,1125.00 L1304.89,1124.50 L1304.60,1124.00 L1304.31,1123.50 L1304.03,1123.00 L1303.74,1122.50 L1303.46,1122.00 L1303.18,1121.50 L1302.90,1121.00 L1302.61,1120.50 L1302.33,1120.00 L1302.03,1119.50 L1301.73,1119.00 L1301.42,1118.50 L1301.11,1118.00 L1300.79,1117.50 L1300.47,1117.00 L1300.16,1116.50 L1299.85,1116.00 L1299.55,1115.50 L1299.25,1115.00 L1298.96,1114.50 L1298.69,1114.00 L1298.43,1113.50 L1298.18,1113.00 L1297.95,1112.50 L1297.74,1112.00 L1297.55,1111.50 L1297.39,1111.00 L1297.25,1110.50 L1297.13,1110.00 L1297.02,1109.50 L1296.90,1109.00 L1296.79,1108.50 L1296.68,1108.00 L1296.58,1107.50 L1296.48,1107.00 L1296.38,1106.50 L1296.29,1106.00 L1296.20,1105.50 L1296.12,1105.00 L1296.04,1104.50 L1295.97,1104.00 L1295.91,1103.50 L1295.85,1103.00 L1295.80,1102.50 L1295.76,1102.00 L1295.73,1101.50 L1295.71,1101.00 L1295.70,1100.50 L1295.70,1100.00 L1295.70,1099.50 L1295.71,1099.00 L1295.72,1098.50 L1295.73,1098.00 L1295.74,1097.50 L1295.76,1097.00 L1295.78,1096.50 L1295.80,1096.00 L1295.83,1095.50 L1295.86,1095.00 L1295.88,1094.50 L1295.91,1094.00 L1295.95,1093.50 L1295.98,1093.00 L1296.02,1092.50 L1296.05,1092.00 L1296.09,1091.50 L1296.13,1091.00 L1296.17,1090.50 L1296.22,1090.00 L1296.27,1089.50 L1296.35,1089.00 L1296.43,1088.50 L1296.53,1088.00 L1296.64,1087.50 L1296.76,1087.00 L1296.89,1086.50 L1297.03,1086.00 L1297.18,1085.50 L1297.33,1085.00 L1297.49,1084.50 L1297.66,1084.00 L1297.83,1083.50 L1298.00,1083.00 L1298.17,1082.50 L1298.35,1082.00 L1298.52,1081.50 L1298.69,1081.00 L1298.87,1080.50 L1299.03,1080.00 L1299.21,1079.50 L1299.39,1079.00 L1299.57,1078.50 L1299.76,1078.00 L1299.96,1077.50 L1300.16,1077.00 L1300.37,1076.50 L1300.58,1076.00 L1300.79,1075.50 L1301.01,1075.00 L1301.23,1074.50 L1301.45,1074.00 L1301.68,1073.50 L1301.90,1073.00 L1302.13,1072.50 L1302.35,1072.00 L1302.58,1071.50 L1302.80,1071.00 L1303.02,1070.50 L1303.24,1070.00 L1303.46,1069.50 L1303.69,1069.00 L1303.91,1068.50 L1304.13,1068.00 L1304.36,1067.50 L1304.58,1067.00 L1304.81,1066.50 L1305.04,1066.00 L1305.27,1065.50 L1305.50,1065.00 L1305.73,1064.50 L1305.96,1064.00 L1306.20,1063.50 L1306.43,1063.00 L1306.66,1062.50 L1306.90,1062.00 L1307.14,1061.50 L1307.37,1061.00 L1307.61,1060.50 L1307.85,1060.00 L1308.09,1059.50 L1308.33,1059.00 L1308.58,1058.50 L1308.83,1058.00 L1309.08,1057.50 L1309.34,1057.00 L1309.59,1056.50 L1309.85,1056.00 L1310.11,1055.50 L1310.36,1055.00 L1310.62,1054.50 L1310.87,1054.00 L1311.12,1053.50 L1311.37,1053.00 L1311.62,1052.50 L1311.86,1052.00 L1312.10,1051.50 L1312.34,1051.00 L1312.57,1050.50 L1312.80,1050.00 L1313.02,1049.50 L1313.25,1049.00 L1313.48,1048.50 L1313.70,1048.00 L1313.93,1047.50 L1314.15,1047.00 L1314.37,1046.50 L1314.59,1046.00 L1314.81,1045.50 L1315.02,1045.00 L1315.23,1044.50 L1315.44,1044.00 L1315.64,1043.50 L1315.84,1043.00 L1316.03,1042.50 L1316.22,1042.00 L1316.40,1041.50 L1316.57,1041.00 L1316.74,1040.50 L1316.90,1040.00 L1317.05,1039.50 L1317.20,1039.00 L1317.33,1038.50 L1317.46,1038.00 L1317.59,1037.50 L1317.71,1037.00 L1317.83,1036.50 L1317.95,1036.00 L1318.06,1035.50 L1318.18,1035.00 L1318.29,1034.50 L1318.40,1034.00 L1318.52,1033.50 L1318.64,1033.00 L1318.75,1032.50 L1318.88,1032.00 L1319.00,1031.50 L1319.13,1031.00 L1319.27,1030.50 L1319.41,1030.00 L1319.56,1029.50 L1319.71,1029.00 L1319.86,1028.50 L1320.02,1028.00 L1320.18,1027.50 L1320.34,1027.00 L1320.50,1026.50 L1320.67,1026.00 L1320.83,1025.50 L1321.00,1025.00 L1321.18,1024.50 L1321.35,1024.00 L1321.52,1023.50 L1321.70,1023.00 L1321.88,1022.50 L1322.06,1022.00 L1322.24,1021.50 L1322.42,1021.00 L1322.60,1020.50 L1322.78,1020.00 L1322.96,1019.50 L1323.14,1019.00 L1323.32,1018.50 L1323.50,1018.00 L1323.68,1017.50 L1323.86,1017.00 L1324.03,1016.50 L1324.21,1016.00 L1324.39,1015.50 L1324.56,1015.00 L1324.73,1014.50 L1324.91,1014.00 L1325.07,1013.50 L1325.24,1013.00 L1325.41,1012.50 L1325.57,1012.00 L1325.73,1011.50 L1325.89,1011.00 L1326.04,1010.50 L1326.19,1010.00 L1326.34,1009.50 L1326.49,1009.00 L1326.64,1008.50 L1326.79,1008.00 L1326.93,1007.50 L1327.08,1007.00 L1327.23,1006.50 L1327.37,1006.00 L1327.52,1005.50 L1327.66,1005.00 L1327.80,1004.50 L1327.94,1004.00 L1328.08,1003.50 L1328.22,1003.00 L1328.36,1002.50 L1328.50,1002.00 L1328.64,1001.50 L1328.78,1001.00 L1328.92,1000.50 L1329.05,1000.00 L1329.19,999.50 L1329.32,999.00 L1329.46,998.50 L1329.59,998.00 L1329.72,997.50 L1329.86,997.00 L1329.99,996.50 L1330.12,996.00 L1330.25,995.50 L1330.38,995.00 L1330.51,994.50 L1330.64,994.00 L1330.77,993.50 L1330.89,993.00 L1331.02,992.50 L1331.15,992.00 L1331.27,991.50 L1331.40,991.00 L1331.53,990.50 L1331.65,990.00 L1331.77,989.50 L1331.90,989.00 L1332.03,988.50 L1332.15,988.00 L1332.28,987.50 L1332.41,987.00 L1332.53,986.50 L1332.66,986.00 L1332.79,985.50 L1332.91,985.00 L1333.04,984.50 L1333.16,984.00 L1333.29,983.50 L1333.41,983.00 L1333.54,982.50 L1333.66,982.00 L1333.78,981.50 L1333.90,981.00 L1334.03,980.50 L1334.15,980.00 L1334.26,979.50 L1334.38,979.00 L1334.50,978.50 L1334.61,978.00 L1334.73,977.50 L1334.84,977.00 L1334.95,976.50 L1335.06,976.00 L1335.17,975.50 L1335.27,975.00 L1335.38,974.50 L1335.48,974.00 L1335.58,973.50 L1335.68,973.00 L1335.77,972.50 L1335.87,972.00 L1335.96,971.50 L1336.05,971.00 L1336.13,970.50 L1336.22,970.00 L1336.30,969.50 L1336.38,969.00 L1336.46,968.50 L1336.54,968.00 L1336.62,967.50 L1336.70,967.00 L1336.78,966.50 L1336.86,966.00 L1336.94,965.50 L1337.02,965.00 L1337.09,964.50 L1337.17,964.00 L1337.24,963.50 L1337.32,963.00 L1337.39,962.50 L1337.46,962.00 L1337.53,961.50 L1337.60,961.00 L1337.67,960.50 L1337.74,960.00 L1337.80,959.50 L1337.87,959.00 L1337.93,958.50 L1338.00,958.00 L1338.06,957.50 L1338.12,957.00 L1338.18,956.50 L1338.23,956.00 L1338.29,955.50 L1338.35,955.00 L1338.40,954.50 L1338.45,954.00 L1338.50,953.50 L1338.55,953.00 L1338.60,952.50 L1338.64,952.00 L1338.69,951.50 L1338.73,951.00 L1338.77,950.50 L1338.81,950.00 L1338.84,949.50 L1338.88,949.00 L1338.91,948.50 L1338.94,948.00 L1338.97,947.50 L1339.00,947.00 L1339.03,946.50 L1339.06,946.00 L1339.08,945.50 L1339.11,945.00 L1339.13,944.50 L1339.16,944.00 L1339.18,943.50 L1339.21,943.00 L1339.23,942.50 L1339.26,942.00 L1339.29,941.50 L1339.31,941.00 L1339.34,940.50 L1339.37,940.00 L1339.41,939.50 L1339.44,939.00 L1339.47,938.50 L1339.51,938.00 L1339.54,937.50 L1339.58,937.00 L1339.62,936.50 L1339.65,936.00 L1339.69,935.50 L1339.73,935.00 L1339.77,934.50 L1339.81,934.00 L1339.85,933.50 L1339.89,933.00 L1339.93,932.50 L1339.97,932.00 L1340.01,931.50 L1340.05,931.00 L1340.09,930.50 L1340.14,930.00 L1340.18,929.50 L1340.22,929.00 L1340.26,928.50 L1340.30,928.00 L1340.35,927.50 L1340.39,927.00 L1340.43,926.50 L1340.47,926.00 L1340.51,925.50 L1340.55,925.00 L1340.59,924.50 L1340.64,924.00 L1340.68,923.50 L1340.72,923.00 L1340.76,922.50 L1340.80,922.00 L1340.84,921.50 L1340.88,921.00 L1340.92,920.50 L1340.96,920.00 L1341.00,919.50 L1341.04,919.00 L1341.07,918.50 L1341.11,918.00 L1341.15,917.50 L1341.19,917.00 L1341.23,916.50 L1341.27,916.00 L1341.31,915.50 L1341.35,915.00 L1341.39,914.50 L1341.43,914.00 L1341.47,913.50 L1341.52,913.00 L1341.56,912.50 L1341.60,912.00 L1341.64,911.50 L1341.68,911.00 L1341.72,910.50 L1341.76,910.00 L1341.80,909.50 L1341.84,909.00 L1341.89,908.50 L1341.93,908.00 L1341.97,907.50 L1342.01,907.00 L1342.06,906.50 L1342.10,906.00 L1342.14,905.50 L1342.19,905.00 L1342.23,904.50 L1342.28,904.00 L1342.32,903.50 L1342.37,903.00 L1342.41,902.50 L1342.46,902.00 L1342.50,901.50 L1342.55,901.00 L1342.60,900.50 L1342.64,900.00 L1342.69,899.50 L1342.74,899.00 L1342.78,898.50 L1342.83,898.00 L1342.88,897.50 L1342.92,897.00 L1342.97,896.50 L1343.02,896.00 L1343.07,895.50 L1343.11,895.00 L1343.16,894.50 L1343.21,894.00 L1343.26,893.50 L1343.30,893.00 L1343.35,892.50 L1343.40,892.00 L1343.45,891.50 L1343.49,891.00 L1343.54,890.50 L1343.59,890.00 L1343.63,889.50 L1343.68,889.00 L1343.73,888.50 L1343.77,888.00 L1343.82,887.50 L1343.87,887.00 L1343.92,886.50 L1343.97,886.00 L1344.01,885.50 L1344.06,885.00 L1344.11,884.50 L1344.16,884.00 L1344.21,883.50 L1344.26,883.00 L1344.31,882.50 L1344.35,882.00 L1344.40,881.50 L1344.45,881.00 L1344.50,880.50 L1344.55,880.00 L1344.60,879.50 L1344.64,879.00 L1344.69,878.50 L1344.74,878.00 L1344.79,877.50 L1344.83,877.00 L1344.88,876.50 L1344.92,876.00 L1344.97,875.50 L1345.01,875.00 L1345.06,874.50 L1345.10,874.00 L1345.14,873.50 L1345.19,873.00 L1345.23,872.50 L1345.27,872.00 L1345.31,871.50 L1345.35,871.00 L1345.39,870.50 L1345.43,870.00 L1345.47,869.50 L1345.51,869.00 L1345.55,868.50 L1345.59,868.00 L1345.63,867.50 L1345.67,867.00 L1345.71,866.50 L1345.75,866.00 L1345.79,865.50 L1345.83,865.00 L1345.87,864.50 L1345.91,864.00 L1345.95,863.50 L1345.99,863.00 L1346.02,862.50 L1346.06,862.00 L1346.10,861.50 L1346.13,861.00 L1346.17,860.50 L1346.20,860.00 L1346.23,859.50 L1346.26,859.00 L1346.29,858.50 L1346.32,858.00 L1346.35,857.50 L1346.38,857.00 L1346.40,856.50 L1346.43,856.00 L1346.45,855.50 L1346.48,855.00 L1346.50,854.50 L1346.52,854.00 L1346.53,853.50 L1346.55,853.00 L1346.57,852.50 L1346.59,852.00 L1346.61,851.50 L1346.62,851.00 L1346.64,850.50 L1346.65,850.00 L1346.67,849.50 L1346.68,849.00 L1346.70,848.50 L1346.71,848.00 L1346.73,847.50 L1346.74,847.00 L1346.75,846.50 L1346.77,846.00 L1346.78,845.50 L1346.79,845.00 L1346.80,844.50 L1346.82,844.00 L1346.83,843.50 L1346.84,843.00 L1346.85,842.50 L1346.86,842.00 L1346.87,841.50 L1346.89,841.00 L1346.90,840.50 L1346.91,840.00 L1346.92,839.50 L1346.93,839.00 L1346.94,838.50 L1346.95,838.00 L1346.97,837.50 L1346.98,837.00 L1346.99,836.50 L1347.00,836.00 L1347.01,835.50 L1347.02,835.00 L1347.04,834.50 L1347.05,834.00 L1347.06,833.50 L1347.07,833.00 L1347.09,832.50 L1347.10,832.00Z" fill="#ee2a27" stroke="#222" stroke-width="1.8" stroke-linejoin="round"/>
<line x1="1348.4" y1="832.0" x2="1348.4" y2="1068.9" stroke="#111111" stroke-width="1.6"/>
<rect x="1338.7" y="1068.9" width="19.8" height="150.3" fill="none" stroke="#222" stroke-width="1.8"/>
<line x1="1338.7" y1="1123.6" x2="1358.5" y2="1123.6" stroke="#111111" stroke-width="3.5"/>
<text x="4.5" y="1399.8" font-size="42" font-weight="bold" text-anchor="start" fill="#111111">c.</text>
<text x="99.0" y="1401.4" font-size="32" font-weight="bold" text-anchor="start" fill="#111111">SCP1884</text>
<text x="99.5" y="1447.5" font-size="37" text-anchor="start" fill="#111111">Fibroblasts</text>
<line x1="195.2" y1="1503.2" x2="195.2" y2="1980.9" stroke="#111111" stroke-width="3.2"/>
<line x1="193.6" y1="1979.3" x2="620.0" y2="1979.3" stroke="#111111" stroke-width="3.2"/>
<line x1="188.2" y1="1578.6" x2="195.2" y2="1578.6" stroke="#111111" stroke-width="1.5"/>
<text x="184.2" y="1585.8" font-size="20.3" text-anchor="end" fill="#111111">10</text>
<line x1="188.2" y1="1665.0" x2="195.2" y2="1665.0" stroke="#111111" stroke-width="1.5"/>
<text x="184.2" y="1672.2" font-size="20.3" text-anchor="end" fill="#111111">5</text>
<line x1="188.2" y1="1751.5" x2="195.2" y2="1751.5" stroke="#111111" stroke-width="1.5"/>
<text x="184.2" y="1758.7" font-size="20.3" text-anchor="end" fill="#111111">0</text>
<line x1="188.2" y1="1837.5" x2="195.2" y2="1837.5" stroke="#111111" stroke-width="1.5"/>
<text x="184.2" y="1844.7" font-size="20.3" text-anchor="end" fill="#111111">−5</text>
<line x1="188.2" y1="1923.4" x2="195.2" y2="1923.4" stroke="#111111" stroke-width="1.5"/>
<text x="184.2" y="1930.6" font-size="20.3" text-anchor="end" fill="#111111">−10</text>
<line x1="229.2" y1="1979.3" x2="229.2" y2="1986.3" stroke="#111111" stroke-width="1.5"/>
<text x="229.2" y="2004.6" font-size="20.3" text-anchor="middle" fill="#111111">−10</text>
<line x1="306.1" y1="1979.3" x2="306.1" y2="1986.3" stroke="#111111" stroke-width="1.5"/>
<text x="306.1" y="2004.6" font-size="20.3" text-anchor="middle" fill="#111111">−5</text>
<line x1="383.0" y1="1979.3" x2="383.0" y2="1986.3" stroke="#111111" stroke-width="1.5"/>
<text x="383.0" y="2004.6" font-size="20.3" text-anchor="middle" fill="#111111">0</text>
<line x1="460.5" y1="1979.3" x2="460.5" y2="1986.3" stroke="#111111" stroke-width="1.5"/>
<text x="460.5" y="2004.6" font-size="20.3" text-anchor="middle" fill="#111111">5</text>
<line x1="537.4" y1="1979.3" x2="537.4" y2="1986.3" stroke="#111111" stroke-width="1.5"/>
<text x="537.4" y="2004.6" font-size="20.3" text-anchor="middle" fill="#111111">10</text>
<line x1="614.3" y1="1979.3" x2="614.3" y2="1986.3" stroke="#111111" stroke-width="1.5"/>
<text x="614.3" y="2004.6" font-size="20.3" text-anchor="middle" fill="#111111">15</text>
<text x="407.0" y="2032.7" font-size="23" text-anchor="middle" fill="#111111">UMAP_1</text>
<text x="137.0" y="1742.0" font-size="23" text-anchor="middle" transform="rotate(-90 137.0 1742.0)" fill="#111111">UMAP_2</text>
<text x="406.5" y="1487.7" font-size="27" font-weight="bold" text-anchor="middle" fill="#111111">ACSL4</text>
<defs><linearGradient id="g192" x1="0" y1="0" x2="0" y2="1"><stop offset="0" stop-color="#e6262e"/><stop offset="0.5" stop-color="#e88089"/><stop offset="1" stop-color="#f9f6f7"/></linearGradient></defs>
<rect x="691.6" y="1536.6" width="21.2" height="427.5" fill="url(#g192)" stroke="#111" stroke-width="3"/>
<text x="699.0" y="1525.6" font-size="14.6" text-anchor="middle" fill="#111111">High Expression</text>
<text x="698.5" y="1980.1" font-size="14.6" text-anchor="middle" fill="#111111">Low Expression</text>
<path d="M444.2,1541.3 C445.6,1538.9 449.0,1536.0 451.9,1534.5 C454.8,1533.1 458.4,1532.1 461.6,1532.6 C464.8,1533.1 468.7,1535.0 471.3,1537.4 C473.9,1539.8 476.0,1543.5 477.1,1547.1 C478.2,1550.6 478.5,1554.8 478.0,1558.7 C477.6,1562.6 475.1,1566.6 474.2,1570.3 C473.2,1574.0 474.3,1579.0 472.2,1581.0 C470.1,1582.9 465.0,1582.1 461.6,1581.9 C458.2,1581.8 455.0,1580.5 451.9,1580.0 C448.9,1579.5 444.8,1580.6 443.2,1579.0 C441.6,1577.4 442.7,1572.4 442.2,1570.3 C441.8,1568.2 439.8,1568.4 440.3,1566.4 C440.8,1564.5 444.7,1561.6 445.1,1558.7 C445.6,1555.8 443.4,1551.9 443.2,1549.0 C443.0,1546.1 442.7,1543.7 444.2,1541.3Z" fill="#c2c2c2"/>
<g><circle cx="450.2" cy="1540.2" r="1.26" fill="#e07a62"/><circle cx="469.0" cy="1576.1" r="1.36" fill="#e58f7b"/><circle cx="470.8" cy="1540.6" r="1.92" fill="#e07a62"/><circle cx="459.5" cy="1579.8" r="1.74" fill="#e07a62"/><circle cx="464.8" cy="1536.8" r="1.98" fill="#e07a62"/><circle cx="466.9" cy="1565.2" r="2.05" fill="#e9a090"/><circle cx="471.6" cy="1572.6" r="1.84" fill="#e07a62"/><circle cx="467.0" cy="1568.9" r="2.13" fill="#e07a62"/><circle cx="463.4" cy="1536.8" r="1.93" fill="#e07a62"/><circle cx="443.7" cy="1546.1" r="1.65" fill="#d9634d"/><circle cx="445.9" cy="1562.5" r="2.54" fill="#e58f7b"/><circle cx="444.6" cy="1566.8" r="2.03" fill="#e9a090"/></g>
<path d="M266.1,1640.0 C266.4,1636.4 267.7,1631.9 270.0,1628.4 C272.3,1624.8 276.1,1621.6 279.7,1618.7 C283.2,1615.8 287.4,1612.7 291.3,1611.0 C295.2,1609.2 298.7,1608.4 302.9,1608.1 C307.1,1607.7 313.1,1607.9 316.4,1609.0 C319.8,1610.2 321.8,1612.3 323.2,1614.8 C324.7,1617.4 325.5,1621.3 325.2,1624.5 C324.8,1627.7 323.1,1631.0 321.3,1634.2 C319.5,1637.4 316.3,1640.6 314.5,1643.9 C312.7,1647.1 311.3,1650.3 310.6,1653.5 C310.0,1656.8 310.2,1660.3 310.6,1663.2 C311.1,1666.1 314.2,1669.3 313.5,1671.0 C312.9,1672.6 308.9,1671.3 306.8,1672.9 C304.7,1674.5 303.2,1679.3 301.0,1680.6 C298.7,1681.9 295.8,1682.6 293.2,1680.6 C290.6,1678.7 288.1,1672.6 285.5,1669.0 C282.9,1665.5 280.6,1662.6 277.7,1659.3 C274.8,1656.1 270.0,1652.9 268.1,1649.7 C266.1,1646.4 265.8,1643.5 266.1,1640.0Z" fill="#c2c2c2"/>
<g><circle cx="293.0" cy="1637.6" r="2.05" fill="#e58f7b"/><circle cx="316.3" cy="1639.3" r="2.40" fill="#e58f7b"/><circle cx="302.6" cy="1629.4" r="1.57" fill="#e58f7b"/><circle cx="281.0" cy="1629.9" r="1.70" fill="#d9634d"/><circle cx="288.7" cy="1619.8" r="1.45" fill="#e9a090"/><circle cx="311.1" cy="1668.8" r="2.56" fill="#d9634d"/><circle cx="282.3" cy="1626.2" r="1.78" fill="#e07a62"/><circle cx="286.2" cy="1647.5" r="1.71" fill="#d9634d"/><circle cx="280.2" cy="1632.9" r="1.34" fill="#e58f7b"/><circle cx="284.6" cy="1653.6" r="1.72" fill="#e07a62"/><circle cx="323.1" cy="1619.8" r="1.94" fill="#e58f7b"/><circle cx="278.7" cy="1628.9" r="2.44" fill="#e07a62"/><circle cx="308.3" cy="1639.4" r="1.39" fill="#e58f7b"/><circle cx="302.2" cy="1652.6" r="1.46" fill="#d9634d"/><circle cx="310.6" cy="1626.1" r="1.58" fill="#e07a62"/><circle cx="304.0" cy="1652.9" r="2.11" fill="#e58f7b"/><circle cx="304.9" cy="1651.4" r="2.16" fill="#d9634d"/><circle cx="297.7" cy="1613.4" r="1.33" fill="#e07a62"/><circle cx="308.8" cy="1655.1" r="1.91" fill="#d9634d"/><circle cx="319.2" cy="1626.6" r="1.76" fill="#e58f7b"/><circle cx="292.4" cy="1660.9" r="1.36" fill="#e9a090"/><circle cx="286.3" cy="1668.5" r="1.28" fill="#e58f7b"/><circle cx="286.8" cy="1632.4" r="2.07" fill="#e58f7b"/><circle cx="284.5" cy="1627.1" r="1.30" fill="#e9a090"/><circle cx="288.7" cy="1655.4" r="1.99" fill="#e58f7b"/><circle cx="269.8" cy="1629.5" r="1.59" fill="#e58f7b"/><circle cx="321.4" cy="1633.9" r="1.96" fill="#e58f7b"/><circle cx="281.0" cy="1634.6" r="1.93" fill="#e07a62"/><circle cx="304.4" cy="1672.4" r="2.25" fill="#d9634d"/><circle cx="272.0" cy="1635.4" r="1.73" fill="#d9634d"/><circle cx="267.9" cy="1639.9" r="1.39" fill="#e9a090"/><circle cx="298.9" cy="1643.8" r="1.77" fill="#e9a090"/><circle cx="294.4" cy="1620.7" r="1.54" fill="#e9a090"/><circle cx="281.8" cy="1640.3" r="1.55" fill="#d9634d"/><circle cx="298.9" cy="1613.2" r="1.53" fill="#e58f7b"/><circle cx="299.4" cy="1671.2" r="2.52" fill="#e9a090"/><circle cx="297.1" cy="1625.5" r="1.46" fill="#d9634d"/><circle cx="293.3" cy="1661.1" r="1.33" fill="#e9a090"/><circle cx="303.4" cy="1615.2" r="1.61" fill="#d9634d"/><circle cx="294.2" cy="1626.7" r="1.91" fill="#e07a62"/><circle cx="304.1" cy="1657.9" r="1.28" fill="#e58f7b"/><circle cx="274.3" cy="1634.5" r="1.75" fill="#d9634d"/><circle cx="309.8" cy="1670.3" r="1.72" fill="#e58f7b"/><circle cx="307.4" cy="1609.2" r="1.84" fill="#e07a62"/><circle cx="292.7" cy="1669.8" r="1.61" fill="#e58f7b"/><circle cx="315.7" cy="1630.2" r="1.65" fill="#e58f7b"/><circle cx="306.2" cy="1609.0" r="2.50" fill="#e58f7b"/><circle cx="270.0" cy="1635.2" r="2.37" fill="#e9a090"/><circle cx="305.8" cy="1623.5" r="2.44" fill="#e58f7b"/><circle cx="315.4" cy="1622.7" r="2.56" fill="#e9a090"/><circle cx="310.7" cy="1610.4" r="1.47" fill="#e9a090"/><circle cx="305.6" cy="1609.7" r="1.73" fill="#e58f7b"/><circle cx="301.9" cy="1642.5" r="1.96" fill="#e9a090"/><circle cx="274.3" cy="1625.5" r="1.40" fill="#e9a090"/><circle cx="297.0" cy="1650.3" r="2.41" fill="#e07a62"/><circle cx="276.0" cy="1638.7" r="1.34" fill="#e9a090"/><circle cx="312.8" cy="1626.4" r="1.99" fill="#e58f7b"/><circle cx="290.2" cy="1611.8" r="2.45" fill="#e07a62"/><circle cx="270.5" cy="1635.4" r="1.63" fill="#e07a62"/><circle cx="292.5" cy="1644.3" r="1.94" fill="#d9634d"/><circle cx="276.8" cy="1658.3" r="1.58" fill="#e58f7b"/><circle cx="307.5" cy="1612.2" r="2.14" fill="#e58f7b"/><circle cx="305.8" cy="1666.1" r="1.25" fill="#e9a090"/><circle cx="286.2" cy="1663.3" r="2.51" fill="#e58f7b"/><circle cx="293.6" cy="1631.6" r="2.53" fill="#e9a090"/><circle cx="298.2" cy="1637.2" r="1.41" fill="#e58f7b"/><circle cx="288.0" cy="1659.5" r="1.74" fill="#e9a090"/><circle cx="311.4" cy="1617.3" r="1.53" fill="#e58f7b"/><circle cx="318.0" cy="1616.3" r="1.91" fill="#e9a090"/><circle cx="302.5" cy="1655.0" r="1.86" fill="#e9a090"/><circle cx="287.1" cy="1659.2" r="1.82" fill="#e58f7b"/><circle cx="306.1" cy="1664.7" r="1.76" fill="#e07a62"/><circle cx="303.6" cy="1659.2" r="2.52" fill="#e58f7b"/><circle cx="287.9" cy="1669.8" r="2.10" fill="#e58f7b"/><circle cx="300.9" cy="1622.5" r="1.25" fill="#e9a090"/></g>
<path d="M370.6,1688.4 C372.4,1684.8 377.1,1680.8 380.3,1678.7 C383.5,1676.6 386.1,1675.5 390.0,1675.8 C393.9,1676.1 399.3,1678.5 403.5,1680.6 C407.7,1682.7 411.9,1685.5 415.1,1688.4 C418.4,1691.3 421.0,1694.5 422.9,1698.1 C424.8,1701.6 426.4,1705.5 426.8,1709.7 C427.1,1713.9 426.8,1719.3 424.8,1723.2 C422.9,1727.1 418.4,1729.7 415.1,1732.9 C411.9,1736.1 408.7,1739.7 405.5,1742.6 C402.2,1745.5 398.7,1748.2 395.8,1750.3 C392.9,1752.4 390.6,1754.8 388.1,1755.1 C385.5,1755.5 382.2,1755.0 380.3,1752.2 C378.4,1749.5 377.7,1743.2 376.4,1738.7 C375.2,1734.2 373.9,1729.3 372.6,1725.1 C371.3,1721.0 369.2,1717.7 368.7,1713.5 C368.2,1709.3 369.3,1704.2 369.7,1700.0 C370.0,1695.8 368.9,1691.9 370.6,1688.4Z" fill="#c2c2c2"/>
<g><circle cx="410.8" cy="1697.4" r="1.33" fill="#e07a62"/><circle cx="383.2" cy="1689.6" r="1.47" fill="#e58f7b"/><circle cx="377.3" cy="1702.4" r="1.93" fill="#d9634d"/><circle cx="385.6" cy="1735.1" r="2.40" fill="#d9634d"/><circle cx="378.1" cy="1683.0" r="2.06" fill="#d9634d"/><circle cx="387.8" cy="1715.6" r="1.42" fill="#e07a62"/><circle cx="393.2" cy="1699.2" r="1.26" fill="#d9634d"/><circle cx="374.2" cy="1722.3" r="1.49" fill="#e9a090"/><circle cx="382.1" cy="1683.2" r="2.12" fill="#e9a090"/><circle cx="376.7" cy="1691.1" r="2.01" fill="#e07a62"/><circle cx="417.5" cy="1712.1" r="2.23" fill="#e9a090"/><circle cx="399.0" cy="1702.1" r="1.31" fill="#e58f7b"/><circle cx="410.8" cy="1693.3" r="1.62" fill="#e9a090"/><circle cx="380.6" cy="1700.5" r="2.12" fill="#d9634d"/><circle cx="395.6" cy="1702.7" r="2.17" fill="#d9634d"/><circle cx="391.7" cy="1717.3" r="1.64" fill="#d9634d"/><circle cx="398.5" cy="1687.8" r="2.47" fill="#e58f7b"/><circle cx="395.5" cy="1691.5" r="1.39" fill="#d9634d"/><circle cx="408.5" cy="1713.6" r="1.65" fill="#e07a62"/><circle cx="391.2" cy="1714.2" r="1.57" fill="#e58f7b"/><circle cx="394.8" cy="1743.4" r="2.48" fill="#e9a090"/><circle cx="413.4" cy="1705.3" r="1.83" fill="#d9634d"/></g>
<path d="M318.4,1727.1 C319.7,1724.8 323.5,1722.9 326.1,1721.3 C328.7,1719.7 330.6,1719.0 333.9,1717.4 C337.1,1715.8 341.0,1714.0 345.5,1711.6 C350.0,1709.2 357.4,1704.3 361.0,1702.9 C364.5,1701.4 367.4,1702.1 366.8,1702.9 C366.1,1703.7 360.6,1705.6 357.1,1707.7 C353.5,1709.8 348.1,1712.6 345.5,1715.5 C342.9,1718.4 343.2,1722.6 341.6,1725.1 C340.0,1727.7 338.4,1729.7 335.8,1731.0 C333.2,1732.2 328.5,1731.3 326.1,1732.9 C323.7,1734.5 322.6,1740.3 321.3,1740.6 C320.0,1741.0 318.9,1737.1 318.4,1734.8 C317.9,1732.6 317.1,1729.3 318.4,1727.1Z" fill="#c2c2c2"/>
<g><circle cx="321.7" cy="1731.2" r="2.14" fill="#e9a090"/><circle cx="340.5" cy="1723.7" r="1.29" fill="#e9a090"/><circle cx="347.6" cy="1713.8" r="1.76" fill="#e58f7b"/><circle cx="353.9" cy="1707.8" r="1.41" fill="#e9a090"/><circle cx="323.6" cy="1733.6" r="1.60" fill="#e58f7b"/></g>
<path d="M223.0,1767.4 C224.2,1765.4 227.6,1763.2 230.1,1761.4 C232.6,1759.6 235.6,1758.9 238.1,1756.4 C240.6,1753.9 242.5,1749.4 245.1,1746.3 C247.8,1743.3 251.3,1739.3 254.2,1738.3 C257.0,1737.3 259.5,1739.2 262.2,1740.3 C264.9,1741.5 267.2,1744.7 270.2,1745.3 C273.2,1746.0 276.9,1743.7 280.3,1744.3 C283.6,1745.0 286.9,1749.2 290.3,1749.4 C293.6,1749.5 298.0,1744.3 300.3,1745.3 C302.7,1746.3 302.0,1753.2 304.3,1755.4 C306.7,1757.6 311.5,1757.1 314.4,1758.4 C317.2,1759.7 319.1,1761.7 321.4,1763.4 C323.7,1765.1 325.6,1766.6 328.4,1768.4 C331.3,1770.3 336.1,1772.6 338.5,1774.4 C340.8,1776.3 342.3,1777.5 342.5,1779.5 C342.6,1781.5 341.5,1785.0 339.5,1786.5 C337.5,1788.0 332.6,1786.8 330.4,1788.5 C328.3,1790.2 327.3,1793.5 326.4,1796.5 C325.6,1799.5 325.6,1802.5 325.4,1806.6 C325.2,1810.6 325.6,1816.3 325.4,1820.6 C325.2,1825.0 325.2,1829.0 324.4,1832.7 C323.6,1836.3 322.7,1839.9 320.4,1842.7 C318.1,1845.5 313.7,1848.0 310.4,1849.7 C307.0,1851.4 303.7,1851.7 300.3,1852.7 C297.0,1853.7 293.6,1855.4 290.3,1855.7 C286.9,1856.1 283.6,1854.6 280.3,1854.7 C276.9,1854.9 273.2,1856.6 270.2,1856.7 C267.2,1856.9 264.7,1856.9 262.2,1855.7 C259.7,1854.6 257.2,1851.7 255.2,1849.7 C253.2,1847.7 251.8,1845.9 250.1,1843.7 C248.5,1841.5 246.5,1839.3 245.1,1836.7 C243.8,1834.0 243.0,1831.2 242.1,1827.6 C241.3,1824.1 240.8,1819.6 240.1,1815.6 C239.4,1811.6 238.9,1807.2 238.1,1803.6 C237.3,1799.9 236.3,1796.2 235.1,1793.5 C233.9,1790.8 232.6,1789.7 231.1,1787.5 C229.6,1785.3 227.4,1782.8 226.1,1780.5 C224.7,1778.1 223.5,1775.6 223.0,1773.4 C222.5,1771.3 221.9,1769.4 223.0,1767.4Z" fill="#c2c2c2"/>
<g><circle cx="311.8" cy="1834.2" r="2.67" fill="#d9634d"/><circle cx="262.7" cy="1836.9" r="2.49" fill="#e58f7b"/><circle cx="296.6" cy="1784.4" r="1.30" fill="#e58f7b"/><circle cx="288.3" cy="1780.8" r="2.37" fill="#e07a62"/><circle cx="264.1" cy="1846.2" r="2.45" fill="#d9634d"/><circle cx="325.1" cy="1803.5" r="2.16" fill="#e9a090"/><circle cx="269.1" cy="1788.6" r="1.62" fill="#e9a090"/><circle cx="306.1" cy="1840.0" r="2.09" fill="#e58f7b"/><circle cx="312.1" cy="1830.2" r="1.37" fill="#e58f7b"/><circle cx="306.0" cy="1843.4" r="1.65" fill="#d9634d"/><circle cx="269.3" cy="1845.5" r="1.49" fill="#d9634d"/><circle cx="297.7" cy="1784.3" r="2.55" fill="#e58f7b"/><circle cx="304.9" cy="1832.8" r="2.21" fill="#e07a62"/><circle cx="309.8" cy="1845.7" r="2.67" fill="#d9634d"/><circle cx="278.1" cy="1816.0" r="2.35" fill="#e58f7b"/><circle cx="303.5" cy="1808.2" r="1.39" fill="#e07a62"/><circle cx="264.1" cy="1782.0" r="2.42" fill="#e58f7b"/><circle cx="268.3" cy="1828.0" r="2.00" fill="#e07a62"/><circle cx="251.4" cy="1816.0" r="1.86" fill="#e9a090"/><circle cx="325.5" cy="1804.2" r="2.19" fill="#e9a090"/><circle cx="263.2" cy="1806.9" r="2.47" fill="#d9634d"/><circle cx="288.2" cy="1788.3" r="2.12" fill="#e07a62"/><circle cx="279.4" cy="1812.5" r="2.53" fill="#e58f7b"/><circle cx="252.4" cy="1808.3" r="1.81" fill="#e07a62"/><circle cx="296.2" cy="1824.3" r="1.95" fill="#e9a090"/><circle cx="234.3" cy="1790.2" r="2.70" fill="#e58f7b"/><circle cx="283.3" cy="1844.0" r="2.40" fill="#d9634d"/><circle cx="291.2" cy="1784.5" r="1.81" fill="#e9a090"/><circle cx="247.5" cy="1829.7" r="1.41" fill="#e9a090"/><circle cx="251.8" cy="1803.5" r="1.76" fill="#e58f7b"/><circle cx="280.1" cy="1838.7" r="1.32" fill="#e58f7b"/><circle cx="291.3" cy="1809.5" r="2.46" fill="#e58f7b"/><circle cx="286.0" cy="1839.2" r="2.52" fill="#d9634d"/><circle cx="237.2" cy="1784.3" r="2.01" fill="#e58f7b"/><circle cx="282.1" cy="1852.7" r="2.08" fill="#e58f7b"/><circle cx="247.0" cy="1814.2" r="1.34" fill="#e58f7b"/><circle cx="291.0" cy="1800.2" r="1.69" fill="#e9a090"/><circle cx="253.2" cy="1829.0" r="1.38" fill="#e07a62"/><circle cx="284.8" cy="1798.1" r="2.45" fill="#e58f7b"/><circle cx="291.1" cy="1850.5" r="1.58" fill="#e07a62"/><circle cx="305.4" cy="1835.5" r="2.29" fill="#d9634d"/><circle cx="313.9" cy="1813.1" r="2.02" fill="#e9a090"/><circle cx="324.5" cy="1814.5" r="1.42" fill="#e07a62"/><circle cx="320.0" cy="1823.6" r="1.88" fill="#d9634d"/><circle cx="277.1" cy="1829.8" r="2.70" fill="#d9634d"/><circle cx="272.0" cy="1836.3" r="2.70" fill="#e58f7b"/><circle cx="247.8" cy="1812.0" r="2.17" fill="#d9634d"/><circle cx="262.4" cy="1829.5" r="1.92" fill="#e58f7b"/><circle cx="250.9" cy="1804.6" r="2.01" fill="#e58f7b"/><circle cx="272.9" cy="1845.5" r="2.38" fill="#e9a090"/><circle cx="278.4" cy="1801.6" r="2.03" fill="#e9a090"/><circle cx="290.0" cy="1791.3" r="1.54" fill="#e07a62"/><circle cx="266.5" cy="1809.9" r="1.40" fill="#e07a62"/><circle cx="266.7" cy="1813.2" r="1.79" fill="#e9a090"/><circle cx="295.3" cy="1816.3" r="2.47" fill="#e07a62"/><circle cx="278.7" cy="1819.7" r="2.30" fill="#e9a090"/><circle cx="247.3" cy="1830.9" r="2.35" fill="#e07a62"/><circle cx="325.0" cy="1791.3" r="1.81" fill="#e9a090"/><circle cx="309.5" cy="1826.0" r="2.25" fill="#d9634d"/><circle cx="310.5" cy="1792.2" r="2.07" fill="#e58f7b"/><circle cx="260.0" cy="1790.6" r="2.57" fill="#e07a62"/><circle cx="292.4" cy="1842.9" r="1.92" fill="#d9634d"/><circle cx="267.6" cy="1849.8" r="1.79" fill="#d9634d"/><circle cx="294.6" cy="1817.2" r="1.77" fill="#e9a090"/><circle cx="291.8" cy="1824.1" r="2.50" fill="#e07a62"/><circle cx="268.3" cy="1810.2" r="1.81" fill="#e07a62"/><circle cx="259.0" cy="1805.9" r="2.45" fill="#e58f7b"/><circle cx="324.1" cy="1809.4" r="1.41" fill="#e58f7b"/><circle cx="246.4" cy="1797.8" r="1.38" fill="#d9634d"/><circle cx="320.9" cy="1788.4" r="1.50" fill="#e07a62"/><circle cx="307.7" cy="1791.6" r="2.47" fill="#e07a62"/><circle cx="305.3" cy="1847.0" r="1.84" fill="#e07a62"/><circle cx="293.7" cy="1835.3" r="1.55" fill="#e58f7b"/><circle cx="327.7" cy="1783.0" r="1.38" fill="#e07a62"/><circle cx="300.1" cy="1793.1" r="1.95" fill="#e07a62"/><circle cx="249.7" cy="1827.5" r="2.24" fill="#e58f7b"/><circle cx="267.3" cy="1856.4" r="1.91" fill="#e9a090"/><circle cx="272.1" cy="1814.8" r="1.98" fill="#e07a62"/><circle cx="249.2" cy="1794.0" r="1.51" fill="#d9634d"/><circle cx="293.4" cy="1831.1" r="1.92" fill="#e07a62"/></g>
<path d="M519.4,1682.7 C521.1,1679.0 523.1,1674.7 526.2,1672.4 C529.4,1670.1 534.0,1670.4 538.3,1668.9 C542.6,1667.5 547.7,1664.8 552.0,1663.8 C556.3,1662.8 560.9,1662.6 564.1,1662.9 C567.2,1663.2 568.7,1663.3 571.0,1665.5 C573.3,1667.6 576.1,1672.7 577.8,1675.8 C579.6,1679.0 579.9,1681.3 581.3,1684.4 C582.7,1687.6 585.9,1691.3 586.5,1694.7 C587.0,1698.2 586.2,1702.2 584.7,1705.1 C583.3,1707.9 579.6,1709.6 577.8,1711.9 C576.1,1714.2 575.6,1715.9 574.4,1718.8 C573.3,1721.7 571.5,1725.7 571.0,1729.1 C570.4,1732.6 570.1,1736.3 571.0,1739.5 C571.8,1742.6 574.7,1745.5 576.1,1748.1 C577.6,1750.6 579.9,1752.4 579.6,1754.9 C579.3,1757.5 575.8,1760.7 574.4,1763.5 C573.0,1766.4 573.0,1769.6 571.0,1772.2 C569.0,1774.7 565.5,1777.2 562.4,1779.0 C559.2,1780.9 555.5,1783.0 552.0,1783.3 C548.6,1783.6 544.9,1782.3 541.7,1780.8 C538.6,1779.2 535.1,1776.7 533.1,1773.9 C531.1,1771.0 532.0,1766.4 529.7,1763.5 C527.4,1760.7 522.5,1759.2 519.4,1756.7 C516.2,1754.1 512.8,1751.5 510.8,1748.1 C508.7,1744.6 508.5,1740.3 507.3,1736.0 C506.2,1731.7 504.2,1726.3 503.9,1722.3 C503.6,1718.2 503.9,1714.8 505.6,1711.9 C507.3,1709.1 512.5,1707.9 514.2,1705.1 C515.9,1702.2 515.1,1698.5 515.9,1694.7 C516.8,1691.0 517.6,1686.4 519.4,1682.7Z" fill="#c2c2c2"/>
<g><circle cx="568.5" cy="1728.8" r="2.41" fill="#e07a62"/><circle cx="541.2" cy="1769.0" r="2.03" fill="#d9634d"/><circle cx="558.4" cy="1724.5" r="1.43" fill="#e07a62"/><circle cx="535.5" cy="1746.1" r="1.24" fill="#e07a62"/><circle cx="573.6" cy="1706.5" r="2.17" fill="#e58f7b"/><circle cx="550.9" cy="1750.6" r="1.78" fill="#e9a090"/><circle cx="554.7" cy="1701.0" r="1.74" fill="#d9634d"/><circle cx="558.7" cy="1736.9" r="1.24" fill="#d9634d"/><circle cx="530.2" cy="1754.1" r="1.58" fill="#d9634d"/><circle cx="544.2" cy="1696.0" r="2.46" fill="#e07a62"/><circle cx="544.5" cy="1762.7" r="1.30" fill="#e9a090"/><circle cx="566.7" cy="1731.9" r="2.44" fill="#e9a090"/><circle cx="562.1" cy="1663.4" r="2.02" fill="#e58f7b"/><circle cx="540.4" cy="1750.4" r="1.58" fill="#e9a090"/><circle cx="557.4" cy="1674.7" r="1.89" fill="#d9634d"/><circle cx="521.6" cy="1741.7" r="1.60" fill="#d9634d"/><circle cx="520.9" cy="1724.1" r="1.90" fill="#e9a090"/><circle cx="567.4" cy="1746.3" r="2.10" fill="#d9634d"/><circle cx="541.5" cy="1766.9" r="1.77" fill="#e9a090"/><circle cx="572.9" cy="1760.6" r="1.63" fill="#e58f7b"/><circle cx="532.9" cy="1765.4" r="2.38" fill="#d9634d"/><circle cx="571.2" cy="1666.9" r="1.87" fill="#e07a62"/><circle cx="576.8" cy="1688.8" r="2.03" fill="#e07a62"/><circle cx="564.1" cy="1704.2" r="2.48" fill="#e58f7b"/><circle cx="566.5" cy="1740.6" r="2.35" fill="#d9634d"/><circle cx="531.6" cy="1682.6" r="2.47" fill="#e9a090"/><circle cx="574.7" cy="1689.9" r="1.58" fill="#e07a62"/><circle cx="554.5" cy="1779.8" r="2.26" fill="#e9a090"/><circle cx="547.9" cy="1765.9" r="1.82" fill="#e07a62"/><circle cx="538.3" cy="1719.5" r="1.65" fill="#e07a62"/><circle cx="565.4" cy="1690.8" r="1.85" fill="#e58f7b"/><circle cx="580.1" cy="1682.2" r="2.14" fill="#d9634d"/><circle cx="537.3" cy="1683.1" r="1.42" fill="#e9a090"/><circle cx="542.6" cy="1775.3" r="1.98" fill="#e07a62"/><circle cx="549.6" cy="1754.7" r="2.02" fill="#e58f7b"/><circle cx="532.2" cy="1674.4" r="1.74" fill="#e07a62"/><circle cx="552.0" cy="1779.3" r="1.75" fill="#e58f7b"/><circle cx="527.3" cy="1738.7" r="1.98" fill="#d9634d"/><circle cx="543.6" cy="1774.8" r="1.50" fill="#e58f7b"/><circle cx="533.6" cy="1735.7" r="1.63" fill="#e58f7b"/><circle cx="562.4" cy="1733.5" r="1.79" fill="#e58f7b"/><circle cx="549.6" cy="1687.7" r="1.91" fill="#e07a62"/><circle cx="566.1" cy="1691.5" r="1.38" fill="#d9634d"/><circle cx="559.9" cy="1748.8" r="1.24" fill="#e07a62"/><circle cx="561.1" cy="1724.9" r="1.70" fill="#e58f7b"/><circle cx="546.4" cy="1701.9" r="2.52" fill="#e9a090"/><circle cx="553.1" cy="1746.9" r="1.80" fill="#d9634d"/><circle cx="546.4" cy="1714.4" r="2.39" fill="#e07a62"/><circle cx="557.8" cy="1682.3" r="2.20" fill="#e58f7b"/><circle cx="533.5" cy="1771.3" r="1.57" fill="#e58f7b"/><circle cx="550.7" cy="1674.5" r="1.90" fill="#e9a090"/><circle cx="508.7" cy="1713.8" r="1.55" fill="#e07a62"/><circle cx="543.3" cy="1709.6" r="1.68" fill="#e07a62"/><circle cx="522.2" cy="1743.6" r="2.35" fill="#e9a090"/><circle cx="520.2" cy="1694.2" r="2.26" fill="#e07a62"/></g>
<circle cx="497" cy="1717" r="2.3" fill="#c2c2c2"/>
<path d="M417.0,1847.8 C418.1,1846.7 419.7,1845.8 421.3,1846.1 C422.9,1846.4 424.2,1848.4 426.5,1849.6 C428.7,1850.7 433.2,1851.3 435.1,1853.0 C436.9,1854.7 437.6,1857.0 437.6,1859.9 C437.6,1862.8 436.6,1866.8 435.1,1870.2 C433.5,1873.7 430.2,1877.1 428.2,1880.5 C426.2,1884.0 424.2,1887.7 423.0,1890.9 C421.9,1894.0 422.7,1897.5 421.3,1899.5 C419.9,1901.5 417.0,1902.6 414.4,1902.9 C411.8,1903.2 408.1,1902.6 405.8,1901.2 C403.5,1899.7 402.1,1897.2 400.6,1894.3 C399.2,1891.4 396.9,1887.4 397.2,1884.0 C397.5,1880.5 400.1,1876.5 402.4,1873.7 C404.7,1870.8 409.1,1869.1 411.0,1866.8 C412.8,1864.5 413.0,1862.2 413.5,1859.9 C414.1,1857.6 413.8,1855.0 414.4,1853.0 C415.0,1851.0 415.8,1849.0 417.0,1847.8Z" fill="#c2c2c2"/>
<g><circle cx="427.7" cy="1850.3" r="2.15" fill="#e9a090"/><circle cx="414.5" cy="1855.6" r="1.23" fill="#e07a62"/><circle cx="429.2" cy="1862.3" r="1.22" fill="#e07a62"/><circle cx="401.3" cy="1888.3" r="2.07" fill="#e9a090"/><circle cx="404.0" cy="1884.1" r="1.72" fill="#e9a090"/></g>
<path d="M476.3,1915.8 C477.5,1914.2 478.4,1915.1 479.8,1915.8 C481.2,1916.5 482.9,1919.7 484.9,1920.1 C487.0,1920.5 489.5,1919.7 491.8,1918.4 C494.1,1917.1 497.1,1912.4 498.7,1912.4 C500.3,1912.4 500.7,1915.1 501.3,1918.4 C501.9,1921.7 501.6,1928.7 502.2,1932.2 C502.7,1935.6 505.0,1936.5 504.7,1939.0 C504.4,1941.6 502.3,1945.3 500.4,1947.6 C498.6,1949.9 495.8,1951.6 493.5,1952.8 C491.3,1953.9 489.0,1954.9 486.7,1954.5 C484.4,1954.1 481.9,1952.2 479.8,1950.2 C477.6,1948.2 475.5,1945.2 473.8,1942.5 C472.0,1939.7 469.6,1936.7 469.5,1933.9 C469.3,1931.0 471.8,1928.3 472.9,1925.3 C474.1,1922.3 475.2,1917.4 476.3,1915.8Z" fill="#c2c2c2"/>
<g><circle cx="483.5" cy="1920.7" r="1.28" fill="#d9634d"/><circle cx="478.9" cy="1940.6" r="1.45" fill="#e9a090"/><circle cx="484.2" cy="1948.0" r="1.26" fill="#e07a62"/><circle cx="471.9" cy="1935.3" r="2.42" fill="#e07a62"/><circle cx="483.0" cy="1941.0" r="1.49" fill="#e07a62"/><circle cx="493.1" cy="1933.3" r="2.19" fill="#d9634d"/><circle cx="471.7" cy="1937.2" r="2.29" fill="#e58f7b"/></g>
<text x="484.4" y="1699.5" font-size="18.5" text-anchor="start" fill="#111111">Endothelial cells</text>
<text x="314.0" y="1719.7" font-size="18.5" text-anchor="start" fill="#111111">Smooth muscle cells</text>
<text x="450.9" y="1746.2" font-size="18.5" text-anchor="start" fill="#111111">Langerhans cells</text>
<text x="243.0" y="1792.4" font-size="18.5" text-anchor="start" fill="#111111">Fibroblasts</text>
<text x="370.3" y="1896.9" font-size="18.5" text-anchor="start" fill="#111111">Pericytes</text>
<line x1="838.0" y1="1510.0" x2="838.0" y2="1954.0" stroke="#111111" stroke-width="2"/>
<line x1="837.0" y1="1953.0" x2="1446.0" y2="1953.0" stroke="#111111" stroke-width="2"/>
<line x1="831.0" y1="1932.6" x2="838.0" y2="1932.6" stroke="#111111" stroke-width="1.5"/>
<text x="824.0" y="1941.0" font-size="24" text-anchor="end" fill="#111111">0</text>
<line x1="831.0" y1="1798.4" x2="838.0" y2="1798.4" stroke="#111111" stroke-width="1.5"/>
<text x="824.0" y="1806.8" font-size="24" text-anchor="end" fill="#111111">2</text>
<line x1="831.0" y1="1663.7" x2="838.0" y2="1663.7" stroke="#111111" stroke-width="1.5"/>
<text x="824.0" y="1672.1" font-size="24" text-anchor="end" fill="#111111">4</text>
<line x1="831.0" y1="1529.5" x2="838.0" y2="1529.5" stroke="#111111" stroke-width="1.5"/>
<text x="824.0" y="1537.9" font-size="24" text-anchor="end" fill="#111111">6</text>
<line x1="1003.1" y1="1953.0" x2="1003.1" y2="1960.5" stroke="#111111" stroke-width="1.5"/>
<text x="1018.6" y="1979.0" font-size="24" text-anchor="end" transform="rotate(-45 1018.6 1979.0)" fill="#111111">Normal</text>
<line x1="1279.8" y1="1953.0" x2="1279.8" y2="1960.5" stroke="#111111" stroke-width="1.5"/>
<text x="1296.3" y="1976.5" font-size="24" text-anchor="end" transform="rotate(-45 1296.3 1976.5)" fill="#111111">IBD</text>
<text x="1141.3" y="1490.0" font-size="32" font-weight="bold" text-anchor="middle" fill="#111111">ACSL4</text>
<text x="798.5" y="1731.5" font-size="27.8" text-anchor="middle" transform="rotate(-90 798.5 1731.5)" fill="#111111">Expression Level</text>
<line x1="878.9" y1="1932.6" x2="1127.8" y2="1932.6" stroke="#111111" stroke-width="2.6"/>
<line x1="1003.1" y1="1656.9" x2="1003.1" y2="1932.6" stroke="#111111" stroke-width="1.5"/>
<line x1="1003.1" y1="1831.4" x2="1003.1" y2="1841.9" stroke="#111111" stroke-width="3.5"/>
<path d="M1280.60,1638.60 L1280.63,1639.10 L1280.66,1639.60 L1280.69,1640.10 L1280.73,1640.60 L1280.76,1641.10 L1280.79,1641.60 L1280.82,1642.10 L1280.86,1642.60 L1280.89,1643.10 L1280.92,1643.60 L1280.95,1644.10 L1280.99,1644.60 L1281.02,1645.10 L1281.05,1645.60 L1281.09,1646.10 L1281.12,1646.60 L1281.15,1647.10 L1281.19,1647.60 L1281.22,1648.10 L1281.25,1648.60 L1281.29,1649.10 L1281.32,1649.60 L1281.35,1650.10 L1281.38,1650.60 L1281.42,1651.10 L1281.45,1651.60 L1281.48,1652.10 L1281.52,1652.60 L1281.55,1653.10 L1281.58,1653.60 L1281.61,1654.10 L1281.64,1654.60 L1281.67,1655.10 L1281.71,1655.60 L1281.74,1656.10 L1281.77,1656.60 L1281.80,1657.10 L1281.83,1657.60 L1281.86,1658.10 L1281.89,1658.60 L1281.92,1659.10 L1281.95,1659.60 L1281.97,1660.10 L1282.00,1660.60 L1282.03,1661.10 L1282.06,1661.60 L1282.08,1662.10 L1282.11,1662.60 L1282.14,1663.10 L1282.16,1663.60 L1282.19,1664.10 L1282.21,1664.60 L1282.23,1665.10 L1282.26,1665.60 L1282.28,1666.10 L1282.30,1666.60 L1282.32,1667.10 L1282.34,1667.60 L1282.36,1668.10 L1282.38,1668.60 L1282.40,1669.10 L1282.42,1669.60 L1282.44,1670.10 L1282.46,1670.60 L1282.48,1671.10 L1282.50,1671.60 L1282.52,1672.10 L1282.54,1672.60 L1282.55,1673.10 L1282.57,1673.60 L1282.59,1674.10 L1282.61,1674.60 L1282.63,1675.10 L1282.65,1675.60 L1282.67,1676.10 L1282.69,1676.60 L1282.71,1677.10 L1282.73,1677.60 L1282.75,1678.10 L1282.77,1678.60 L1282.79,1679.10 L1282.81,1679.60 L1282.83,1680.10 L1282.85,1680.60 L1282.88,1681.10 L1282.90,1681.60 L1282.92,1682.10 L1282.95,1682.60 L1282.97,1683.10 L1283.00,1683.60 L1283.02,1684.10 L1283.05,1684.60 L1283.08,1685.10 L1283.10,1685.60 L1283.13,1686.10 L1283.16,1686.60 L1283.19,1687.10 L1283.22,1687.60 L1283.24,1688.10 L1283.27,1688.60 L1283.30,1689.10 L1283.33,1689.60 L1283.36,1690.10 L1283.39,1690.60 L1283.42,1691.10 L1283.45,1691.60 L1283.48,1692.10 L1283.51,1692.60 L1283.54,1693.10 L1283.57,1693.60 L1283.60,1694.10 L1283.64,1694.60 L1283.67,1695.10 L1283.70,1695.60 L1283.73,1696.10 L1283.76,1696.60 L1283.79,1697.10 L1283.82,1697.60 L1283.86,1698.10 L1283.89,1698.60 L1283.92,1699.10 L1283.95,1699.60 L1283.98,1700.10 L1284.02,1700.60 L1284.05,1701.10 L1284.08,1701.60 L1284.11,1702.10 L1284.15,1702.60 L1284.18,1703.10 L1284.21,1703.60 L1284.25,1704.10 L1284.28,1704.60 L1284.32,1705.10 L1284.35,1705.60 L1284.38,1706.10 L1284.42,1706.60 L1284.45,1707.10 L1284.49,1707.60 L1284.52,1708.10 L1284.56,1708.60 L1284.59,1709.10 L1284.63,1709.60 L1284.67,1710.10 L1284.70,1710.60 L1284.74,1711.10 L1284.77,1711.60 L1284.81,1712.10 L1284.85,1712.60 L1284.88,1713.10 L1284.92,1713.60 L1284.96,1714.10 L1285.00,1714.60 L1285.03,1715.10 L1285.07,1715.60 L1285.11,1716.10 L1285.15,1716.60 L1285.18,1717.10 L1285.22,1717.60 L1285.26,1718.10 L1285.30,1718.60 L1285.34,1719.10 L1285.38,1719.60 L1285.42,1720.10 L1285.46,1720.60 L1285.50,1721.10 L1285.54,1721.60 L1285.58,1722.10 L1285.62,1722.60 L1285.66,1723.10 L1285.71,1723.60 L1285.75,1724.10 L1285.79,1724.60 L1285.83,1725.10 L1285.87,1725.60 L1285.91,1726.10 L1285.96,1726.60 L1286.00,1727.10 L1286.04,1727.60 L1286.08,1728.10 L1286.12,1728.60 L1286.16,1729.10 L1286.21,1729.60 L1286.25,1730.10 L1286.29,1730.60 L1286.33,1731.10 L1286.37,1731.60 L1286.41,1732.10 L1286.45,1732.60 L1286.49,1733.10 L1286.53,1733.60 L1286.57,1734.10 L1286.61,1734.60 L1286.64,1735.10 L1286.68,1735.60 L1286.72,1736.10 L1286.75,1736.60 L1286.78,1737.10 L1286.82,1737.60 L1286.85,1738.10 L1286.88,1738.60 L1286.92,1739.10 L1286.95,1739.60 L1286.98,1740.10 L1287.02,1740.60 L1287.05,1741.10 L1287.08,1741.60 L1287.12,1742.10 L1287.15,1742.60 L1287.19,1743.10 L1287.23,1743.60 L1287.27,1744.10 L1287.31,1744.60 L1287.35,1745.10 L1287.39,1745.60 L1287.44,1746.10 L1287.48,1746.60 L1287.53,1747.10 L1287.58,1747.60 L1287.63,1748.10 L1287.69,1748.60 L1287.74,1749.10 L1287.80,1749.60 L1287.87,1750.10 L1287.94,1750.60 L1288.03,1751.10 L1288.12,1751.60 L1288.22,1752.10 L1288.33,1752.60 L1288.43,1753.10 L1288.55,1753.60 L1288.66,1754.10 L1288.77,1754.60 L1288.88,1755.10 L1288.99,1755.60 L1289.09,1756.10 L1289.19,1756.60 L1289.28,1757.10 L1289.37,1757.60 L1289.45,1758.10 L1289.53,1758.60 L1289.61,1759.10 L1289.69,1759.60 L1289.77,1760.10 L1289.85,1760.60 L1289.92,1761.10 L1290.00,1761.60 L1290.07,1762.10 L1290.15,1762.60 L1290.22,1763.10 L1290.29,1763.60 L1290.36,1764.10 L1290.43,1764.60 L1290.50,1765.10 L1290.57,1765.60 L1290.64,1766.10 L1290.71,1766.60 L1290.78,1767.10 L1290.85,1767.60 L1290.91,1768.10 L1290.98,1768.60 L1291.05,1769.10 L1291.12,1769.60 L1291.19,1770.10 L1291.26,1770.60 L1291.33,1771.10 L1291.40,1771.60 L1291.47,1772.10 L1291.54,1772.60 L1291.61,1773.10 L1291.68,1773.60 L1291.76,1774.10 L1291.83,1774.60 L1291.90,1775.10 L1291.97,1775.60 L1292.05,1776.10 L1292.12,1776.60 L1292.19,1777.10 L1292.26,1777.60 L1292.32,1778.10 L1292.39,1778.60 L1292.46,1779.10 L1292.53,1779.60 L1292.60,1780.10 L1292.67,1780.60 L1292.73,1781.10 L1292.80,1781.60 L1292.87,1782.10 L1292.94,1782.60 L1293.01,1783.10 L1293.08,1783.60 L1293.15,1784.10 L1293.23,1784.60 L1293.30,1785.10 L1293.37,1785.60 L1293.45,1786.10 L1293.53,1786.60 L1293.61,1787.10 L1293.69,1787.60 L1293.77,1788.10 L1293.85,1788.60 L1293.94,1789.10 L1294.03,1789.60 L1294.12,1790.10 L1294.21,1790.60 L1294.30,1791.10 L1294.40,1791.60 L1294.50,1792.10 L1294.60,1792.60 L1294.71,1793.10 L1294.81,1793.60 L1294.92,1794.10 L1295.04,1794.60 L1295.15,1795.10 L1295.27,1795.60 L1295.39,1796.10 L1295.51,1796.60 L1295.64,1797.10 L1295.77,1797.60 L1295.90,1798.10 L1296.03,1798.60 L1296.16,1799.10 L1296.30,1799.60 L1296.44,1800.10 L1296.58,1800.60 L1296.72,1801.10 L1296.87,1801.60 L1297.02,1802.10 L1297.17,1802.60 L1297.32,1803.10 L1297.48,1803.60 L1297.63,1804.10 L1297.79,1804.60 L1297.95,1805.10 L1298.11,1805.60 L1298.28,1806.10 L1298.45,1806.60 L1298.61,1807.10 L1298.78,1807.60 L1298.96,1808.10 L1299.13,1808.60 L1299.31,1809.10 L1299.49,1809.60 L1299.68,1810.10 L1299.88,1810.60 L1300.09,1811.10 L1300.30,1811.60 L1300.52,1812.10 L1300.75,1812.60 L1300.97,1813.10 L1301.20,1813.60 L1301.44,1814.10 L1301.67,1814.60 L1301.91,1815.10 L1302.15,1815.60 L1302.38,1816.10 L1302.62,1816.60 L1302.86,1817.10 L1303.10,1817.60 L1303.34,1818.10 L1303.60,1818.60 L1303.87,1819.10 L1304.15,1819.60 L1304.44,1820.10 L1304.72,1820.60 L1305.01,1821.10 L1305.29,1821.60 L1305.57,1822.10 L1305.85,1822.60 L1306.11,1823.10 L1306.36,1823.60 L1306.59,1824.10 L1306.81,1824.60 L1307.00,1825.10 L1307.18,1825.60 L1307.33,1826.10 L1307.47,1826.60 L1307.62,1827.10 L1307.76,1827.60 L1307.89,1828.10 L1308.00,1828.60 L1308.10,1829.10 L1308.16,1829.60 L1308.20,1830.10 L1308.19,1830.60 L1308.11,1831.10 L1307.98,1831.60 L1307.80,1832.10 L1307.58,1832.60 L1307.33,1833.10 L1307.06,1833.60 L1306.78,1834.10 L1306.50,1834.60 L1306.20,1835.10 L1305.84,1835.60 L1305.43,1836.10 L1304.99,1836.60 L1304.51,1837.10 L1304.00,1837.60 L1303.47,1838.10 L1302.93,1838.60 L1302.38,1839.10 L1301.78,1839.60 L1301.13,1840.10 L1300.45,1840.60 L1299.74,1841.10 L1299.00,1841.60 L1298.26,1842.10 L1297.50,1842.60 L1296.75,1843.10 L1295.99,1843.60 L1295.19,1844.10 L1294.36,1844.60 L1293.51,1845.10 L1292.67,1845.60 L1291.84,1846.10 L1291.03,1846.60 L1290.27,1847.10 L1289.56,1847.60 L1288.88,1848.10 L1288.21,1848.60 L1287.56,1849.10 L1286.93,1849.60 L1286.33,1850.10 L1285.75,1850.60 L1285.21,1851.10 L1284.69,1851.60 L1284.21,1852.10 L1283.70,1852.60 L1283.19,1853.10 L1282.69,1853.60 L1282.23,1854.10 L1281.81,1854.60 L1281.48,1855.10 L1281.23,1855.60 L1281.10,1856.10 L1281.03,1856.60 L1280.97,1857.10 L1280.92,1857.60 L1280.88,1858.10 L1280.84,1858.60 L1280.82,1859.10 L1280.80,1859.60 L1280.80,1860.10 L1280.80,1860.60 L1280.80,1861.10 L1280.80,1861.60 L1280.80,1862.10 L1280.80,1862.60 L1280.80,1863.10 L1280.80,1863.60 L1280.80,1864.10 L1280.80,1864.60 L1280.80,1865.10 L1280.80,1865.60 L1280.80,1866.10 L1280.80,1866.60 L1280.80,1867.10 L1280.80,1867.60 L1280.80,1868.10 L1280.80,1868.60 L1280.80,1869.10 L1280.80,1869.60 L1280.80,1870.10 L1280.80,1870.60 L1280.80,1871.10 L1280.80,1871.60 L1280.80,1872.10 L1280.80,1872.60 L1280.80,1873.10 L1280.80,1873.60 L1280.80,1874.10 L1280.80,1874.60 L1280.80,1875.10 L1280.80,1875.60 L1280.80,1876.10 L1280.80,1876.60 L1280.80,1877.10 L1280.80,1877.60 L1280.80,1878.10 L1280.80,1878.60 L1280.80,1879.10 L1280.80,1879.60 L1280.80,1880.10 L1280.80,1880.60 L1280.80,1881.10 L1280.80,1881.60 L1280.80,1882.10 L1280.80,1882.60 L1280.80,1883.10 L1280.80,1883.60 L1280.80,1884.10 L1280.80,1884.60 L1280.80,1885.10 L1280.80,1885.60 L1280.80,1886.10 L1280.80,1886.60 L1280.80,1887.10 L1280.80,1887.60 L1280.80,1888.10 L1280.80,1888.60 L1280.80,1889.10 L1280.80,1889.60 L1280.80,1890.10 L1280.80,1890.60 L1280.80,1891.10 L1280.80,1891.60 L1280.80,1892.10 L1280.80,1892.60 L1280.80,1893.10 L1280.80,1893.60 L1280.80,1894.10 L1280.80,1894.60 L1280.80,1895.10 L1280.80,1895.60 L1280.80,1896.10 L1280.80,1896.60 L1280.80,1897.10 L1280.80,1897.60 L1280.80,1898.10 L1280.80,1898.60 L1280.80,1899.10 L1280.80,1899.60 L1280.80,1900.10 L1280.80,1900.60 L1280.80,1901.10 L1280.80,1901.60 L1280.80,1902.10 L1280.80,1902.60 L1280.80,1903.10 L1280.80,1903.60 L1280.80,1904.10 L1280.80,1904.60 L1280.80,1905.10 L1280.80,1905.60 L1280.81,1906.10 L1280.90,1906.60 L1281.06,1907.10 L1281.29,1907.60 L1281.55,1908.10 L1281.83,1908.60 L1282.10,1909.10 L1282.37,1909.60 L1282.65,1910.10 L1282.96,1910.60 L1283.32,1911.10 L1283.74,1911.60 L1284.25,1912.10 L1284.89,1912.60 L1285.94,1913.10 L1287.37,1913.60 L1289.09,1914.10 L1290.98,1914.60 L1292.95,1915.10 L1294.88,1915.60 L1296.89,1916.10 L1299.04,1916.60 L1301.32,1917.10 L1303.71,1917.60 L1306.22,1918.10 L1308.82,1918.60 L1311.52,1919.10 L1314.30,1919.60 L1317.16,1920.10 L1320.17,1920.60 L1323.35,1921.10 L1326.67,1921.60 L1330.11,1922.10 L1333.65,1922.60 L1337.27,1923.10 L1340.96,1923.60 L1344.69,1924.10 L1348.44,1924.60 L1352.20,1925.10 L1356.00,1925.60 L1360.02,1926.10 L1364.20,1926.60 L1368.48,1927.10 L1372.75,1927.60 L1376.95,1928.10 L1381.00,1928.60 L1384.81,1929.10 L1388.30,1929.60 L1391.66,1930.10 L1394.99,1930.60 L1398.13,1931.10 L1400.89,1931.60 L1403.11,1932.10 L1404.60,1932.60 L1405.50,1933.00 L1154.10,1933.00 L1155.00,1932.60 L1156.49,1932.10 L1158.71,1931.60 L1161.47,1931.10 L1164.61,1930.60 L1167.94,1930.10 L1171.30,1929.60 L1174.79,1929.10 L1178.60,1928.60 L1182.65,1928.10 L1186.85,1927.60 L1191.12,1927.10 L1195.40,1926.60 L1199.58,1926.10 L1203.60,1925.60 L1207.40,1925.10 L1211.16,1924.60 L1214.91,1924.10 L1218.64,1923.60 L1222.33,1923.10 L1225.95,1922.60 L1229.49,1922.10 L1232.93,1921.60 L1236.25,1921.10 L1239.43,1920.60 L1242.44,1920.10 L1245.30,1919.60 L1248.08,1919.10 L1250.78,1918.60 L1253.38,1918.10 L1255.89,1917.60 L1258.28,1917.10 L1260.56,1916.60 L1262.71,1916.10 L1264.72,1915.60 L1266.65,1915.10 L1268.62,1914.60 L1270.51,1914.10 L1272.23,1913.60 L1273.66,1913.10 L1274.71,1912.60 L1275.35,1912.10 L1275.86,1911.60 L1276.28,1911.10 L1276.64,1910.60 L1276.95,1910.10 L1277.23,1909.60 L1277.50,1909.10 L1277.77,1908.60 L1278.05,1908.10 L1278.31,1907.60 L1278.54,1907.10 L1278.70,1906.60 L1278.79,1906.10 L1278.80,1905.60 L1278.80,1905.10 L1278.80,1904.60 L1278.80,1904.10 L1278.80,1903.60 L1278.80,1903.10 L1278.80,1902.60 L1278.80,1902.10 L1278.80,1901.60 L1278.80,1901.10 L1278.80,1900.60 L1278.80,1900.10 L1278.80,1899.60 L1278.80,1899.10 L1278.80,1898.60 L1278.80,1898.10 L1278.80,1897.60 L1278.80,1897.10 L1278.80,1896.60 L1278.80,1896.10 L1278.80,1895.60 L1278.80,1895.10 L1278.80,1894.60 L1278.80,1894.10 L1278.80,1893.60 L1278.80,1893.10 L1278.80,1892.60 L1278.80,1892.10 L1278.80,1891.60 L1278.80,1891.10 L1278.80,1890.60 L1278.80,1890.10 L1278.80,1889.60 L1278.80,1889.10 L1278.80,1888.60 L1278.80,1888.10 L1278.80,1887.60 L1278.80,1887.10 L1278.80,1886.60 L1278.80,1886.10 L1278.80,1885.60 L1278.80,1885.10 L1278.80,1884.60 L1278.80,1884.10 L1278.80,1883.60 L1278.80,1883.10 L1278.80,1882.60 L1278.80,1882.10 L1278.80,1881.60 L1278.80,1881.10 L1278.80,1880.60 L1278.80,1880.10 L1278.80,1879.60 L1278.80,1879.10 L1278.80,1878.60 L1278.80,1878.10 L1278.80,1877.60 L1278.80,1877.10 L1278.80,1876.60 L1278.80,1876.10 L1278.80,1875.60 L1278.80,1875.10 L1278.80,1874.60 L1278.80,1874.10 L1278.80,1873.60 L1278.80,1873.10 L1278.80,1872.60 L1278.80,1872.10 L1278.80,1871.60 L1278.80,1871.10 L1278.80,1870.60 L1278.80,1870.10 L1278.80,1869.60 L1278.80,1869.10 L1278.80,1868.60 L1278.80,1868.10 L1278.80,1867.60 L1278.80,1867.10 L1278.80,1866.60 L1278.80,1866.10 L1278.80,1865.60 L1278.80,1865.10 L1278.80,1864.60 L1278.80,1864.10 L1278.80,1863.60 L1278.80,1863.10 L1278.80,1862.60 L1278.80,1862.10 L1278.80,1861.60 L1278.80,1861.10 L1278.80,1860.60 L1278.80,1860.10 L1278.80,1859.60 L1278.78,1859.10 L1278.76,1858.60 L1278.72,1858.10 L1278.68,1857.60 L1278.63,1857.10 L1278.57,1856.60 L1278.50,1856.10 L1278.37,1855.60 L1278.12,1855.10 L1277.79,1854.60 L1277.37,1854.10 L1276.91,1853.60 L1276.41,1853.10 L1275.90,1852.60 L1275.39,1852.10 L1274.91,1851.60 L1274.39,1851.10 L1273.85,1850.60 L1273.27,1850.10 L1272.67,1849.60 L1272.04,1849.10 L1271.39,1848.60 L1270.72,1848.10 L1270.04,1847.60 L1269.33,1847.10 L1268.57,1846.60 L1267.76,1846.10 L1266.93,1845.60 L1266.09,1845.10 L1265.24,1844.60 L1264.41,1844.10 L1263.61,1843.60 L1262.85,1843.10 L1262.10,1842.60 L1261.34,1842.10 L1260.60,1841.60 L1259.86,1841.10 L1259.15,1840.60 L1258.47,1840.10 L1257.82,1839.60 L1257.22,1839.10 L1256.67,1838.60 L1256.13,1838.10 L1255.60,1837.60 L1255.09,1837.10 L1254.61,1836.60 L1254.17,1836.10 L1253.76,1835.60 L1253.40,1835.10 L1253.10,1834.60 L1252.82,1834.10 L1252.54,1833.60 L1252.27,1833.10 L1252.02,1832.60 L1251.80,1832.10 L1251.62,1831.60 L1251.49,1831.10 L1251.41,1830.60 L1251.40,1830.10 L1251.44,1829.60 L1251.50,1829.10 L1251.60,1828.60 L1251.71,1828.10 L1251.84,1827.60 L1251.98,1827.10 L1252.13,1826.60 L1252.27,1826.10 L1252.42,1825.60 L1252.60,1825.10 L1252.79,1824.60 L1253.01,1824.10 L1253.24,1823.60 L1253.49,1823.10 L1253.75,1822.60 L1254.03,1822.10 L1254.31,1821.60 L1254.59,1821.10 L1254.88,1820.60 L1255.16,1820.10 L1255.45,1819.60 L1255.73,1819.10 L1256.00,1818.60 L1256.26,1818.10 L1256.50,1817.60 L1256.74,1817.10 L1256.98,1816.60 L1257.22,1816.10 L1257.45,1815.60 L1257.69,1815.10 L1257.93,1814.60 L1258.16,1814.10 L1258.40,1813.60 L1258.63,1813.10 L1258.85,1812.60 L1259.08,1812.10 L1259.30,1811.60 L1259.51,1811.10 L1259.72,1810.60 L1259.92,1810.10 L1260.11,1809.60 L1260.29,1809.10 L1260.47,1808.60 L1260.64,1808.10 L1260.82,1807.60 L1260.99,1807.10 L1261.15,1806.60 L1261.32,1806.10 L1261.49,1805.60 L1261.65,1805.10 L1261.81,1804.60 L1261.97,1804.10 L1262.12,1803.60 L1262.28,1803.10 L1262.43,1802.60 L1262.58,1802.10 L1262.73,1801.60 L1262.88,1801.10 L1263.02,1800.60 L1263.16,1800.10 L1263.30,1799.60 L1263.44,1799.10 L1263.57,1798.60 L1263.70,1798.10 L1263.83,1797.60 L1263.96,1797.10 L1264.09,1796.60 L1264.21,1796.10 L1264.33,1795.60 L1264.45,1795.10 L1264.56,1794.60 L1264.68,1794.10 L1264.79,1793.60 L1264.89,1793.10 L1265.00,1792.60 L1265.10,1792.10 L1265.20,1791.60 L1265.30,1791.10 L1265.39,1790.60 L1265.48,1790.10 L1265.57,1789.60 L1265.66,1789.10 L1265.75,1788.60 L1265.83,1788.10 L1265.91,1787.60 L1265.99,1787.10 L1266.07,1786.60 L1266.15,1786.10 L1266.23,1785.60 L1266.30,1785.10 L1266.37,1784.60 L1266.45,1784.10 L1266.52,1783.60 L1266.59,1783.10 L1266.66,1782.60 L1266.73,1782.10 L1266.80,1781.60 L1266.87,1781.10 L1266.93,1780.60 L1267.00,1780.10 L1267.07,1779.60 L1267.14,1779.10 L1267.21,1778.60 L1267.28,1778.10 L1267.34,1777.60 L1267.41,1777.10 L1267.48,1776.60 L1267.55,1776.10 L1267.63,1775.60 L1267.70,1775.10 L1267.77,1774.60 L1267.84,1774.10 L1267.92,1773.60 L1267.99,1773.10 L1268.06,1772.60 L1268.13,1772.10 L1268.20,1771.60 L1268.27,1771.10 L1268.34,1770.60 L1268.41,1770.10 L1268.48,1769.60 L1268.55,1769.10 L1268.62,1768.60 L1268.69,1768.10 L1268.75,1767.60 L1268.82,1767.10 L1268.89,1766.60 L1268.96,1766.10 L1269.03,1765.60 L1269.10,1765.10 L1269.17,1764.60 L1269.24,1764.10 L1269.31,1763.60 L1269.38,1763.10 L1269.45,1762.60 L1269.53,1762.10 L1269.60,1761.60 L1269.68,1761.10 L1269.75,1760.60 L1269.83,1760.10 L1269.91,1759.60 L1269.99,1759.10 L1270.07,1758.60 L1270.15,1758.10 L1270.23,1757.60 L1270.32,1757.10 L1270.41,1756.60 L1270.51,1756.10 L1270.61,1755.60 L1270.72,1755.10 L1270.83,1754.60 L1270.94,1754.10 L1271.05,1753.60 L1271.17,1753.10 L1271.27,1752.60 L1271.38,1752.10 L1271.48,1751.60 L1271.57,1751.10 L1271.66,1750.60 L1271.73,1750.10 L1271.80,1749.60 L1271.86,1749.10 L1271.91,1748.60 L1271.97,1748.10 L1272.02,1747.60 L1272.07,1747.10 L1272.12,1746.60 L1272.16,1746.10 L1272.21,1745.60 L1272.25,1745.10 L1272.29,1744.60 L1272.33,1744.10 L1272.37,1743.60 L1272.41,1743.10 L1272.45,1742.60 L1272.48,1742.10 L1272.52,1741.60 L1272.55,1741.10 L1272.58,1740.60 L1272.62,1740.10 L1272.65,1739.60 L1272.68,1739.10 L1272.72,1738.60 L1272.75,1738.10 L1272.78,1737.60 L1272.82,1737.10 L1272.85,1736.60 L1272.88,1736.10 L1272.92,1735.60 L1272.96,1735.10 L1272.99,1734.60 L1273.03,1734.10 L1273.07,1733.60 L1273.11,1733.10 L1273.15,1732.60 L1273.19,1732.10 L1273.23,1731.60 L1273.27,1731.10 L1273.31,1730.60 L1273.35,1730.10 L1273.39,1729.60 L1273.44,1729.10 L1273.48,1728.60 L1273.52,1728.10 L1273.56,1727.60 L1273.60,1727.10 L1273.64,1726.60 L1273.69,1726.10 L1273.73,1725.60 L1273.77,1725.10 L1273.81,1724.60 L1273.85,1724.10 L1273.89,1723.60 L1273.94,1723.10 L1273.98,1722.60 L1274.02,1722.10 L1274.06,1721.60 L1274.10,1721.10 L1274.14,1720.60 L1274.18,1720.10 L1274.22,1719.60 L1274.26,1719.10 L1274.30,1718.60 L1274.34,1718.10 L1274.38,1717.60 L1274.42,1717.10 L1274.45,1716.60 L1274.49,1716.10 L1274.53,1715.60 L1274.57,1715.10 L1274.60,1714.60 L1274.64,1714.10 L1274.68,1713.60 L1274.72,1713.10 L1274.75,1712.60 L1274.79,1712.10 L1274.83,1711.60 L1274.86,1711.10 L1274.90,1710.60 L1274.93,1710.10 L1274.97,1709.60 L1275.01,1709.10 L1275.04,1708.60 L1275.08,1708.10 L1275.11,1707.60 L1275.15,1707.10 L1275.18,1706.60 L1275.22,1706.10 L1275.25,1705.60 L1275.28,1705.10 L1275.32,1704.60 L1275.35,1704.10 L1275.39,1703.60 L1275.42,1703.10 L1275.45,1702.60 L1275.49,1702.10 L1275.52,1701.60 L1275.55,1701.10 L1275.58,1700.60 L1275.62,1700.10 L1275.65,1699.60 L1275.68,1699.10 L1275.71,1698.60 L1275.74,1698.10 L1275.78,1697.60 L1275.81,1697.10 L1275.84,1696.60 L1275.87,1696.10 L1275.90,1695.60 L1275.93,1695.10 L1275.96,1694.60 L1276.00,1694.10 L1276.03,1693.60 L1276.06,1693.10 L1276.09,1692.60 L1276.12,1692.10 L1276.15,1691.60 L1276.18,1691.10 L1276.21,1690.60 L1276.24,1690.10 L1276.27,1689.60 L1276.30,1689.10 L1276.33,1688.60 L1276.36,1688.10 L1276.38,1687.60 L1276.41,1687.10 L1276.44,1686.60 L1276.47,1686.10 L1276.50,1685.60 L1276.52,1685.10 L1276.55,1684.60 L1276.58,1684.10 L1276.60,1683.60 L1276.63,1683.10 L1276.65,1682.60 L1276.68,1682.10 L1276.70,1681.60 L1276.72,1681.10 L1276.75,1680.60 L1276.77,1680.10 L1276.79,1679.60 L1276.81,1679.10 L1276.83,1678.60 L1276.85,1678.10 L1276.87,1677.60 L1276.89,1677.10 L1276.91,1676.60 L1276.93,1676.10 L1276.95,1675.60 L1276.97,1675.10 L1276.99,1674.60 L1277.01,1674.10 L1277.03,1673.60 L1277.05,1673.10 L1277.06,1672.60 L1277.08,1672.10 L1277.10,1671.60 L1277.12,1671.10 L1277.14,1670.60 L1277.16,1670.10 L1277.18,1669.60 L1277.20,1669.10 L1277.22,1668.60 L1277.24,1668.10 L1277.26,1667.60 L1277.28,1667.10 L1277.30,1666.60 L1277.32,1666.10 L1277.34,1665.60 L1277.37,1665.10 L1277.39,1664.60 L1277.41,1664.10 L1277.44,1663.60 L1277.46,1663.10 L1277.49,1662.60 L1277.52,1662.10 L1277.54,1661.60 L1277.57,1661.10 L1277.60,1660.60 L1277.63,1660.10 L1277.65,1659.60 L1277.68,1659.10 L1277.71,1658.60 L1277.74,1658.10 L1277.77,1657.60 L1277.80,1657.10 L1277.83,1656.60 L1277.86,1656.10 L1277.89,1655.60 L1277.93,1655.10 L1277.96,1654.60 L1277.99,1654.10 L1278.02,1653.60 L1278.05,1653.10 L1278.08,1652.60 L1278.12,1652.10 L1278.15,1651.60 L1278.18,1651.10 L1278.22,1650.60 L1278.25,1650.10 L1278.28,1649.60 L1278.31,1649.10 L1278.35,1648.60 L1278.38,1648.10 L1278.41,1647.60 L1278.45,1647.10 L1278.48,1646.60 L1278.51,1646.10 L1278.55,1645.60 L1278.58,1645.10 L1278.61,1644.60 L1278.65,1644.10 L1278.68,1643.60 L1278.71,1643.10 L1278.74,1642.60 L1278.78,1642.10 L1278.81,1641.60 L1278.84,1641.10 L1278.87,1640.60 L1278.91,1640.10 L1278.94,1639.60 L1278.97,1639.10 L1279.00,1638.60Z" fill="#ee2a27" stroke="#222" stroke-width="1.8" stroke-linejoin="round"/>
<rect x="1265.6" y="1812.5" width="28.2" height="120.7" fill="none" stroke="#222" stroke-width="1.5"/>
<line x1="1279.8" y1="1530.0" x2="1279.8" y2="1812.5" stroke="#111111" stroke-width="1.5"/>
<line x1="1265.6" y1="1933.0" x2="1293.8" y2="1933.0" stroke="#111111" stroke-width="3"/>
<text x="4.5" y="2071.4" font-size="42" font-weight="bold" text-anchor="start" fill="#111111">d.</text>
<text x="99.0" y="2090.0" font-size="32" font-weight="bold" text-anchor="start" fill="#111111">E-MTAB-8901</text>
<text x="99.5" y="2132.9" font-size="37" text-anchor="start" fill="#111111">Fibroblasts</text>
<line x1="195.2" y1="2166.9" x2="195.2" y2="2641.0" stroke="#111111" stroke-width="1.9"/>
<line x1="194.2" y1="2640.1" x2="618.0" y2="2640.1" stroke="#111111" stroke-width="1.9"/>
<line x1="188.2" y1="2172.2" x2="195.2" y2="2172.2" stroke="#111111" stroke-width="1.5"/>
<text x="184.2" y="2179.4" font-size="20.3" text-anchor="end" fill="#111111">15</text>
<line x1="188.2" y1="2249.1" x2="195.2" y2="2249.1" stroke="#111111" stroke-width="1.5"/>
<text x="184.2" y="2256.3" font-size="20.3" text-anchor="end" fill="#111111">10</text>
<line x1="188.2" y1="2326.0" x2="195.2" y2="2326.0" stroke="#111111" stroke-width="1.5"/>
<text x="184.2" y="2333.2" font-size="20.3" text-anchor="end" fill="#111111">5</text>
<line x1="188.2" y1="2403.0" x2="195.2" y2="2403.0" stroke="#111111" stroke-width="1.5"/>
<text x="184.2" y="2410.2" font-size="20.3" text-anchor="end" fill="#111111">0</text>
<line x1="188.2" y1="2479.9" x2="195.2" y2="2479.9" stroke="#111111" stroke-width="1.5"/>
<text x="184.2" y="2487.1" font-size="20.3" text-anchor="end" fill="#111111">−5</text>
<line x1="188.2" y1="2556.8" x2="195.2" y2="2556.8" stroke="#111111" stroke-width="1.5"/>
<text x="184.2" y="2564.0" font-size="20.3" text-anchor="end" fill="#111111">−10</text>
<line x1="188.2" y1="2634.8" x2="195.2" y2="2634.8" stroke="#111111" stroke-width="1.5"/>
<text x="184.2" y="2642.0" font-size="20.3" text-anchor="end" fill="#111111">−15</text>
<line x1="213.8" y1="2640.1" x2="213.8" y2="2647.1" stroke="#111111" stroke-width="1.5"/>
<text x="213.8" y="2666.6" font-size="20.3" text-anchor="middle" fill="#111111">−15</text>
<line x1="294.4" y1="2640.1" x2="294.4" y2="2647.1" stroke="#111111" stroke-width="1.5"/>
<text x="294.4" y="2666.6" font-size="20.3" text-anchor="middle" fill="#111111">−10</text>
<line x1="374.5" y1="2640.1" x2="374.5" y2="2647.1" stroke="#111111" stroke-width="1.5"/>
<text x="374.5" y="2666.6" font-size="20.3" text-anchor="middle" fill="#111111">−5</text>
<line x1="454.6" y1="2640.1" x2="454.6" y2="2647.1" stroke="#111111" stroke-width="1.5"/>
<text x="454.6" y="2666.6" font-size="20.3" text-anchor="middle" fill="#111111">0</text>
<line x1="534.7" y1="2640.1" x2="534.7" y2="2647.1" stroke="#111111" stroke-width="1.5"/>
<text x="534.7" y="2666.6" font-size="20.3" text-anchor="middle" fill="#111111">5</text>
<line x1="615.4" y1="2640.1" x2="615.4" y2="2647.1" stroke="#111111" stroke-width="1.5"/>
<text x="615.4" y="2666.6" font-size="20.3" text-anchor="middle" fill="#111111">10</text>
<text x="407.0" y="2694.2" font-size="23" text-anchor="middle" fill="#111111">UMAP_1</text>
<text x="137.0" y="2402.5" font-size="23" text-anchor="middle" transform="rotate(-90 137.0 2402.5)" fill="#111111">UMAP_2</text>
<text x="406.5" y="2148.0" font-size="27" font-weight="bold" text-anchor="middle" fill="#111111">ACSL4</text>
<defs><linearGradient id="g275" x1="0" y1="0" x2="0" y2="1"><stop offset="0" stop-color="#e6262e"/><stop offset="0.5" stop-color="#e88089"/><stop offset="1" stop-color="#f9f6f7"/></linearGradient></defs>
<rect x="678.6" y="2197.1" width="21.3" height="427.8" fill="url(#g275)" stroke="#111" stroke-width="3"/>
<text x="686.0" y="2185.9" font-size="14.6" text-anchor="middle" fill="#111111">High Expression</text>
<text x="685.5" y="2640.3" font-size="14.6" text-anchor="middle" fill="#111111">Low Expression</text>
<path d="M498.4,2258.3 C501.9,2255.2 510.9,2253.8 517.1,2252.7 C523.3,2251.6 530.1,2252.1 535.7,2251.8 C541.3,2251.5 547.8,2252.4 550.6,2250.8 C553.4,2249.3 551.2,2243.5 552.5,2242.4 C553.7,2241.4 556.5,2242.6 558.1,2244.3 C559.6,2246.0 559.3,2251.8 561.8,2252.7 C564.3,2253.6 570.2,2249.9 573.0,2249.9 C575.8,2249.9 577.8,2251.0 578.6,2252.7 C579.4,2254.4 577.3,2257.4 577.7,2260.1 C578.0,2262.9 579.4,2265.7 580.4,2269.5 C581.5,2273.2 583.9,2278.2 584.2,2282.5 C584.5,2286.9 583.6,2291.8 582.3,2295.6 C581.1,2299.3 579.8,2302.1 576.7,2304.9 C573.6,2307.7 568.3,2310.2 563.7,2312.3 C559.0,2314.5 553.1,2315.8 548.8,2317.9 C544.4,2320.1 541.3,2325.4 537.6,2325.4 C533.8,2325.4 530.7,2319.5 526.4,2317.9 C522.0,2316.4 515.8,2316.7 511.5,2316.1 C507.1,2315.4 503.4,2315.1 500.3,2314.2 C497.2,2313.3 495.9,2311.7 492.8,2310.5 C489.7,2309.2 484.1,2308.6 481.7,2306.7 C479.2,2304.9 476.7,2303.0 477.9,2299.3 C479.2,2295.6 486.0,2289.0 489.1,2284.4 C492.2,2279.7 495.0,2275.7 496.6,2271.3 C498.1,2267.0 495.0,2261.4 498.4,2258.3Z" fill="#c2c2c2"/>
<g><circle cx="492.9" cy="2282.6" r="0.93" fill="#cf3a33"/><circle cx="561.8" cy="2308.0" r="0.89" fill="#d9604e"/><circle cx="503.4" cy="2260.8" r="1.52" fill="#d9604e"/><circle cx="514.9" cy="2300.1" r="1.10" fill="#cf3a33"/><circle cx="565.8" cy="2255.9" r="1.16" fill="#d2463a"/><circle cx="555.1" cy="2314.2" r="1.30" fill="#d2463a"/><circle cx="547.9" cy="2264.1" r="0.92" fill="#d9604e"/><circle cx="540.6" cy="2312.7" r="1.38" fill="#cf3a33"/><circle cx="569.8" cy="2291.2" r="1.54" fill="#cf3a33"/><circle cx="561.3" cy="2312.1" r="1.22" fill="#d9604e"/><circle cx="533.0" cy="2282.5" r="1.08" fill="#d9604e"/><circle cx="515.6" cy="2288.8" r="1.55" fill="#cf3a33"/><circle cx="507.4" cy="2284.2" r="1.20" fill="#d9604e"/><circle cx="523.6" cy="2292.0" r="0.87" fill="#d9604e"/></g>
<path d="M412.7,2241.5 C414.6,2239.3 418.8,2237.5 422.0,2235.9 C425.3,2234.4 431.3,2231.3 432.3,2232.2 C433.2,2233.1 428.7,2237.8 427.6,2241.5 C426.5,2245.2 425.7,2250.8 425.7,2254.6 C425.7,2258.3 426.7,2261.7 427.6,2263.9 C428.5,2266.1 431.3,2265.1 431.3,2267.6 C431.3,2270.1 429.2,2276.0 427.6,2278.8 C426.1,2281.6 421.1,2282.8 422.0,2284.4 C422.9,2285.9 429.8,2287.2 433.2,2288.1 C436.6,2289.0 439.4,2289.4 442.5,2290.0 C445.6,2290.6 448.7,2290.9 451.8,2291.8 C454.9,2292.8 457.4,2294.3 461.2,2295.6 C464.9,2296.8 470.8,2298.0 474.2,2299.3 C477.6,2300.5 479.2,2301.5 481.7,2303.0 C484.1,2304.6 490.4,2306.4 489.1,2308.6 C487.9,2310.8 478.9,2313.6 474.2,2316.1 C469.5,2318.6 462.4,2321.3 461.2,2323.5 C459.9,2325.7 464.3,2327.3 466.7,2329.1 C469.2,2331.0 477.0,2333.2 476.1,2334.7 C475.1,2336.3 465.2,2336.9 461.2,2338.4 C457.1,2340.0 454.9,2342.5 451.8,2344.0 C448.7,2345.6 445.6,2346.5 442.5,2347.8 C439.4,2349.0 436.3,2349.6 433.2,2351.5 C430.1,2353.3 426.1,2356.8 423.9,2358.9 C421.7,2361.1 420.1,2366.4 420.1,2364.5 C420.1,2362.7 422.3,2352.4 423.9,2347.8 C425.4,2343.1 427.9,2339.7 429.5,2336.6 C431.0,2333.5 434.4,2331.0 433.2,2329.1 C432.0,2327.3 425.7,2326.6 422.0,2325.4 C418.3,2324.1 413.6,2323.5 410.8,2321.7 C408.0,2319.8 405.2,2317.9 405.2,2314.2 C405.2,2310.5 409.9,2304.3 410.8,2299.3 C411.8,2294.3 410.8,2289.4 410.8,2284.4 C410.8,2279.4 410.5,2273.8 410.8,2269.5 C411.1,2265.1 412.7,2261.7 412.7,2258.3 C412.7,2254.9 410.8,2251.8 410.8,2249.0 C410.8,2246.2 410.8,2243.7 412.7,2241.5Z" fill="#c2c2c2"/>
<g><circle cx="464.3" cy="2335.6" r="1.21" fill="#d2463a"/><circle cx="450.7" cy="2304.2" r="1.05" fill="#cf3a33"/><circle cx="432.1" cy="2322.4" r="1.37" fill="#d9604e"/><circle cx="412.5" cy="2279.9" r="1.31" fill="#d2463a"/><circle cx="439.6" cy="2290.1" r="1.28" fill="#cf3a33"/><circle cx="444.8" cy="2327.4" r="1.37" fill="#d2463a"/><circle cx="427.9" cy="2296.7" r="1.35" fill="#d9604e"/><circle cx="420.6" cy="2253.1" r="1.04" fill="#cf3a33"/><circle cx="436.4" cy="2332.9" r="1.08" fill="#cf3a33"/><circle cx="422.6" cy="2308.9" r="1.25" fill="#d2463a"/><circle cx="424.8" cy="2309.7" r="1.25" fill="#d9604e"/><circle cx="415.4" cy="2307.8" r="1.21" fill="#cf3a33"/><circle cx="412.8" cy="2293.1" r="1.01" fill="#d9604e"/><circle cx="425.4" cy="2345.5" r="1.02" fill="#cf3a33"/><circle cx="425.4" cy="2316.1" r="1.21" fill="#cf3a33"/><circle cx="457.7" cy="2335.1" r="1.45" fill="#cf3a33"/><circle cx="468.9" cy="2331.2" r="1.52" fill="#d2463a"/><circle cx="431.3" cy="2347.5" r="1.34" fill="#d2463a"/><circle cx="413.1" cy="2244.2" r="1.11" fill="#d9604e"/><circle cx="439.7" cy="2292.5" r="1.50" fill="#d9604e"/><circle cx="419.4" cy="2299.8" r="1.20" fill="#d9604e"/><circle cx="429.6" cy="2303.8" r="1.00" fill="#d9604e"/><circle cx="456.8" cy="2306.7" r="1.04" fill="#d2463a"/><circle cx="457.1" cy="2327.0" r="1.45" fill="#d9604e"/><circle cx="460.3" cy="2302.6" r="1.08" fill="#d9604e"/><circle cx="421.8" cy="2302.5" r="1.10" fill="#d9604e"/><circle cx="443.6" cy="2342.3" r="1.11" fill="#cf3a33"/><circle cx="451.0" cy="2338.2" r="1.23" fill="#d2463a"/><circle cx="459.4" cy="2324.0" r="1.03" fill="#cf3a33"/><circle cx="447.3" cy="2325.1" r="1.39" fill="#cf3a33"/><circle cx="445.8" cy="2313.8" r="0.94" fill="#d9604e"/><circle cx="461.6" cy="2330.5" r="1.07" fill="#d2463a"/><circle cx="414.2" cy="2313.2" r="0.86" fill="#cf3a33"/><circle cx="427.7" cy="2344.1" r="0.97" fill="#cf3a33"/><circle cx="407.2" cy="2314.1" r="1.01" fill="#d2463a"/><circle cx="411.3" cy="2314.8" r="0.93" fill="#d2463a"/><circle cx="464.1" cy="2321.1" r="1.06" fill="#cf3a33"/><circle cx="451.6" cy="2313.2" r="1.46" fill="#d2463a"/><circle cx="437.3" cy="2304.0" r="1.11" fill="#d9604e"/><circle cx="423.7" cy="2268.0" r="1.53" fill="#cf3a33"/></g>
<path d="M350.3,2257.4 C350.9,2256.7 352.6,2257.2 354.9,2256.4 C357.2,2255.6 362.2,2253.2 364.2,2252.7 C366.3,2252.2 368.0,2252.7 367.0,2253.6 C366.1,2254.6 360.2,2256.4 358.6,2258.3 C357.1,2260.1 358.3,2263.9 357.7,2264.8 C357.1,2265.7 356.0,2264.7 354.9,2263.9 C353.8,2263.1 352.0,2261.2 351.2,2260.1 C350.4,2259.1 349.6,2258.0 350.3,2257.4Z" fill="#c2c2c2"/>
<path d="M397.8,2198.6 C398.1,2197.2 400.3,2195.5 401.5,2197.7 C402.8,2199.9 404.9,2209.2 405.2,2211.7 C405.5,2214.2 404.3,2213.6 403.4,2212.6 C402.4,2211.7 400.6,2208.4 399.6,2206.1 C398.7,2203.8 397.5,2200.0 397.8,2198.6Z" fill="#c2c2c2"/>
<path d="M242.0,2310.2 C242.0,2308.5 245.9,2308.5 247.9,2308.8 C249.9,2309.0 251.8,2310.0 253.8,2311.7 C255.7,2313.4 257.9,2318.6 259.7,2319.1 C261.4,2319.6 262.6,2317.1 264.1,2314.7 C265.5,2312.2 267.5,2308.3 268.5,2304.4 C269.5,2300.5 269.2,2294.3 269.9,2291.1 C270.7,2288.0 271.7,2286.0 272.9,2285.3 C274.1,2284.5 275.8,2285.3 277.3,2286.7 C278.8,2288.2 280.0,2291.4 281.7,2294.1 C283.4,2296.8 285.9,2300.0 287.6,2302.9 C289.3,2305.8 290.3,2309.8 292.0,2311.7 C293.7,2313.7 295.7,2314.7 297.9,2314.7 C300.1,2314.7 303.0,2312.0 305.2,2311.7 C307.4,2311.5 310.1,2311.7 311.1,2313.2 C312.1,2314.7 312.1,2317.8 311.1,2320.5 C310.1,2323.2 306.9,2326.9 305.2,2329.4 C303.5,2331.8 302.5,2333.3 300.8,2335.2 C299.1,2337.2 297.1,2339.4 294.9,2341.1 C292.7,2342.8 290.5,2344.3 287.6,2345.5 C284.6,2346.7 281.0,2348.0 277.3,2348.5 C273.6,2348.9 269.5,2348.2 265.5,2348.5 C261.6,2348.7 257.2,2350.2 253.8,2349.9 C250.4,2349.7 246.7,2348.5 245.0,2347.0 C243.2,2345.5 243.5,2343.6 243.5,2341.1 C243.5,2338.7 243.7,2334.7 245.0,2332.3 C246.2,2329.8 250.4,2328.6 250.8,2326.4 C251.3,2324.2 249.4,2321.8 247.9,2319.1 C246.4,2316.4 242.0,2312.0 242.0,2310.2Z" fill="#c2c2c2"/>
<g><circle cx="259.1" cy="2330.2" r="1.13" fill="#d2463a"/><circle cx="248.6" cy="2313.7" r="1.41" fill="#d9604e"/><circle cx="277.2" cy="2317.7" r="0.86" fill="#cf3a33"/><circle cx="297.1" cy="2331.0" r="1.13" fill="#d2463a"/><circle cx="266.0" cy="2332.6" r="1.31" fill="#d9604e"/><circle cx="252.8" cy="2334.7" r="1.15" fill="#d2463a"/><circle cx="274.6" cy="2318.0" r="1.41" fill="#d2463a"/><circle cx="281.5" cy="2343.5" r="1.03" fill="#d9604e"/><circle cx="285.9" cy="2316.5" r="1.11" fill="#cf3a33"/><circle cx="262.9" cy="2336.6" r="0.94" fill="#cf3a33"/><circle cx="283.6" cy="2325.7" r="0.93" fill="#d2463a"/><circle cx="262.2" cy="2341.1" r="1.41" fill="#cf3a33"/><circle cx="272.1" cy="2315.5" r="1.44" fill="#cf3a33"/><circle cx="249.0" cy="2311.9" r="1.21" fill="#d2463a"/><circle cx="264.0" cy="2326.9" r="1.15" fill="#d9604e"/><circle cx="281.9" cy="2297.6" r="1.18" fill="#cf3a33"/><circle cx="255.4" cy="2327.0" r="1.19" fill="#d2463a"/><circle cx="295.0" cy="2322.1" r="1.23" fill="#d2463a"/><circle cx="285.6" cy="2323.7" r="1.52" fill="#d2463a"/><circle cx="286.8" cy="2309.3" r="1.19" fill="#d2463a"/><circle cx="298.1" cy="2337.1" r="0.88" fill="#cf3a33"/><circle cx="275.8" cy="2301.5" r="1.06" fill="#d9604e"/><circle cx="294.1" cy="2341.1" r="0.92" fill="#cf3a33"/><circle cx="249.5" cy="2330.3" r="1.40" fill="#d2463a"/><circle cx="307.5" cy="2318.4" r="1.16" fill="#d9604e"/><circle cx="282.4" cy="2319.6" r="1.39" fill="#d9604e"/><circle cx="287.7" cy="2321.5" r="1.17" fill="#cf3a33"/><circle cx="277.2" cy="2292.9" r="1.33" fill="#d9604e"/><circle cx="285.3" cy="2326.1" r="1.45" fill="#d9604e"/><circle cx="272.0" cy="2326.4" r="1.51" fill="#d2463a"/><circle cx="286.4" cy="2327.7" r="1.31" fill="#d2463a"/><circle cx="268.4" cy="2331.8" r="1.21" fill="#d2463a"/><circle cx="279.7" cy="2337.5" r="0.92" fill="#cf3a33"/><circle cx="262.7" cy="2335.7" r="1.50" fill="#cf3a33"/><circle cx="276.6" cy="2312.1" r="0.93" fill="#cf3a33"/><circle cx="274.1" cy="2316.8" r="1.16" fill="#d2463a"/><circle cx="272.1" cy="2300.0" r="1.54" fill="#d9604e"/><circle cx="275.2" cy="2331.3" r="1.11" fill="#cf3a33"/><circle cx="273.0" cy="2341.8" r="0.99" fill="#d9604e"/><circle cx="268.9" cy="2324.7" r="1.10" fill="#cf3a33"/><circle cx="277.9" cy="2312.8" r="1.52" fill="#d2463a"/><circle cx="287.8" cy="2336.3" r="1.50" fill="#d9604e"/><circle cx="262.9" cy="2331.6" r="0.85" fill="#d9604e"/><circle cx="267.2" cy="2336.9" r="0.90" fill="#d2463a"/><circle cx="255.5" cy="2318.7" r="0.94" fill="#d9604e"/><circle cx="272.5" cy="2323.2" r="1.07" fill="#d2463a"/><circle cx="279.5" cy="2327.7" r="1.06" fill="#d2463a"/><circle cx="282.6" cy="2331.9" r="1.04" fill="#d9604e"/><circle cx="262.0" cy="2322.4" r="0.86" fill="#d9604e"/><circle cx="282.5" cy="2304.6" r="1.04" fill="#cf3a33"/><circle cx="277.2" cy="2291.4" r="1.21" fill="#d9604e"/><circle cx="277.2" cy="2317.8" r="1.36" fill="#d9604e"/><circle cx="259.1" cy="2344.4" r="1.21" fill="#cf3a33"/><circle cx="259.8" cy="2337.9" r="1.28" fill="#d2463a"/><circle cx="251.3" cy="2320.7" r="0.93" fill="#cf3a33"/><circle cx="269.6" cy="2296.5" r="1.31" fill="#d9604e"/><circle cx="274.9" cy="2327.3" r="1.33" fill="#d2463a"/><circle cx="269.1" cy="2329.6" r="0.98" fill="#cf3a33"/><circle cx="290.1" cy="2333.1" r="1.31" fill="#d9604e"/><circle cx="287.5" cy="2311.1" r="1.12" fill="#d9604e"/><circle cx="274.2" cy="2339.5" r="1.01" fill="#cf3a33"/><circle cx="273.7" cy="2306.8" r="1.27" fill="#d2463a"/><circle cx="300.4" cy="2328.6" r="0.96" fill="#d2463a"/><circle cx="303.6" cy="2319.5" r="1.18" fill="#d2463a"/><circle cx="278.3" cy="2294.5" r="1.24" fill="#d9604e"/><circle cx="272.5" cy="2326.1" r="1.41" fill="#d2463a"/><circle cx="248.9" cy="2331.2" r="1.26" fill="#cf3a33"/><circle cx="248.3" cy="2314.3" r="0.99" fill="#d2463a"/><circle cx="291.1" cy="2337.6" r="1.34" fill="#cf3a33"/><circle cx="252.1" cy="2311.0" r="1.48" fill="#d9604e"/></g>
<g><circle cx="275.0" cy="2297.4" r="1.06" fill="#cf3a33"/><circle cx="278.2" cy="2291.6" r="1.14" fill="#cf3a33"/><circle cx="277.0" cy="2288.9" r="1.17" fill="#cf3a33"/><circle cx="284.2" cy="2313.0" r="1.11" fill="#d9604e"/><circle cx="287.9" cy="2308.3" r="1.26" fill="#d9604e"/><circle cx="278.9" cy="2302.2" r="1.63" fill="#cf3a33"/><circle cx="281.8" cy="2309.2" r="1.10" fill="#cf3a33"/><circle cx="282.9" cy="2306.2" r="1.07" fill="#d2463a"/><circle cx="279.4" cy="2295.6" r="1.65" fill="#cf3a33"/><circle cx="278.5" cy="2308.7" r="1.40" fill="#d2463a"/><circle cx="284.1" cy="2300.5" r="0.98" fill="#d2463a"/><circle cx="286.2" cy="2308.3" r="1.37" fill="#d2463a"/><circle cx="276.4" cy="2304.1" r="1.23" fill="#d2463a"/><circle cx="282.3" cy="2300.5" r="1.16" fill="#cf3a33"/><circle cx="286.2" cy="2310.6" r="1.29" fill="#d9604e"/><circle cx="288.4" cy="2310.0" r="1.37" fill="#cf3a33"/><circle cx="281.9" cy="2297.7" r="1.66" fill="#d9604e"/><circle cx="280.3" cy="2296.8" r="1.29" fill="#d9604e"/><circle cx="282.5" cy="2300.3" r="1.25" fill="#cf3a33"/><circle cx="281.4" cy="2311.0" r="1.68" fill="#d9604e"/><circle cx="287.5" cy="2309.7" r="1.61" fill="#d2463a"/><circle cx="276.7" cy="2299.4" r="0.99" fill="#cf3a33"/><circle cx="284.5" cy="2303.7" r="1.17" fill="#cf3a33"/><circle cx="277.6" cy="2311.4" r="1.53" fill="#cf3a33"/><circle cx="280.5" cy="2306.8" r="1.67" fill="#cf3a33"/><circle cx="275.5" cy="2305.1" r="1.03" fill="#cf3a33"/><circle cx="282.3" cy="2308.9" r="1.10" fill="#d9604e"/><circle cx="285.9" cy="2307.4" r="1.47" fill="#cf3a33"/><circle cx="284.6" cy="2303.6" r="1.02" fill="#d2463a"/><circle cx="274.7" cy="2300.8" r="1.21" fill="#d9604e"/><circle cx="272.9" cy="2298.8" r="1.57" fill="#d9604e"/><circle cx="275.1" cy="2300.1" r="1.64" fill="#d2463a"/><circle cx="285.9" cy="2305.5" r="1.49" fill="#d9604e"/><circle cx="276.2" cy="2290.5" r="1.01" fill="#d9604e"/><circle cx="286.7" cy="2310.5" r="1.27" fill="#d2463a"/><circle cx="279.3" cy="2310.0" r="1.00" fill="#d2463a"/><circle cx="284.6" cy="2308.2" r="1.40" fill="#d9604e"/><circle cx="277.4" cy="2290.2" r="1.44" fill="#d9604e"/><circle cx="275.2" cy="2293.2" r="1.33" fill="#d2463a"/><circle cx="281.7" cy="2296.7" r="1.03" fill="#cf3a33"/><circle cx="283.3" cy="2305.3" r="1.01" fill="#d9604e"/><circle cx="271.8" cy="2294.1" r="1.51" fill="#d9604e"/><circle cx="285.3" cy="2301.5" r="1.26" fill="#d2463a"/><circle cx="273.0" cy="2288.1" r="1.50" fill="#d2463a"/><circle cx="272.3" cy="2299.0" r="0.95" fill="#d9604e"/><circle cx="277.5" cy="2291.8" r="1.37" fill="#d9604e"/><circle cx="283.6" cy="2308.5" r="1.32" fill="#cf3a33"/><circle cx="286.2" cy="2311.1" r="0.96" fill="#d9604e"/><circle cx="275.3" cy="2307.2" r="1.08" fill="#d9604e"/><circle cx="278.4" cy="2291.4" r="1.59" fill="#d9604e"/><circle cx="275.7" cy="2303.8" r="0.98" fill="#d2463a"/><circle cx="278.5" cy="2302.2" r="1.58" fill="#d9604e"/><circle cx="279.4" cy="2297.3" r="1.09" fill="#cf3a33"/><circle cx="279.1" cy="2297.0" r="1.56" fill="#d9604e"/><circle cx="277.1" cy="2289.5" r="1.41" fill="#cf3a33"/><circle cx="271.6" cy="2297.2" r="1.03" fill="#d9604e"/><circle cx="279.8" cy="2294.2" r="1.26" fill="#d9604e"/><circle cx="284.7" cy="2302.9" r="1.39" fill="#cf3a33"/><circle cx="282.2" cy="2311.0" r="1.23" fill="#d2463a"/><circle cx="275.2" cy="2301.4" r="1.30" fill="#d2463a"/><circle cx="283.3" cy="2305.6" r="0.98" fill="#cf3a33"/><circle cx="277.1" cy="2297.9" r="1.36" fill="#cf3a33"/><circle cx="276.9" cy="2289.1" r="0.96" fill="#cf3a33"/><circle cx="284.5" cy="2312.8" r="1.43" fill="#cf3a33"/><circle cx="277.9" cy="2290.9" r="1.64" fill="#cf3a33"/><circle cx="276.2" cy="2297.0" r="1.69" fill="#cf3a33"/><circle cx="276.6" cy="2308.4" r="1.60" fill="#d2463a"/><circle cx="279.5" cy="2294.6" r="1.61" fill="#d9604e"/><circle cx="283.1" cy="2296.9" r="1.63" fill="#cf3a33"/><circle cx="275.7" cy="2287.9" r="1.34" fill="#cf3a33"/><circle cx="278.1" cy="2289.6" r="0.97" fill="#d9604e"/><circle cx="278.5" cy="2292.7" r="1.06" fill="#d2463a"/><circle cx="288.0" cy="2311.8" r="1.50" fill="#d2463a"/><circle cx="281.3" cy="2304.7" r="1.22" fill="#cf3a33"/><circle cx="271.2" cy="2294.7" r="1.19" fill="#d9604e"/><circle cx="280.1" cy="2304.3" r="0.99" fill="#d9604e"/><circle cx="277.3" cy="2303.8" r="1.16" fill="#d2463a"/><circle cx="278.4" cy="2310.9" r="1.52" fill="#cf3a33"/><circle cx="277.0" cy="2300.3" r="1.36" fill="#d2463a"/><circle cx="275.7" cy="2306.7" r="1.18" fill="#d9604e"/><circle cx="280.9" cy="2309.4" r="1.68" fill="#d9604e"/><circle cx="280.9" cy="2307.6" r="1.37" fill="#cf3a33"/><circle cx="277.4" cy="2308.1" r="1.16" fill="#d2463a"/><circle cx="278.3" cy="2304.6" r="1.38" fill="#d2463a"/><circle cx="274.9" cy="2305.1" r="1.51" fill="#cf3a33"/><circle cx="284.4" cy="2309.0" r="1.40" fill="#d2463a"/><circle cx="275.4" cy="2300.1" r="1.05" fill="#d2463a"/><circle cx="270.4" cy="2294.5" r="1.62" fill="#d2463a"/><circle cx="271.8" cy="2293.2" r="1.31" fill="#d9604e"/><circle cx="282.2" cy="2299.0" r="1.61" fill="#cf3a33"/></g>
<path d="M328.7,2326.4 C329.2,2325.8 333.4,2324.8 336.1,2324.2 C338.8,2323.6 343.3,2322.4 344.9,2322.7 C346.5,2323.1 346.4,2325.3 345.6,2326.4 C344.9,2327.5 342.6,2329.1 340.5,2329.4 C338.4,2329.6 335.1,2328.4 333.1,2327.9 C331.2,2327.4 328.2,2327.0 328.7,2326.4Z" fill="#c2c2c2"/>
<path d="M312.6,2367.6 C313.4,2367.3 316.6,2370.0 317.0,2372.0 C317.3,2373.9 315.5,2377.6 314.8,2379.3 C314.0,2381.0 313.4,2382.1 312.6,2382.3 C311.7,2382.4 309.7,2381.5 309.6,2380.1 C309.5,2378.6 311.3,2375.5 311.8,2373.4 C312.3,2371.4 311.7,2367.8 312.6,2367.6Z" fill="#c2c2c2"/>
<path d="M347.8,2364.6 C348.4,2364.4 349.3,2368.3 350.8,2369.0 C352.2,2369.8 356.2,2368.1 356.6,2369.0 C357.1,2370.0 354.9,2373.2 353.7,2374.9 C352.5,2376.6 350.5,2379.1 349.3,2379.3 C348.1,2379.6 346.7,2377.8 346.4,2376.4 C346.0,2374.9 346.8,2372.5 347.1,2370.5 C347.3,2368.5 347.2,2364.9 347.8,2364.6Z" fill="#c2c2c2"/>
<path d="M382.4,2407.2 C382.5,2407.0 382.0,2406.3 383.8,2408.0 C385.7,2409.7 391.9,2415.7 393.4,2417.5 C394.9,2419.4 394.4,2420.3 392.6,2419.0 C390.9,2417.6 384.8,2411.4 383.1,2409.4 C381.4,2407.5 382.2,2407.5 382.4,2407.2Z" fill="#c2c2c2"/>
<path d="M276.6,2392.5 C277.5,2392.1 280.2,2395.2 281.7,2397.0 C283.2,2398.7 284.9,2400.6 285.4,2402.8 C285.9,2405.0 285.5,2408.2 284.6,2410.2 C283.8,2412.1 281.6,2413.6 280.2,2414.6 C278.9,2415.6 277.4,2417.0 276.6,2416.1 C275.7,2415.1 275.2,2411.4 275.1,2408.7 C275.0,2406.0 275.6,2402.6 275.8,2399.9 C276.1,2397.2 275.6,2393.0 276.6,2392.5Z" fill="#c2c2c2"/>
<g><circle cx="278.6" cy="2408.0" r="1.54" fill="#cf3a33"/><circle cx="278.4" cy="2397.2" r="1.15" fill="#d9604e"/><circle cx="277.3" cy="2395.3" r="1.10" fill="#d2463a"/><circle cx="280.3" cy="2402.6" r="0.90" fill="#d9604e"/><circle cx="280.2" cy="2401.1" r="1.21" fill="#cf3a33"/><circle cx="281.5" cy="2398.7" r="0.97" fill="#d9604e"/><circle cx="278.5" cy="2395.7" r="1.48" fill="#cf3a33"/><circle cx="282.2" cy="2398.1" r="1.02" fill="#d2463a"/></g>
<path d="M218.5,2466.4 C218.3,2464.7 222.7,2463.1 224.4,2462.0 C226.1,2460.9 227.3,2459.1 228.8,2459.8 C230.3,2460.5 231.5,2464.3 233.2,2466.4 C234.9,2468.5 237.6,2470.3 239.1,2472.3 C240.6,2474.3 241.3,2476.0 242.0,2478.2 C242.8,2480.4 242.8,2483.3 243.5,2485.5 C244.2,2487.7 245.5,2489.4 246.4,2491.4 C247.4,2493.4 249.1,2494.8 249.4,2497.3 C249.6,2499.7 248.9,2503.6 247.9,2506.1 C246.9,2508.5 245.2,2510.3 243.5,2512.0 C241.8,2513.7 239.6,2515.6 237.6,2516.4 C235.7,2517.1 233.5,2517.4 231.7,2516.4 C230.0,2515.4 227.8,2512.5 227.3,2510.5 C226.8,2508.5 227.6,2507.1 228.8,2504.6 C230.0,2502.2 233.5,2498.5 234.7,2495.8 C235.9,2493.1 236.4,2490.9 236.1,2488.5 C235.9,2486.0 234.9,2483.8 233.2,2481.1 C231.5,2478.4 228.3,2474.7 225.9,2472.3 C223.4,2469.8 218.8,2468.1 218.5,2466.4Z" fill="#c2c2c2"/>
<g><circle cx="233.9" cy="2497.4" r="0.98" fill="#cf3a33"/><circle cx="229.1" cy="2464.6" r="1.09" fill="#d9604e"/><circle cx="233.0" cy="2512.5" r="1.08" fill="#d9604e"/><circle cx="233.6" cy="2471.1" r="1.20" fill="#d2463a"/><circle cx="239.8" cy="2485.9" r="1.54" fill="#d2463a"/><circle cx="242.7" cy="2500.7" r="1.07" fill="#cf3a33"/><circle cx="220.9" cy="2465.7" r="1.23" fill="#d9604e"/><circle cx="243.3" cy="2486.5" r="1.42" fill="#d9604e"/></g>
<path d="M318.4,2478.2 C319.4,2475.7 321.9,2474.3 324.3,2472.3 C326.8,2470.3 330.2,2468.1 333.1,2466.4 C336.1,2464.7 339.5,2462.6 342.0,2462.0 C344.4,2461.4 345.9,2462.0 347.8,2462.7 C349.8,2463.5 351.0,2465.3 353.7,2466.4 C356.4,2467.5 360.1,2468.6 364.0,2469.4 C367.9,2470.1 373.5,2470.1 377.2,2470.8 C380.9,2471.6 384.1,2472.3 386.0,2473.8 C388.0,2475.2 389.5,2478.4 389.0,2479.6 C388.5,2480.9 385.5,2481.1 383.1,2481.1 C380.6,2481.1 376.7,2479.2 374.3,2479.6 C371.8,2480.1 370.1,2481.8 368.4,2484.0 C366.7,2486.3 365.5,2489.9 364.0,2492.9 C362.5,2495.8 361.8,2499.7 359.6,2501.7 C357.4,2503.6 354.2,2504.4 350.8,2504.6 C347.3,2504.9 342.4,2503.2 339.0,2503.2 C335.6,2503.2 332.9,2504.9 330.2,2504.6 C327.5,2504.4 324.6,2503.2 322.8,2501.7 C321.1,2500.2 320.6,2498.3 319.9,2495.8 C319.2,2493.4 318.7,2489.9 318.4,2487.0 C318.2,2484.0 317.5,2480.6 318.4,2478.2Z" fill="#c2c2c2"/>
<g><circle cx="331.7" cy="2469.6" r="0.99" fill="#d9604e"/><circle cx="366.2" cy="2480.1" r="1.54" fill="#d2463a"/><circle cx="383.6" cy="2480.7" r="1.27" fill="#d9604e"/><circle cx="383.6" cy="2473.5" r="0.87" fill="#d2463a"/><circle cx="351.0" cy="2470.8" r="1.46" fill="#d2463a"/><circle cx="328.8" cy="2500.3" r="1.32" fill="#cf3a33"/><circle cx="337.5" cy="2482.7" r="1.10" fill="#d2463a"/><circle cx="349.1" cy="2491.7" r="1.20" fill="#d2463a"/><circle cx="353.6" cy="2486.9" r="1.45" fill="#d2463a"/><circle cx="347.0" cy="2467.8" r="1.40" fill="#d2463a"/><circle cx="328.7" cy="2483.8" r="1.42" fill="#d2463a"/><circle cx="354.0" cy="2501.7" r="1.04" fill="#d2463a"/><circle cx="335.3" cy="2481.6" r="1.31" fill="#cf3a33"/><circle cx="325.3" cy="2498.3" r="1.23" fill="#d2463a"/><circle cx="340.5" cy="2467.3" r="1.14" fill="#d2463a"/><circle cx="325.0" cy="2482.4" r="1.47" fill="#cf3a33"/><circle cx="371.9" cy="2474.9" r="1.36" fill="#d2463a"/><circle cx="328.5" cy="2491.0" r="1.17" fill="#d9604e"/><circle cx="330.3" cy="2476.7" r="1.43" fill="#d9604e"/><circle cx="333.3" cy="2466.5" r="1.36" fill="#cf3a33"/><circle cx="342.0" cy="2484.2" r="1.52" fill="#cf3a33"/><circle cx="358.1" cy="2501.3" r="1.31" fill="#cf3a33"/><circle cx="359.2" cy="2479.9" r="0.88" fill="#d9604e"/><circle cx="348.5" cy="2480.0" r="1.15" fill="#cf3a33"/><circle cx="355.1" cy="2484.1" r="0.95" fill="#d9604e"/><circle cx="344.6" cy="2503.4" r="0.91" fill="#d2463a"/><circle cx="341.2" cy="2466.9" r="1.20" fill="#d2463a"/><circle cx="360.2" cy="2477.6" r="1.01" fill="#d2463a"/><circle cx="365.6" cy="2481.1" r="1.43" fill="#d9604e"/><circle cx="349.8" cy="2467.0" r="0.97" fill="#d9604e"/><circle cx="326.5" cy="2487.3" r="1.55" fill="#cf3a33"/><circle cx="386.7" cy="2480.1" r="1.00" fill="#cf3a33"/><circle cx="351.8" cy="2500.0" r="1.51" fill="#cf3a33"/><circle cx="327.6" cy="2491.7" r="0.85" fill="#d9604e"/><circle cx="336.0" cy="2501.6" r="1.37" fill="#d2463a"/></g>
<path d="M368.4,2498.7 C368.6,2498.3 370.3,2497.8 371.3,2498.0 C372.4,2498.3 374.2,2499.6 374.6,2500.2 C374.9,2500.8 374.3,2501.6 373.5,2501.7 C372.8,2501.8 370.7,2501.4 369.9,2500.9 C369.0,2500.5 368.2,2499.2 368.4,2498.7Z" fill="#c2c2c2"/>
<path d="M482.1,2408.0 C483.5,2405.3 486.0,2401.8 488.7,2399.8 C491.5,2397.7 495.3,2395.9 498.6,2395.7 C501.9,2395.4 505.8,2396.4 508.5,2398.1 C511.2,2399.9 513.7,2403.4 515.1,2406.4 C516.5,2409.4 515.6,2412.7 516.7,2416.3 C517.8,2419.8 520.3,2424.0 521.7,2427.8 C523.1,2431.7 524.7,2435.8 525.0,2439.4 C525.3,2442.9 525.0,2446.5 523.3,2449.2 C521.7,2452.0 518.1,2454.2 515.1,2455.8 C512.1,2457.5 507.7,2457.9 505.2,2459.1 C502.7,2460.4 501.9,2463.3 500.3,2463.3 C498.6,2463.3 497.0,2460.9 495.3,2459.1 C493.7,2457.4 492.0,2454.7 490.4,2452.5 C488.7,2450.3 487.1,2448.7 485.4,2446.0 C483.8,2443.2 481.8,2439.6 480.5,2436.1 C479.1,2432.5 477.2,2427.8 477.2,2424.5 C477.2,2421.2 479.6,2419.0 480.5,2416.3 C481.3,2413.5 480.7,2410.8 482.1,2408.0Z" fill="#c2c2c2"/>
<g><circle cx="505.3" cy="2425.4" r="1.00" fill="#d9604e"/><circle cx="481.5" cy="2437.0" r="1.45" fill="#cf3a33"/><circle cx="511.6" cy="2418.0" r="1.52" fill="#d2463a"/><circle cx="492.8" cy="2436.6" r="0.92" fill="#d9604e"/><circle cx="501.1" cy="2452.7" r="1.16" fill="#d9604e"/><circle cx="504.0" cy="2407.2" r="1.06" fill="#cf3a33"/><circle cx="509.9" cy="2425.9" r="1.36" fill="#d9604e"/><circle cx="489.7" cy="2425.3" r="1.49" fill="#d2463a"/><circle cx="505.3" cy="2425.7" r="1.47" fill="#cf3a33"/><circle cx="493.1" cy="2422.4" r="1.39" fill="#d9604e"/></g>
<path d="M386.5,2551.5 C387.9,2548.5 390.3,2546.3 393.1,2543.2 C395.8,2540.2 399.1,2536.4 403.0,2533.3 C406.8,2530.3 413.4,2527.6 416.2,2525.1 C418.9,2522.6 417.5,2520.0 419.5,2518.5 C421.4,2517.0 424.4,2516.0 427.7,2516.0 C431.0,2516.0 436.5,2517.3 439.2,2518.5 C442.0,2519.7 441.4,2522.6 444.2,2523.4 C446.9,2524.3 452.2,2523.7 455.7,2523.4 C459.3,2523.2 462.1,2522.1 465.6,2521.8 C469.2,2521.5 475.2,2520.7 477.2,2521.8 C479.1,2522.9 478.5,2526.7 477.2,2528.4 C475.8,2530.0 471.4,2530.0 468.9,2531.7 C466.5,2533.3 463.7,2535.3 462.3,2538.3 C461.0,2541.3 459.6,2547.1 460.7,2549.8 C461.8,2552.6 467.3,2553.1 468.9,2554.8 C470.6,2556.4 472.0,2558.1 470.6,2559.7 C469.2,2561.4 464.3,2562.5 460.7,2564.7 C457.1,2566.9 452.7,2570.7 449.1,2572.9 C445.6,2575.1 442.5,2577.0 439.2,2577.9 C436.0,2578.7 432.9,2578.4 429.4,2577.9 C425.8,2577.3 421.7,2574.8 417.8,2574.6 C414.0,2574.3 409.8,2575.1 406.3,2576.2 C402.7,2577.3 399.1,2580.1 396.4,2581.2 C393.6,2582.3 391.4,2584.2 389.8,2582.8 C388.1,2581.4 387.3,2576.5 386.5,2572.9 C385.7,2569.3 384.8,2564.9 384.8,2561.4 C384.8,2557.8 385.1,2554.5 386.5,2551.5Z" fill="#c2c2c2"/>
<g><circle cx="399.1" cy="2540.4" r="0.87" fill="#cf3a33"/><circle cx="433.3" cy="2561.6" r="1.11" fill="#d9604e"/><circle cx="461.1" cy="2524.6" r="1.50" fill="#cf3a33"/><circle cx="460.5" cy="2550.3" r="1.27" fill="#d2463a"/><circle cx="401.2" cy="2538.5" r="1.33" fill="#cf3a33"/><circle cx="409.3" cy="2561.0" r="1.38" fill="#d2463a"/><circle cx="404.4" cy="2571.0" r="1.24" fill="#d9604e"/><circle cx="447.4" cy="2562.6" r="0.88" fill="#cf3a33"/><circle cx="466.5" cy="2559.7" r="0.92" fill="#d2463a"/><circle cx="386.9" cy="2553.8" r="1.46" fill="#d2463a"/><circle cx="460.7" cy="2555.1" r="1.15" fill="#d2463a"/><circle cx="430.0" cy="2552.4" r="1.42" fill="#d9604e"/><circle cx="408.5" cy="2572.6" r="0.92" fill="#cf3a33"/><circle cx="435.9" cy="2563.4" r="1.38" fill="#cf3a33"/><circle cx="444.2" cy="2561.6" r="1.04" fill="#d9604e"/><circle cx="441.2" cy="2531.7" r="1.40" fill="#d2463a"/><circle cx="441.4" cy="2539.4" r="0.97" fill="#d9604e"/><circle cx="416.2" cy="2534.0" r="1.29" fill="#cf3a33"/><circle cx="412.1" cy="2554.6" r="1.48" fill="#cf3a33"/><circle cx="432.3" cy="2547.8" r="1.24" fill="#cf3a33"/><circle cx="423.6" cy="2554.8" r="0.96" fill="#d9604e"/><circle cx="440.4" cy="2568.2" r="0.93" fill="#d9604e"/><circle cx="399.4" cy="2575.6" r="1.31" fill="#cf3a33"/><circle cx="445.7" cy="2537.3" r="0.94" fill="#d2463a"/><circle cx="426.0" cy="2528.1" r="1.06" fill="#d2463a"/></g>
<path d="M544.8,2502.0 C546.4,2499.8 547.5,2497.1 551.4,2495.4 C555.2,2493.8 562.4,2492.1 567.9,2492.1 C573.4,2492.1 579.7,2493.5 584.3,2495.4 C589.0,2497.3 593.6,2500.9 595.9,2503.7 C598.2,2506.4 598.9,2509.2 598.4,2511.9 C597.8,2514.7 594.9,2518.2 592.6,2520.1 C590.3,2522.1 586.8,2522.6 584.3,2523.4 C581.9,2524.3 579.7,2524.3 577.7,2525.1 C575.8,2525.9 574.2,2526.2 572.8,2528.4 C571.4,2530.6 569.8,2534.4 569.5,2538.3 C569.2,2542.1 572.0,2547.6 571.2,2551.5 C570.3,2555.3 567.0,2558.3 564.6,2561.4 C562.1,2564.4 558.2,2566.0 556.3,2569.6 C554.4,2573.2 553.6,2578.7 553.0,2582.8 C552.5,2586.9 554.4,2591.0 553.0,2594.3 C551.6,2597.6 547.8,2600.4 544.8,2602.6 C541.8,2604.8 537.6,2606.4 534.9,2607.5 C532.1,2608.6 530.2,2609.7 528.3,2609.2 C526.4,2608.6 525.3,2605.9 523.3,2604.2 C521.4,2602.6 516.7,2600.4 516.7,2599.3 C516.7,2598.2 521.4,2598.5 523.3,2597.6 C525.3,2596.8 527.5,2597.6 528.3,2594.3 C529.1,2591.0 528.0,2582.8 528.3,2577.9 C528.6,2572.9 529.1,2569.1 529.9,2564.7 C530.8,2560.3 531.6,2555.0 533.2,2551.5 C534.9,2547.9 538.2,2546.3 539.8,2543.2 C541.5,2540.2 542.3,2536.4 543.1,2533.3 C543.9,2530.3 544.8,2528.1 544.8,2525.1 C544.8,2522.1 543.7,2517.9 543.1,2515.2 C542.6,2512.5 541.2,2510.8 541.5,2508.6 C541.8,2506.4 543.1,2504.2 544.8,2502.0Z" fill="#c2c2c2"/>
<g><circle cx="561.7" cy="2556.8" r="1.13" fill="#d2463a"/><circle cx="559.9" cy="2563.1" r="1.17" fill="#cf3a33"/><circle cx="563.5" cy="2505.9" r="1.02" fill="#d2463a"/><circle cx="545.1" cy="2568.4" r="1.51" fill="#d9604e"/><circle cx="544.5" cy="2529.7" r="1.21" fill="#cf3a33"/><circle cx="562.0" cy="2561.3" r="1.16" fill="#d2463a"/><circle cx="532.7" cy="2605.0" r="0.87" fill="#cf3a33"/><circle cx="539.8" cy="2599.5" r="0.97" fill="#cf3a33"/><circle cx="560.7" cy="2507.7" r="1.02" fill="#cf3a33"/><circle cx="536.1" cy="2583.3" r="0.95" fill="#cf3a33"/><circle cx="588.6" cy="2509.6" r="1.45" fill="#cf3a33"/><circle cx="585.0" cy="2519.3" r="1.07" fill="#cf3a33"/><circle cx="553.5" cy="2558.0" r="1.42" fill="#cf3a33"/><circle cx="543.8" cy="2568.3" r="1.35" fill="#cf3a33"/><circle cx="549.2" cy="2558.5" r="0.86" fill="#d9604e"/><circle cx="553.3" cy="2501.3" r="1.49" fill="#cf3a33"/><circle cx="560.0" cy="2555.3" r="1.19" fill="#cf3a33"/><circle cx="550.5" cy="2551.8" r="1.35" fill="#cf3a33"/><circle cx="541.3" cy="2571.0" r="1.24" fill="#cf3a33"/><circle cx="524.7" cy="2603.0" r="1.07" fill="#cf3a33"/><circle cx="556.6" cy="2512.7" r="1.04" fill="#cf3a33"/><circle cx="543.6" cy="2560.2" r="1.50" fill="#d9604e"/><circle cx="565.5" cy="2505.3" r="1.45" fill="#d9604e"/><circle cx="543.7" cy="2576.1" r="1.43" fill="#d2463a"/><circle cx="531.1" cy="2605.2" r="1.26" fill="#d2463a"/></g>
<g><circle cx="438.9" cy="2278.7" r="1.10" fill="#c2c2c2"/><circle cx="499.7" cy="2272.5" r="1.10" fill="#c2c2c2"/><circle cx="480.0" cy="2277.6" r="1.10" fill="#c2c2c2"/><circle cx="459.1" cy="2286.6" r="1.10" fill="#c2c2c2"/><circle cx="487.5" cy="2280.8" r="1.10" fill="#c2c2c2"/><circle cx="443.8" cy="2283.4" r="1.10" fill="#c2c2c2"/><circle cx="476.7" cy="2297.2" r="1.10" fill="#c2c2c2"/><circle cx="466.1" cy="2297.8" r="1.10" fill="#c2c2c2"/><circle cx="491.4" cy="2273.9" r="1.10" fill="#c2c2c2"/><circle cx="489.6" cy="2284.5" r="1.10" fill="#c2c2c2"/><circle cx="494.3" cy="2268.7" r="1.10" fill="#c2c2c2"/><circle cx="440.7" cy="2286.3" r="1.10" fill="#c2c2c2"/><circle cx="429.2" cy="2286.2" r="1.10" fill="#c2c2c2"/><circle cx="447.2" cy="2281.5" r="1.10" fill="#c2c2c2"/><circle cx="465.5" cy="2290.2" r="1.10" fill="#c2c2c2"/><circle cx="431.6" cy="2287.3" r="1.10" fill="#c2c2c2"/><circle cx="462.2" cy="2300.9" r="1.10" fill="#c2c2c2"/><circle cx="439.5" cy="2288.1" r="1.10" fill="#c2c2c2"/><circle cx="458.1" cy="2296.1" r="1.10" fill="#c2c2c2"/><circle cx="457.3" cy="2289.1" r="1.10" fill="#c2c2c2"/><circle cx="430.8" cy="2269.0" r="1.10" fill="#c2c2c2"/><circle cx="492.2" cy="2278.9" r="1.10" fill="#c2c2c2"/><circle cx="498.5" cy="2269.9" r="1.10" fill="#c2c2c2"/><circle cx="479.8" cy="2301.8" r="1.10" fill="#c2c2c2"/><circle cx="483.1" cy="2276.5" r="1.10" fill="#c2c2c2"/><circle cx="477.0" cy="2288.1" r="1.10" fill="#c2c2c2"/><circle cx="484.7" cy="2298.1" r="1.10" fill="#c2c2c2"/><circle cx="488.3" cy="2294.9" r="1.10" fill="#c2c2c2"/><circle cx="443.3" cy="2277.9" r="1.10" fill="#c2c2c2"/><circle cx="478.1" cy="2287.2" r="1.10" fill="#c2c2c2"/><circle cx="478.7" cy="2302.5" r="1.10" fill="#c2c2c2"/><circle cx="439.8" cy="2275.1" r="1.10" fill="#c2c2c2"/><circle cx="449.7" cy="2289.6" r="1.10" fill="#c2c2c2"/><circle cx="437.5" cy="2274.2" r="1.10" fill="#c2c2c2"/><circle cx="482.9" cy="2291.2" r="1.10" fill="#c2c2c2"/><circle cx="424.4" cy="2275.7" r="1.10" fill="#c2c2c2"/><circle cx="454.9" cy="2285.4" r="1.10" fill="#c2c2c2"/><circle cx="429.8" cy="2284.3" r="1.10" fill="#c2c2c2"/><circle cx="481.8" cy="2287.5" r="1.10" fill="#c2c2c2"/><circle cx="489.7" cy="2287.6" r="1.10" fill="#c2c2c2"/><circle cx="473.6" cy="2301.0" r="1.10" fill="#c2c2c2"/><circle cx="492.2" cy="2270.6" r="1.10" fill="#c2c2c2"/><circle cx="496.7" cy="2285.9" r="1.10" fill="#c2c2c2"/><circle cx="475.0" cy="2292.5" r="1.10" fill="#c2c2c2"/><circle cx="482.1" cy="2288.5" r="1.10" fill="#c2c2c2"/><circle cx="442.5" cy="2277.6" r="1.10" fill="#c2c2c2"/><circle cx="488.7" cy="2290.5" r="1.10" fill="#c2c2c2"/><circle cx="490.6" cy="2292.7" r="1.10" fill="#c2c2c2"/><circle cx="460.2" cy="2289.3" r="1.10" fill="#c2c2c2"/><circle cx="495.2" cy="2266.5" r="1.10" fill="#c2c2c2"/><circle cx="471.1" cy="2295.7" r="1.10" fill="#c2c2c2"/><circle cx="437.2" cy="2285.7" r="1.10" fill="#c2c2c2"/><circle cx="435.3" cy="2276.0" r="1.10" fill="#c2c2c2"/><circle cx="492.9" cy="2267.7" r="1.10" fill="#c2c2c2"/><circle cx="464.6" cy="2297.6" r="1.10" fill="#c2c2c2"/><circle cx="462.0" cy="2301.9" r="1.10" fill="#c2c2c2"/><circle cx="450.1" cy="2299.0" r="1.10" fill="#c2c2c2"/><circle cx="502.3" cy="2264.0" r="1.10" fill="#c2c2c2"/><circle cx="423.2" cy="2265.3" r="1.10" fill="#c2c2c2"/><circle cx="429.7" cy="2277.0" r="1.10" fill="#c2c2c2"/><circle cx="485.0" cy="2284.2" r="1.10" fill="#c2c2c2"/><circle cx="439.0" cy="2285.5" r="1.10" fill="#c2c2c2"/><circle cx="486.4" cy="2278.9" r="1.10" fill="#c2c2c2"/><circle cx="487.5" cy="2272.5" r="1.10" fill="#c2c2c2"/><circle cx="490.4" cy="2274.0" r="1.10" fill="#c2c2c2"/><circle cx="426.8" cy="2268.6" r="1.10" fill="#c2c2c2"/><circle cx="449.1" cy="2287.6" r="1.10" fill="#c2c2c2"/><circle cx="482.8" cy="2282.3" r="1.10" fill="#c2c2c2"/><circle cx="496.3" cy="2270.9" r="1.10" fill="#c2c2c2"/><circle cx="468.9" cy="2302.3" r="1.10" fill="#c2c2c2"/><circle cx="483.0" cy="2277.2" r="1.10" fill="#c2c2c2"/><circle cx="437.8" cy="2283.3" r="1.10" fill="#c2c2c2"/><circle cx="443.5" cy="2282.0" r="1.10" fill="#c2c2c2"/><circle cx="463.0" cy="2290.7" r="1.10" fill="#c2c2c2"/><circle cx="450.7" cy="2296.0" r="1.10" fill="#c2c2c2"/><circle cx="451.6" cy="2297.6" r="1.10" fill="#c2c2c2"/><circle cx="425.1" cy="2268.3" r="1.10" fill="#c2c2c2"/><circle cx="492.8" cy="2267.7" r="1.10" fill="#c2c2c2"/><circle cx="481.1" cy="2292.2" r="1.10" fill="#c2c2c2"/><circle cx="493.5" cy="2268.3" r="1.10" fill="#c2c2c2"/><circle cx="472.2" cy="2300.2" r="1.10" fill="#c2c2c2"/><circle cx="480.7" cy="2284.2" r="1.10" fill="#c2c2c2"/><circle cx="426.7" cy="2277.8" r="1.10" fill="#c2c2c2"/><circle cx="485.8" cy="2298.5" r="1.10" fill="#c2c2c2"/><circle cx="463.1" cy="2302.5" r="1.10" fill="#c2c2c2"/><circle cx="434.9" cy="2274.7" r="1.10" fill="#c2c2c2"/><circle cx="456.2" cy="2300.7" r="1.10" fill="#c2c2c2"/><circle cx="450.5" cy="2291.8" r="1.10" fill="#c2c2c2"/><circle cx="448.2" cy="2296.6" r="1.10" fill="#c2c2c2"/><circle cx="440.5" cy="2286.6" r="1.10" fill="#c2c2c2"/><circle cx="484.4" cy="2281.4" r="1.10" fill="#c2c2c2"/><circle cx="430.8" cy="2270.5" r="1.10" fill="#c2c2c2"/><circle cx="472.9" cy="2297.8" r="1.10" fill="#c2c2c2"/><circle cx="427.4" cy="2268.8" r="1.10" fill="#c2c2c2"/><circle cx="467.8" cy="2287.2" r="1.10" fill="#c2c2c2"/><circle cx="472.0" cy="2294.1" r="1.10" fill="#c2c2c2"/><circle cx="429.4" cy="2268.9" r="1.10" fill="#c2c2c2"/><circle cx="445.0" cy="2292.5" r="1.10" fill="#c2c2c2"/><circle cx="468.0" cy="2297.7" r="1.10" fill="#c2c2c2"/><circle cx="442.7" cy="2284.0" r="1.10" fill="#c2c2c2"/><circle cx="496.9" cy="2265.2" r="1.10" fill="#c2c2c2"/><circle cx="439.5" cy="2293.9" r="1.10" fill="#c2c2c2"/><circle cx="446.0" cy="2290.2" r="1.10" fill="#c2c2c2"/><circle cx="457.7" cy="2290.4" r="1.10" fill="#c2c2c2"/><circle cx="459.3" cy="2294.8" r="1.10" fill="#c2c2c2"/><circle cx="492.4" cy="2274.2" r="1.10" fill="#c2c2c2"/><circle cx="497.4" cy="2281.2" r="1.10" fill="#c2c2c2"/><circle cx="452.8" cy="2283.4" r="1.10" fill="#c2c2c2"/><circle cx="424.6" cy="2266.6" r="1.10" fill="#c2c2c2"/><circle cx="455.3" cy="2290.0" r="1.10" fill="#c2c2c2"/><circle cx="421.6" cy="2264.0" r="1.10" fill="#c2c2c2"/><circle cx="493.9" cy="2265.8" r="1.10" fill="#c2c2c2"/><circle cx="483.6" cy="2300.2" r="1.10" fill="#c2c2c2"/><circle cx="447.7" cy="2299.9" r="1.10" fill="#c2c2c2"/><circle cx="476.1" cy="2291.5" r="1.10" fill="#c2c2c2"/><circle cx="497.4" cy="2274.4" r="1.10" fill="#c2c2c2"/><circle cx="434.1" cy="2281.9" r="1.10" fill="#c2c2c2"/><circle cx="484.4" cy="2281.7" r="1.10" fill="#c2c2c2"/><circle cx="429.8" cy="2265.3" r="1.10" fill="#c2c2c2"/><circle cx="476.3" cy="2283.5" r="1.10" fill="#c2c2c2"/><circle cx="431.7" cy="2274.5" r="1.10" fill="#c2c2c2"/><circle cx="492.1" cy="2273.3" r="1.10" fill="#c2c2c2"/><circle cx="471.3" cy="2292.9" r="1.10" fill="#c2c2c2"/><circle cx="442.1" cy="2278.8" r="1.10" fill="#c2c2c2"/><circle cx="484.5" cy="2285.6" r="1.10" fill="#c2c2c2"/><circle cx="466.3" cy="2298.7" r="1.10" fill="#c2c2c2"/><circle cx="427.0" cy="2267.5" r="1.10" fill="#c2c2c2"/><circle cx="472.9" cy="2291.0" r="1.10" fill="#c2c2c2"/><circle cx="429.6" cy="2276.6" r="1.10" fill="#c2c2c2"/><circle cx="456.4" cy="2287.2" r="1.10" fill="#c2c2c2"/><circle cx="495.5" cy="2275.2" r="1.10" fill="#c2c2c2"/><circle cx="480.9" cy="2282.6" r="1.10" fill="#c2c2c2"/><circle cx="437.2" cy="2288.3" r="1.10" fill="#c2c2c2"/><circle cx="451.7" cy="2300.8" r="1.10" fill="#c2c2c2"/><circle cx="480.6" cy="2284.6" r="1.10" fill="#c2c2c2"/><circle cx="461.0" cy="2292.9" r="1.10" fill="#c2c2c2"/><circle cx="426.1" cy="2275.2" r="1.10" fill="#c2c2c2"/><circle cx="492.1" cy="2284.0" r="1.10" fill="#c2c2c2"/><circle cx="466.5" cy="2296.2" r="1.10" fill="#c2c2c2"/><circle cx="454.9" cy="2299.8" r="1.10" fill="#c2c2c2"/></g>
<g><circle cx="469.2" cy="2338.8" r="1.10" fill="#c2c2c2"/><circle cx="446.5" cy="2336.8" r="1.10" fill="#c2c2c2"/><circle cx="426.2" cy="2339.0" r="1.10" fill="#c2c2c2"/><circle cx="433.4" cy="2335.2" r="1.10" fill="#c2c2c2"/><circle cx="432.7" cy="2348.9" r="1.10" fill="#c2c2c2"/><circle cx="440.1" cy="2339.5" r="1.10" fill="#c2c2c2"/><circle cx="445.2" cy="2343.5" r="1.10" fill="#c2c2c2"/><circle cx="454.5" cy="2335.3" r="1.10" fill="#c2c2c2"/><circle cx="445.8" cy="2334.0" r="1.10" fill="#c2c2c2"/><circle cx="432.9" cy="2331.3" r="1.10" fill="#c2c2c2"/><circle cx="435.6" cy="2346.6" r="1.10" fill="#c2c2c2"/><circle cx="448.0" cy="2343.4" r="1.10" fill="#c2c2c2"/><circle cx="427.4" cy="2328.8" r="1.10" fill="#c2c2c2"/><circle cx="429.2" cy="2328.8" r="1.10" fill="#c2c2c2"/><circle cx="469.7" cy="2335.8" r="1.10" fill="#c2c2c2"/><circle cx="426.4" cy="2347.6" r="1.10" fill="#c2c2c2"/><circle cx="424.2" cy="2330.1" r="1.10" fill="#c2c2c2"/><circle cx="456.3" cy="2341.5" r="1.10" fill="#c2c2c2"/><circle cx="454.4" cy="2342.6" r="1.10" fill="#c2c2c2"/><circle cx="429.5" cy="2347.3" r="1.10" fill="#c2c2c2"/><circle cx="425.2" cy="2328.8" r="1.10" fill="#c2c2c2"/><circle cx="453.0" cy="2334.6" r="1.10" fill="#c2c2c2"/><circle cx="458.2" cy="2335.8" r="1.10" fill="#c2c2c2"/><circle cx="466.4" cy="2332.5" r="1.10" fill="#c2c2c2"/><circle cx="452.3" cy="2335.4" r="1.10" fill="#c2c2c2"/><circle cx="473.9" cy="2336.2" r="1.10" fill="#c2c2c2"/><circle cx="460.4" cy="2339.9" r="1.10" fill="#c2c2c2"/><circle cx="425.8" cy="2342.6" r="1.10" fill="#c2c2c2"/><circle cx="424.1" cy="2330.9" r="1.10" fill="#c2c2c2"/><circle cx="468.2" cy="2338.1" r="1.10" fill="#c2c2c2"/></g>
<text x="367.6" y="2259.7" font-size="18.5" text-anchor="start" fill="#111111">Goblet cells</text>
<text x="477.5" y="2299.0" font-size="18.5" text-anchor="start" fill="#111111">Enterocytes</text>
<text x="233.4" y="2342.0" font-size="18.5" text-anchor="start" fill="#111111">Fibroblasts</text>
<text x="373.0" y="2365.3" font-size="18.5" text-anchor="start" fill="#111111">Paneth cells</text>
<text x="453.6" y="2443.8" font-size="18.5" text-anchor="start" fill="#111111">Plasma cells</text>
<text x="196.3" y="2487.3" font-size="18.5" text-anchor="start" fill="#111111">Endothelial</text>
<text x="226.5" y="2509.0" font-size="18.5" text-anchor="start" fill="#111111">cells</text>
<text x="306.1" y="2478.3" font-size="18.5" text-anchor="start" fill="#111111">Dendritic</text>
<text x="326.3" y="2500.6" font-size="18.5" text-anchor="start" fill="#111111">cells</text>
<text x="527.9" y="2527.6" font-size="18.5" text-anchor="start" fill="#111111">B cells</text>
<text x="403.2" y="2552.5" font-size="18.5" text-anchor="start" fill="#111111">T cells</text>
<line x1="840.6" y1="2184.8" x2="840.6" y2="2635.0" stroke="#111111" stroke-width="2"/>
<line x1="839.6" y1="2634.0" x2="1456.5" y2="2634.0" stroke="#111111" stroke-width="2"/>
<line x1="833.6" y1="2613.5" x2="840.6" y2="2613.5" stroke="#111111" stroke-width="1.5"/>
<text x="826.6" y="2621.9" font-size="24" text-anchor="end" fill="#111111">0</text>
<line x1="833.6" y1="2466.3" x2="840.6" y2="2466.3" stroke="#111111" stroke-width="1.5"/>
<text x="826.6" y="2474.7" font-size="24" text-anchor="end" fill="#111111">1</text>
<line x1="833.6" y1="2318.5" x2="840.6" y2="2318.5" stroke="#111111" stroke-width="1.5"/>
<text x="826.6" y="2326.9" font-size="24" text-anchor="end" fill="#111111">2</text>
<line x1="1008.3" y1="2634.0" x2="1008.3" y2="2641.5" stroke="#111111" stroke-width="1.5"/>
<text x="1024.2" y="2660.3" font-size="24" text-anchor="end" transform="rotate(-45 1024.2 2660.3)" fill="#111111">Normal</text>
<line x1="1288.2" y1="2634.0" x2="1288.2" y2="2641.5" stroke="#111111" stroke-width="1.5"/>
<text x="1308.7" y="2658.3" font-size="24" text-anchor="end" transform="rotate(-45 1308.7 2658.3)" fill="#111111">IBD</text>
<text x="1148.3" y="2164.6" font-size="32" font-weight="bold" text-anchor="middle" fill="#111111">ACSL4</text>
<text x="801.0" y="2411.0" font-size="28.3" text-anchor="middle" transform="rotate(-90 801.0 2411.0)" fill="#111111">Expression Level</text>
<line x1="882.6" y1="2613.5" x2="1134.1" y2="2613.5" stroke="#111111" stroke-width="2.6"/>
<line x1="1008.3" y1="2280.2" x2="1008.3" y2="2613.5" stroke="#111111" stroke-width="2.4"/>
<path d="M1289.30,2206.50 L1289.38,2207.00 L1289.47,2207.50 L1289.55,2208.00 L1289.64,2208.50 L1289.72,2209.00 L1289.81,2209.50 L1289.90,2210.00 L1289.98,2210.50 L1290.07,2211.00 L1290.15,2211.50 L1290.24,2212.00 L1290.32,2212.50 L1290.41,2213.00 L1290.49,2213.50 L1290.57,2214.00 L1290.66,2214.50 L1290.74,2215.00 L1290.82,2215.50 L1290.91,2216.00 L1290.99,2216.50 L1291.07,2217.00 L1291.15,2217.50 L1291.23,2218.00 L1291.31,2218.50 L1291.38,2219.00 L1291.46,2219.50 L1291.54,2220.00 L1291.62,2220.50 L1291.69,2221.00 L1291.77,2221.50 L1291.85,2222.00 L1291.92,2222.50 L1292.00,2223.00 L1292.07,2223.50 L1292.15,2224.00 L1292.22,2224.50 L1292.30,2225.00 L1292.37,2225.50 L1292.45,2226.00 L1292.52,2226.50 L1292.60,2227.00 L1292.67,2227.50 L1292.75,2228.00 L1292.82,2228.50 L1292.89,2229.00 L1292.97,2229.50 L1293.04,2230.00 L1293.12,2230.50 L1293.19,2231.00 L1293.27,2231.50 L1293.34,2232.00 L1293.41,2232.50 L1293.49,2233.00 L1293.56,2233.50 L1293.64,2234.00 L1293.72,2234.50 L1293.79,2235.00 L1293.87,2235.50 L1293.94,2236.00 L1294.02,2236.50 L1294.09,2237.00 L1294.16,2237.50 L1294.24,2238.00 L1294.31,2238.50 L1294.39,2239.00 L1294.46,2239.50 L1294.53,2240.00 L1294.61,2240.50 L1294.68,2241.00 L1294.75,2241.50 L1294.83,2242.00 L1294.90,2242.50 L1294.98,2243.00 L1295.05,2243.50 L1295.13,2244.00 L1295.20,2244.50 L1295.28,2245.00 L1295.35,2245.50 L1295.43,2246.00 L1295.50,2246.50 L1295.58,2247.00 L1295.65,2247.50 L1295.73,2248.00 L1295.81,2248.50 L1295.89,2249.00 L1295.97,2249.50 L1296.04,2250.00 L1296.12,2250.50 L1296.20,2251.00 L1296.28,2251.50 L1296.36,2252.00 L1296.45,2252.50 L1296.53,2253.00 L1296.61,2253.50 L1296.69,2254.00 L1296.78,2254.50 L1296.86,2255.00 L1296.94,2255.50 L1297.03,2256.00 L1297.11,2256.50 L1297.20,2257.00 L1297.28,2257.50 L1297.37,2258.00 L1297.45,2258.50 L1297.54,2259.00 L1297.63,2259.50 L1297.71,2260.00 L1297.80,2260.50 L1297.89,2261.00 L1297.98,2261.50 L1298.07,2262.00 L1298.16,2262.50 L1298.24,2263.00 L1298.33,2263.50 L1298.42,2264.00 L1298.51,2264.50 L1298.60,2265.00 L1298.69,2265.50 L1298.79,2266.00 L1298.88,2266.50 L1298.97,2267.00 L1299.06,2267.50 L1299.15,2268.00 L1299.24,2268.50 L1299.34,2269.00 L1299.43,2269.50 L1299.52,2270.00 L1299.62,2270.50 L1299.71,2271.00 L1299.81,2271.50 L1299.90,2272.00 L1299.99,2272.50 L1300.09,2273.00 L1300.19,2273.50 L1300.28,2274.00 L1300.38,2274.50 L1300.47,2275.00 L1300.57,2275.50 L1300.67,2276.00 L1300.77,2276.50 L1300.87,2277.00 L1300.96,2277.50 L1301.06,2278.00 L1301.16,2278.50 L1301.26,2279.00 L1301.36,2279.50 L1301.46,2280.00 L1301.56,2280.50 L1301.66,2281.00 L1301.77,2281.50 L1301.87,2282.00 L1301.97,2282.50 L1302.07,2283.00 L1302.18,2283.50 L1302.28,2284.00 L1302.39,2284.50 L1302.49,2285.00 L1302.59,2285.50 L1302.70,2286.00 L1302.81,2286.50 L1302.91,2287.00 L1303.02,2287.50 L1303.13,2288.00 L1303.24,2288.50 L1303.35,2289.00 L1303.46,2289.50 L1303.58,2290.00 L1303.69,2290.50 L1303.81,2291.00 L1303.92,2291.50 L1304.03,2292.00 L1304.15,2292.50 L1304.27,2293.00 L1304.38,2293.50 L1304.50,2294.00 L1304.62,2294.50 L1304.73,2295.00 L1304.85,2295.50 L1304.97,2296.00 L1305.08,2296.50 L1305.20,2297.00 L1305.31,2297.50 L1305.43,2298.00 L1305.55,2298.50 L1305.66,2299.00 L1305.77,2299.50 L1305.89,2300.00 L1306.00,2300.50 L1306.11,2301.00 L1306.23,2301.50 L1306.34,2302.00 L1306.45,2302.50 L1306.56,2303.00 L1306.67,2303.50 L1306.78,2304.00 L1306.89,2304.50 L1307.00,2305.00 L1307.12,2305.50 L1307.24,2306.00 L1307.36,2306.50 L1307.48,2307.00 L1307.60,2307.50 L1307.72,2308.00 L1307.84,2308.50 L1307.96,2309.00 L1308.08,2309.50 L1308.19,2310.00 L1308.31,2310.50 L1308.43,2311.00 L1308.54,2311.50 L1308.66,2312.00 L1308.77,2312.50 L1308.88,2313.00 L1308.99,2313.50 L1309.09,2314.00 L1309.19,2314.50 L1309.29,2315.00 L1309.38,2315.50 L1309.48,2316.00 L1309.56,2316.50 L1309.65,2317.00 L1309.72,2317.50 L1309.80,2318.00 L1309.87,2318.50 L1309.93,2319.00 L1309.99,2319.50 L1310.04,2320.00 L1310.09,2320.50 L1310.15,2321.00 L1310.19,2321.50 L1310.24,2322.00 L1310.29,2322.50 L1310.33,2323.00 L1310.37,2323.50 L1310.41,2324.00 L1310.45,2324.50 L1310.49,2325.00 L1310.53,2325.50 L1310.56,2326.00 L1310.60,2326.50 L1310.63,2327.00 L1310.66,2327.50 L1310.69,2328.00 L1310.72,2328.50 L1310.75,2329.00 L1310.77,2329.50 L1310.80,2330.00 L1310.82,2330.50 L1310.85,2331.00 L1310.87,2331.50 L1310.90,2332.00 L1310.92,2332.50 L1310.95,2333.00 L1310.97,2333.50 L1311.00,2334.00 L1311.02,2334.50 L1311.04,2335.00 L1311.07,2335.50 L1311.09,2336.00 L1311.11,2336.50 L1311.13,2337.00 L1311.15,2337.50 L1311.17,2338.00 L1311.19,2338.50 L1311.20,2339.00 L1311.22,2339.50 L1311.23,2340.00 L1311.25,2340.50 L1311.26,2341.00 L1311.27,2341.50 L1311.28,2342.00 L1311.29,2342.50 L1311.29,2343.00 L1311.30,2343.50 L1311.30,2344.00 L1311.30,2344.50 L1311.30,2345.00 L1311.30,2345.50 L1311.29,2346.00 L1311.28,2346.50 L1311.28,2347.00 L1311.27,2347.50 L1311.25,2348.00 L1311.24,2348.50 L1311.23,2349.00 L1311.21,2349.50 L1311.19,2350.00 L1311.17,2350.50 L1311.15,2351.00 L1311.13,2351.50 L1311.11,2352.00 L1311.08,2352.50 L1311.06,2353.00 L1311.03,2353.50 L1311.00,2354.00 L1310.98,2354.50 L1310.95,2355.00 L1310.92,2355.50 L1310.89,2356.00 L1310.85,2356.50 L1310.82,2357.00 L1310.79,2357.50 L1310.76,2358.00 L1310.72,2358.50 L1310.69,2359.00 L1310.65,2359.50 L1310.62,2360.00 L1310.58,2360.50 L1310.54,2361.00 L1310.51,2361.50 L1310.47,2362.00 L1310.43,2362.50 L1310.38,2363.00 L1310.32,2363.50 L1310.27,2364.00 L1310.21,2364.50 L1310.14,2365.00 L1310.07,2365.50 L1310.00,2366.00 L1309.92,2366.50 L1309.84,2367.00 L1309.76,2367.50 L1309.67,2368.00 L1309.58,2368.50 L1309.49,2369.00 L1309.40,2369.50 L1309.30,2370.00 L1309.21,2370.50 L1309.11,2371.00 L1309.01,2371.50 L1308.91,2372.00 L1308.80,2372.50 L1308.70,2373.00 L1308.60,2373.50 L1308.49,2374.00 L1308.39,2374.50 L1308.28,2375.00 L1308.18,2375.50 L1308.07,2376.00 L1307.97,2376.50 L1307.86,2377.00 L1307.76,2377.50 L1307.66,2378.00 L1307.56,2378.50 L1307.46,2379.00 L1307.36,2379.50 L1307.26,2380.00 L1307.15,2380.50 L1307.04,2381.00 L1306.93,2381.50 L1306.82,2382.00 L1306.70,2382.50 L1306.58,2383.00 L1306.47,2383.50 L1306.35,2384.00 L1306.23,2384.50 L1306.10,2385.00 L1305.98,2385.50 L1305.86,2386.00 L1305.74,2386.50 L1305.61,2387.00 L1305.49,2387.50 L1305.37,2388.00 L1305.25,2388.50 L1305.13,2389.00 L1305.00,2389.50 L1304.89,2390.00 L1304.77,2390.50 L1304.65,2391.00 L1304.53,2391.50 L1304.42,2392.00 L1304.31,2392.50 L1304.20,2393.00 L1304.09,2393.50 L1303.99,2394.00 L1303.89,2394.50 L1303.79,2395.00 L1303.69,2395.50 L1303.60,2396.00 L1303.51,2396.50 L1303.42,2397.00 L1303.34,2397.50 L1303.25,2398.00 L1303.17,2398.50 L1303.09,2399.00 L1303.02,2399.50 L1302.94,2400.00 L1302.86,2400.50 L1302.79,2401.00 L1302.72,2401.50 L1302.64,2402.00 L1302.57,2402.50 L1302.50,2403.00 L1302.43,2403.50 L1302.36,2404.00 L1302.29,2404.50 L1302.22,2405.00 L1302.15,2405.50 L1302.09,2406.00 L1302.02,2406.50 L1301.95,2407.00 L1301.88,2407.50 L1301.80,2408.00 L1301.73,2408.50 L1301.66,2409.00 L1301.59,2409.50 L1301.51,2410.00 L1301.44,2410.50 L1301.36,2411.00 L1301.28,2411.50 L1301.20,2412.00 L1301.12,2412.50 L1301.03,2413.00 L1300.95,2413.50 L1300.86,2414.00 L1300.76,2414.50 L1300.67,2415.00 L1300.57,2415.50 L1300.47,2416.00 L1300.37,2416.50 L1300.27,2417.00 L1300.17,2417.50 L1300.07,2418.00 L1299.97,2418.50 L1299.88,2419.00 L1299.79,2419.50 L1299.70,2420.00 L1299.61,2420.50 L1299.53,2421.00 L1299.45,2421.50 L1299.36,2422.00 L1299.28,2422.50 L1299.20,2423.00 L1299.12,2423.50 L1299.04,2424.00 L1298.97,2424.50 L1298.89,2425.00 L1298.81,2425.50 L1298.74,2426.00 L1298.66,2426.50 L1298.59,2427.00 L1298.51,2427.50 L1298.44,2428.00 L1298.36,2428.50 L1298.29,2429.00 L1298.22,2429.50 L1298.15,2430.00 L1298.07,2430.50 L1298.00,2431.00 L1297.93,2431.50 L1297.86,2432.00 L1297.78,2432.50 L1297.71,2433.00 L1297.64,2433.50 L1297.57,2434.00 L1297.50,2434.50 L1297.42,2435.00 L1297.35,2435.50 L1297.28,2436.00 L1297.20,2436.50 L1297.13,2437.00 L1297.06,2437.50 L1296.98,2438.00 L1296.91,2438.50 L1296.83,2439.00 L1296.76,2439.50 L1296.68,2440.00 L1296.61,2440.50 L1296.54,2441.00 L1296.46,2441.50 L1296.39,2442.00 L1296.31,2442.50 L1296.24,2443.00 L1296.16,2443.50 L1296.09,2444.00 L1296.02,2444.50 L1295.94,2445.00 L1295.87,2445.50 L1295.79,2446.00 L1295.72,2446.50 L1295.65,2447.00 L1295.58,2447.50 L1295.50,2448.00 L1295.43,2448.50 L1295.36,2449.00 L1295.29,2449.50 L1295.21,2450.00 L1295.14,2450.50 L1295.07,2451.00 L1295.00,2451.50 L1294.93,2452.00 L1294.86,2452.50 L1294.79,2453.00 L1294.72,2453.50 L1294.65,2454.00 L1294.59,2454.50 L1294.52,2455.00 L1294.45,2455.50 L1294.38,2456.00 L1294.31,2456.50 L1294.23,2457.00 L1294.16,2457.50 L1294.09,2458.00 L1294.02,2458.50 L1293.94,2459.00 L1293.87,2459.50 L1293.80,2460.00 L1293.72,2460.50 L1293.65,2461.00 L1293.58,2461.50 L1293.51,2462.00 L1293.44,2462.50 L1293.37,2463.00 L1293.30,2463.50 L1293.23,2464.00 L1293.16,2464.50 L1293.10,2465.00 L1293.03,2465.50 L1292.97,2466.00 L1292.91,2466.50 L1292.85,2467.00 L1292.79,2467.50 L1292.73,2468.00 L1292.68,2468.50 L1292.63,2469.00 L1292.58,2469.50 L1292.53,2470.00 L1292.49,2470.50 L1292.45,2471.00 L1292.41,2471.50 L1292.37,2472.00 L1292.34,2472.50 L1292.30,2473.00 L1292.27,2473.50 L1292.24,2474.00 L1292.21,2474.50 L1292.18,2475.00 L1292.15,2475.50 L1292.12,2476.00 L1292.10,2476.50 L1292.07,2477.00 L1292.05,2477.50 L1292.02,2478.00 L1292.00,2478.50 L1291.97,2479.00 L1291.95,2479.50 L1291.93,2480.00 L1291.91,2480.50 L1291.88,2481.00 L1291.86,2481.50 L1291.84,2482.00 L1291.82,2482.50 L1291.79,2483.00 L1291.77,2483.50 L1291.75,2484.00 L1291.73,2484.50 L1291.70,2485.00 L1291.68,2485.50 L1291.65,2486.00 L1291.63,2486.50 L1291.60,2487.00 L1291.57,2487.50 L1291.55,2488.00 L1291.52,2488.50 L1291.49,2489.00 L1291.46,2489.50 L1291.43,2490.00 L1291.39,2490.50 L1291.36,2491.00 L1291.32,2491.50 L1291.29,2492.00 L1291.25,2492.50 L1291.22,2493.00 L1291.18,2493.50 L1291.14,2494.00 L1291.10,2494.50 L1291.07,2495.00 L1291.03,2495.50 L1290.99,2496.00 L1290.95,2496.50 L1290.91,2497.00 L1290.87,2497.50 L1290.84,2498.00 L1290.80,2498.50 L1290.76,2499.00 L1290.72,2499.50 L1290.69,2500.00 L1290.65,2500.50 L1290.61,2501.00 L1290.58,2501.50 L1290.54,2502.00 L1290.51,2502.50 L1290.48,2503.00 L1290.44,2503.50 L1290.41,2504.00 L1290.38,2504.50 L1290.35,2505.00 L1290.33,2505.50 L1290.30,2506.00 L1290.27,2506.50 L1290.25,2507.00 L1290.22,2507.50 L1290.19,2508.00 L1290.17,2508.50 L1290.14,2509.00 L1290.11,2509.50 L1290.08,2510.00 L1290.06,2510.50 L1290.03,2511.00 L1290.00,2511.50 L1289.97,2512.00 L1289.95,2512.50 L1289.92,2513.00 L1289.89,2513.50 L1289.87,2514.00 L1289.84,2514.50 L1289.82,2515.00 L1289.80,2515.50 L1289.78,2516.00 L1289.75,2516.50 L1289.73,2517.00 L1289.71,2517.50 L1289.70,2518.00 L1289.68,2518.50 L1289.66,2519.00 L1289.65,2519.50 L1289.64,2520.00 L1289.63,2520.50 L1289.62,2521.00 L1289.61,2521.50 L1289.61,2522.00 L1289.60,2522.50 L1289.60,2523.00 L1289.60,2523.50 L1289.60,2524.00 L1289.61,2524.50 L1289.62,2525.00 L1289.63,2525.50 L1289.64,2526.00 L1289.66,2526.50 L1289.68,2527.00 L1289.70,2527.50 L1289.72,2528.00 L1289.74,2528.50 L1289.76,2529.00 L1289.78,2529.50 L1289.81,2530.00 L1289.83,2530.50 L1289.85,2531.00 L1289.88,2531.50 L1289.90,2532.00 L1289.92,2532.50 L1289.95,2533.00 L1289.97,2533.50 L1290.00,2534.00 L1290.02,2534.50 L1290.05,2535.00 L1290.08,2535.50 L1290.11,2536.00 L1290.14,2536.50 L1290.17,2537.00 L1290.21,2537.50 L1290.25,2538.00 L1290.29,2538.50 L1290.33,2539.00 L1290.38,2539.50 L1290.43,2540.00 L1290.48,2540.50 L1290.54,2541.00 L1290.60,2541.50 L1290.67,2542.00 L1290.77,2542.50 L1290.89,2543.00 L1291.03,2543.50 L1291.19,2544.00 L1291.36,2544.50 L1291.55,2545.00 L1291.76,2545.50 L1291.98,2546.00 L1292.21,2546.50 L1292.46,2547.00 L1292.71,2547.50 L1292.97,2548.00 L1293.24,2548.50 L1293.52,2549.00 L1293.80,2549.50 L1294.08,2550.00 L1294.37,2550.50 L1294.66,2551.00 L1294.94,2551.50 L1295.23,2552.00 L1295.51,2552.50 L1295.80,2553.00 L1296.09,2553.50 L1296.39,2554.00 L1296.70,2554.50 L1297.02,2555.00 L1297.34,2555.50 L1297.68,2556.00 L1298.03,2556.50 L1298.39,2557.00 L1298.77,2557.50 L1299.16,2558.00 L1299.57,2558.50 L1299.99,2559.00 L1300.44,2559.50 L1300.90,2560.00 L1301.38,2560.50 L1301.88,2561.00 L1302.41,2561.50 L1302.99,2562.00 L1303.63,2562.50 L1304.32,2563.00 L1305.08,2563.50 L1305.88,2564.00 L1306.72,2564.50 L1307.60,2565.00 L1308.52,2565.50 L1309.46,2566.00 L1310.43,2566.50 L1311.42,2567.00 L1312.43,2567.50 L1313.44,2568.00 L1314.46,2568.50 L1315.48,2569.00 L1316.50,2569.50 L1317.51,2570.00 L1318.50,2570.50 L1319.49,2571.00 L1320.49,2571.50 L1321.50,2572.00 L1322.53,2572.50 L1323.56,2573.00 L1324.61,2573.50 L1325.67,2574.00 L1326.74,2574.50 L1327.83,2575.00 L1328.92,2575.50 L1330.04,2576.00 L1331.16,2576.50 L1332.31,2577.00 L1333.47,2577.50 L1334.64,2578.00 L1335.83,2578.50 L1337.03,2579.00 L1338.26,2579.50 L1339.50,2580.00 L1340.76,2580.50 L1342.07,2581.00 L1343.42,2581.50 L1344.80,2582.00 L1346.21,2582.50 L1347.65,2583.00 L1349.11,2583.50 L1350.58,2584.00 L1352.07,2584.50 L1353.56,2585.00 L1355.05,2585.50 L1356.54,2586.00 L1358.02,2586.50 L1359.48,2587.00 L1360.93,2587.50 L1362.35,2588.00 L1363.77,2588.50 L1365.17,2589.00 L1366.58,2589.50 L1367.98,2590.00 L1369.37,2590.50 L1370.77,2591.00 L1372.17,2591.50 L1373.57,2592.00 L1374.97,2592.50 L1376.38,2593.00 L1377.80,2593.50 L1379.23,2594.00 L1380.67,2594.50 L1382.12,2595.00 L1383.59,2595.50 L1385.12,2596.00 L1386.70,2596.50 L1388.32,2597.00 L1389.94,2597.50 L1391.56,2598.00 L1393.15,2598.50 L1394.69,2599.00 L1396.17,2599.50 L1397.57,2600.00 L1398.86,2600.50 L1400.06,2601.00 L1401.26,2601.50 L1402.43,2602.00 L1403.58,2602.50 L1404.68,2603.00 L1405.74,2603.50 L1406.73,2604.00 L1407.65,2604.50 L1408.50,2605.00 L1409.25,2605.50 L1409.90,2606.00 L1410.49,2606.50 L1411.06,2607.00 L1411.59,2607.50 L1412.09,2608.00 L1412.52,2608.50 L1412.90,2609.00 L1413.19,2609.50 L1413.40,2610.00 L1413.54,2610.50 L1413.66,2611.00 L1413.76,2611.50 L1413.84,2612.00 L1413.92,2612.50 L1414.01,2613.00 L1414.10,2613.50 L1162.10,2613.50 L1162.19,2613.00 L1162.28,2612.50 L1162.36,2612.00 L1162.44,2611.50 L1162.54,2611.00 L1162.66,2610.50 L1162.80,2610.00 L1163.01,2609.50 L1163.30,2609.00 L1163.68,2608.50 L1164.11,2608.00 L1164.61,2607.50 L1165.14,2607.00 L1165.71,2606.50 L1166.30,2606.00 L1166.95,2605.50 L1167.70,2605.00 L1168.55,2604.50 L1169.47,2604.00 L1170.46,2603.50 L1171.52,2603.00 L1172.62,2602.50 L1173.77,2602.00 L1174.94,2601.50 L1176.14,2601.00 L1177.34,2600.50 L1178.63,2600.00 L1180.03,2599.50 L1181.51,2599.00 L1183.05,2598.50 L1184.64,2598.00 L1186.26,2597.50 L1187.88,2597.00 L1189.50,2596.50 L1191.08,2596.00 L1192.61,2595.50 L1194.08,2595.00 L1195.53,2594.50 L1196.97,2594.00 L1198.40,2593.50 L1199.82,2593.00 L1201.23,2592.50 L1202.63,2592.00 L1204.03,2591.50 L1205.43,2591.00 L1206.83,2590.50 L1208.22,2590.00 L1209.62,2589.50 L1211.03,2589.00 L1212.43,2588.50 L1213.85,2588.00 L1215.27,2587.50 L1216.72,2587.00 L1218.18,2586.50 L1219.66,2586.00 L1221.15,2585.50 L1222.64,2585.00 L1224.13,2584.50 L1225.62,2584.00 L1227.09,2583.50 L1228.55,2583.00 L1229.99,2582.50 L1231.40,2582.00 L1232.78,2581.50 L1234.13,2581.00 L1235.44,2580.50 L1236.70,2580.00 L1237.94,2579.50 L1239.17,2579.00 L1240.37,2578.50 L1241.56,2578.00 L1242.73,2577.50 L1243.89,2577.00 L1245.04,2576.50 L1246.16,2576.00 L1247.28,2575.50 L1248.37,2575.00 L1249.46,2574.50 L1250.53,2574.00 L1251.59,2573.50 L1252.64,2573.00 L1253.67,2572.50 L1254.70,2572.00 L1255.71,2571.50 L1256.71,2571.00 L1257.70,2570.50 L1258.69,2570.00 L1259.70,2569.50 L1260.72,2569.00 L1261.74,2568.50 L1262.76,2568.00 L1263.77,2567.50 L1264.78,2567.00 L1265.77,2566.50 L1266.74,2566.00 L1267.68,2565.50 L1268.60,2565.00 L1269.48,2564.50 L1270.32,2564.00 L1271.12,2563.50 L1271.88,2563.00 L1272.57,2562.50 L1273.21,2562.00 L1273.79,2561.50 L1274.32,2561.00 L1274.82,2560.50 L1275.30,2560.00 L1275.76,2559.50 L1276.21,2559.00 L1276.63,2558.50 L1277.04,2558.00 L1277.43,2557.50 L1277.81,2557.00 L1278.17,2556.50 L1278.52,2556.00 L1278.86,2555.50 L1279.18,2555.00 L1279.50,2554.50 L1279.81,2554.00 L1280.11,2553.50 L1280.40,2553.00 L1280.69,2552.50 L1280.97,2552.00 L1281.26,2551.50 L1281.54,2551.00 L1281.83,2550.50 L1282.12,2550.00 L1282.40,2549.50 L1282.68,2549.00 L1282.96,2548.50 L1283.23,2548.00 L1283.49,2547.50 L1283.74,2547.00 L1283.99,2546.50 L1284.22,2546.00 L1284.44,2545.50 L1284.65,2545.00 L1284.84,2544.50 L1285.01,2544.00 L1285.17,2543.50 L1285.31,2543.00 L1285.43,2542.50 L1285.53,2542.00 L1285.60,2541.50 L1285.66,2541.00 L1285.72,2540.50 L1285.77,2540.00 L1285.82,2539.50 L1285.87,2539.00 L1285.91,2538.50 L1285.95,2538.00 L1285.99,2537.50 L1286.03,2537.00 L1286.06,2536.50 L1286.09,2536.00 L1286.12,2535.50 L1286.15,2535.00 L1286.18,2534.50 L1286.20,2534.00 L1286.23,2533.50 L1286.25,2533.00 L1286.28,2532.50 L1286.30,2532.00 L1286.32,2531.50 L1286.35,2531.00 L1286.37,2530.50 L1286.39,2530.00 L1286.42,2529.50 L1286.44,2529.00 L1286.46,2528.50 L1286.48,2528.00 L1286.50,2527.50 L1286.52,2527.00 L1286.54,2526.50 L1286.56,2526.00 L1286.57,2525.50 L1286.58,2525.00 L1286.59,2524.50 L1286.60,2524.00 L1286.60,2523.50 L1286.60,2523.00 L1286.60,2522.50 L1286.59,2522.00 L1286.59,2521.50 L1286.58,2521.00 L1286.57,2520.50 L1286.56,2520.00 L1286.55,2519.50 L1286.54,2519.00 L1286.52,2518.50 L1286.50,2518.00 L1286.49,2517.50 L1286.47,2517.00 L1286.45,2516.50 L1286.42,2516.00 L1286.40,2515.50 L1286.38,2515.00 L1286.36,2514.50 L1286.33,2514.00 L1286.31,2513.50 L1286.28,2513.00 L1286.25,2512.50 L1286.23,2512.00 L1286.20,2511.50 L1286.17,2511.00 L1286.14,2510.50 L1286.12,2510.00 L1286.09,2509.50 L1286.06,2509.00 L1286.03,2508.50 L1286.01,2508.00 L1285.98,2507.50 L1285.95,2507.00 L1285.93,2506.50 L1285.90,2506.00 L1285.87,2505.50 L1285.85,2505.00 L1285.82,2504.50 L1285.79,2504.00 L1285.76,2503.50 L1285.72,2503.00 L1285.69,2502.50 L1285.66,2502.00 L1285.62,2501.50 L1285.59,2501.00 L1285.55,2500.50 L1285.51,2500.00 L1285.48,2499.50 L1285.44,2499.00 L1285.40,2498.50 L1285.36,2498.00 L1285.33,2497.50 L1285.29,2497.00 L1285.25,2496.50 L1285.21,2496.00 L1285.17,2495.50 L1285.13,2495.00 L1285.10,2494.50 L1285.06,2494.00 L1285.02,2493.50 L1284.98,2493.00 L1284.95,2492.50 L1284.91,2492.00 L1284.88,2491.50 L1284.84,2491.00 L1284.81,2490.50 L1284.77,2490.00 L1284.74,2489.50 L1284.71,2489.00 L1284.68,2488.50 L1284.65,2488.00 L1284.63,2487.50 L1284.60,2487.00 L1284.57,2486.50 L1284.55,2486.00 L1284.52,2485.50 L1284.50,2485.00 L1284.47,2484.50 L1284.45,2484.00 L1284.43,2483.50 L1284.41,2483.00 L1284.38,2482.50 L1284.36,2482.00 L1284.34,2481.50 L1284.32,2481.00 L1284.29,2480.50 L1284.27,2480.00 L1284.25,2479.50 L1284.23,2479.00 L1284.20,2478.50 L1284.18,2478.00 L1284.15,2477.50 L1284.13,2477.00 L1284.10,2476.50 L1284.08,2476.00 L1284.05,2475.50 L1284.02,2475.00 L1283.99,2474.50 L1283.96,2474.00 L1283.93,2473.50 L1283.90,2473.00 L1283.86,2472.50 L1283.83,2472.00 L1283.79,2471.50 L1283.75,2471.00 L1283.71,2470.50 L1283.67,2470.00 L1283.62,2469.50 L1283.57,2469.00 L1283.52,2468.50 L1283.47,2468.00 L1283.41,2467.50 L1283.35,2467.00 L1283.29,2466.50 L1283.23,2466.00 L1283.17,2465.50 L1283.10,2465.00 L1283.04,2464.50 L1282.97,2464.00 L1282.90,2463.50 L1282.83,2463.00 L1282.76,2462.50 L1282.69,2462.00 L1282.62,2461.50 L1282.55,2461.00 L1282.48,2460.50 L1282.40,2460.00 L1282.33,2459.50 L1282.26,2459.00 L1282.18,2458.50 L1282.11,2458.00 L1282.04,2457.50 L1281.97,2457.00 L1281.89,2456.50 L1281.82,2456.00 L1281.75,2455.50 L1281.68,2455.00 L1281.61,2454.50 L1281.55,2454.00 L1281.48,2453.50 L1281.41,2453.00 L1281.34,2452.50 L1281.27,2452.00 L1281.20,2451.50 L1281.13,2451.00 L1281.06,2450.50 L1280.99,2450.00 L1280.91,2449.50 L1280.84,2449.00 L1280.77,2448.50 L1280.70,2448.00 L1280.62,2447.50 L1280.55,2447.00 L1280.48,2446.50 L1280.41,2446.00 L1280.33,2445.50 L1280.26,2445.00 L1280.18,2444.50 L1280.11,2444.00 L1280.04,2443.50 L1279.96,2443.00 L1279.89,2442.50 L1279.81,2442.00 L1279.74,2441.50 L1279.66,2441.00 L1279.59,2440.50 L1279.52,2440.00 L1279.44,2439.50 L1279.37,2439.00 L1279.29,2438.50 L1279.22,2438.00 L1279.14,2437.50 L1279.07,2437.00 L1279.00,2436.50 L1278.92,2436.00 L1278.85,2435.50 L1278.78,2435.00 L1278.70,2434.50 L1278.63,2434.00 L1278.56,2433.50 L1278.49,2433.00 L1278.42,2432.50 L1278.34,2432.00 L1278.27,2431.50 L1278.20,2431.00 L1278.13,2430.50 L1278.05,2430.00 L1277.98,2429.50 L1277.91,2429.00 L1277.84,2428.50 L1277.76,2428.00 L1277.69,2427.50 L1277.61,2427.00 L1277.54,2426.50 L1277.46,2426.00 L1277.39,2425.50 L1277.31,2425.00 L1277.23,2424.50 L1277.16,2424.00 L1277.08,2423.50 L1277.00,2423.00 L1276.92,2422.50 L1276.84,2422.00 L1276.75,2421.50 L1276.67,2421.00 L1276.59,2420.50 L1276.50,2420.00 L1276.41,2419.50 L1276.32,2419.00 L1276.23,2418.50 L1276.13,2418.00 L1276.03,2417.50 L1275.93,2417.00 L1275.83,2416.50 L1275.73,2416.00 L1275.63,2415.50 L1275.53,2415.00 L1275.44,2414.50 L1275.34,2414.00 L1275.25,2413.50 L1275.17,2413.00 L1275.08,2412.50 L1275.00,2412.00 L1274.92,2411.50 L1274.84,2411.00 L1274.76,2410.50 L1274.69,2410.00 L1274.61,2409.50 L1274.54,2409.00 L1274.47,2408.50 L1274.40,2408.00 L1274.32,2407.50 L1274.25,2407.00 L1274.18,2406.50 L1274.11,2406.00 L1274.05,2405.50 L1273.98,2405.00 L1273.91,2404.50 L1273.84,2404.00 L1273.77,2403.50 L1273.70,2403.00 L1273.63,2402.50 L1273.56,2402.00 L1273.48,2401.50 L1273.41,2401.00 L1273.34,2400.50 L1273.26,2400.00 L1273.18,2399.50 L1273.11,2399.00 L1273.03,2398.50 L1272.95,2398.00 L1272.86,2397.50 L1272.78,2397.00 L1272.69,2396.50 L1272.60,2396.00 L1272.51,2395.50 L1272.41,2395.00 L1272.31,2394.50 L1272.21,2394.00 L1272.11,2393.50 L1272.00,2393.00 L1271.89,2392.50 L1271.78,2392.00 L1271.67,2391.50 L1271.55,2391.00 L1271.43,2390.50 L1271.31,2390.00 L1271.20,2389.50 L1271.07,2389.00 L1270.95,2388.50 L1270.83,2388.00 L1270.71,2387.50 L1270.59,2387.00 L1270.46,2386.50 L1270.34,2386.00 L1270.22,2385.50 L1270.10,2385.00 L1269.97,2384.50 L1269.85,2384.00 L1269.73,2383.50 L1269.62,2383.00 L1269.50,2382.50 L1269.38,2382.00 L1269.27,2381.50 L1269.16,2381.00 L1269.05,2380.50 L1268.94,2380.00 L1268.84,2379.50 L1268.74,2379.00 L1268.64,2378.50 L1268.54,2378.00 L1268.44,2377.50 L1268.34,2377.00 L1268.23,2376.50 L1268.13,2376.00 L1268.02,2375.50 L1267.92,2375.00 L1267.81,2374.50 L1267.71,2374.00 L1267.60,2373.50 L1267.50,2373.00 L1267.40,2372.50 L1267.29,2372.00 L1267.19,2371.50 L1267.09,2371.00 L1266.99,2370.50 L1266.90,2370.00 L1266.80,2369.50 L1266.71,2369.00 L1266.62,2368.50 L1266.53,2368.00 L1266.44,2367.50 L1266.36,2367.00 L1266.28,2366.50 L1266.20,2366.00 L1266.13,2365.50 L1266.06,2365.00 L1265.99,2364.50 L1265.93,2364.00 L1265.88,2363.50 L1265.82,2363.00 L1265.77,2362.50 L1265.73,2362.00 L1265.69,2361.50 L1265.66,2361.00 L1265.62,2360.50 L1265.58,2360.00 L1265.55,2359.50 L1265.51,2359.00 L1265.48,2358.50 L1265.44,2358.00 L1265.41,2357.50 L1265.38,2357.00 L1265.35,2356.50 L1265.31,2356.00 L1265.28,2355.50 L1265.25,2355.00 L1265.22,2354.50 L1265.20,2354.00 L1265.17,2353.50 L1265.14,2353.00 L1265.12,2352.50 L1265.09,2352.00 L1265.07,2351.50 L1265.05,2351.00 L1265.03,2350.50 L1265.01,2350.00 L1264.99,2349.50 L1264.97,2349.00 L1264.96,2348.50 L1264.95,2348.00 L1264.93,2347.50 L1264.92,2347.00 L1264.92,2346.50 L1264.91,2346.00 L1264.90,2345.50 L1264.90,2345.00 L1264.90,2344.50 L1264.90,2344.00 L1264.90,2343.50 L1264.91,2343.00 L1264.91,2342.50 L1264.92,2342.00 L1264.93,2341.50 L1264.94,2341.00 L1264.95,2340.50 L1264.97,2340.00 L1264.98,2339.50 L1265.00,2339.00 L1265.01,2338.50 L1265.03,2338.00 L1265.05,2337.50 L1265.07,2337.00 L1265.09,2336.50 L1265.11,2336.00 L1265.13,2335.50 L1265.16,2335.00 L1265.18,2334.50 L1265.20,2334.00 L1265.23,2333.50 L1265.25,2333.00 L1265.28,2332.50 L1265.30,2332.00 L1265.33,2331.50 L1265.35,2331.00 L1265.38,2330.50 L1265.40,2330.00 L1265.43,2329.50 L1265.45,2329.00 L1265.48,2328.50 L1265.51,2328.00 L1265.54,2327.50 L1265.57,2327.00 L1265.60,2326.50 L1265.64,2326.00 L1265.67,2325.50 L1265.71,2325.00 L1265.75,2324.50 L1265.79,2324.00 L1265.83,2323.50 L1265.87,2323.00 L1265.91,2322.50 L1265.96,2322.00 L1266.01,2321.50 L1266.05,2321.00 L1266.11,2320.50 L1266.16,2320.00 L1266.21,2319.50 L1266.27,2319.00 L1266.33,2318.50 L1266.40,2318.00 L1266.48,2317.50 L1266.55,2317.00 L1266.64,2316.50 L1266.72,2316.00 L1266.82,2315.50 L1266.91,2315.00 L1267.01,2314.50 L1267.11,2314.00 L1267.21,2313.50 L1267.32,2313.00 L1267.43,2312.50 L1267.54,2312.00 L1267.66,2311.50 L1267.77,2311.00 L1267.89,2310.50 L1268.01,2310.00 L1268.12,2309.50 L1268.24,2309.00 L1268.36,2308.50 L1268.48,2308.00 L1268.60,2307.50 L1268.72,2307.00 L1268.84,2306.50 L1268.96,2306.00 L1269.08,2305.50 L1269.20,2305.00 L1269.31,2304.50 L1269.42,2304.00 L1269.53,2303.50 L1269.64,2303.00 L1269.75,2302.50 L1269.86,2302.00 L1269.97,2301.50 L1270.09,2301.00 L1270.20,2300.50 L1270.31,2300.00 L1270.43,2299.50 L1270.54,2299.00 L1270.65,2298.50 L1270.77,2298.00 L1270.89,2297.50 L1271.00,2297.00 L1271.12,2296.50 L1271.23,2296.00 L1271.35,2295.50 L1271.47,2295.00 L1271.58,2294.50 L1271.70,2294.00 L1271.82,2293.50 L1271.93,2293.00 L1272.05,2292.50 L1272.17,2292.00 L1272.28,2291.50 L1272.39,2291.00 L1272.51,2290.50 L1272.62,2290.00 L1272.74,2289.50 L1272.85,2289.00 L1272.96,2288.50 L1273.07,2288.00 L1273.18,2287.50 L1273.29,2287.00 L1273.39,2286.50 L1273.50,2286.00 L1273.61,2285.50 L1273.71,2285.00 L1273.81,2284.50 L1273.92,2284.00 L1274.02,2283.50 L1274.13,2283.00 L1274.23,2282.50 L1274.33,2282.00 L1274.43,2281.50 L1274.54,2281.00 L1274.64,2280.50 L1274.74,2280.00 L1274.84,2279.50 L1274.94,2279.00 L1275.04,2278.50 L1275.14,2278.00 L1275.24,2277.50 L1275.33,2277.00 L1275.43,2276.50 L1275.53,2276.00 L1275.63,2275.50 L1275.73,2275.00 L1275.82,2274.50 L1275.92,2274.00 L1276.01,2273.50 L1276.11,2273.00 L1276.21,2272.50 L1276.30,2272.00 L1276.39,2271.50 L1276.49,2271.00 L1276.58,2270.50 L1276.68,2270.00 L1276.77,2269.50 L1276.86,2269.00 L1276.96,2268.50 L1277.05,2268.00 L1277.14,2267.50 L1277.23,2267.00 L1277.32,2266.50 L1277.41,2266.00 L1277.51,2265.50 L1277.60,2265.00 L1277.69,2264.50 L1277.78,2264.00 L1277.87,2263.50 L1277.96,2263.00 L1278.04,2262.50 L1278.13,2262.00 L1278.22,2261.50 L1278.31,2261.00 L1278.40,2260.50 L1278.49,2260.00 L1278.57,2259.50 L1278.66,2259.00 L1278.75,2258.50 L1278.83,2258.00 L1278.92,2257.50 L1279.00,2257.00 L1279.09,2256.50 L1279.17,2256.00 L1279.26,2255.50 L1279.34,2255.00 L1279.42,2254.50 L1279.51,2254.00 L1279.59,2253.50 L1279.67,2253.00 L1279.75,2252.50 L1279.84,2252.00 L1279.92,2251.50 L1280.00,2251.00 L1280.08,2250.50 L1280.16,2250.00 L1280.23,2249.50 L1280.31,2249.00 L1280.39,2248.50 L1280.47,2248.00 L1280.55,2247.50 L1280.62,2247.00 L1280.70,2246.50 L1280.77,2246.00 L1280.85,2245.50 L1280.92,2245.00 L1281.00,2244.50 L1281.07,2244.00 L1281.15,2243.50 L1281.22,2243.00 L1281.30,2242.50 L1281.37,2242.00 L1281.45,2241.50 L1281.52,2241.00 L1281.59,2240.50 L1281.67,2240.00 L1281.74,2239.50 L1281.81,2239.00 L1281.89,2238.50 L1281.96,2238.00 L1282.04,2237.50 L1282.11,2237.00 L1282.18,2236.50 L1282.26,2236.00 L1282.33,2235.50 L1282.41,2235.00 L1282.48,2234.50 L1282.56,2234.00 L1282.64,2233.50 L1282.71,2233.00 L1282.79,2232.50 L1282.86,2232.00 L1282.93,2231.50 L1283.01,2231.00 L1283.08,2230.50 L1283.16,2230.00 L1283.23,2229.50 L1283.31,2229.00 L1283.38,2228.50 L1283.45,2228.00 L1283.53,2227.50 L1283.60,2227.00 L1283.68,2226.50 L1283.75,2226.00 L1283.83,2225.50 L1283.90,2225.00 L1283.98,2224.50 L1284.05,2224.00 L1284.13,2223.50 L1284.20,2223.00 L1284.28,2222.50 L1284.35,2222.00 L1284.43,2221.50 L1284.51,2221.00 L1284.58,2220.50 L1284.66,2220.00 L1284.74,2219.50 L1284.82,2219.00 L1284.89,2218.50 L1284.97,2218.00 L1285.05,2217.50 L1285.13,2217.00 L1285.21,2216.50 L1285.29,2216.00 L1285.38,2215.50 L1285.46,2215.00 L1285.54,2214.50 L1285.63,2214.00 L1285.71,2213.50 L1285.79,2213.00 L1285.88,2212.50 L1285.96,2212.00 L1286.05,2211.50 L1286.13,2211.00 L1286.22,2210.50 L1286.30,2210.00 L1286.39,2209.50 L1286.48,2209.00 L1286.56,2208.50 L1286.65,2208.00 L1286.73,2207.50 L1286.82,2207.00 L1286.90,2206.50Z" fill="#ee2a27" stroke="#222" stroke-width="1.8" stroke-linejoin="round"/>
<rect x="1273.4" y="2401.8" width="28.6" height="211.7" fill="none" stroke="#222" stroke-width="1.8"/>
<line x1="1287.9" y1="2206.8" x2="1287.9" y2="2401.8" stroke="#111111" stroke-width="1.5"/>
<line x1="1273.4" y1="2613.5" x2="1302.0" y2="2613.5" stroke="#111111" stroke-width="2.5"/>
</svg></body></html>
